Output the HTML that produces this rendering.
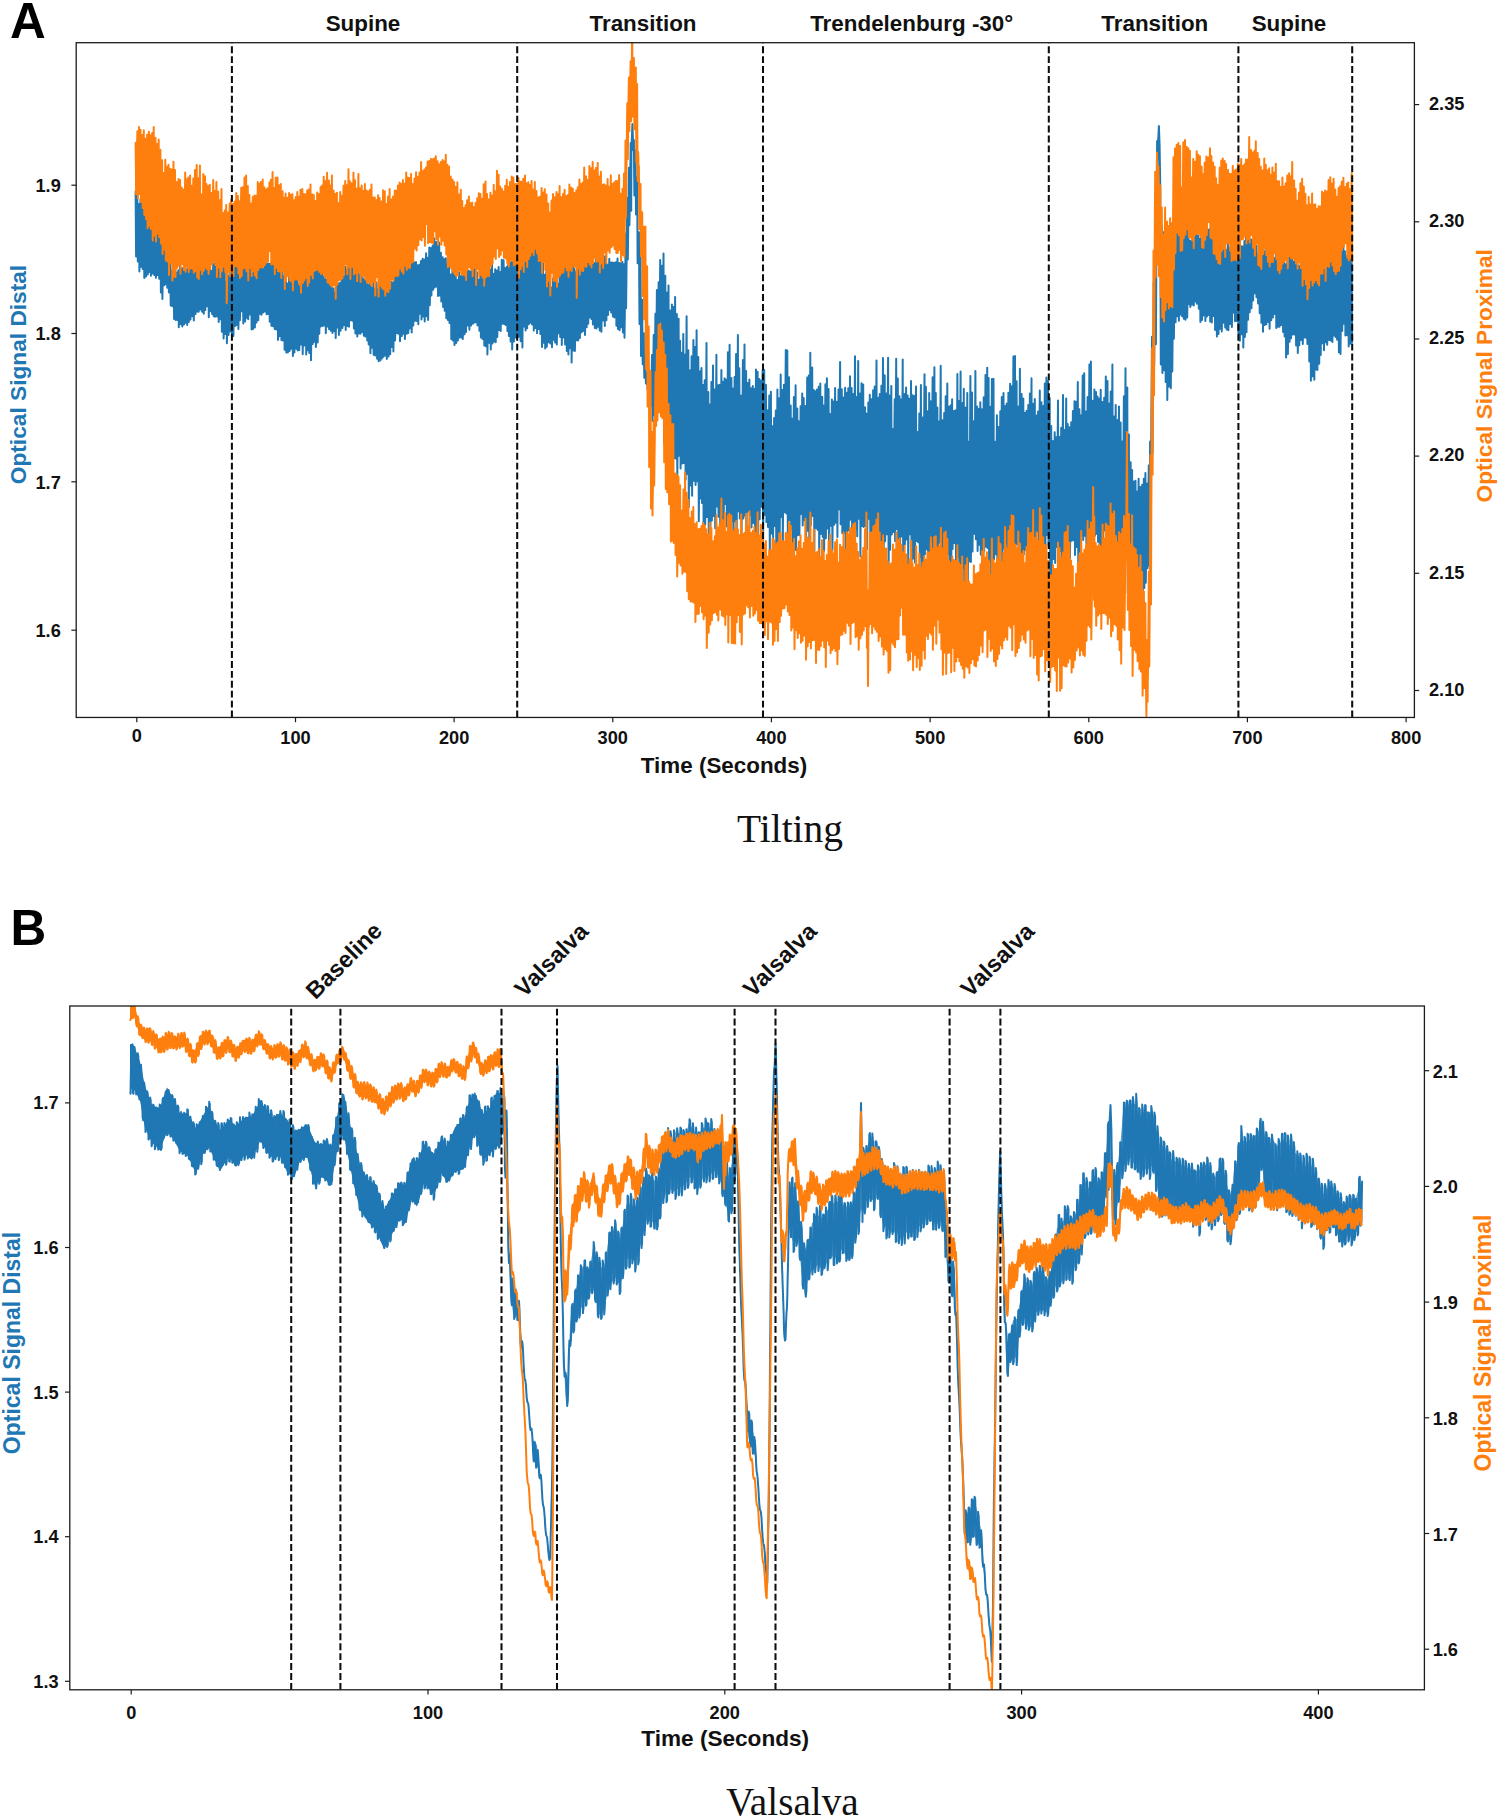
<!DOCTYPE html>
<html lang="en"><head><meta charset="utf-8"><title>Optical signals: Tilting and Valsalva</title>
<style>html,body{margin:0;padding:0;background:#fff}svg{display:block}</style></head>
<body>
<svg width="1500" height="1820" viewBox="0 0 1500 1820">
<defs>
<clipPath id="ca"><rect x="76.2" y="42.7" width="1338.2" height="674.75"/></clipPath>
<clipPath id="cb"><rect x="69.8" y="1006.0" width="1354.6000000000001" height="683.8"/></clipPath>
</defs>
<rect width="1500" height="1820" fill="#fff"/>
<g clip-path="url(#ca)" fill="none" stroke-linejoin="round" stroke-linecap="round">
<path stroke="#1f77b4" stroke-width="2.0" d="M135.6 191.2L136.1 256.4L137.3 194.3L137.8 261.4L138.9 204L139.4 271.4L140.5 199.3L140.7 233.4L141 266.8L141.3 249.3L141.6 232.4L141.9 215.8L142.2 199.8L142.4 234.9L142.7 269.1L142.9 253.6L143.2 238.4L143.5 223.7L143.8 209.7L144 244.5L144.3 278.1L145.5 217.1L146 276.4L147.3 217.7L147.8 274.5L148.8 224L149.3 272L150.4 222.5L150.9 275.7L152.1 223.4L152.6 273.5L153.8 227.1L154.3 275.1L155.4 229L155.9 277.8L157 226.7L157.5 275L158.7 233.8L159.2 278.7L160.4 238.9L160.7 264.3L160.9 292.4L161.1 282.2L161.4 270.8L161.6 257.9L161.9 243.7L162.4 298.9L162.6 285.2L162.9 272.8L163.1 261.8L163.4 252.1L163.6 243.8L164.1 285.2L165.1 246.6L165.6 284.2L166.8 254.2L167.3 287.7L167.6 280.1L167.9 272.7L168.2 265.9L168.4 258.9L168.7 275.3L168.9 292.5L169.2 287L169.5 281.2L169.7 275L170 268.5L170.2 261.5L170.5 283.1L170.7 305.5L171 297.5L171.3 289.1L171.5 280.2L171.8 270.8L172 288.3L172.3 306.3L173.6 267.1L174.1 319.1L175.2 266.9L175.7 320L176.8 272.7L177.3 319.9L178.3 270.2L178.8 327.3L180.1 263.4L180.6 324.3L181.8 268.4L182.3 326.4L183.5 267.4L184 324.5L185 267.7L185.5 322.8L186.7 269.8L187.2 325.1L188.3 267.2L188.8 322L190 269.8L190.5 319.5L191.8 267.4L192.3 316.3L193.3 265.2L193.8 320.5L195 268.9L195.5 314.1L196.7 268.4L197.2 311.5L198.3 268.2L198.7 311.8L199.9 269.8L200.4 309.5L201.6 268.7L202.1 311.7L203.3 268L203.8 313.7L204.8 264.1L205.3 310.1L206.6 260.4L207.1 306.2L208.3 261.5L208.8 317.2L209.7 258.7L210.2 311.3L211.6 270.8L212.1 314.1L213.2 264.3L213.7 316.2L214.7 260.8L215.2 316.8L216.6 265.2L217.1 316.5L218.2 265.5L218.7 322.1L219.7 265.3L220.1 319.3L221.4 268.9L221.9 331.7L223.1 258.3L223.6 338.4L224.7 266.9L225.2 334L225.4 320.3L225.7 308.6L225.9 298.3L226.2 289.5L226.4 282.1L226.7 314.7L226.9 343.3L227.2 329.7L227.4 314.3L227.7 296.3L228 276.1L228.2 303.7L228.5 334.9L229.7 267.1L230.2 331.5L231.4 263.5L231.9 333.4L232.9 266.1L233.4 335.9L234.6 264.7L235.1 326.1L236.2 263.4L236.7 325L237.9 261.5L238.4 329L239.5 264.8L239.9 320.3L241.2 269.5L241.6 311.2L242.8 267.2L243.3 323.4L244.6 265.9L245.1 321.5L246.2 266.3L246.7 317.7L247.7 267.3L248.2 319.3L249.4 264.7L249.9 314.5L251.2 265.4L251.6 329.6L252.6 265L253.1 328.9L254.4 260.3L254.9 327.4L256 264.8L256.5 322.5L257.8 265.1L258.3 320.3L259.4 266.6L259.9 313.7L261 262.6L261.5 314.7L262.6 264.7L263.1 312.6L264.3 263.8L264.8 311.6L266.1 262.4L266.6 314.3L267.6 263.7L268.1 314L269.2 263.7L269.7 321.8L270.9 263.3L271.4 325.7L272.5 263.7L273 326.3L274.2 258.3L274.7 328.9L275.8 261.2L276.3 329.4L277.5 269.8L278 339.9L279.1 268.2L279.6 336.2L280.9 264.9L281.4 339.9L282.5 268.1L283 340.6L284.1 276.1L284.6 349.7L285.8 275.1L286.3 352.5L287.4 283.5L287.9 352.5L289.1 274.9L289.6 351.1L290.7 277.8L291.2 348.8L292.4 276.4L292.9 355.9L293.9 279.5L294.4 352.4L295.7 273.1L296.2 348.8L297.2 279.7L297.7 350.5L298.8 283.8L299.3 350L300.6 275.1L301.1 344.5L302.2 278.5L302.7 354.3L303.9 280.4L304.4 345.6L305.7 278.7L306.2 354.6L307.1 278.5L307.6 350.3L308.8 276.5L309.3 353L310.5 263.6L311 360.2L312.2 261.4L312.7 344L313.8 272.4L314.3 341.7L315.4 258.3L315.9 347L317.2 267.6L317.7 342.4L318.8 269.2L319.3 333.7L320.3 273.5L320.8 326.6L322 272.4L322.5 325.9L323.7 276.8L324.2 325.6L325.3 279.2L325.8 333.2L327 279.7L327.5 326.5L328.6 281.9L329.1 329.3L330.4 285.6L330.9 330.8L332 284.6L332.5 333.1L333.6 288.3L334.1 330.9L335.2 292.6L335.7 337.9L336.9 284.7L337.4 327.4L338.4 283.5L338.9 334.9L340.1 282.8L340.6 330.8L341.9 272.6L342.4 327.9L343.3 275.6L343.8 325.2L345.2 266.8L345.7 330.1L346.7 269.4L347.2 326L348.5 261L349 326.7L350 265.9L350.5 320.2L351.8 259.9L352.3 320.8L353.4 268.5L353.9 328.5L354.9 273.2L355.4 333.6L356.8 266.6L357.3 336.4L358.5 273.2L359 333.6L360 275.2L360.5 333.8L361.6 274.9L362.1 331.9L363.3 278.6L363.8 335.7L364.9 280.1L365.4 336.5L366.7 281.5L367.2 340.5L368.2 284.5L368.7 344.4L369.9 283.2L370.4 353.3L371.5 280L372 347.8L373.1 283.1L373.6 354.7L374.7 288.5L375.2 355.4L376.6 282.6L377.1 358.7L378.1 289.3L378.6 361.3L379.9 285.4L380.4 360.5L381.5 287.4L381.9 358.4L383 287.9L383.5 356.8L384.7 285.6L385.2 355.5L386.4 278.7L386.8 359.1L388.1 289.9L388.5 356.5L389.7 285.7L390.2 354.3L391.3 281.8L391.8 346.9L392.9 282.6L393.4 351.5L394.6 273.3L395.1 340.6L396.4 273.4L396.9 333L397.9 263.2L398.4 333.8L399.5 259.3L400 341.3L401.3 267.8L401.8 335.9L403 265.3L403.5 333.7L404.4 260.7L404.9 339L406.2 265.5L406.7 333.7L407.8 267.8L408.3 333L409.4 268.1L409.8 328.5L411.2 257.7L411.5 294.9L411.7 332.6L412 312.3L412.3 297L412.5 279.4L412.8 262L413.3 325.6L414.5 262.4L415 320.7L416 262.1L416.5 321L417.8 265.2L418.3 324.3L419.4 264.7L419.9 313.8L421 261L421.5 319.6L422.6 258.8L423.1 316.4L424.2 259.6L424.7 321.6L426.1 253.3L426.6 316.3L427.6 257.8L427.9 289.3L428.1 319.9L428.3 304.7L428.6 289.8L428.8 275.4L429.1 261.3L429.3 247.6L429.6 276.9L429.8 305.2L430.1 290.1L430.4 275.6L430.7 261.5L430.9 248L431.2 272.1L431.4 295.4L431.7 282.2L432 269.6L432.3 257.4L432.6 245.8L432.8 268.1L433.1 289.7L434.2 238.5L434.7 287.5L436 241.8L436.2 263.8L436.4 286.5L436.7 276.7L437 266.6L437.3 256.1L437.5 245.4L437.8 270.4L438 296L438.3 283.3L438.6 270.1L438.9 256.6L439.2 242.6L439.4 268.7L439.7 295.4L440 285.2L440.3 274.5L440.6 263.7L440.9 252.7L441.3 301.5L442.6 257.3L443.1 307.1L444.2 259L444.7 310.7L445.8 258.2L446.3 318.2L447.4 264.6L447.9 320L449 264.8L449.5 323L450.8 274.4L451.1 306.7L451.3 339.2L451.6 321.9L451.9 304.4L452.2 286.8L452.5 269L452.7 304.6L453 340.4L453.2 322.5L453.5 304.2L453.8 285.6L454 266.6L454.3 305.5L454.5 345L455.7 268L456.2 343.1L457.4 280L457.9 340.5L459.1 272.3L459.6 337.6L460.7 276.2L461.2 337.5L462.3 271.8L462.8 339L464.1 274.4L464.6 334.2L465.5 272.5L466 332.1L467.3 270.3L467.8 325.5L468.9 270.8L469.4 329.7L470.6 271.4L471.1 325.5L472.4 268.8L472.9 323.8L474 268.1L474.5 322.4L475.4 272.1L475.9 322.3L477 272.2L477.5 325.4L478.9 279.5L479.4 330.8L480.4 275.7L480.9 337.5L482.1 270.9L482.6 339L483.8 277.2L484.3 345.5L485.3 277.7L485.8 346.2L486.9 269.8L487.4 354.4L488.7 276.9L489 309.8L489.2 342.8L489.5 324.6L489.8 306.3L490.1 287.9L490.4 269.5L490.6 309.4L490.8 349.5L491.1 328.2L491.4 306.8L491.7 285.3L492 263.7L492.2 309.5L492.5 343.5L493.7 273.8L494.1 341.4L495.2 269.2L495.7 342.2L496.8 270.5L497.3 336.9L498.6 267L499.1 330L500.2 272.1L500.7 331.1L501.8 259.8L502.3 323.8L503.6 260.3L504.1 323.9L505.2 267.9L505.7 325.1L506.9 266.7L507.4 331.1L507.6 315.2L507.9 298.9L508.2 274.4L508.4 254.9L508.7 295L508.9 335.9L510.1 262.8L510.6 341.6L511.7 259.4L512.2 349.5L513.4 261.9L513.9 341.5L515.1 254.4L515.6 337.4L516.7 257.8L517.2 337.9L518.4 265.7L518.9 336.7L520.1 267.5L520.6 341.3L521.9 265.1L522.4 347.5L523.2 258.2L523.7 326.8L525.1 262.4L525.6 330.6L526.6 254L527.1 328.3L528.3 246.8L528.8 324.3L529.8 249.6L530.3 322.7L531.6 249.2L532.1 324.4L533.3 248.6L533.8 330.5L534.9 246.7L535.4 327.9L536.6 249.7L537.1 333.2L538.2 255.7L538.7 329L539.9 256.1L540.4 334.1L541.5 262.3L542 347.1L543 262.8L543.5 342.8L544.7 274.8L545.2 348.6L546.3 272L546.8 346.7L547.8 279L548.3 342.2L549.7 273.9L550.2 343.4L551.5 287.6L552 347.3L553.1 278.6L553.5 339.8L554.6 275.5L555.1 342.4L556.3 277.8L556.8 344.6L558.1 283.7L558.6 333.2L559.7 273.8L560.2 336.9L561.3 263.1L561.8 345.1L562.9 271.5L563.4 337.6L564.6 268L565.1 344.4L566.3 266.6L566.8 350.9L567.9 266.5L568.4 354.4L569.6 263.3L570.1 348.2L571.1 267.3L571.6 362.4L572.9 260.1L573.4 350.6L574.4 269.1L574.9 351.1L576.2 272.1L576.7 340.2L577.7 269.4L578.2 340.6L578.4 326.1L578.7 311.1L578.9 297L579.2 283.3L579.4 269.9L579.9 338.1L581.1 260.7L581.6 332.2L582.6 260.7L583.1 331L584.5 262.5L585 334.9L586.2 263.8L586.7 327.3L587.7 256.1L588.2 323.8L589.4 258.8L589.9 317.4L591 260.4L591.5 319.1L592.4 259.7L592.9 324.5L594.3 263L594.8 328L595.9 258.8L596.4 328.4L597.6 260.4L598.1 326.8L599.2 258.6L599.7 330.6L600.9 254.4L601.4 331.7L602.5 253.8L603 320.4L604.3 256.4L604.8 326L605.9 256L606.4 320.2L607.5 264.5L608 314.9L609.3 258.8L609.8 310.1L610.8 262.4L611.2 312.6L612.4 262.5L612.9 316.6L614 262.8L614.4 317.5L615.9 262.2L616.4 325.8L617.5 258.4L618 329L619.1 262.9L619.6 330.3L620.8 263.3L621.3 327.3L622.4 262.1L622.9 332.5L624 264.3L624.3 300.6L624.5 337.8L624.8 315.2L625.1 290.9L625.4 262.6L625.6 233.5L625.9 270.9L626.1 308.2L626.4 279.2L626.7 251L627 223.6L627.3 198.1L627.5 230L627.8 259.5L628.1 236.2L628.4 213.2L628.7 190.4L629 167.8L629.2 195.4L629.4 225.2L629.7 208.2L630 191.2L630.2 174.9L630.5 158.8L630.7 143L631 177.2L631.2 210.8L631.4 150L632.4 124L633.4 150L633.6 150.9L633.9 140.1L634.1 168L634.4 195.4L634.7 183.9L634.9 172.4L635.2 161.2L635.5 150.2L635.7 182.4L636 214.4L636.3 204.5L636.6 195.8L636.9 186.4L637.1 177.3L637.4 218.6L637.6 263.2L637.9 261.4L638.2 257.8L638.4 251.9L638.7 242.6L639 232.3L639.2 277.5L639.5 324L639.7 306.8L640 288.8L640.3 271.9L640.5 255.5L640.8 307.9L641 355.9L641.3 338.3L641.6 323.2L641.9 310.4L642.2 299.7L642.4 333.6L642.7 364.2L642.9 353.3L643.2 344L643.5 337.2L643.8 333.3L644 358.1L644.3 377.7L644.5 371.2L644.8 365.9L645.1 361.7L645.4 358.7L645.6 372.1L645.9 383.4L646.1 381L646.3 379.4L646.6 377.6L646.8 375.4L647.1 372.8L647.3 380.8L647.6 389.6L647.8 387.5L648.1 385.2L648.3 382.5L648.6 379.5L648.8 376.2L649.1 387.3L649.3 399.3L649.6 394.5L649.8 389.4L650.1 383.8L650.4 377.7L650.9 405.8L651.2 397.2L651.4 385.9L651.7 371.8L652 355L652.3 386.6L652.5 421.1L652.8 402.1L653.1 381.4L653.4 359L653.7 335L653.9 373.5L654.2 415.3L654.5 393.1L654.8 368.7L655.1 342.3L655.4 313.7L655.6 356.2L655.9 401.5L656.1 375.7L656.4 348.6L656.6 320L656.9 290L657.1 338.1L657.4 388.7L657.6 369.2L657.9 348.9L658.1 327.6L658.4 305.4L658.6 282.3L659.1 399.9L660.2 260.1L660.7 411.9L662 265.7L662.5 408.4L662.8 369.3L663 330.5L663.3 293.1L663.5 253.4L663.8 345.8L664 442.7L664.3 412.8L664.5 381.2L664.8 347.8L665 312.5L665.3 275.7L665.5 366L665.8 456.5L666 423.8L666.3 391.1L666.5 358.2L666.8 325.4L667 292.4L667.3 375.3L667.5 459L667.8 416.2L668 373L668.3 329.5L668.5 285.6L668.8 369.4L669 454L669.3 418.7L669.6 383L669.9 346.9L670.2 310.4L670.6 458.1L671.9 304.5L672.4 494L673.5 306.9L674 458L675.1 297.1L675.6 458.6L676.8 314L677.3 477.3L678.6 318.7L679.1 455.7L680.1 340.7L680.6 468.6L681.7 352.8L682.2 463.6L683.3 333.9L683.8 462.9L685.1 354.5L685.6 479.5L686.6 316.2L687.1 474.1L687.4 439.4L687.7 405.7L688 376.6L688.3 350.3L688.5 431.6L688.8 507.2L690.1 370.3L690.4 425.8L690.6 485.4L691.6 356.3L692.1 495.7L693.4 340L693.9 480.7L695.1 347L695.6 484.9L696.6 330.3L697.1 481.3L698.3 356.9L698.8 521.2L700.1 371.2L700.3 434.8L700.6 498.5L700.8 466.1L701 433.5L701.3 400.8L701.5 368L701.8 435.4L702 503L702.3 473.7L702.6 444.3L702.9 414.7L703.2 385L703.4 461.1L703.6 537.4L703.9 498.4L704.2 459.2L704.5 419.8L704.7 380.3L705 452.4L705.2 524.7L706.5 343.1L707 516.9L707.3 489.4L707.5 462.7L707.8 437.9L708 414.3L708.3 392L708.5 468.5L708.8 541.6L709 510.1L709.3 476.6L709.6 441.4L709.9 404.4L710.1 468.1L710.4 534.5L711.4 382.1L711.9 520.6L713 365.4L713.5 516L714.7 389.5L715.2 528.2L716.4 354.7L716.9 506.5L718 385.2L718.5 516.8L719.7 384.7L720.2 523.7L721.4 369.9L721.9 546.6L723 381.7L723.5 552.7L724.6 378.2L725.1 503.9L726.3 379.8L726.8 526.4L727.9 352.2L728.4 543.7L729.6 344.8L730.1 526.1L731.4 378L731.9 521.2L732.9 388.6L733.4 550.4L734.6 376.9L735 521.3L736.1 354.1L736.6 549.7L737.9 335.1L738.4 511.2L739.3 368.3L739.8 518.4L741 395.4L741.5 539.1L742.9 360.1L743.4 518.4L744.5 344.5L745 515.6L746.1 370.9L746.6 527.2L747.6 383.1L748.1 511.5L749.4 379.6L749.9 515.2L751 388.2L751.5 527.6L752.8 386.1L753.2 523L754.5 389L755 531.9L756 369.4L756.5 543.8L757.6 371.7L758.1 543.5L759.2 378.9L759.7 519.3L760.9 380.6L761.4 506.8L762.6 370.6L763.1 542.2L764.2 370.1L764.6 514.9L764.9 487L765.2 460.1L765.4 434.4L765.7 409.3L765.9 384.8L766.2 454.1L766.4 521.9L766.7 492.9L766.9 464.6L767.2 437.1L767.5 410.3L767.7 469.3L768 526.9L768.2 499.8L768.5 473.6L768.8 448.1L769 423.2L769.3 395.4L769.8 554.5L770.9 391.8L771.4 533.4L771.7 501.5L772 473L772.3 447.7L772.6 426.2L772.8 485.9L773.1 538.4L773.3 513.2L773.6 484.7L773.9 452.9L774.1 417.9L774.4 468.9L774.6 526.1L775.8 410.6L776.3 557.2L777.4 389.4L777.9 554.9L779.1 398.3L779.6 554.9L780.7 374.5L781.2 517L782.3 389.9L782.8 549.9L783.9 384.8L784.4 512.3L785.8 350L786.3 513.6L787.3 350.6L787.8 536.2L789 377.2L789.5 519.9L789.8 495L790 470.3L790.2 446.1L790.5 423.6L790.7 405.4L791 469.9L791.2 529.2L791.5 499.3L791.7 472.2L791.9 448L792.2 418.7L792.4 479.2L792.7 545.5L792.9 518.9L793.1 490L793.4 459L793.6 426.5L793.9 397.1L794.4 548.8L795.6 385.2L796.1 550.2L796.4 506.9L796.7 468.8L797 436L797.3 408.6L797.5 475.9L797.8 535.2L798.1 514.4L798.3 487.6L798.6 456.5L798.9 421.3L799.1 474.3L799.4 535.1L799.6 509.1L799.9 483.7L800.1 458.1L800.4 432.3L800.6 406.3L801.1 513.9L802.2 393.4L802.7 525.4L803.7 398.1L804.2 520.1L805.4 406L805.9 558.6L807.2 377.5L807.7 530.7L808.8 375.6L809.3 538.5L810.3 352.8L810.8 525.5L812.2 367.4L812.7 516L813.8 390.1L814.3 557.3L815.5 391.2L816 528L817 389.4L817.5 529.7L818.7 386.8L819.2 564.6L820.3 383.6L820.8 533.9L821 504.2L821.3 474.6L821.6 447L821.9 421.2L822.2 396.8L822.5 468.4L822.7 537.1L823.6 405.5L823.9 477.1L824.1 551.1L825.4 384.3L825.9 538.2L826.9 378.3L827.4 528.4L828.6 389.1L829.1 566.7L830.1 414L830.6 525.7L831.9 399.6L832.4 551.1L833.6 401.6L834.1 524.7L835.1 387.9L835.6 522.8L836.9 401.8L837.4 536.9L838.5 389.6L839 509.3L840.1 362L840.6 524.2L841.8 389.3L842.3 533.3L843.4 397.4L843.9 532.4L845.1 387.7L845.6 549.9L846.7 392.7L847.2 546.7L848.3 388.2L848.8 530.2L850 376.2L850.5 519.8L851.6 388.1L852.1 537.5L853.2 394L853.7 547.7L855 356.3L855.5 529.7L856.7 397.1L857.2 536.3L858.2 361.1L858.7 518.8L860 393.4L860.4 556.5L861.5 383.2L862 526L863.2 384.5L863.7 527L865 407.3L865.5 526L865.7 495.4L866 466.4L866.2 439.1L866.5 413.5L866.8 483.1L867 549.1L867.3 523.3L867.5 495.7L867.8 466.3L868.1 435.3L868.3 402.6L868.6 458.6L868.8 518.7L869.8 394.7L870.3 531.5L871.5 399.3L872 554.4L873.1 390.2L873.6 530.8L874.7 386.6L875.2 561.7L876.5 360.4L877 572.4L878.1 397.7L878.6 538L879.8 394.1L880.3 566.7L881.4 385.8L881.9 569.2L883 358.1L883.5 579.9L884.7 375.2L885.2 541.3L886.4 393.5L886.8 534.2L888.1 357.7L888.6 569.7L889.6 395.6L890.1 549.8L891.3 386L891.5 461.6L891.8 534.4L892 504.4L892.3 476.8L892.6 451.7L892.8 429.1L893.1 482.9L893.3 532.1L893.6 508.7L893.8 483.6L894.1 456.8L894.4 428.3L894.7 399.2L895.1 541.3L896.2 358.8L896.7 529.1L897.8 378.5L898.2 545.6L899.5 396.2L900 557L901.3 399.5L901.8 536.3L902.7 359.6L903.2 579.9L904.4 393.9L904.9 544.4L906.1 387.6L906.6 539.6L907.7 395.6L908.2 568.9L909.5 398.8L910 534.3L911 381.1L911.5 565.2L912.7 395.3L913.2 558.4L914.4 396L914.9 562.4L916 386.5L916.2 463.5L916.5 541L916.7 514.5L917 490.3L917.2 468.5L917.5 449L917.7 431.9L918.2 542.3L918.5 514L918.8 483.1L919 449.5L919.3 413.4L919.5 481.9L919.8 556.9L920.9 384.9L921.4 576.5L922.5 417.6L923 578.7L924.5 374.2L924.9 554.4L925.9 386.7L926.4 549.2L927.6 411.3L928.1 588.6L929.2 393.1L929.7 558.8L930.9 401.3L931.4 541.7L932.6 377.3L933 552.1L934.4 367.2L934.9 539.3L935.8 393L936.3 590.1L937.4 407.4L937.9 576.5L939.1 421.6L939.6 542.5L940.7 365.7L941.2 566.3L942.5 420.2L943 553.5L944.2 412.9L944.7 544.7L945.7 396.3L946.2 552.6L947.3 383.4L947.8 554.1L949 406.5L949.5 591.9L950.8 405.2L951.3 563.9L952.1 399.2L952.6 549L954 411L954.5 543L955.6 410.2L956.1 592.6L957.4 374.1L957.9 557.3L958.9 401L959.4 586.1L960.6 371.6L961.1 593.2L962.1 402.9L962.6 568.2L963.8 388.7L964.3 588.2L965.7 407.4L966.2 571.6L967.3 392.9L967.5 494.9L967.8 593.8L968 551L968.3 511.4L968.6 475L968.8 441.8L969.1 503.5L969.3 561.2L969.6 520.1L969.9 475.5L970.1 427.5L970.4 376.1L970.7 466.7L970.9 562.1L972 392.5L972.5 551.6L973.8 421.2L974.3 533.8L975.4 370.9L975.9 539.2L977.1 406.5L977.6 550.9L978.7 409.1L979.2 544.8L980.3 402.2L980.8 554.7L982 409.2L982.5 553.8L983.7 397.3L984.2 551.3L985.5 375.1L986 546.8L987.2 367.7L987.6 547.9L988.6 378L989.1 560.9L990.2 406.8L990.7 587.2L991.9 379.1L992.4 572.8L993.5 378.8L994 559.3L994.3 526.1L994.6 495.3L994.9 467.4L995.2 441.8L995.4 500L995.7 554.3L995.9 530.3L996.2 504.6L996.4 476.4L996.7 446.6L996.9 415.3L997.1 489.9L997.4 568.7L998.5 427L999 560.1L1000.3 411.2L1000.7 543.6L1001.8 396.9L1002.3 582.4L1003.5 392.9L1003.8 469.7L1004 548.4L1004.3 514.1L1004.6 479L1004.9 442.9L1005.1 406.1L1005.4 474L1005.6 543.4L1005.9 509.6L1006.2 475L1006.5 439.6L1006.7 403.5L1007 477.2L1007.2 552.4L1007.5 513.2L1007.8 473.1L1008.1 432.6L1008.4 392.7L1008.9 544.7L1010.1 383.7L1010.6 566.2L1011.7 386.2L1012.2 551.6L1013.4 356.5L1013.9 550.3L1015 356L1015.5 550L1016.6 381.3L1017.1 543.7L1018.4 406.5L1018.9 576.5L1019.9 368.8L1020.4 580.6L1021.6 394.1L1021.8 489.5L1022.1 580L1022.4 532.6L1022.7 488.4L1023 447.4L1023.3 398.6L1023.5 474.5L1023.8 554.5L1024 520.8L1024.3 485.4L1024.5 448.5L1024.8 412.8L1025.3 549.8L1026.6 410.7L1027.1 573.6L1028.3 405L1028.8 536L1029.9 393.6L1030.4 574.2L1031.5 378.2L1032 579.1L1033.2 403.7L1033.7 579.3L1034.8 399L1035.3 577.9L1036.5 415.4L1037 531.5L1038.1 411.4L1038.6 549L1039.8 390.4L1040.3 574.8L1041.4 402.3L1041.8 561.6L1043.1 406.1L1043.6 543.4L1044.8 383.6L1045.3 565.6L1046.4 377.5L1046.9 534.9L1048 381.1L1048.5 545.3L1049.7 398L1050.2 581.3L1051.2 426L1051.7 578.6L1053 441L1053.5 559.1L1054.7 432.3L1055.2 563L1056.3 437.2L1056.8 547L1058 400.5L1058.5 554.4L1059.5 436.9L1060 551L1061.2 427.7L1061.7 565.2L1063 395L1063.4 580.5L1064.6 430.1L1065.1 547.4L1066.2 398.6L1066.7 568L1067.7 423.9L1068.2 553L1069.5 427.2L1070 558.3L1071.2 422.3L1071.7 540.7L1072.9 411.1L1073.4 540.2L1074.5 401.2L1075 555L1076 401.8L1076.5 547.1L1077.8 382L1078.3 571.9L1079.4 409.2L1079.9 551.4L1080.8 415.3L1081.3 536.1L1082.7 375.6L1083.2 540.1L1084.2 373.2L1084.7 535.8L1085.9 411.4L1086.4 543.3L1087.6 397.1L1088.1 543.8L1089.4 364.5L1089.9 535.1L1090.9 361.5L1091.4 544.3L1092.6 400.7L1093.1 549.5L1094.4 389.6L1094.9 535.7L1096 391.9L1096.5 533.7L1097.5 396.5L1098 541.8L1099.2 398.7L1099.7 575.8L1100.7 389.7L1101.2 570.5L1102.4 402.1L1102.9 557.4L1104.2 397.7L1104.7 530.6L1105.8 376.4L1106.3 576.2L1107.5 380.9L1108 539.5L1109.2 403.6L1109.7 536.5L1110.7 391.6L1111.2 541.1L1112.4 364.4L1112.9 552.4L1114.1 416.4L1114.6 537.2L1115.7 405L1116.2 536.9L1117.4 420.1L1117.9 545.8L1119 406.5L1119.5 547.5L1119.8 515L1120.1 482.5L1120.4 449.8L1120.6 422.4L1120.9 493.7L1121.1 560.4L1121.4 536.2L1121.6 513.9L1121.8 493.6L1122.1 471.5L1122.3 441.6L1122.6 495.4L1122.8 555.2L1123.1 518.7L1123.3 478.9L1123.6 435.8L1123.9 396.3L1124.4 574.2L1125.5 368.3L1126 555.4L1127.3 387.6L1127.5 492.5L1127.8 592.8L1128.1 549.9L1128.3 509.2L1128.6 470.8L1128.9 434.6L1129.1 513.3L1129.4 588.1L1129.7 554.5L1130 523.1L1130.3 492.2L1130.6 462.2L1130.8 523.8L1131.1 584L1131.3 554.4L1131.6 525.5L1131.8 497.4L1132.1 470L1132.3 520.7L1132.6 570.1L1132.8 552.7L1133.1 535.4L1133.3 517.6L1133.6 499.6L1133.8 481.6L1134.3 602.5L1135.5 480.8L1135.9 605.9L1137.1 491.4L1137.6 595.1L1138.6 478.8L1139.1 604.4L1140.4 486.9L1140.9 590.7L1142.2 484.7L1142.7 600L1143.8 478.7L1144.3 588.1L1145.4 473L1145.8 582.8L1147 483.4L1147.3 526.9L1147.5 568.3L1147.8 550.4L1148 532.6L1148.3 510.2L1148.5 487.8L1148.8 465.4L1149 515.7L1149.3 566.1L1149.5 526.1L1149.8 486.1L1150.1 441.4L1150.4 479.6L1150.6 521.9L1150.9 484.9L1151.2 447.9L1151.4 411.3L1151.7 374.3L1152 336.8L1152.2 394.5L1152.5 453.4L1152.7 420.1L1153 386.3L1153.2 351.3L1153.5 316.5L1153.7 282.1L1153.9 324.2L1154.2 365.4L1154.5 327.5L1154.8 290.1L1155.1 253.8L1155.4 217.9L1155.6 277.6L1155.9 344.3L1156.1 309.2L1156.3 271.1L1156.6 230.1L1156.8 186L1157.1 141.1L1157.3 234.4L1157.4 175L1158.2 140L1158.9 126L1159.6 145L1160.3 190L1160.5 269.7L1160.8 364.5L1161.1 324.6L1161.3 288.4L1161.6 255.9L1161.9 227L1162.2 302.3L1162.4 372.9L1163.6 232.2L1164.1 370.2L1165.2 252.4L1165.7 381.9L1166.8 249.7L1167.3 400.1L1168.6 252.4L1169.1 386.6L1170.3 271.1L1170.8 388.3L1171.1 354L1171.3 319L1171.5 284.9L1171.8 251.7L1172 312.6L1172.3 371.6L1172.6 335.7L1172.9 300.9L1173.2 266.5L1173.4 232.9L1173.7 287.2L1173.9 338.8L1174.2 309.9L1174.5 282.4L1174.8 256.3L1175.1 232.7L1175.6 322.3L1176.9 228.1L1177.4 316.3L1178.4 234.5L1178.9 320.8L1180.2 230.7L1180.7 314.5L1181.6 233.8L1182.1 316.3L1183.3 226L1183.8 318.8L1185 223.9L1185.2 271.8L1185.5 319.8L1185.7 301.8L1186 283.6L1186.2 265.4L1186.5 247.2L1186.7 228.8L1187.2 317.4L1188.4 228.5L1188.9 303.9L1189.8 240.7L1190.3 307L1191.5 240.3L1192 304.7L1193.3 236.5L1193.8 305.6L1194.8 235.2L1195.3 301.6L1196.4 234.8L1196.9 303.8L1197.2 291L1197.5 278.3L1197.7 264.6L1198 250.1L1198.3 235.5L1198.5 271.6L1198.8 308.8L1199.1 292.2L1199.3 275L1199.6 257.2L1199.9 238.8L1200.1 279.7L1200.4 322L1201.5 228.6L1202 319.9L1203.1 235.2L1203.6 315.6L1204.9 238.3L1205.4 321.1L1206.4 225.6L1206.9 316.6L1208.2 229.8L1208.7 315L1208.9 292.9L1209.2 271.1L1209.4 249.8L1209.7 228.9L1209.9 275.6L1210.2 321.5L1210.5 300.6L1210.7 280.2L1211 260.1L1211.3 239.4L1211.8 322.5L1213.1 234.1L1213.6 316.1L1214.6 249.3L1215.1 329.9L1215.4 314.3L1215.6 298.8L1215.9 283.1L1216.2 267.5L1216.4 251.8L1216.7 294L1216.9 336.4L1217.2 316.8L1217.5 297.2L1217.7 277.5L1218 257.7L1218.5 333.9L1219.6 255.4L1219.8 292.4L1220.1 328.7L1220.3 311.3L1220.6 294.2L1220.8 277.5L1221.1 261.2L1221.3 245.2L1221.6 288.9L1221.8 331.5L1222.1 310.5L1222.4 289.6L1222.6 268.9L1222.9 248.4L1223.4 322.8L1224.7 238.4L1225.2 327.4L1226.2 249.7L1226.7 329.5L1227.9 243.8L1228.4 330.2L1229.6 247.9L1230.1 324L1231.4 244.9L1231.9 327L1233 242.5L1233.5 312.5L1234.5 247.8L1235 321.3L1236.2 245.9L1236.7 321L1237.9 247.7L1238.4 333L1239.4 246.8L1239.9 340.8L1241 245.9L1241.5 334.2L1242.8 246.4L1243.3 347.4L1244.4 241.1L1244.9 337.1L1246 236.2L1246.5 332.2L1246.7 307.7L1247 283.3L1247.3 258.9L1247.6 235.1L1247.8 277.9L1248.1 319.7L1249.2 226.9L1249.7 312.3L1251.1 239.5L1251.5 308.3L1252.6 242L1253.1 300.6L1254.3 242.8L1254.8 293.3L1256 245.8L1256.2 271.4L1256.5 297.2L1256.8 286.7L1257.1 276L1257.4 265.1L1257.7 254.1L1257.9 278.6L1258.1 303.4L1258.4 292.2L1258.7 280.7L1259 268.8L1259.2 256.6L1259.5 284.6L1259.7 313.2L1260 303.2L1260.2 292.7L1260.5 281.7L1260.7 270.2L1260.9 258.2L1261.2 289.8L1261.4 322.7L1262.5 255.9L1263 331.8L1263.3 312.6L1263.6 292.7L1263.9 272.4L1264.2 251.6L1264.4 287.9L1264.7 324.9L1265.8 240.9L1266.3 324.3L1267.6 248.4L1268.1 322L1269.1 257L1269.6 328.8L1270.7 256.6L1271.2 320.2L1272.4 250.6L1272.9 317.4L1274.1 258.3L1274.6 313.9L1275.8 254.6L1276.3 328.1L1277.3 248.7L1277.8 326.7L1279 256.4L1279.5 326.8L1280.7 252L1281.2 324.9L1282.6 261.5L1282.8 296.1L1283.1 332L1283.3 315.1L1283.6 297.5L1283.8 279.2L1284.1 260.3L1284.3 297.8L1284.6 336.5L1284.8 319.7L1285.1 301.9L1285.4 283.5L1285.6 264.3L1286.1 357.5L1287.4 260.9L1287.9 353.9L1289.1 257.3L1289.6 341.7L1290.6 254.8L1291.1 338.2L1292.2 256.2L1292.7 334.5L1294 261.8L1294.2 297.8L1294.5 334.6L1294.8 316.4L1295 297.8L1295.3 278.8L1295.6 259.5L1295.8 302.2L1296.1 345.6L1296.4 324.4L1296.7 302.7L1297 280.6L1297.3 258L1297.8 353.1L1298.8 266.1L1299.3 345.2L1300.7 263.7L1301.2 340L1302.3 263.6L1302.8 344L1303.8 274.9L1304.3 337.5L1305.5 267L1306 337.8L1306.9 276.8L1307.4 343.9L1307.7 332.8L1308 321.4L1308.3 311.2L1308.5 299.9L1308.8 287.4L1309.1 323.1L1309.3 361.5L1309.6 343.5L1309.8 323.9L1310.1 302.2L1310.4 279.1L1310.9 380.7L1312.1 278.1L1312.6 376.2L1313.8 265.9L1314.3 379.8L1315.3 270.9L1315.8 369.5L1316.9 276.5L1317.4 370.1L1318.7 267.5L1319.2 363.7L1320.2 270.5L1320.5 313.6L1320.7 355L1321 329L1321.3 304.1L1321.6 280.5L1321.9 258L1322.4 343.2L1323.6 260.8L1324 350.2L1325.2 260L1325.7 342.3L1326.7 262.8L1327.2 344.8L1328.7 264.9L1329.1 339.9L1330.2 256.1L1330.7 340.4L1331.9 261.9L1332.4 342.1L1333.7 249.9L1334.2 335.4L1335.2 260.6L1335.6 336.9L1336.7 255.5L1337.1 339.7L1338.4 256.9L1338.9 352.2L1340 252.4L1340.2 303.6L1340.5 354L1340.7 331.7L1341 309.8L1341.2 288.2L1341.5 266.9L1341.7 245.9L1342 288.8L1342.2 330.9L1342.4 313.4L1342.7 295.7L1342.9 278L1343.2 261.2L1343.4 245.3L1343.9 323.7L1344.9 251.2L1345.4 335.6L1346.7 255.8L1347.2 335.2L1347.5 315.2L1347.7 294.5L1348 273L1348.2 250.9L1348.5 298L1348.7 346.6L1349 330L1349.2 312.7L1349.5 294.9L1349.8 276.5L1350 257.5L1350.5 343.8L1351.6 260.7L1352.1 342.6"/>
<path stroke="#ff7f0e" stroke-width="2.0" d="M135.6 142.8L135.9 167.5L136.1 194.2L136.4 182.7L136.6 170.3L136.9 157.1L137.1 143.8L137.4 131.2L137.9 198.4L139 127.1L139.5 194.1L140.5 129.8L141 202.1L142.2 135.1L142.7 208L143.8 130.3L144.3 215L145.5 138.8L146 218.9L147.1 134.8L147.6 228.3L148.9 131.8L149.4 226.3L150.3 135.2L150.8 229L152.2 133.1L152.7 240.5L153.7 127.1L154.2 235.7L155.5 137.7L156 241.4L157 143.9L157.5 233.5L158.7 139.6L158.9 188.5L159.2 237L159.4 219.1L159.7 201.5L159.9 184L160.1 166.8L160.4 149.7L160.6 196.8L160.9 243.4L161.2 222.2L161.5 201.3L161.8 180.7L162.1 160.2L162.6 254L163.6 173L164.1 249.6L165.3 159.8L165.8 260.5L167 166.7L167.5 261.4L168.5 164.7L169 275.1L170.1 168.7L170.6 263.5L171.9 169.5L172.4 280.5L173.5 161.8L174 276.8L175 169.9L175.5 277.1L176.8 181.9L177.3 267.8L178.5 179L179 265.2L180.1 180.1L180.5 273.7L181.7 187.6L182.2 263.9L183.5 189.6L183.9 269.9L185.2 172.4L185.7 271.7L186.7 179.2L187.2 266.4L188.3 177.4L188.8 271.9L190.1 175.5L190.6 268.5L191.8 185.8L192.3 268.7L193.3 178.6L193.8 272.8L195 170.1L195.5 271L196.7 165L197.2 277.5L198.3 178.3L198.8 279L199.9 165.5L200.4 269.8L201.6 194.5L202.1 274.2L203.3 174L203.8 270.7L205 176.2L205.5 267.4L206.4 184.1L206.9 269.2L208.1 185.9L208.6 273.9L209.8 184.7L210.3 269.3L211.4 192.9L211.9 264.3L213.2 180.1L213.7 261.7L214.8 191L215.3 264.9L216.4 182L216.9 277.1L218.2 191.6L218.7 267.5L219.8 200L220.3 277.3L221.5 189L221.9 271.3L223.1 213.1L223.6 266.7L224.8 210.5L225.3 272.3L225.5 256.8L225.8 241.7L226 224.8L226.2 204.9L226.5 251.4L226.7 303.2L227 289.8L227.3 267.7L227.5 247.5L227.8 229.1L228.1 212.6L228.3 244.2L228.5 271.8L229.7 203.5L230.2 276.2L231.2 199.6L231.6 270.6L233 204.1L233.5 276L234.6 201.5L235.1 266.1L236.3 193.1L236.8 266.4L237.9 196L238.4 273.4L239.5 201.3L240 278.1L241.2 187.8L241.7 275.9L242.8 187.2L243.3 268.4L244.5 177.5L245 267.9L246.1 175.5L246.6 271.3L247.8 185.9L248.3 280.6L249.4 195L249.9 267.9L251.2 203.5L251.7 276L252.8 197L253.3 271.2L254.4 195.4L254.9 275.5L256.1 195.7L256.6 278.2L257.8 181.9L258.3 270.1L259.5 183.7L260 267.2L260.9 182.1L261.4 267.4L262.7 179.5L263.2 267.4L264.3 187.2L264.8 265.1L265.9 189.5L266.4 262.7L267.5 188.3L268 261.7L269.4 182.5L269.8 251L270.8 179.7L271.3 264.6L272.6 172.1L273.1 264.2L274.3 188L274.8 274.2L275.7 177.7L276.2 267.9L277.5 177.4L278 271.2L279 185.3L279.5 271.5L280.8 184.1L281.3 278L282.6 191.2L283.1 271.4L284.3 197.7L284.8 289.1L285.6 193.5L286.1 280.5L287.4 197.8L287.8 276L289.1 192.9L289.6 280.2L290.8 194.8L291.3 281.4L292.4 194.3L292.9 290.4L293.9 200.3L294.4 279.7L295.7 197L296.2 279.6L297.3 192.1L297.8 279.8L298.9 196.7L299.4 284.8L300.5 189.7L301 292.7L302.3 189L302.8 282.9L303.9 194L304.4 280.2L305.5 194.2L306 277.7L307.2 190.4L307.7 285.9L308.7 189.4L309.2 282.6L310.5 184.4L311 274.7L312.2 194.2L312.7 278.5L313.8 195.1L314.3 270.5L315.3 201.1L315.8 270.4L317.2 192.4L317.7 269.5L318.8 194L319.3 272.1L320.6 186.9L321.1 274.1L322.1 185.4L322.6 273L323.7 176.7L324.2 275.5L325.2 181.1L325.7 278L327.1 172.7L327.6 282.4L328.9 180.6L329.4 283.6L330.2 185.5L330.7 285.6L331.9 175.5L332.4 287L333.6 190.6L334.1 285.1L335.2 193.9L335.7 298.8L336.9 192.8L337.4 284.5L338.5 203.3L339 280.2L340.2 192.1L340.7 279.8L341.9 195.8L342.4 278.6L343.5 185.7L344 275.3L345.2 181L345.7 264.2L346.8 184.9L347.3 274.3L348.5 169.2L349 266.9L349.9 181.3L350.4 279L351.6 183.3L352.1 266.7L353.5 172.8L354 274.4L355 180.2L355.5 272.9L356.7 188.4L357.2 281.3L358.4 174.1L358.9 272.1L360.1 188.2L360.6 282L361.7 185.6L362.2 274.7L363.4 190.8L363.9 276.5L364.9 184.1L365.4 279.5L366.5 190.6L367 282.8L368.2 191.6L368.7 282L369.9 189.7L370.4 284.5L371.5 184.6L372 286.3L373.2 197.5L373.6 281.9L374.8 197.5L375.3 295.5L376.5 199.9L377 277.1L378.1 195.2L378.6 296.6L379.6 198L380.1 285.7L381.4 201.5L381.9 287.8L383.1 190.3L383.6 289.4L384.8 191.3L385.3 295.7L386.4 203.9L386.9 291.8L388 196.4L388.5 292L389.6 189.1L390.1 288.5L391.5 199.2L392 279.4L393.1 196.4L393.6 280.5L394.8 190.5L395.3 276.1L396.5 190.7L397 276L397.9 185.6L398.4 275.4L399.6 182.5L400.1 268.4L401.3 183.9L401.8 271.6L402.9 179.9L403.4 273.8L404.6 183.6L405.1 265.4L406.2 172.5L406.7 270L407.9 177.5L408.4 267.5L409.4 178.1L409.9 268.1L411.1 173.9L411.6 262.8L412.7 184L413.2 261.7L414.5 178.6L415 248.4L416.1 172.2L416.6 250.4L417.8 176.7L418.3 245.2L419.5 172.5L420 239.3L421.1 162.1L421.6 240.5L422.7 171.1L423.2 236.9L424.4 169.6L424.9 245.7L426 167.4L426.5 224L427.6 161.6L428.1 243.2L429.3 160.9L429.8 242L431 158.9L431.5 242.8L432.6 159.3L433.1 243.4L434.3 158.4L434.8 231.2L435.8 156.2L436.3 239.2L437.6 161.3L438.1 244.8L439.1 164.3L439.6 236.6L440.8 162L441.3 244.7L442.5 159.9L443 240.7L444.1 161.3L444.6 245.6L445.8 154.8L446.3 254.6L447.4 164.7L447.9 267.3L449 166.4L449.5 265.8L449.8 243.2L450.1 220.6L450.4 198.3L450.7 176.4L450.9 222.6L451.2 268.4L451.4 250.3L451.7 232.3L452 214.6L452.2 197L452.5 179.6L452.8 225.9L453 271.8L453.3 249L453.5 226.5L453.8 204.1L454.1 182L454.3 228.2L454.5 273.9L455.6 186.7L456.1 276.1L457.4 182.2L457.8 275.6L458.9 194.6L459.4 270.6L460.8 189.8L461.3 274L462.2 201L462.7 275.1L464 208.1L464.5 275.3L465.6 205.3L466.1 280.1L467.1 200.3L467.6 269.8L468.9 196.4L469.4 267.3L470.6 203.3L471.1 269.4L472.2 202.4L472.7 276.3L473.9 207.1L474.4 267.7L475.6 202.7L476.1 285.1L477.2 198.3L477.7 268.7L478.8 193.2L479.3 276.7L480.4 194.1L480.9 274.8L482.2 198.7L482.6 277.6L483.7 184.3L484.2 285.7L485.5 181.5L486 277.3L487 194.1L487.5 275.7L488.6 199.3L489.1 276L490.4 192.8L490.9 266.5L492.1 195.7L492.6 263.6L493.7 184.7L494.2 256.5L495.3 191.3L495.8 259.1L496 242.9L496.3 226.9L496.5 210.1L496.8 191.1L497 170.8L497.3 207.7L497.5 248.3L498.6 174.7L498.8 217.4L499.1 256.9L499.4 238.8L499.6 222.2L499.9 204.5L500.2 186.6L500.7 254.7L501.9 189.1L502.4 250.4L503.4 191.6L503.9 257.7L505.2 185.7L505.7 258.5L506.8 179.7L507.3 263.6L508.4 186.7L508.9 266.5L510 182L510.5 260.8L511.7 176.4L512.2 261L513.4 177.5L513.9 265.4L515.2 183.9L515.7 264.4L516.9 183.9L517.4 266.6L518.4 177.8L518.9 277.8L520.1 181.5L520.6 269.3L521.7 181.8L522.2 265.7L523.2 178.7L523.7 271.9L525 175.4L525.5 260.6L526.7 183.3L527.2 266.9L528.3 182.3L528.8 259L530 184.7L530.5 255.7L531.6 181L532.1 251.9L533.2 189.5L533.7 254.9L534.8 182L535.3 249.1L536.5 191L537 253.3L538.2 197.5L538.7 261.1L539.8 196.8L540.3 260.7L541.6 187.9L542.1 273.1L542.3 259.8L542.6 245.4L542.8 229.3L543 211.6L543.3 192.5L543.5 225.7L543.8 262.1L544 240.9L544.3 222.1L544.5 204.9L544.8 189.2L545 231.1L545.3 269.9L545.5 255.1L545.8 240.5L546 225.3L546.3 210L546.5 194.5L547 286.4L548.2 203.5L548.7 280.7L549.8 212.5L550.3 295.6L551.5 200.6L552 272.7L553 194L553.5 280.8L554.8 197.3L555.3 280.9L556.5 192.1L557 286.7L558.1 193.9L558.6 277.2L559.6 186.1L560.1 275.4L561.4 197L561.8 273.1L563.1 193.9L563.5 272.6L564.6 189.8L565.1 266.9L566.2 196.1L566.7 270.5L568 195.1L568.5 276.8L569.4 184.6L569.9 270L571.2 187.8L571.7 271.1L572.8 188.7L573.3 265.8L574.4 192.9L574.9 266.8L575.2 251.5L575.4 236.6L575.7 223.2L576 207.7L576.3 190.2L576.5 241.5L576.7 297.8L577 274.2L577.3 242.8L577.6 213.8L577.8 187.2L578.1 229.7L578.3 268.2L578.6 242.7L578.8 221.6L579.1 200.6L579.4 179.4L579.8 274.8L581.1 184.1L581.6 270.4L582.7 182.7L583.2 271L584.2 167.4L584.7 266.5L586 176.2L586.5 266.7L587.7 179.7L588.2 261.9L589.4 166L589.9 264.4L591 168.3L591.5 267.2L592.7 162.1L593.1 263.1L594.3 170.4L594.8 257.8L595.9 168L596.4 261.9L597.7 162.9L598.2 261L599.3 176.4L599.8 272.5L600.9 171.7L601.4 263.6L602.6 184.7L603.1 268.1L604.1 184.2L604.6 252.4L605.8 185.6L606.3 263.6L607.6 179.1L608.1 250.4L609.2 186.7L609.7 252.8L610.8 175.3L611.3 247.2L612.5 183.9L613 245.4L614.1 182.6L614.6 249L615.8 181L616.3 252.9L617.3 180.9L617.8 252.9L619.1 174.9L619.6 250.1L620.6 193.7L621.1 261.3L622.5 188.7L622.7 221.1L623 255L623.2 235.8L623.5 215.8L623.7 195.1L624 173.6L624.2 214.6L624.5 257.2L624.7 230.1L625 201.2L625.3 171.3L625.5 140.4L625.8 179.8L626 217.3L626.3 191.8L626.5 167.3L626.8 145.1L627 123.8L627.3 103.2L627.5 132.1L627.8 159.2L628.1 137L628.3 115L628.6 95.3L628.9 77.5L629.2 105.9L629.4 131.3L629.7 111.4L630 95L630.3 79.2L630.6 61.3L630.9 89L631.1 121.3L631.4 99.7L631.6 77.3L631.9 54.1L632.2 30.2L632.7 116.5L632.9 103L633.2 89.7L633.4 76.8L633.7 66.7L633.9 57.9L634.2 95.2L634.4 129.2L634.7 118.1L635 106.3L635.3 94.7L635.6 81.8L635.8 67.6L636.1 113.4L636.3 162.4L636.6 138.1L636.8 111.9L637.1 84.1L637.3 128.8L637.6 180.9L637.8 168.7L638.1 151.8L638.4 157.9L638.6 173.2L638.9 166.1L639.1 197.1L639.4 229L639.6 218.6L639.9 207.7L640.2 196.2L640.5 184L640.7 219.4L641 256.2L641.3 246.8L641.6 236.9L641.9 225.2L642.2 212.2L642.4 252.9L642.7 296L642.9 280.1L643.2 263.6L643.4 245.6L643.7 226.8L643.9 272.2L644.1 319.2L644.4 304.4L644.6 287.5L644.9 269L645.1 248.6L645.4 226.5L645.6 295.3L645.9 369L646.1 349.7L646.4 328.6L646.6 305.6L646.9 280.9L647.1 266.3L647.4 339L647.6 406.4L647.9 386.9L648.2 367L648.5 346.6L648.7 326.5L649 396.7L649.2 467L649.5 447.8L649.8 428.6L650 409.2L650.3 389.2L650.5 371.1L650.8 442.7L651 508.5L651.3 487.4L651.5 469.4L651.8 450.4L652 432L652.2 474.4L652.5 515.6L652.7 499.1L653 483.2L653.2 462L653.5 440.7L653.7 419.9L654 455.4L654.2 485.6L654.5 461.7L654.8 437.7L655 413.9L655.3 390.3L655.6 372L655.8 398.4L656.1 425.9L656.4 401.4L656.7 376.1L656.9 349.9L657.2 384.1L657.4 420.5L657.7 398.5L658 375.2L658.3 350.7L658.6 325L659.1 412.2L660.3 323.6L660.5 370.1L660.8 416.3L661.1 394.1L661.4 372.4L661.7 351.2L661.9 330.5L662.2 374.8L662.4 418.2L662.7 402.1L662.9 386.3L663.2 374.7L663.4 360.8L663.7 342.5L663.9 400.8L664.2 462.2L664.4 435.4L664.7 408.6L665 381.7L665.3 354.8L665.5 423L665.8 489L666 456.4L666.3 425.4L666.6 396.1L666.8 368.4L667.1 431.1L667.3 492.3L667.6 475.8L667.8 459.6L668.1 441.9L668.3 423.3L668.6 404L668.8 453.3L669.1 504.3L669.3 488.1L669.6 471.1L669.9 453.3L670.1 434.6L670.4 415.3L670.7 477.6L670.9 541.4L671.2 513.2L671.4 484.3L671.7 454.6L672 424.2L672.2 481.8L672.4 540.7L672.7 500.7L673 461.9L673.3 424L673.5 484L673.8 542.9L674 523.3L674.3 503.6L674.6 488.8L674.9 479.2L675.1 473.5L675.4 515.3L675.6 555L676.7 474.4L677.2 576.5L678.5 476.8L679 562.8L680.1 485.3L680.3 525.9L680.6 565.5L680.8 552.5L681.1 540.9L681.4 530.7L681.6 521.7L681.9 510.4L682.2 540.2L682.4 573.7L682.7 555.2L682.9 534.9L683.2 512.6L683.5 489.6L684 571.4L685.1 472.4L685.6 571.9L685.9 551.1L686.2 531.1L686.4 511.7L686.7 492.8L687 542.5L687.2 591.2L687.5 567.4L687.8 544.3L688.1 521.8L688.3 500L688.6 550L688.8 598.9L689.1 578.9L689.4 558.6L689.7 538.2L690 517.9L690.5 601.5L691.8 511.4L692.3 601.8L693.3 507.1L693.8 602.6L694.9 524.1L695.4 621.9L696.7 522.2L697.2 614L698.3 529.2L698.8 613.8L699.9 528.8L700.4 605.8L701.5 526.1L702 612.3L703.2 523.1L703.6 619.2L704.8 525.2L705 570.7L705.3 615.5L705.5 593.3L705.8 571.5L706 550.1L706.3 529.2L706.5 589.1L706.8 647.9L707.1 624.1L707.4 600.8L707.6 578.1L707.9 556L708.2 534.3L708.7 632.8L709.8 522.7L710.3 624.4L711.4 528.3L711.9 620.3L713.2 541.2L713.7 612.9L714.8 536.2L715.3 612.1L716.4 515.3L716.9 614.7L717.8 527.5L718.3 620.5L719.7 524.1L720.2 609.4L721.4 498.5L721.9 615.5L723.1 520.3L723.6 616.4L724.8 512.7L725.3 624.9L726.4 532.2L726.9 614.3L727.9 515.5L728.3 642.5L729.4 513.7L729.9 615L731.3 515.4L731.8 643L732.9 531.2L733.4 643.3L734.6 528.6L735.1 643.4L736.2 521L736.7 622.2L737.9 529.3L738.4 615.1L739.4 534.9L739.9 631.9L741.2 514.2L741.7 644.5L742.8 534.1L743.3 614.5L744.5 533L745 613.4L746.1 513.8L746.6 605.2L747.7 525.7L748.2 607.3L749.4 511.2L749.9 617.6L751 533L751.5 606.1L752.8 530.7L753.3 615.7L754.4 526.6L754.9 613.4L756 533.2L756.4 609.7L757.6 512.2L758.1 620.7L759.4 535.5L759.9 623.3L760.9 524.8L761.4 623.3L762.7 531.4L763.2 624.5L764.3 544.2L764.8 635L765.9 541L766.3 621.3L766.6 602.5L766.9 585.4L767.2 570.1L767.5 556.5L767.7 599.6L768 639.2L768.2 624.3L768.5 608L768.7 590.3L769 571.1L769.2 550.4L769.5 584.3L769.7 621.4L770.9 550.2L771.4 622.4L772.6 538.2L773 644.7L774 540.2L774.5 640.9L775.8 544.2L776.2 629.1L777.4 542.4L777.9 641L779.2 533.4L779.7 621.9L780.6 532.5L781.1 615.7L782.4 541L782.9 608.5L784 541.7L784.5 608.2L785.7 533L786.2 604.4L787.3 533.6L787.6 572.5L787.8 611.4L788 593.6L788.3 575.7L788.5 557.8L788.8 539.9L789 521.9L789.3 568.3L789.5 614.9L789.8 597.2L790 579.4L790.3 561.6L790.5 543.7L790.8 525.8L791 578.1L791.3 630.5L791.5 608.8L791.8 587L792.1 565.2L792.3 543.3L792.6 585.3L792.8 627.4L793.1 605.4L793.4 583.4L793.7 561.3L794 539.1L794.2 594.1L794.5 649.3L795.6 556.3L796.1 630.3L797.2 548.6L797.7 638L798.9 541.4L799.4 633.3L800.5 535.2L801 642.7L802.1 548.8L802.6 640.8L803.8 543L804.3 635.6L805.5 518.8L806 659.8L807.2 537.6L807.7 646.6L808.8 539.1L809.3 642.1L810.4 512.4L810.9 648.5L812.2 543.1L812.7 640.2L813.8 529.6L814.3 639.8L815.5 552.7L816 662.9L817.1 552.1L817.6 649.5L818.7 548.8L819.2 650L820.3 557.1L820.8 646.2L822 540L822.5 640.6L823.7 551.1L824.2 647.2L825.3 561L825.8 667L826.8 554.9L827.3 640.6L828.6 541.2L829.1 644.9L830.1 534.8L830.6 653.2L831.9 549.6L832.4 650L833.5 553.2L833.9 647.9L835.1 542.2L835.6 651L836.9 539.5L837.4 664.3L838.5 562.8L839 649L840 544.8L840.5 635.3L841.9 547.1L842.4 634.4L843.6 532.6L844.1 630.8L845 550.1L845.5 633L846.9 532.2L847.4 622.8L848.3 534.6L848.8 625.7L850 528.1L850.5 644L851.7 528.4L852.2 623L853.2 524.2L853.7 622.1L855.1 522.9L855.6 637.2L856.7 543.6L857.2 635.9L858.2 552.1L858.7 649.7L859.9 560.1L860.4 638.2L861.5 556.2L862 634.8L863.2 547.9L863.7 630.4L865 529.2L865.5 626.3L866.4 512.4L866.7 577.5L866.9 648.1L867.2 631.3L867.3 600L868 686L868.7 590L868.9 627L869.1 601L869.4 576.5L869.6 553.6L869.9 532.9L870.4 624L871.6 532.5L872.1 633.2L873.3 526.6L873.8 626.4L874.8 525.3L875.3 629.5L876.4 519.5L876.9 631.8L877.1 607.9L877.4 584.2L877.6 560.5L877.9 536.8L878.1 513.2L878.4 577.2L878.6 641.1L878.9 613.9L879.2 586.7L879.4 559.6L879.7 532.5L880 584.5L880.2 636.5L880.5 612.8L880.8 589.2L881.1 565.6L881.4 542.1L881.6 594.3L881.9 646.5L882.1 624L882.4 601.6L882.6 579.4L882.9 557.2L883.1 535.2L883.4 595L883.6 654.6L884.8 548.5L885.3 649.1L886.4 548.6L886.9 650.8L888 561.6L888.5 672.8L889.7 565.6L890.2 670.3L891.1 563.6L891.6 642.6L892.9 544.6L893.4 644.7L894.5 549.8L895 647.3L895.3 623.6L895.6 600.3L895.9 577.4L896.2 554.7L896.4 532.5L896.7 586.3L896.9 639.4L897.2 613.7L897.5 588.7L897.7 564.1L898 540.2L898.2 590.2L898.5 638.9L898.7 612.8L899 587.4L899.3 562.6L899.6 538.5L899.8 577.6L900.1 615.6L901.2 544.7L901.7 607.8L901.9 592.6L902.2 579.3L902.4 566.3L902.6 552.6L902.9 592.8L903.1 634.7L903.4 618.7L903.7 601.8L904 584L904.3 565.4L904.6 545.8L904.8 589.5L905.1 634.8L905.3 620L905.5 604.5L905.8 588.5L906 571.9L906.3 554.6L906.5 602.8L906.8 652.5L907 631.6L907.3 610L907.5 587.8L907.7 564.8L908 613.2L908.2 660.7L909.5 559.4L910 659.5L911.2 540.8L911.7 651.3L912.6 563.8L913.1 670.2L914.5 567.8L915 654.7L916.2 546.3L916.7 667.1L917.7 565L918.2 658.3L919.3 553.6L919.8 670.1L921.1 567.7L921.6 665.8L922.5 562.5L922.8 606.5L923 650.3L923.3 631.4L923.5 612.5L923.8 593.8L924 575L924.3 556.4L924.6 607.7L924.8 658.8L925 638.9L925.3 619L925.5 599.2L925.8 579.5L926 559.8L926.3 597.8L926.5 635.7L926.8 614.6L927 593.7L927.3 572.8L927.5 552.1L927.7 595.7L928 639.1L928.3 621.6L928.5 604.2L928.8 586.9L929.1 569.7L929.3 552.6L929.6 592.7L929.8 632.6L930.9 537.2L931.4 634.4L932.4 548.7L932.9 649.8L934.2 537.1L934.7 625.4L935.8 536.3L936.3 643.8L937.5 547.4L938 619.5L938.3 602L938.5 583.9L938.8 565.1L939.1 545.7L939.3 588.6L939.5 632.6L939.8 613L940.1 592.7L940.4 571.7L940.6 550.1L940.9 527.8L941.1 587.8L941.4 649.3L941.6 625.1L941.9 600.2L942.1 574.7L942.4 548.6L942.6 611L942.9 674.8L943.1 647.7L943.4 619.9L943.6 591.6L943.9 562.5L944.1 532.9L944.6 652.5L945.7 531.5L946.2 673.9L947.4 538.8L947.9 652.9L949.1 560.5L949.6 652.4L950.7 562.9L951.2 672.2L952.3 556.6L952.8 647.8L953.9 560.1L954.4 671L955.7 561L956.2 661.4L957.4 545.3L957.9 656.9L958.9 562.9L959.2 612.1L959.4 661.3L960.6 564.9L961.1 665.1L962.2 556.6L962.7 668.8L963.8 582.1L964.3 677.7L965.5 565.2L966 666.3L967.2 558.2L967.7 667.5L968.9 581.6L969.4 673.1L970.4 584.3L970.9 663.3L972.2 584.4L972.7 659.2L973.9 565.4L974.4 665.4L975.5 574.3L976 666.6L977.2 573.2L977.7 660.4L978.7 572.5L979.2 655.1L980.4 564.2L980.9 645.6L982.1 551.2L982.6 652.2L983.7 538.9L984.2 630.3L985.4 557.5L985.9 629.6L986.9 552.2L987.4 656.9L988.8 560.6L989.3 638.8L990.2 575.2L990.7 651.1L991.9 538.4L992.4 648.4L993.5 560.1L994 661.6L995.3 563.2L995.8 665.9L997 558.9L997.5 659L998.6 537.1L999.1 653.7L1000.3 543.7L1000.8 645L1001.7 562.1L1002.2 648.4L1002.5 629.4L1002.7 610.3L1002.9 591.2L1003.2 572.1L1003.4 552.9L1003.7 596.5L1003.9 640.3L1004.2 612L1004.5 583.8L1004.8 555.4L1005.1 526.9L1005.4 581.9L1005.6 636.9L1005.9 614.9L1006.2 592.7L1006.4 570.5L1006.7 548.3L1007 593.9L1007.2 639.7L1007.5 617.7L1007.7 595.8L1008 573.8L1008.3 552.3L1008.5 531L1009 625.8L1010.1 526.3L1010.6 627.8L1011.7 515.3L1012.2 650.3L1013.4 516.1L1013.9 624.3L1015 544.4L1015.5 656L1016.6 548.4L1017.1 652.3L1018.3 531.5L1018.8 648L1020 543.6L1020.5 641L1021.7 554.1L1022.2 634.6L1023.3 550.9L1023.8 639.4L1025 563.3L1025.5 642.8L1026.5 546.9L1027 630.4L1028.2 527.9L1028.5 577.8L1028.7 629.5L1028.9 611.7L1029.2 593.2L1029.4 574L1029.7 554.2L1029.9 533.6L1030.4 656.3L1031.4 532.8L1031.9 639.1L1033.2 509.9L1033.7 658.1L1034.9 537.8L1035.4 655.1L1036.6 532.2L1037.1 674.6L1038.2 541.5L1038.7 680.4L1039.8 508.2L1040.3 656.4L1041.4 515.5L1041.9 655.7L1043.2 537.2L1043.7 649.1L1044.7 544.7L1045 608.4L1045.2 671.2L1045.5 645.2L1045.7 619.6L1045.9 594.5L1046.2 569.8L1046.4 545.5L1046.7 603.3L1046.9 660.2L1047.2 639.7L1047.4 619.5L1047.7 599.7L1047.9 580.2L1048.2 561.1L1048.4 611.5L1048.7 661.1L1048.9 638.9L1049.2 617.1L1049.4 595.8L1049.7 574.9L1049.9 628.9L1050.2 681.9L1051.3 575.5L1051.8 666.9L1053 565.1L1053.2 614.8L1053.5 666.1L1053.7 647.7L1054 628.7L1054.2 609.3L1054.5 589.4L1054.7 569L1054.9 619L1055.2 670.5L1055.5 646.1L1055.8 621.1L1056.1 595.3L1056.3 568.9L1056.6 629.2L1056.8 691L1057.1 655.3L1057.4 618.7L1057.7 581L1058 542.4L1058.5 657.6L1059.6 548.1L1060.1 690.7L1061.1 557.4L1061.6 688.3L1062.8 552.4L1063.3 665.3L1064.6 532.8L1065.1 666.2L1066.1 531.7L1066.6 666.4L1067.7 526L1068.2 662.6L1069.4 542.6L1069.9 658.4L1071.1 560.6L1071.6 672.5L1072.8 566.2L1073.3 667.4L1074.4 587.6L1074.9 659.9L1075.1 643L1075.4 625.8L1075.6 608.5L1075.9 591.1L1076.1 573.7L1076.4 612.1L1076.6 650.6L1076.9 633.1L1077.1 615.7L1077.4 598.1L1077.6 580.5L1077.9 562.9L1078.1 605L1078.4 647.4L1078.6 624.3L1078.9 601.1L1079.1 577.9L1079.4 554.6L1079.6 605L1079.9 655.6L1080.1 630.8L1080.4 606L1080.6 581.1L1080.9 556.1L1081.2 531L1081.4 590.6L1081.7 650.5L1082.7 553.4L1083.2 654.8L1084.3 549.7L1084.8 656L1086 544.9L1086.5 640.7L1087.6 521.1L1088.1 625.2L1089.4 529.5L1089.9 626.9L1090.9 522.6L1091.3 639.6L1091.6 618.8L1091.9 596.2L1092.2 571.7L1092.4 560L1093.2 487L1094 600L1094 533.8L1094.3 516.6L1094.5 565.2L1094.8 606.5L1095.7 543.1L1096.2 625.8L1097.6 546.2L1098.1 615.5L1099.3 544.6L1099.8 613.4L1100.8 546.6L1101.3 628.9L1102.6 524.6L1103.1 613.1L1104 538.8L1104.5 613.3L1105.8 523.4L1106.3 614.7L1106.6 594.6L1106.8 572.9L1107.1 549.9L1107.3 525.5L1107.6 573.2L1107.8 624L1108.1 602.2L1108.3 582.1L1108.6 562.7L1108.9 544.3L1109.1 526.6L1109.4 572.9L1109.6 617.4L1110.6 503.6L1111.1 636.3L1112.2 513.9L1112.7 630.8L1114.1 511.3L1114.6 624.2L1115.9 535.9L1116.4 625.9L1117.3 542.6L1117.8 639.6L1119.1 532.2L1119.6 650.2L1120.7 533.9L1120.9 599.5L1121.2 663.7L1121.4 628.8L1121.7 594.8L1122 561.5L1122.3 529.1L1122.5 578.9L1122.8 627.5L1123 604.1L1123.3 581.3L1123.5 559L1123.8 537.2L1124 516L1124.2 573.7L1124.5 629.9L1124.7 609.8L1125 590.2L1125.2 571.1L1125.5 549.2L1125.7 519.1L1126 560.5L1126.2 530L1127 432L1127.8 610L1127.9 579.5L1128.2 561.9L1128.4 548.3L1128.7 534.7L1128.9 513.9L1129.2 571L1129.4 630L1129.7 609.9L1130 589L1130.3 567.2L1130.6 544.6L1130.8 594.5L1131.1 645.9L1131.3 614.7L1131.6 582.5L1131.8 549.3L1132.1 515.3L1132.3 594.6L1132.6 676L1134 547.6L1134.5 649.8L1135.7 549.2L1136.2 652.6L1137.1 554.9L1137.6 661.2L1137.8 641L1138.1 622L1138.4 603.8L1138.7 585.8L1138.9 567.7L1139.2 618.4L1139.4 669.1L1139.7 641L1139.9 612.8L1140.2 584.2L1140.5 555.3L1140.7 613.1L1140.9 671.4L1141.2 647L1141.5 622.3L1141.8 597.3L1142.1 572.1L1142.3 633.6L1142.6 695.7L1142.8 675.3L1143.1 654.6L1143.4 633.6L1143.6 612.5L1143.9 591.4L1144.1 639.7L1144.4 688L1144.6 666.2L1144.9 644.4L1145.2 623.2L1145.4 603L1145.6 650L1146.4 716L1147.2 640L1147.3 655.3L1147.6 701.7L1147.8 683.8L1148.1 663.9L1148.3 636L1148.6 605.3L1148.8 571.8L1149.1 615.9L1149.3 666.4L1149.6 622.3L1149.9 568.8L1150.2 513.1L1150.5 455.2L1150.7 527.6L1151 604.6L1151.2 540.8L1151.5 476.7L1151.8 412.5L1152.1 348.3L1152.3 411.6L1152.6 474.8L1152.8 418.8L1153.1 362.7L1153.3 306.7L1153.5 250.7L1153.8 323.6L1154 395.5L1154.3 326.7L1154.6 265.2L1154.9 211L1155.2 171.8L1155.4 226.3L1155.7 277.2L1155.9 248.6L1156.2 221.8L1156.5 196.8L1156.8 173.6L1157 152.4L1157.3 207L1157.5 264.2L1157.8 241.7L1158 217.9L1158.3 193L1158.5 166.8L1158.8 220.4L1159 276.3L1159.3 258.6L1159.5 240.1L1159.8 220.7L1160 200.8L1160.3 185.2L1160.5 242.8L1160.8 297L1161 271.4L1161.3 248L1161.5 226.7L1161.8 207.6L1162.1 265.8L1162.3 317.6L1163.5 234.4L1163.8 276.9L1164 321.6L1164.3 295.2L1164.6 267.4L1164.8 238.2L1165.1 207.6L1165.3 257.7L1165.6 310.2L1167 221.5L1167.5 302.3L1168.4 225.9L1168.9 308.6L1170.1 218.2L1170.4 261.2L1170.6 306L1170.9 286.5L1171.2 266.1L1171.5 244.9L1171.8 222.9L1172 266.4L1172.3 307.2L1172.5 279L1172.8 250L1173 220L1173.3 189.1L1173.5 157.3L1173.8 212.1L1174 269.5L1174.3 238.1L1174.5 207.4L1174.7 177.6L1175 148.6L1175.2 201.7L1175.5 253L1175.7 230L1176 207.7L1176.2 186.1L1176.5 165.1L1176.7 144.8L1177 189.4L1177.2 232.5L1178.4 142.9L1178.6 188L1178.9 235.2L1179.1 219L1179.4 202L1179.6 184.1L1179.9 165.5L1180.1 146L1180.3 197.2L1180.6 250.9L1180.9 231.2L1181.2 212.9L1181.5 197.9L1181.7 187.5L1182.2 250.3L1182.5 228.6L1182.8 203.3L1183 174.6L1183.3 142.3L1183.6 186.7L1183.8 238.3L1185 140L1185.5 234.5L1186.6 146.8L1187.1 229.2L1187.4 213.7L1187.6 197.6L1187.8 181L1188.1 164.3L1188.3 148.2L1188.6 192.6L1188.8 237.1L1189.1 215.5L1189.4 193.9L1189.7 172.4L1189.9 150.8L1190.2 194.9L1190.4 237.4L1190.7 221.2L1191 205.9L1191.3 191.2L1191.5 177.4L1192 240.2L1192.3 224.4L1192.5 208.4L1192.8 192.1L1193 175.6L1193.2 158.9L1193.5 203.2L1193.7 248.3L1194 227.2L1194.3 205.8L1194.6 183.9L1194.9 161.7L1195.2 198L1195.4 234.8L1195.7 218.6L1195.9 202.1L1196.2 185.4L1196.5 168.4L1196.7 151.3L1197.2 233.6L1198.2 154.8L1198.4 194.4L1198.7 233.8L1198.9 218.2L1199.1 202.6L1199.4 187.1L1199.6 171.7L1199.9 156.2L1200.1 196.5L1200.4 236.6L1200.6 222.5L1200.9 208.4L1201.1 194.4L1201.4 180.4L1201.6 166.5L1201.9 206.9L1202.1 247.2L1202.4 222.7L1202.7 198.3L1203 174.1L1203.5 248L1204.7 162.4L1204.9 201.3L1205.2 239.7L1205.4 222.6L1205.6 205.7L1205.9 189.1L1206.1 172.7L1206.4 156.6L1206.6 196.2L1206.8 235.1L1207.1 219.1L1207.3 203.3L1207.6 187.7L1207.8 172.4L1208.1 157.4L1208.3 190L1208.6 222L1210 148.3L1210.2 192.2L1210.4 237L1210.7 217.2L1210.9 197.1L1211.2 176.7L1211.4 156.1L1211.7 197.1L1211.9 238.5L1212.2 223.7L1212.4 208.7L1212.7 193.5L1212.9 178.1L1213.1 162.5L1213.4 208.1L1213.6 253.4L1213.9 231.6L1214.2 209.9L1214.4 188.3L1214.7 166.8L1214.9 210.6L1215.2 254.2L1215.4 235.1L1215.7 216.1L1215.9 197.1L1216.1 178.3L1216.4 218.7L1216.6 258.9L1217.8 184.8L1218.3 263L1218.6 243.9L1218.9 224.8L1219.2 205.7L1219.4 186.6L1219.7 167.4L1220 215.7L1220.2 264.1L1220.5 238.3L1220.8 212.4L1221 186.5L1221.3 160.6L1221.6 205.8L1221.8 251.1L1222.1 228L1222.3 204.9L1222.6 181.7L1222.8 158.6L1223.1 203.4L1223.3 248.8L1224.7 160.9L1225.2 257L1226.1 164L1226.6 242.9L1228 170.1L1228.2 206.8L1228.5 243.5L1228.8 226.1L1229.1 208.7L1229.4 191.2L1229.7 173.8L1230.2 250.7L1231.1 173.9L1231.6 260.9L1232.8 166L1233.3 260.1L1234.6 170.8L1235.1 259.4L1236.1 169.6L1236.6 260.6L1237.9 164.1L1238.1 209.2L1238.4 253.2L1238.6 230.4L1238.9 208L1239.1 186.2L1239.4 164.8L1239.6 212.2L1239.8 258.5L1240.1 237.6L1240.4 217.1L1240.6 197.2L1240.9 177.8L1241.2 158.9L1241.7 239.4L1242.8 166.1L1243.3 238.8L1244.4 164.2L1244.9 236L1246 159.5L1246.5 243.4L1247.7 159.4L1248.2 239L1249.2 137L1249.7 242.8L1251 150L1251.5 234.9L1252.6 152.6L1252.9 200.1L1253.1 247.8L1253.4 228.6L1253.6 209.3L1253.9 189.9L1254.1 170.4L1254.4 150.8L1254.6 203.1L1254.9 255.7L1255.1 227.3L1255.3 198.8L1255.6 170.1L1255.8 141.3L1256.1 192.4L1256.3 243.7L1256.6 225.6L1256.9 207.3L1257.2 189.2L1257.5 171.1L1257.7 153L1258 209L1258.2 265L1258.5 238.4L1258.7 211.9L1259 185.4L1259.2 158.9L1259.5 212.4L1259.7 265.9L1260.8 166.8L1261.3 269.1L1262.7 170.5L1262.9 212.5L1263.2 254L1263.5 229.6L1263.7 205.6L1264 181.8L1264.3 158.4L1264.6 203.4L1264.8 247.9L1265.8 164.7L1266.3 255L1267.4 170.2L1267.9 261.7L1269.2 168.2L1269.6 266.6L1270.7 174.7L1271.2 261.9L1272.4 167.6L1272.9 261.9L1274.2 172.5L1274.7 253L1275.8 163.8L1276.3 259.2L1276.6 240.2L1276.8 220.8L1277.1 201.2L1277.4 181.2L1277.7 225.5L1277.9 270.3L1278.2 248.6L1278.5 226.6L1278.8 204.1L1279.1 181.3L1279.3 226.8L1279.6 272.9L1280.7 187L1281.2 268.8L1282.4 177.5L1282.9 263.5L1284.1 186.4L1284.6 261.5L1285.6 183.3L1286.1 259.7L1287.3 175.4L1287.8 268.2L1289.1 173.3L1289.6 256.1L1290.6 176.5L1291.1 258.4L1292.2 161.9L1292.7 258.6L1293 241.9L1293.3 226.1L1293.5 210.6L1293.8 195.4L1294.1 180.6L1294.3 220.8L1294.6 260.2L1294.8 241.8L1295.1 223.8L1295.3 206.1L1295.6 188.8L1295.8 226.5L1296 263.6L1296.3 247.5L1296.6 231.8L1296.8 216.5L1297.1 200.7L1297.6 268.7L1298.9 192.7L1299.4 262.3L1300.4 183.2L1300.9 268.1L1302.1 178.7L1302.4 232.6L1302.6 285.7L1302.8 265.3L1303.1 245.2L1303.3 225.3L1303.6 205.8L1303.8 186.6L1304.1 233.2L1304.3 279.1L1304.6 257.2L1304.9 235.7L1305.2 214.6L1305.4 193.8L1305.7 239.4L1305.9 284.3L1306.2 264.1L1306.5 244.2L1306.8 224.7L1307 205.3L1307.5 299.3L1308.7 196.9L1309.2 287.9L1310.4 204.5L1310.8 280.1L1312.1 193.6L1312.6 285.5L1313.6 204.7L1314.1 282.6L1315.3 204.2L1315.8 280.3L1317.2 209L1317.7 283.3L1318.6 206.2L1319.1 285.5L1320.4 206.5L1320.9 273.6L1322.1 191.6L1322.6 273.8L1323.6 193L1324.1 268.1L1325.1 190.6L1325.6 281.1L1326.9 191.6L1327.4 266.1L1328.6 180.1L1329.1 266.9L1330.3 177.2L1330.8 261.4L1331 241L1331.3 221.9L1331.6 202.7L1331.9 183.4L1332.1 224.3L1332.4 265.6L1332.6 248.5L1332.9 231.3L1333.1 213.9L1333.3 196.4L1333.6 178.8L1333.8 224.9L1334.1 271.3L1334.4 251.2L1334.7 230.8L1335 210.4L1335.3 189.6L1335.8 274.3L1336.7 196.7L1337.2 271L1337.5 254.7L1337.8 238.3L1338 221.7L1338.3 205L1338.6 188.1L1338.8 229.2L1339.1 270.7L1339.3 249.9L1339.6 228.9L1339.9 207.7L1340.1 186.3L1340.4 226.2L1340.6 265.7L1340.9 243.6L1341.2 222.1L1341.4 201.5L1341.7 181.8L1342 216.5L1342.2 249.7L1343.4 177.8L1343.9 246.6L1345.2 187L1345.7 243.2L1346.8 183.8L1347.3 257.6L1348.2 182.5L1348.7 260.5L1350 188.9L1350.3 222.8L1350.5 258.6L1350.8 239L1351.1 218.3L1351.4 196.4L1351.6 173.5L1351.9 216.6L1352.1 261.6"/>
</g>
<g clip-path="url(#cb)" fill="none" stroke-linejoin="round" stroke-linecap="round">
<path fill="#1f77b4" stroke="none" d="M130 1044.3L130.6 1044.1L131.2 1043.9L131.8 1043.7L132.4 1043.5L133 1043.2L133.6 1044.8L134.2 1046.4L134.8 1048L135.4 1049.6L136 1051.1L136.6 1052.7L137.2 1054.3L137.8 1055.9L138.4 1057.5L139 1059L139.6 1060.6L140.2 1062.7L140.8 1065.6L141.4 1068.5L142 1071.4L142.6 1074.3L143.2 1077.2L143.8 1080.2L144.4 1083.1L145 1086L145.6 1087.7L146.2 1089.3L146.8 1091L147.4 1092.7L148 1094.4L148.6 1096L149.2 1097.7L149.8 1099.4L150.4 1101.1L151 1102.7L151.6 1104.4L152.2 1105.6L152.8 1105.8L153.4 1106L154 1106.1L154.6 1106.3L155.2 1106.5L155.8 1106.7L156.4 1106.9L157 1107.1L157.6 1107.3L158.2 1107.4L158.8 1107.6L159.4 1107.8L160 1108L160.6 1106.2L161.2 1104.4L161.8 1102.7L162.4 1100.9L163 1099.1L163.6 1097.3L164.2 1095.5L164.8 1093.8L165.4 1092L166 1090.2L166.6 1088.4L167.2 1087.6L167.8 1088.7L168.4 1089.8L169 1090.8L169.6 1091.9L170.2 1093L170.8 1094.1L171.4 1095.2L172 1096.2L172.6 1097.3L173.2 1098.4L173.8 1099.5L174.4 1100.8L175 1102.1L175.6 1103.5L176.2 1104.9L176.8 1106.3L177.4 1107.6L178 1109L178.6 1110.4L179.2 1111.8L179.8 1113.1L180.4 1113.6L181 1113.5L181.6 1113.5L182.2 1113.5L182.8 1113.4L183.4 1113.4L184 1113.3L184.6 1113.3L185.2 1113.3L185.8 1113.2L186.4 1113.2L187 1113.1L187.6 1113.1L188.2 1113.5L188.8 1114.6L189.4 1115.7L190 1116.9L190.6 1118L191.2 1119.2L191.8 1120.3L192.4 1121.5L193 1122.6L193.6 1123.7L194.2 1124.9L194.8 1126L195.4 1127.2L196 1128.3L196.6 1127.2L197.2 1126.2L197.8 1125.1L198.4 1124L199 1122.9L199.6 1121.8L200.2 1120.7L200.8 1119.7L201.4 1118.6L202 1117.5L202.6 1116.4L203.2 1115.3L203.8 1114.3L204.4 1113.2L205 1112.1L205.6 1111.1L206.2 1110L206.8 1108.9L207.4 1107.8L208 1106.8L208.6 1105.7L209.2 1105.6L209.8 1107.3L210.4 1109.1L211 1110.9L211.6 1112.6L212.2 1114.4L212.8 1116.2L213.4 1117.9L214 1119.7L214.6 1120.7L215.2 1121.7L215.8 1122.8L216.4 1123.8L217 1124.8L217.6 1125.8L218.2 1126.8L218.8 1127.9L219.4 1128.9L220 1129.9L220.6 1129.2L221.2 1128.5L221.8 1127.8L222.4 1127.1L223 1126.5L223.6 1125.8L224.2 1125.1L224.8 1124.4L225.4 1123.7L226 1123L226.6 1122.3L227.2 1121.6L227.8 1120.9L228.4 1120.2L229 1119.5L229.6 1120.1L230.2 1120.6L230.8 1121.2L231.4 1121.7L232 1122.3L232.6 1122.8L233.2 1123.4L233.8 1123.9L234.4 1124.5L235 1125L235.6 1125.6L236.2 1125.7L236.8 1125.2L237.4 1124.6L238 1124.1L238.6 1123.5L239.2 1122.9L239.8 1122.4L240.4 1121.8L241 1121.3L241.6 1120.7L242.2 1120.1L242.8 1119.6L243.4 1119L244 1118.5L244.6 1117.9L245.2 1117.5L245.8 1117.4L246.4 1117.2L247 1117.1L247.6 1117L248.2 1116.9L248.8 1116.8L249.4 1116.7L250 1116.5L250.6 1116.4L251.2 1116.3L251.8 1116.2L252.4 1115.4L253 1114.4L253.6 1113.3L254.2 1112.2L254.8 1111.1L255.4 1110L256 1108.9L256.6 1107.8L257.2 1106.7L257.8 1105.7L258.4 1104.6L259 1103.5L259.6 1102.4L260.2 1101.9L260.8 1102.6L261.4 1103.3L262 1104.1L262.6 1104.8L263.2 1105.5L263.8 1106.2L264.4 1106.9L265 1107.6L265.6 1108.3L266.2 1109L266.8 1109.8L267.4 1110.5L268 1111.3L268.6 1112.1L269.2 1112.9L269.8 1113.7L270.4 1114.4L271 1115.2L271.6 1116L272.2 1116.8L272.8 1117.6L273.4 1117.6L274 1117.2L274.6 1116.8L275.2 1116.3L275.8 1115.9L276.4 1115.5L277 1115.1L277.6 1114.7L278.2 1114.3L278.8 1113.9L279.4 1113.5L280 1113.1L280.6 1113.6L281.2 1114.1L281.8 1114.6L282.4 1115.1L283 1115.6L283.6 1116.1L284.2 1116.7L284.8 1117.2L285.4 1117.7L286 1118.2L286.6 1118.7L287.2 1119.4L287.8 1120.5L288.4 1121.5L289 1122.6L289.6 1123.6L290.2 1124.7L290.8 1125.7L291.4 1126.8L292 1127.9L292.6 1128.9L293.2 1130L293.8 1131L294.4 1131.2L295 1131L295.6 1130.8L296.2 1130.5L296.8 1130.3L297.4 1130.1L298 1129.8L298.6 1129.6L299.2 1129.4L299.8 1129.1L300.4 1128.8L301 1128.3L301.6 1127.9L302.2 1127.5L302.8 1127.1L303.4 1126.7L304 1126.2L304.6 1125.8L305.2 1125.4L305.8 1125L306.4 1124.5L307 1124.1L307.6 1125.5L308.2 1126.8L308.8 1128.2L309.4 1129.6L310 1130.9L310.6 1132.3L311.2 1133.6L311.8 1135L312.4 1136.4L313 1137.7L313.6 1139.1L314.2 1140.4L314.8 1141.8L315.4 1142.4L316 1142.6L316.6 1142.9L317.2 1143.1L317.8 1143.4L318.4 1143.6L319 1143.8L319.6 1144.1L320.2 1144.3L320.8 1144.6L321.4 1144.8L322 1145L322.6 1144.3L323.2 1143.5L323.8 1142.7L324.4 1141.9L325 1141.1L325.6 1140.4L326.2 1140.2L326.8 1141.1L327.4 1142L328 1143L328.6 1143.9L329.2 1144.9L329.8 1145.8L330.4 1146.7L331 1147.7L331.6 1144.5L332.2 1141.4L332.8 1138.2L333.4 1135L334 1131.9L334.6 1128.7L335.2 1125.6L335.8 1122.4L336.4 1119.4L337 1116.4L337.6 1113.4L338.2 1110.4L338.8 1107.4L339.4 1104.4L340 1101.4L340.6 1100.1L341.2 1098.9L341.8 1097.6L342.4 1096.4L343 1095.2L343.6 1093.9L344.2 1094.2L344.8 1097.6L345.4 1101L346 1104.5L346.6 1107.9L347.2 1111.3L347.8 1114.7L348.4 1117.5L349 1119.9L349.6 1122.4L350.2 1124.8L350.8 1127.3L351.4 1129.7L352 1132.2L352.6 1134.6L353.2 1137.1L353.8 1139.5L354.4 1141.9L355 1144.3L355.6 1146.7L356.2 1149.1L356.8 1151.5L357.4 1153.9L358 1156.3L358.6 1158.7L359.2 1161.1L359.8 1163.5L360.4 1165.1L361 1166.3L361.6 1167.5L362.2 1168.6L362.8 1169.8L363.4 1171L364 1172.2L364.6 1173.3L365.2 1174.5L365.8 1175.7L366.4 1176.9L367 1178L367.6 1179.2L368.2 1180.1L368.8 1180.4L369.4 1180.8L370 1181.1L370.6 1181.4L371.2 1181.7L371.8 1182.1L372.4 1182.4L373 1182.7L373.6 1183L374.2 1183.3L374.8 1183.7L375.4 1184L376 1184.3L376.6 1186.2L377.2 1188.1L377.8 1190L378.4 1192L379 1193.9L379.6 1195.8L380.2 1197.7L380.8 1199.6L381.4 1201.5L382 1203.4L382.6 1205.3L383.2 1207.2L383.8 1209.1L384.4 1209.1L385 1208L385.6 1206.9L386.2 1205.9L386.8 1204.8L387.4 1203.8L388 1202.7L388.6 1201.7L389.2 1200.6L389.8 1199.6L390.4 1198.5L391 1197.4L391.6 1196.4L392.2 1195.3L392.8 1194.4L393.4 1193.4L394 1192.4L394.6 1191.4L395.2 1190.4L395.8 1189.4L396.4 1188.4L397 1187.4L397.6 1186.4L398.2 1185.4L398.8 1184.4L399.4 1183.4L400 1182.4L400.6 1182.8L401.2 1183.2L401.8 1183.6L402.4 1184L403 1184.4L403.6 1184.8L404.2 1185.2L404.8 1185.6L405.4 1184.1L406 1181.7L406.6 1179.3L407.2 1177L407.8 1174.6L408.4 1172.2L409 1169.8L409.6 1167.4L410.2 1165.1L410.8 1162.7L411.4 1160.3L412 1157.9L412.6 1158.4L413.2 1159L413.8 1159.5L414.4 1160L415 1160.5L415.6 1161L416.2 1161.5L416.8 1162.1L417.4 1161.2L418 1159.6L418.6 1158L419.2 1156.4L419.8 1154.8L420.4 1153.3L421 1151.7L421.6 1150.1L422.2 1148.5L422.8 1146.9L423.4 1145.3L424 1143.8L424.6 1144.4L425.2 1145L425.8 1145.6L426.4 1146.2L427 1146.8L427.6 1147.4L428.2 1148L428.8 1148.6L429.4 1149.2L430 1149.9L430.6 1150.5L431.2 1151.1L431.8 1151.7L432.4 1152.3L433 1152.9L433.6 1153.5L434.2 1153.5L434.8 1152.3L435.4 1151L436 1149.8L436.6 1148.5L437.2 1147.3L437.8 1146.1L438.4 1144.8L439 1143.6L439.6 1142.3L440.2 1141.1L440.8 1139.8L441.4 1138.6L442 1137.4L442.6 1138.5L443.2 1139.6L443.8 1140.7L444.4 1141.8L445 1142.9L445.6 1144L446.2 1145.1L446.8 1146.2L447.4 1145.6L448 1144.1L448.6 1142.7L449.2 1141.2L449.8 1139.8L450.4 1138.3L451 1136.9L451.6 1135.4L452.2 1134L452.8 1132.5L453.4 1131.1L454 1129.7L454.6 1128.2L455.2 1127.1L455.8 1126.5L456.4 1125.9L457 1125.4L457.6 1124.8L458.2 1124.2L458.8 1123.7L459.4 1123.1L460 1122.6L460.6 1122L461.2 1121.4L461.8 1120.9L462.4 1120.3L463 1119.7L463.6 1119.2L464.2 1118.2L464.8 1116.2L465.4 1114.3L466 1112.3L466.6 1110.4L467.2 1108.5L467.8 1106.5L468.4 1104.6L469 1102.6L469.6 1100.7L470.2 1099.1L470.8 1098.2L471.4 1097.3L472 1096.4L472.6 1095.5L473.2 1094.6L473.8 1093.7L474.4 1092.8L475 1091.9L475.6 1093.6L476.2 1095.3L476.8 1097L477.4 1098.7L478 1100.3L478.6 1102L479.2 1103.7L479.8 1105.4L480.4 1107.1L481 1108.8L481.6 1110.5L482.2 1112.2L482.8 1113.8L483.4 1114L484 1113.4L484.6 1112.8L485.2 1112.2L485.8 1111.6L486.4 1111L487 1110.4L487.6 1109.8L488.2 1109.2L488.8 1108.6L489.4 1108L490 1107.4L490.6 1106L491.2 1104.5L491.8 1103.1L492.4 1101.7L493 1100.3L493.6 1098.8L494.2 1097.4L494.8 1096L495.4 1094.5L496 1093.1L496.6 1093.1L497.2 1093.1L497.8 1093.1L498.4 1093L499 1093L499.6 1093L500.2 1093L500.8 1093L501.4 1093.4L502 1094L502.6 1094.6L502.6 1130.6L502 1136L501.4 1141.4L500.8 1145.1L500.2 1145.3L499.6 1145.6L499 1145.8L498.4 1146L497.8 1146.2L497.2 1146.4L496.6 1146.7L496 1146.9L495.4 1147.6L494.8 1148.2L494.2 1148.9L493.6 1149.6L493 1150.2L492.4 1150.9L491.8 1151.6L491.2 1152.3L490.6 1152.9L490 1153.6L489.4 1154.2L488.8 1154.8L488.2 1155.4L487.6 1156L487 1156.6L486.4 1157.2L485.8 1157.8L485.2 1158.4L484.6 1159L484 1159.6L483.4 1160.2L482.8 1159.9L482.2 1157.8L481.6 1155.8L481 1153.7L480.4 1151.7L479.8 1149.6L479.2 1147.5L478.6 1145.5L478 1143.4L477.4 1141.3L476.8 1139.3L476.2 1137.2L475.6 1135.1L475 1133.1L474.4 1134.6L473.8 1136.1L473.2 1137.6L472.6 1139.1L472 1140.6L471.4 1142.1L470.8 1143.6L470.2 1145.1L469.6 1147.2L469 1149.5L468.4 1151.9L467.8 1154.3L467.2 1156.6L466.6 1159L466 1161.3L465.4 1163.7L464.8 1166.1L464.2 1168.4L463.6 1169.3L463 1169.5L462.4 1169.7L461.8 1169.8L461.2 1170L460.6 1170.2L460 1170.3L459.4 1170.5L458.8 1170.7L458.2 1170.8L457.6 1171L457 1171.2L456.4 1171.4L455.8 1171.5L455.2 1171.7L454.6 1172.3L454 1173.2L453.4 1174.1L452.8 1175L452.2 1175.9L451.6 1176.7L451 1177.6L450.4 1178.5L449.8 1179.4L449.2 1180.3L448.6 1181.1L448 1182L447.4 1182.9L446.8 1183L446.2 1181.7L445.6 1180.4L445 1179.1L444.4 1177.8L443.8 1176.5L443.2 1175.2L442.6 1173.9L442 1172.6L441.4 1174.3L440.8 1176L440.2 1177.7L439.6 1179.4L439 1181.1L438.4 1182.7L437.8 1184.4L437.2 1186.1L436.6 1187.8L436 1189.5L435.4 1191.2L434.8 1192.8L434.2 1194.5L433.6 1194.6L433 1193.9L432.4 1193.2L431.8 1192.5L431.2 1191.8L430.6 1191.1L430 1190.3L429.4 1189.6L428.8 1188.9L428.2 1188.2L427.6 1187.5L427 1186.8L426.4 1186.1L425.8 1185.4L425.2 1184.7L424.6 1184L424 1183.2L423.4 1185.3L422.8 1187.3L422.2 1189.3L421.6 1191.3L421 1193.3L420.4 1195.3L419.8 1197.4L419.2 1199.4L418.6 1201.4L418 1203.4L417.4 1205.4L416.8 1206.5L416.2 1205.5L415.6 1204.6L415 1203.7L414.4 1202.8L413.8 1201.8L413.2 1200.9L412.6 1200L412 1199.1L411.4 1201.2L410.8 1203.4L410.2 1205.6L409.6 1207.7L409 1209.9L408.4 1212.1L407.8 1214.2L407.2 1216.4L406.6 1218.6L406 1220.7L405.4 1222.9L404.8 1224.1L404.2 1223.4L403.6 1222.7L403 1222L402.4 1221.3L401.8 1220.6L401.2 1219.9L400.6 1219.3L400 1218.6L399.4 1219.7L398.8 1220.9L398.2 1222.1L397.6 1223.3L397 1224.5L396.4 1225.7L395.8 1226.8L395.2 1228L394.6 1229.2L394 1230.4L393.4 1231.6L392.8 1232.7L392.2 1233.9L391.6 1235.1L391 1236.2L390.4 1237.3L389.8 1238.4L389.2 1239.5L388.6 1240.7L388 1241.8L387.4 1242.9L386.8 1244L386.2 1245.1L385.6 1246.3L385 1247.4L384.4 1248.5L383.8 1248.8L383.2 1247.3L382.6 1245.8L382 1244.3L381.4 1242.9L380.8 1241.4L380.2 1239.9L379.6 1238.5L379 1237L378.4 1235.5L377.8 1234.1L377.2 1232.6L376.6 1231.1L376 1229.7L375.4 1229.1L374.8 1228.5L374.2 1228L373.6 1227.4L373 1226.8L372.4 1226.2L371.8 1225.6L371.2 1225.1L370.6 1224.5L370 1223.9L369.4 1223.3L368.8 1222.8L368.2 1222.2L367.6 1221.4L367 1220.5L366.4 1219.5L365.8 1218.6L365.2 1217.7L364.6 1216.8L364 1215.8L363.4 1214.9L362.8 1214L362.2 1213.1L361.6 1212.1L361 1211.2L360.4 1210.3L359.8 1208.9L359.2 1206.5L358.6 1204.1L358 1201.7L357.4 1199.3L356.8 1196.9L356.2 1194.5L355.6 1192.1L355 1189.7L354.4 1187.3L353.8 1184.7L353.2 1181.7L352.6 1178.8L352 1175.8L351.4 1172.9L350.8 1169.9L350.2 1167L349.6 1164L349 1161.1L348.4 1158.1L347.8 1155.1L347.2 1152.1L346.6 1149.1L346 1146L345.4 1143L344.8 1140L344.2 1136.9L343.6 1136L343 1136.1L342.4 1136.2L341.8 1136.3L341.2 1136.4L340.6 1136.5L340 1136.6L339.4 1139.6L338.8 1142.6L338.2 1145.6L337.6 1148.6L337 1151.6L336.4 1154.6L335.8 1157.8L335.2 1161.4L334.6 1165L334 1168.5L333.4 1172.1L332.8 1175.6L332.2 1179.2L331.6 1182.8L331 1186.3L330.4 1185.6L329.8 1184.8L329.2 1184.1L328.6 1183.4L328 1182.6L327.4 1181.9L326.8 1181.1L326.2 1180.4L325.6 1179.8L325 1179.4L324.4 1178.9L323.8 1178.4L323.2 1177.9L322.6 1177.4L322 1177L321.4 1177.8L320.8 1178.6L320.2 1179.5L319.6 1180.3L319 1181.2L318.4 1182L317.8 1182.8L317.2 1183.7L316.6 1184.5L316 1185.4L315.4 1186.2L314.8 1186L314.2 1183.8L313.6 1181.5L313 1179.3L312.4 1177L311.8 1174.8L311.2 1172.6L310.6 1170.3L310 1168.1L309.4 1165.8L308.8 1163.6L308.2 1161.4L307.6 1159.1L307 1156.9L306.4 1157.2L305.8 1157.6L305.2 1157.9L304.6 1158.3L304 1158.6L303.4 1159L302.8 1159.3L302.2 1159.7L301.6 1160L301 1160.4L300.4 1160.7L299.8 1161.5L299.2 1163.2L298.6 1164.8L298 1166.5L297.4 1168.2L296.8 1169.8L296.2 1171.5L295.6 1173.2L295 1174.8L294.4 1176.5L293.8 1177.4L293.2 1177L292.6 1176.5L292 1176L291.4 1175.5L290.8 1175L290.2 1174.5L289.6 1174.1L289 1173.6L288.4 1173.1L287.8 1172.6L287.2 1172.1L286.6 1171L286 1169.7L285.4 1168.3L284.8 1166.9L284.2 1165.5L283.6 1164.2L283 1162.8L282.4 1161.4L281.8 1160L281.2 1158.7L280.6 1157.3L280 1155.9L279.4 1156.1L278.8 1156.3L278.2 1156.5L277.6 1156.7L277 1156.9L276.4 1157.1L275.8 1157.3L275.2 1157.5L274.6 1157.6L274 1157.8L273.4 1158L272.8 1158L272.2 1157.3L271.6 1156.7L271 1156.1L270.4 1155.5L269.8 1154.9L269.2 1154.3L268.6 1153.6L268 1153L267.4 1152.4L266.8 1151.7L266.2 1150.7L265.6 1149.7L265 1148.7L264.4 1147.7L263.8 1146.7L263.2 1145.7L262.6 1144.7L262 1143.7L261.4 1142.7L260.8 1141.7L260.2 1140.7L259.6 1141.3L259 1142.8L258.4 1144.2L257.8 1145.7L257.2 1147.2L256.6 1148.6L256 1150.1L255.4 1151.5L254.8 1153L254.2 1154.5L253.6 1155.9L253 1157.4L252.4 1158.9L251.8 1159.7L251.2 1159.2L250.6 1158.8L250 1158.3L249.4 1157.8L248.8 1157.4L248.2 1156.9L247.6 1156.5L247 1156L246.4 1155.6L245.8 1155.1L245.2 1154.6L244.6 1155L244 1155.9L243.4 1156.7L242.8 1157.6L242.2 1158.4L241.6 1159.2L241 1160.1L240.4 1160.9L239.8 1161.8L239.2 1162.6L238.6 1163.4L238 1164.3L237.4 1165.1L236.8 1166L236.2 1166.8L235.6 1166.5L235 1165.6L234.4 1164.7L233.8 1163.7L233.2 1162.8L232.6 1161.9L232 1161L231.4 1160.1L230.8 1159.2L230.2 1158.3L229.6 1157.4L229 1156.5L228.4 1157.5L227.8 1158.4L227.2 1159.4L226.6 1160.4L226 1161.3L225.4 1162.3L224.8 1163.3L224.2 1164.3L223.6 1165.2L223 1166.2L222.4 1167.2L221.8 1168.2L221.2 1169.1L220.6 1170.1L220 1171.1L219.4 1169.8L218.8 1168.5L218.2 1167.3L217.6 1166L217 1164.7L216.4 1163.4L215.8 1162.1L215.2 1160.9L214.6 1159.6L214 1158.3L213.4 1157L212.8 1155.6L212.2 1154.2L211.6 1152.9L211 1151.5L210.4 1150.2L209.8 1148.8L209.2 1147.5L208.6 1147.5L208 1148.2L207.4 1149L206.8 1149.7L206.2 1150.4L205.6 1151.1L205 1151.9L204.4 1152.6L203.8 1153.3L203.2 1154.1L202.6 1155.4L202 1157.1L201.4 1158.7L200.8 1160.4L200.2 1162.1L199.6 1163.7L199 1165.4L198.4 1167L197.8 1168.7L197.2 1170.4L196.6 1172L196 1173.7L195.4 1172.3L194.8 1171L194.2 1169.7L193.6 1168.4L193 1167L192.4 1165.7L191.8 1164.4L191.2 1163L190.6 1161.7L190 1160.4L189.4 1159L188.8 1157.7L188.2 1156.4L187.6 1155.7L187 1155.4L186.4 1155L185.8 1154.7L185.2 1154.3L184.6 1154L184 1153.7L183.4 1153.3L182.8 1153L182.2 1152.6L181.6 1152.3L181 1152L180.4 1151.6L179.8 1151L179.2 1149.9L178.6 1148.8L178 1147.7L177.4 1146.5L176.8 1145.4L176.2 1144.3L175.6 1143.2L175 1142L174.4 1140.9L173.8 1139.9L173.2 1139.2L172.6 1138.5L172 1137.8L171.4 1137L170.8 1136.3L170.2 1135.6L169.6 1134.9L169 1134.2L168.4 1133.4L167.8 1132.7L167.2 1132L166.6 1132.8L166 1134.4L165.4 1135.9L164.8 1137.5L164.2 1139.1L163.6 1140.6L163 1142.2L162.4 1143.7L161.8 1145.3L161.2 1146.9L160.6 1148.4L160 1150L159.4 1149.4L158.8 1148.9L158.2 1148.3L157.6 1147.7L157 1147.2L156.4 1146.6L155.8 1146.1L155.2 1145.5L154.6 1144.9L154 1144.4L153.4 1143.8L152.8 1143.2L152.2 1142.7L151.6 1141.7L151 1140.4L150.4 1139.2L149.8 1137.9L149.2 1136.7L148.6 1135.4L148 1134.2L147.4 1133L146.8 1131.7L146.2 1130.5L145.6 1129.2L145 1128L144.4 1124.7L143.8 1121.4L143.2 1118L142.6 1114.7L142 1111.4L141.4 1108.1L140.8 1104.7L140.2 1101.4L139.6 1099.6L139 1098.5L138.4 1097.4L137.8 1096.4L137.2 1095.3L136.6 1094.2L136 1093.1L135.4 1092.1L134.8 1091L134.2 1089.9L133.6 1088.8L133 1087.8L132.4 1088.1L131.8 1088.5L131.2 1088.9L130.6 1089.3L130 1089.7Z"/>
<path fill="#1f77b4" fill-opacity="0.72" stroke="none" d="M503 1096.9L503.6 1100.5L504.2 1104L504.8 1107.6L505.4 1111.1L506 1114.7L506.6 1118.2L507.2 1149.6L507.8 1181.1L508.4 1212.5L509 1243.9L509.6 1253.4L510.2 1262.9L510.8 1272.5L511.4 1276.7L512 1278.2L512.6 1279.7L513.2 1281.6L513.8 1284.2L514.4 1286.7L515 1289.3L515.6 1291.9L516.2 1294.3L516.8 1296.2L517.4 1298.1L518 1300L518.6 1302L519.2 1306.2L519.8 1315L520.4 1323.8L521 1332.6L521.6 1337.5L522.2 1342.5L522.8 1350.8L523.4 1358.2L524 1367.6L524.6 1376.9L525.2 1383L525.8 1387.4L526.4 1391.9L527 1396.3L527.6 1401L528.2 1407L528.8 1413L529.4 1417.9L530 1422.2L530.6 1426.5L531.2 1430.8L531.8 1435.1L532.4 1439.4L533 1439L533.6 1440.6L534.2 1441.9L534.8 1442.6L535.4 1443.4L536 1444.1L536.6 1444.9L537.2 1446.9L537.8 1451.6L538.4 1456.2L539 1460.8L539.6 1465.5L540.2 1470.1L540.8 1478.6L541.4 1484.9L542 1491.1L542.6 1497.4L543.2 1503.6L543.8 1509.9L544.4 1515.8L545 1521.5L545.6 1527.1L546.2 1532.8L546.8 1538.5L547.4 1544.2L548 1548.7L548.6 1552.2L549.2 1555.7L549.8 1559.1L550.4 1557.1L551 1528L551.6 1498.8L552.2 1469.6L552.8 1420.4L553.4 1351.2L554 1285L554.6 1225L555.2 1173L555.8 1137L556.4 1101L557 1079.8L557.6 1061.5L558.2 1085.4L558.8 1112.6L559.4 1146.8L560 1181.1L560.6 1213.3L561.2 1241.4L561.8 1269.5L562.4 1295.5L563 1317.4L563.6 1339.2L564.2 1352L564.8 1362.9L565.4 1373.8L566 1377.8L566.6 1380.3L567.2 1379.8L567.8 1372.9L568.4 1366.1L569 1351.8L569.6 1336.1L570.2 1324L570.8 1319.1L571.4 1314.2L572 1309.3L572.6 1306.3L573.2 1303.3L573.8 1300.3L574.4 1297.3L575 1294.3L575.6 1291.3L576.2 1288.4L576.8 1285.6L577.4 1282.9L578 1280.1L578.6 1277.3L579.2 1274.6L579.8 1271.8L580.4 1270.3L581 1269.4L581.6 1268.6L582.2 1267.7L582.8 1266.8L583.4 1266L584 1265.1L584.6 1264.2L585.2 1264.2L585.8 1265.7L586.4 1267.3L587 1268.8L587.6 1270.4L588.2 1272L588.8 1273.5L589.4 1271.5L590 1267.6L590.6 1263.8L591.2 1260L591.8 1256.2L592.4 1252.3L593 1248.5L593.6 1250L594.2 1251.6L594.8 1253.1L595.4 1254.7L596 1256.2L596.6 1257.8L597.2 1259.3L597.8 1260.9L598.4 1262.4L599 1264L599.6 1264.8L600.2 1265.6L600.8 1266.5L601.4 1267.3L602 1268.1L602.6 1269L603.2 1269.8L603.8 1270.6L604.4 1268L605 1263.7L605.6 1259.4L606.2 1255.1L606.8 1250.8L607.4 1246.5L608 1242.2L608.6 1237.8L609.2 1234.7L609.8 1234L610.4 1233.3L611 1232.6L611.6 1232L612.2 1231.3L612.8 1230.6L613.4 1229.9L614 1229.2L614.6 1228.5L615.2 1227.8L615.8 1227.1L616.4 1228.1L617 1230L617.6 1231.8L618.2 1233.7L618.8 1235.6L619.4 1237.4L620 1239.3L620.6 1236.2L621.2 1233.1L621.8 1229.9L622.4 1226.8L623 1223.6L623.6 1220.5L624.2 1217.4L624.8 1214.2L625.4 1211.1L626 1208L626.6 1204.8L627.2 1202.9L627.8 1203.2L628.4 1203.5L629 1203.8L629.6 1204.1L630.2 1204.4L630.8 1204.7L631.4 1205L632 1205.3L632.6 1205.6L633.2 1205.9L633.8 1206.2L634.4 1206.5L635 1206.8L635.6 1207.2L636.2 1206.6L636.8 1204.5L637.4 1202.3L638 1200.1L638.6 1197.9L639.2 1195.8L639.8 1193.6L640.4 1191.4L641 1189.2L641.6 1187.1L642.2 1184.9L642.8 1182.8L643.4 1180.7L644 1178.6L644.6 1176.5L645.2 1174.4L645.8 1172.3L646.4 1172L647 1172.6L647.6 1173.2L648.2 1173.9L648.8 1174.5L649.4 1175.1L650 1175.7L650.6 1176.4L651.2 1177L651.8 1177.6L652.4 1178.2L653 1178.9L653.6 1179.5L654.2 1180.1L654.8 1180.7L655.4 1181.4L656 1182L656.6 1182.6L657.2 1181.8L657.8 1178.1L658.4 1174.3L659 1170.6L659.6 1166.9L660.2 1163.1L660.8 1159.4L661.4 1155.7L662 1152L662.6 1148.2L663.2 1145.3L663.8 1143.8L664.4 1142.3L665 1140.8L665.6 1139.3L666.2 1137.8L666.8 1136.3L667.4 1134.8L668 1133.4L668.6 1134.3L669.2 1135.2L669.8 1136.1L670.4 1137L671 1137.9L671.6 1138.8L672.2 1139.8L672.8 1140.7L673.4 1140.4L674 1139.6L674.6 1138.8L675.2 1138L675.8 1137.1L676.4 1136.3L677 1135.5L677.6 1134.7L678.2 1133.8L678.8 1133L679.4 1133.1L680 1133.7L680.6 1134.2L681.2 1134.7L681.8 1135.3L682.4 1135.8L683 1136.4L683.6 1136.9L684.2 1137.5L684.8 1138L685.4 1136.6L686 1134.3L686.6 1132L687.2 1129.6L687.8 1127.3L688.4 1125L689 1122.6L689.6 1123.7L690.2 1124.7L690.8 1125.8L691.4 1126.8L692 1127.8L692.6 1128.9L693.2 1129.9L693.8 1131L694.4 1132L695 1133.1L695.6 1133.3L696.2 1133.6L696.8 1133.9L697.4 1134.2L698 1134.5L698.6 1133.7L699.2 1132.9L699.8 1132.1L700.4 1131.3L701 1130.5L701.6 1129.7L702.2 1128.9L702.8 1128.1L703.4 1127.7L704 1127.6L704.6 1127.5L705.2 1127.3L705.8 1127.2L706.4 1127.1L707 1126.9L707.6 1126.8L708.2 1126.8L708.8 1127.1L709.4 1127.4L710 1127.7L710.6 1128L711.2 1128.3L711.8 1128.6L712.4 1128.9L713 1129.2L713.6 1129.5L714.2 1129.8L714.8 1130.1L715.4 1130.7L716 1131.6L716.6 1132.4L717.2 1133.2L717.8 1134.1L718.4 1134.9L719 1135.8L719.6 1136.6L720.2 1138L720.8 1140.4L721.4 1142.9L722 1145.4L722.6 1147.8L723.2 1150.3L723.8 1152.7L724.4 1155.2L725 1157.7L725.6 1160.6L726.2 1163.5L726.8 1166.4L727.4 1169.4L728 1172.3L728.6 1175.2L729.2 1176.2L729.8 1173.3L730.4 1170.3L731 1167.4L731.6 1164.5L732.2 1161.6L732.8 1158.6L733.4 1153.8L734 1148L734.6 1142.1L735.2 1139.2L735.8 1142.2L736.4 1145.1L737 1148.1L737.6 1154L738.2 1188.6L738.8 1223.2L739.4 1254.7L740 1271.2L740.6 1287.6L741.2 1304.1L741.8 1320.5L742.4 1335.2L743 1349L743.6 1362.8L744.2 1374.5L744.8 1378.1L745.4 1384.8L746 1391.6L746.6 1398.2L747.2 1404.2L747.8 1410.2L748.4 1413.4L749 1415.2L749.6 1417L750.2 1418.8L750.8 1420.7L751.4 1422.5L752 1424.3L752.6 1427.9L753.2 1431.4L753.8 1435L754.4 1438.6L755 1442.2L755.6 1445.8L756.2 1453.9L756.8 1464.3L757.4 1478.3L758 1488L758.6 1493.9L759.2 1499.7L759.8 1505.6L760.4 1511.5L761 1517.4L761.6 1523.2L762.2 1529.1L762.8 1535L763.4 1541.2L764 1547.4L764.6 1553.6L765.2 1559.8L765.8 1565.9L766.4 1573.7L767 1582.2L767.6 1568.6L768.2 1532.8L768.8 1496.9L769.4 1437L770 1365L770.6 1292.9L771.2 1220L771.8 1172L772.4 1128.6L773 1108.5L773.6 1088.4L774.2 1070.7L774.8 1058L775.4 1045.2L776 1059.3L776.6 1086.7L777.2 1113.2L777.8 1137.7L778.4 1158.7L779 1172.9L779.6 1187L780.2 1201.1L780.8 1215.3L781.4 1236.5L782 1261.3L782.6 1286L783.2 1299.7L783.8 1316.4L784.4 1325.8L785 1331.5L785.6 1334L786.2 1320.1L786.8 1306.2L787.4 1283.7L788 1260.3L788.6 1231.7L789.2 1200.9L789.8 1183.7L790.4 1186.7L791 1189.8L791.6 1189.1L792.2 1188.4L792.8 1187.8L793.4 1187.1L794 1186.4L794.6 1189L795.2 1191.6L795.8 1194.2L796.4 1196.8L797 1199.4L797.6 1202L798.2 1205.2L798.8 1209.7L799.4 1214.2L800 1218.8L800.6 1223.3L801.2 1227.8L801.8 1232.3L802.4 1236L803 1239.3L803.6 1242.5L804.2 1245.8L804.8 1249.1L805.4 1249.2L806 1247.8L806.6 1246.4L807.2 1245L807.8 1243.6L808.4 1241.1L809 1238.2L809.6 1235.2L810.2 1232.2L810.8 1229.3L811.4 1226.3L812 1223.3L812.6 1222.5L813.2 1221.8L813.8 1221L814.4 1220.2L815 1219.4L815.6 1218.7L816.2 1217.9L816.8 1217.1L817.4 1216.4L818 1215.6L818.6 1215.9L819.2 1216.2L819.8 1216.6L820.4 1216.9L821 1217.2L821.6 1217.6L822.2 1217.9L822.8 1218.2L823.4 1217.7L824 1216.7L824.6 1215.7L825.2 1214.7L825.8 1213.6L826.4 1212.6L827 1211.6L827.6 1210.6L828.2 1209.6L828.8 1208.6L829.4 1207.6L830 1206.6L830.6 1206L831.2 1205.5L831.8 1204.9L832.4 1204.4L833 1203.8L833.6 1203.2L834.2 1202.7L834.8 1202.1L835.4 1201.6L836 1201L836.6 1201.3L837.2 1201.6L837.8 1201.9L838.4 1202.2L839 1202.5L839.6 1202.8L840.2 1203.1L840.8 1203.3L841.4 1203.6L842 1203.9L842.6 1204.3L843.2 1204.6L843.8 1204.9L844.4 1205.3L845 1205.6L845.6 1205.9L846.2 1206.2L846.8 1206.6L847.4 1206.9L848 1207.2L848.6 1206.5L849.2 1205.7L849.8 1205L850.4 1204.2L851 1203.5L851.6 1202.7L852.2 1201.6L852.8 1199.7L853.4 1197.9L854 1196L854.6 1194.2L855.2 1192.3L855.8 1190.4L856.4 1186.8L857 1182.3L857.6 1177.8L858.2 1173.3L858.8 1168.9L859.4 1164.4L860 1159.9L860.6 1135.2L861.2 1124.2L861.8 1140.5L862.4 1156.9L863 1158.3L863.6 1156.6L864.2 1155L864.8 1153.4L865.4 1151.7L866 1150.1L866.6 1148.3L867.2 1146.5L867.8 1144.7L868.4 1142.9L869 1141.1L869.6 1139.3L870.2 1137.5L870.8 1135.7L871.4 1136.6L872 1138.9L872.6 1141.2L873.2 1143.5L873.8 1145.8L874.4 1148.1L875 1150.4L875.6 1147.3L876.2 1144.3L876.8 1141.2L877.4 1142L878 1144.7L878.6 1147.4L879.2 1150L879.8 1152.7L880.4 1155.7L881 1159L881.6 1162.2L882.2 1165.4L882.8 1168.7L883.4 1170L884 1170.5L884.6 1170.9L885.2 1171.3L885.8 1171.8L886.4 1172.2L887 1172.6L887.6 1172.9L888.2 1173.2L888.8 1173.5L889.4 1173.8L890 1174.1L890.6 1174.4L891.2 1174.7L891.8 1175L892.4 1175.1L893 1175.1L893.6 1175.1L894.2 1175.1L894.8 1175.1L895.4 1175.1L896 1175L896.6 1175L897.2 1175.3L897.8 1176.1L898.4 1176.9L899 1177.7L899.6 1178.5L900.2 1179.3L900.8 1180.1L901.4 1180.2L902 1179.8L902.6 1179.5L903.2 1179.2L903.8 1178.8L904.4 1178.5L905 1178.2L905.6 1177.8L906.2 1177.6L906.8 1177.6L907.4 1177.7L908 1177.7L908.6 1177.7L909.2 1177.7L909.8 1177.7L910.4 1177.7L911 1177.7L911.6 1177.7L912.2 1177.7L912.8 1177.6L913.4 1177.5L914 1177.4L914.6 1177.3L915.2 1177.3L915.8 1177.2L916.4 1177.1L917 1177L917.6 1177L918.2 1177.1L918.8 1177.1L919.4 1177.1L920 1177.2L920.6 1177.2L921.2 1177.3L921.8 1177.3L922.4 1177L923 1176.6L923.6 1176.2L924.2 1175.8L924.8 1175.3L925.4 1174.9L926 1174.5L926.6 1174.1L927.2 1173.6L927.8 1173.2L928.4 1172.7L929 1172.3L929.6 1171.8L930.2 1171.3L930.8 1170.9L931.4 1171L932 1171.3L932.6 1171.7L933.2 1172.1L933.8 1172.5L934.4 1172.8L935 1173.2L935.6 1173.6L936.2 1173.7L936.8 1173.1L937.4 1172.5L938 1172L938.6 1171.4L939.2 1170.9L939.8 1170.3L940.4 1169.8L941 1169.2L941.6 1171.1L942.2 1172.9L942.8 1174.8L943.4 1176.6L944 1178.5L944.6 1187.4L945.2 1196.2L945.8 1205.1L946.4 1216.4L947 1228.8L947.6 1241.3L948.2 1250.3L948.8 1252.6L949.4 1255L950 1257.3L950.6 1258.7L951.2 1260L951.8 1261.4L952.4 1262.7L953 1264.1L953.6 1265.5L954.2 1266.8L954.8 1271.1L955.4 1289.6L956 1308.1L956.6 1326.7L957.2 1345.7L957.8 1367.9L958.4 1383.8L959 1398L959.6 1410L960.2 1422L960.8 1434L961.4 1446L962 1458L962.6 1470L963.2 1482L963.8 1490.1L964.4 1500.1L965 1510.2L965.6 1511.1L966.2 1512.1L966.8 1513L967.4 1514L968 1514.9L968.6 1513.6L969.2 1512.3L969.8 1511L970.4 1509.1L971 1507L971.6 1504.8L972.2 1502.7L972.8 1501L973.4 1501.9L974 1502.8L974.6 1503.7L975.2 1504.6L975.8 1505.5L976.4 1507.7L977 1510.5L977.6 1513.3L978.2 1516.1L978.8 1518.9L979.4 1521.7L980 1524.5L980.6 1527.3L981.2 1532.9L981.8 1539.9L982.4 1546.8L983 1553.7L983.6 1560.5L984.2 1567.4L984.8 1574.3L985.4 1584.5L986 1589.6L986.6 1594.8L987.2 1599.9L987.8 1605.1L988.4 1610.2L989 1616L989.6 1625L990.2 1634L990.8 1643L991.4 1652.2L992 1649.6L992.6 1622.8L993.2 1583.4L993.8 1518.6L994.4 1467.1L995 1422.3L995.6 1378.3L996.2 1338.3L996.8 1298.3L997.4 1263.7L998 1231.7L998.6 1202L999.2 1183.8L999.8 1165.6L1000.4 1159.5L1001 1173.2L1001.6 1190.4L1002.2 1209.1L1002.8 1230.7L1003.4 1252.3L1004 1273.9L1004.6 1291.9L1005.2 1309.9L1005.8 1327.9L1006.4 1336.2L1007 1339.6L1007.6 1343L1008.2 1344.2L1008.8 1340.9L1009.4 1337.6L1010 1334.3L1010.6 1331.5L1011.2 1328.7L1011.8 1325.9L1012.4 1323.2L1013 1320.4L1013.6 1320.1L1014.2 1319.9L1014.8 1319.7L1015.4 1319.5L1016 1319.3L1016.6 1319L1017.2 1317.7L1017.8 1314.3L1018.4 1310.8L1019 1307.3L1019.6 1303.9L1020.2 1300.4L1020.8 1297L1021.4 1293.6L1022 1290.2L1022.6 1286.8L1023.2 1283.4L1023.8 1280L1024.4 1279.4L1025 1280.2L1025.6 1281L1026.2 1281.8L1026.8 1282.6L1027.4 1283.4L1028 1284.2L1028.6 1284.9L1029.2 1285.6L1029.8 1286.4L1030.4 1287.1L1031 1287.9L1031.6 1286.1L1032.2 1284.3L1032.8 1282.5L1033.4 1280.7L1034 1278.9L1034.6 1277.1L1035.2 1275.3L1035.8 1273.5L1036.4 1272.8L1037 1272.6L1037.6 1272.4L1038.2 1272.2L1038.8 1272L1039.4 1271.8L1040 1271.6L1040.6 1271.4L1041.2 1271.2L1041.8 1271L1042.4 1271.5L1043 1272.5L1043.6 1273.5L1044.2 1274.5L1044.8 1275.5L1045.4 1276.5L1046 1277.4L1046.6 1278.4L1047.2 1279.4L1047.8 1280.4L1048.4 1279.3L1049 1277.1L1049.6 1275L1050.2 1272.8L1050.8 1270.6L1051.4 1268.5L1052 1266.3L1052.6 1264.2L1053.2 1261L1053.8 1255.7L1054.4 1250.4L1055 1245.2L1055.6 1239.9L1056.2 1234.6L1056.8 1229.4L1057.4 1227.4L1058 1227.1L1058.6 1226.8L1059.2 1226.5L1059.8 1226.2L1060.4 1225.8L1061 1225.5L1061.6 1225.2L1062.2 1224.4L1062.8 1222.4L1063.4 1220.5L1064 1218.5L1064.6 1216.6L1065.2 1214.6L1065.8 1212.7L1066.4 1212.9L1067 1214.3L1067.6 1215.6L1068.2 1217L1068.8 1218.3L1069.4 1219.7L1070 1221L1070.6 1220.4L1071.2 1219.8L1071.8 1219.1L1072.4 1218.5L1073 1217.9L1073.6 1217.3L1074.2 1216.7L1074.8 1216L1075.4 1214.4L1076 1212.3L1076.6 1210.1L1077.2 1208L1077.8 1205.8L1078.4 1203.7L1079 1201.5L1079.6 1198.6L1080.2 1195.6L1080.8 1192.6L1081.4 1189.6L1082 1186.7L1082.6 1183.7L1083.2 1180.7L1083.8 1177.7L1084.4 1178L1085 1179.9L1085.6 1181.7L1086.2 1183.6L1086.8 1185.4L1087.4 1187.3L1088 1189.1L1088.6 1187.8L1089.2 1186.4L1089.8 1185.1L1090.4 1183.7L1091 1182.4L1091.6 1181L1092.2 1179.7L1092.8 1178.3L1093.4 1176.9L1094 1175.6L1094.6 1176.6L1095.2 1177.7L1095.8 1178.7L1096.4 1179.8L1097 1180.8L1097.6 1181.9L1098.2 1182.9L1098.8 1184L1099.4 1183.1L1100 1181.2L1100.6 1179.3L1101.2 1177.5L1101.8 1175.6L1102.4 1173.7L1103 1171.8L1103.6 1168.2L1104.2 1164.6L1104.8 1160.9L1105.4 1157.3L1106 1153.6L1106.6 1146L1107.2 1138.4L1107.8 1130.8L1108.4 1126.3L1109 1123.4L1109.6 1120.4L1110.2 1117.5L1110.8 1122.1L1111.4 1134.3L1112 1146.5L1112.6 1158.7L1113.2 1168.3L1113.8 1172.6L1114.4 1176.9L1115 1181.1L1115.6 1177.5L1116.2 1173.8L1116.8 1170.2L1117.4 1166.5L1118 1162.9L1118.6 1157.8L1119.2 1152.8L1119.8 1147.8L1120.4 1142.7L1121 1137.7L1121.6 1130.1L1122.2 1122.6L1122.8 1115L1123.4 1111.6L1124 1110.4L1124.6 1109.1L1125.2 1107.8L1125.8 1106.6L1126.4 1105.9L1127 1105.5L1127.6 1105.1L1128.2 1104.7L1128.8 1104.3L1129.4 1103.9L1130 1103.5L1130.6 1103.5L1131.2 1103.6L1131.8 1103.7L1132.4 1103.7L1133 1103.8L1133.6 1103.8L1134.2 1103.9L1134.8 1103.9L1135.4 1104L1136 1104.1L1136.6 1106.8L1137.2 1109.6L1137.8 1112.3L1138.4 1115.1L1139 1117.9L1139.6 1117.1L1140.2 1116.3L1140.8 1115.5L1141.4 1114.7L1142 1113.9L1142.6 1113.1L1143.2 1112.3L1143.8 1111.5L1144.4 1111.3L1145 1111.4L1145.6 1111.4L1146.2 1111.5L1146.8 1111.6L1147.4 1111.6L1148 1111.7L1148.6 1111.7L1149.2 1111.8L1149.8 1111.9L1150.4 1111.9L1151 1112L1151.6 1112.1L1152.2 1112.1L1152.8 1112.2L1153.4 1114.4L1154 1117.6L1154.6 1120.8L1155.2 1124.1L1155.8 1127.3L1156.4 1130.2L1157 1132.8L1157.6 1135.5L1158.2 1138.2L1158.8 1140.9L1159.4 1143.6L1160 1146.3L1160.6 1146.3L1161.2 1146.3L1161.8 1146.3L1162.4 1146.3L1163 1146.3L1163.6 1146.3L1164.2 1146.3L1164.8 1146.3L1165.4 1147.8L1166 1150.2L1166.6 1152.5L1167.2 1154.9L1167.8 1157.2L1168.4 1158.1L1169 1158.4L1169.6 1158.7L1170.2 1159L1170.8 1159.2L1171.4 1159.5L1172 1159.8L1172.6 1160L1173.2 1160.3L1173.8 1160.6L1174.4 1160.8L1175 1161.1L1175.6 1161.4L1176.2 1161.7L1176.8 1162L1177.4 1162.4L1178 1162.7L1178.6 1163L1179.2 1163.3L1179.8 1163.6L1180.4 1163.9L1181 1164.2L1181.6 1164.5L1182.2 1164.9L1182.8 1165.2L1183.4 1165.5L1184 1165.8L1184.6 1166.1L1185.2 1166.4L1185.8 1166.7L1186.4 1167L1187 1167.3L1187.6 1167.6L1188.2 1167.9L1188.8 1168.2L1189.4 1168.5L1190 1168.8L1190.6 1169L1191.2 1169.3L1191.8 1169.6L1192.4 1169.9L1193 1170.2L1193.6 1170.5L1194.2 1170.8L1194.8 1171.1L1195.4 1171.1L1196 1170.8L1196.6 1170.6L1197.2 1170.4L1197.8 1170.2L1198.4 1170L1199 1169.8L1199.6 1169.6L1200.2 1169L1200.8 1168.5L1201.4 1167.9L1202 1167.3L1202.6 1166.7L1203.2 1166.2L1203.8 1165.9L1204.4 1165.6L1205 1165.3L1205.6 1165L1206.2 1164.6L1206.8 1164.3L1207.4 1164L1208 1163.7L1208.6 1165.4L1209.2 1167.1L1209.8 1168.8L1210.4 1170.6L1211 1172.3L1211.6 1174L1212.2 1174.4L1212.8 1174.8L1213.4 1175.2L1214 1175.6L1214.6 1176L1215.2 1176.5L1215.8 1176.9L1216.4 1175.7L1217 1173.7L1217.6 1171.6L1218.2 1169.6L1218.8 1167.6L1219.4 1165.6L1220 1163.6L1220.6 1161.5L1221.2 1161L1221.8 1163.4L1222.4 1165.8L1223 1168.2L1223.6 1170.6L1224.2 1173L1224.8 1175.4L1225.4 1177.9L1226 1180.4L1226.6 1183L1227.2 1185.6L1227.8 1188.2L1228.4 1190.7L1229 1193.3L1229.6 1193.4L1230.2 1193.6L1230.8 1193.7L1231.4 1193.8L1232 1193.9L1232.6 1186.3L1233.2 1178.7L1233.8 1171.1L1234.4 1167.8L1235 1166.7L1235.6 1165.5L1236.2 1164.4L1236.8 1163.2L1237.4 1159.5L1238 1154.6L1238.6 1149.6L1239.2 1145.5L1239.8 1143.3L1240.4 1141.1L1241 1138.9L1241.6 1139.3L1242.2 1139.8L1242.8 1140.2L1243.4 1140.6L1244 1141L1244.6 1141.4L1245.2 1141.8L1245.8 1142.3L1246.4 1142.1L1247 1141.7L1247.6 1141.3L1248.2 1140.9L1248.8 1140.5L1249.4 1140L1250 1139.6L1250.6 1139.2L1251.2 1138.7L1251.8 1138.2L1252.4 1137.7L1253 1137.2L1253.6 1136.7L1254.2 1136.2L1254.8 1135.7L1255.4 1135.2L1256 1134.7L1256.6 1133.9L1257.2 1133.1L1257.8 1132.4L1258.4 1131.6L1259 1130.8L1259.6 1130.1L1260.2 1128.4L1260.8 1124.9L1261.4 1121.5L1262 1118.1L1262.6 1121.7L1263.2 1125.4L1263.8 1129.1L1264.4 1132.8L1265 1136.5L1265.6 1137.7L1266.2 1139L1266.8 1140.2L1267.4 1141.4L1268 1142.7L1268.6 1143.9L1269.2 1144.5L1269.8 1143.8L1270.4 1143L1271 1142.3L1271.6 1141.5L1272.2 1140.8L1272.8 1140L1273.4 1140.4L1274 1141.3L1274.6 1142.2L1275.2 1143.1L1275.8 1144.1L1276.4 1145L1277 1145.9L1277.6 1145.3L1278.2 1144.8L1278.8 1144.2L1279.4 1143.7L1280 1143.2L1280.6 1142.6L1281.2 1142.1L1281.8 1141.5L1282.4 1141L1283 1140.4L1283.6 1139.9L1284.2 1139.7L1284.8 1140.3L1285.4 1140.9L1286 1141.5L1286.6 1142.1L1287.2 1142.7L1287.8 1143.2L1288.4 1143.8L1289 1144.4L1289.6 1145L1290.2 1145.7L1290.8 1146.5L1291.4 1147.4L1292 1148.2L1292.6 1149.1L1293.2 1149.9L1293.8 1150.8L1294.4 1151.6L1295 1152.5L1295.6 1153.3L1296.2 1154.1L1296.8 1154.7L1297.4 1155.4L1298 1156L1298.6 1156.6L1299.2 1157.3L1299.8 1157.9L1300.4 1158.8L1301 1159.8L1301.6 1160.7L1302.2 1161.7L1302.8 1162.7L1303.4 1163.6L1304 1164.6L1304.6 1165.6L1305.2 1166L1305.8 1165.5L1306.4 1164.9L1307 1164.4L1307.6 1163.8L1308.2 1163.3L1308.8 1162.7L1309.4 1162.2L1310 1161.6L1310.6 1163.3L1311.2 1164.9L1311.8 1166.6L1312.4 1168.2L1313 1169.8L1313.6 1171.5L1314.2 1172.9L1314.8 1173.9L1315.4 1174.9L1316 1175.9L1316.6 1176.9L1317.2 1177.9L1317.8 1178.9L1318.4 1179.9L1319 1180.9L1319.6 1182.9L1320.2 1184.9L1320.8 1186.9L1321.4 1188.9L1322 1190.9L1322.6 1192.9L1323.2 1193.9L1323.8 1192.9L1324.4 1192L1325 1191L1325.6 1190.1L1326.2 1189.1L1326.8 1188.2L1327.4 1187.7L1328 1187.3L1328.6 1187L1329.2 1186.6L1329.8 1186.3L1330.4 1185.9L1331 1185.6L1331.6 1185.2L1332.2 1185.4L1332.8 1186.5L1333.4 1187.6L1334 1188.8L1334.6 1189.9L1335.2 1191L1335.8 1192.1L1336.4 1193.1L1337 1194L1337.6 1195L1338.2 1195.9L1338.8 1196.8L1339.4 1197.7L1340 1198.7L1340.6 1199.8L1341.2 1200.9L1341.8 1202.1L1342.4 1203.2L1343 1204.3L1343.6 1205.5L1344.2 1205.7L1344.8 1204.3L1345.4 1202.8L1346 1201.3L1346.6 1199.8L1347.2 1198.3L1347.8 1196.9L1348.4 1195.4L1349 1193.9L1349.6 1195L1350.2 1196L1350.8 1197.1L1351.4 1198.2L1352 1199.3L1352.6 1199.1L1353.2 1198.9L1353.8 1198.8L1354.4 1198.6L1355 1198.4L1355.6 1198.2L1356.2 1197.4L1356.8 1195.1L1357.4 1192.9L1358 1190.7L1358.6 1188.5L1359.2 1186.2L1359.8 1184L1360.4 1183.8L1361 1184.6L1361.6 1185.3L1362.2 1186.1L1362.2 1222.8L1361.6 1223.3L1361 1223.8L1360.4 1224.4L1359.8 1225.1L1359.2 1226.4L1358.6 1227.6L1358 1228.8L1357.4 1230L1356.8 1231.3L1356.2 1232.5L1355.6 1233.7L1355 1234.8L1354.4 1236L1353.8 1237.2L1353.2 1238.4L1352.6 1239.5L1352 1240.7L1351.4 1239.2L1350.8 1237.7L1350.2 1236.2L1349.6 1234.6L1349 1233.1L1348.4 1234.1L1347.8 1235.2L1347.2 1236.2L1346.6 1237.3L1346 1238.3L1345.4 1239.3L1344.8 1240.4L1344.2 1241.4L1343.6 1241.8L1343 1241.9L1342.4 1242L1341.8 1242.1L1341.2 1242.2L1340.6 1242.2L1340 1242.3L1339.4 1240.4L1338.8 1238.5L1338.2 1236.6L1337.6 1234.6L1337 1232.7L1336.4 1230.8L1335.8 1229.3L1335.2 1228.6L1334.6 1227.9L1334 1227.2L1333.4 1226.6L1332.8 1225.9L1332.2 1225.2L1331.6 1225.2L1331 1225.4L1330.4 1225.7L1329.8 1225.9L1329.2 1226.2L1328.6 1226.4L1328 1226.7L1327.4 1226.9L1326.8 1227.8L1326.2 1229.8L1325.6 1231.9L1325 1234L1324.4 1236L1323.8 1238.1L1323.2 1240.1L1322.6 1239.3L1322 1237.1L1321.4 1234.9L1320.8 1232.7L1320.2 1230.5L1319.6 1228.3L1319 1226.1L1318.4 1225.5L1317.8 1225L1317.2 1224.4L1316.6 1223.8L1316 1223.3L1315.4 1222.7L1314.8 1222.2L1314.2 1221.6L1313.6 1220.9L1313 1220.2L1312.4 1219.4L1311.8 1218.6L1311.2 1217.9L1310.6 1217.1L1310 1216.4L1309.4 1216.7L1308.8 1217L1308.2 1217.2L1307.6 1217.5L1307 1217.8L1306.4 1218.1L1305.8 1218.4L1305.2 1218.7L1304.6 1218.5L1304 1218.2L1303.4 1217.8L1302.8 1217.5L1302.2 1217.1L1301.6 1216.8L1301 1216.4L1300.4 1216.1L1299.8 1215.6L1299.2 1214.7L1298.6 1213.9L1298 1213L1297.4 1212.1L1296.8 1211.3L1296.2 1210.4L1295.6 1209.8L1295 1209.2L1294.4 1208.6L1293.8 1208.1L1293.2 1207.5L1292.6 1207L1292 1206.4L1291.4 1205.9L1290.8 1205.3L1290.2 1204.8L1289.6 1204.3L1289 1203.7L1288.4 1203.2L1287.8 1202.7L1287.2 1202.2L1286.6 1201.7L1286 1201.2L1285.4 1200.7L1284.8 1200.2L1284.2 1199.6L1283.6 1199.6L1283 1199.8L1282.4 1200.1L1281.8 1200.3L1281.2 1200.5L1280.6 1200.8L1280 1201L1279.4 1201.2L1278.8 1201.4L1278.2 1201.7L1277.6 1201.9L1277 1202.1L1276.4 1202L1275.8 1201.8L1275.2 1201.7L1274.6 1201.6L1274 1201.4L1273.4 1201.3L1272.8 1201.2L1272.2 1201L1271.6 1200.9L1271 1200.7L1270.4 1200.6L1269.8 1200.4L1269.2 1200.3L1268.6 1199.3L1268 1197.8L1267.4 1196.4L1266.8 1194.9L1266.2 1193.4L1265.6 1192L1265 1190.5L1264.4 1185.2L1263.8 1179.9L1263.2 1174.6L1262.6 1169.3L1262 1163.9L1261.4 1166.5L1260.8 1169.1L1260.2 1171.6L1259.6 1174.7L1259 1178.2L1258.4 1181.6L1257.8 1185L1257.2 1188.5L1256.6 1191.9L1256 1195.3L1255.4 1196L1254.8 1196.7L1254.2 1197.4L1253.6 1198.1L1253 1198.8L1252.4 1199.5L1251.8 1200.2L1251.2 1200.9L1250.6 1201.1L1250 1201.2L1249.4 1201.2L1248.8 1201.3L1248.2 1201.4L1247.6 1201.4L1247 1201.5L1246.4 1201.6L1245.8 1201.6L1245.2 1201.5L1244.6 1201.5L1244 1201.4L1243.4 1201.3L1242.8 1201.3L1242.2 1201.2L1241.6 1201.1L1241 1201.1L1240.4 1202.2L1239.8 1203.3L1239.2 1204.4L1238.6 1206.4L1238 1208.9L1237.4 1211.5L1236.8 1213.4L1236.2 1214.3L1235.6 1215.1L1235 1216L1234.4 1216.9L1233.8 1219.6L1233.2 1226.1L1232.6 1232.6L1232 1239.1L1231.4 1239.4L1230.8 1239.7L1230.2 1240L1229.6 1240.4L1229 1240.7L1228.4 1237.1L1227.8 1233.5L1227.2 1230L1226.6 1226.4L1226 1222.8L1225.4 1219.2L1224.8 1216.3L1224.2 1214.8L1223.6 1213.3L1223 1211.8L1222.4 1210.3L1221.8 1208.8L1221.2 1207.3L1220.6 1207.6L1220 1208.8L1219.4 1210.1L1218.8 1211.3L1218.2 1212.5L1217.6 1213.7L1217 1214.9L1216.4 1216.2L1215.8 1217.3L1215.2 1218.4L1214.6 1219.5L1214 1220.6L1213.4 1221.7L1212.8 1222.8L1212.2 1223.9L1211.6 1225L1211 1223.1L1210.4 1221.1L1209.8 1219.2L1209.2 1217.2L1208.6 1215.2L1208 1213.3L1207.4 1213.3L1206.8 1213.4L1206.2 1213.4L1205.6 1213.5L1205 1213.5L1204.4 1213.6L1203.8 1213.6L1203.2 1213.7L1202.6 1214.9L1202 1216.8L1201.4 1218.7L1200.8 1220.6L1200.2 1222.5L1199.6 1224.4L1199 1223.5L1198.4 1222.7L1197.8 1221.8L1197.2 1221L1196.6 1220.1L1196 1219.2L1195.4 1218.4L1194.8 1217.7L1194.2 1217.5L1193.6 1217.2L1193 1217L1192.4 1216.7L1191.8 1216.5L1191.2 1216.2L1190.6 1216L1190 1215.7L1189.4 1215.5L1188.8 1215.2L1188.2 1215L1187.6 1214.8L1187 1214.5L1186.4 1214.3L1185.8 1214L1185.2 1213.8L1184.6 1213.6L1184 1213.6L1183.4 1213.6L1182.8 1213.5L1182.2 1213.5L1181.6 1213.4L1181 1213.4L1180.4 1213.3L1179.8 1213.3L1179.2 1213.2L1178.6 1213.2L1178 1213.1L1177.4 1213.1L1176.8 1213L1176.2 1213L1175.6 1212.9L1175 1212.9L1174.4 1212.6L1173.8 1212.2L1173.2 1211.9L1172.6 1211.6L1172 1211.2L1171.4 1210.9L1170.8 1210.6L1170.2 1210.2L1169.6 1209.9L1169 1209.6L1168.4 1209.3L1167.8 1208.7L1167.2 1207.9L1166.6 1207L1166 1206.2L1165.4 1205.3L1164.8 1204.7L1164.2 1204.7L1163.6 1204.7L1163 1204.7L1162.4 1204.7L1161.8 1204.7L1161.2 1204.7L1160.6 1204.7L1160 1204.7L1159.4 1201.3L1158.8 1197.8L1158.2 1194.3L1157.6 1190.9L1157 1187.4L1156.4 1183.9L1155.8 1180.5L1155.2 1177.1L1154.6 1173.8L1154 1170.4L1153.4 1167L1152.8 1165L1152.2 1165.7L1151.6 1166.3L1151 1167L1150.4 1167.7L1149.8 1168.2L1149.2 1168.3L1148.6 1168.5L1148 1168.7L1147.4 1168.8L1146.8 1169L1146.2 1169.1L1145.6 1169.3L1145 1169.5L1144.4 1169.6L1143.8 1169.9L1143.2 1170.4L1142.6 1171L1142 1171.5L1141.4 1172L1140.8 1172.5L1140.2 1173.1L1139.6 1173.6L1139 1174.1L1138.4 1172.7L1137.8 1171.3L1137.2 1169.8L1136.6 1168.4L1136 1167L1135.4 1166L1134.8 1165.1L1134.2 1164.1L1133.6 1163.2L1133 1162.2L1132.4 1161.3L1131.8 1160.3L1131.2 1159.4L1130.6 1158.5L1130 1157.5L1129.4 1158.5L1128.8 1159.4L1128.2 1160.4L1127.6 1161.3L1127 1162.3L1126.4 1163.2L1125.8 1164L1125.2 1164.6L1124.6 1165.1L1124 1165.6L1123.4 1166.2L1122.8 1168L1122.2 1172.4L1121.6 1176.9L1121 1181.3L1120.4 1185.5L1119.8 1189.6L1119.2 1193.8L1118.6 1198L1118 1202.1L1117.4 1206.1L1116.8 1210L1116.2 1214L1115.6 1217.9L1115 1221.8L1114.4 1220.4L1113.8 1219L1113.2 1217.6L1112.6 1211L1112 1201.9L1111.4 1192.7L1110.8 1183.5L1110.2 1179.2L1109.6 1179.6L1109 1180L1108.4 1180.5L1107.8 1181.8L1107.2 1185L1106.6 1188.2L1106 1191.4L1105.4 1197.5L1104.8 1203.7L1104.2 1209.8L1103.6 1216L1103 1222.2L1102.4 1223.6L1101.8 1225L1101.2 1226.4L1100.6 1227.9L1100 1229.3L1099.4 1230.7L1098.8 1231.4L1098.2 1230.5L1097.6 1229.6L1097 1228.8L1096.4 1227.9L1095.8 1227L1095.2 1226.2L1094.6 1225.3L1094 1224.4L1093.4 1225L1092.8 1225.5L1092.2 1226L1091.6 1226.6L1091 1227.1L1090.4 1227.7L1089.8 1228.2L1089.2 1228.8L1088.6 1229.3L1088 1229.8L1087.4 1230.2L1086.8 1230.6L1086.2 1230.9L1085.6 1231.3L1085 1231.6L1084.4 1232L1083.8 1233.4L1083.2 1236.9L1082.6 1240.4L1082 1243.9L1081.4 1247.4L1080.8 1251L1080.2 1254.5L1079.6 1258L1079 1261.5L1078.4 1262.2L1077.8 1262.9L1077.2 1263.6L1076.6 1264.3L1076 1265L1075.4 1265.7L1074.8 1266.6L1074.2 1268.1L1073.6 1269.5L1073 1270.9L1072.4 1272.3L1071.8 1273.7L1071.2 1275.2L1070.6 1276.6L1070 1278L1069.4 1276.6L1068.8 1275.3L1068.2 1273.9L1067.6 1272.6L1067 1271.2L1066.4 1269.9L1065.8 1269.6L1065.2 1271.6L1064.6 1273.5L1064 1275.5L1063.4 1277.4L1062.8 1279.4L1062.2 1281.3L1061.6 1282L1061 1282.1L1060.4 1282.1L1059.8 1282.2L1059.2 1282.2L1058.6 1282.3L1058 1282.3L1057.4 1282.3L1056.8 1283L1056.2 1285L1055.6 1286.9L1055 1288.8L1054.4 1290.8L1053.8 1292.7L1053.2 1294.6L1052.6 1296.7L1052 1298.9L1051.4 1301L1050.8 1303.2L1050.2 1305.4L1049.6 1307.5L1049 1309.7L1048.4 1311.8L1047.8 1313.2L1047.2 1312.9L1046.6 1312.5L1046 1312.2L1045.4 1311.9L1044.8 1311.6L1044.2 1311.3L1043.6 1311L1043 1310.6L1042.4 1310.3L1041.8 1310.2L1041.2 1310.4L1040.6 1310.6L1040 1310.8L1039.4 1311L1038.8 1311.2L1038.2 1311.4L1037.6 1311.6L1037 1311.8L1036.4 1312L1035.8 1312.7L1035.2 1314.5L1034.6 1316.3L1034 1318.1L1033.4 1319.9L1032.8 1321.7L1032.2 1323.5L1031.6 1325.3L1031 1327.1L1030.4 1326.7L1029.8 1326.2L1029.2 1325.8L1028.6 1325.3L1028 1324.9L1027.4 1323.8L1026.8 1322.8L1026.2 1321.8L1025.6 1320.8L1025 1319.8L1024.4 1318.8L1023.8 1318.6L1023.2 1320L1022.6 1321.4L1022 1322.8L1021.4 1324.2L1020.8 1325.6L1020.2 1327L1019.6 1331.5L1019 1337.7L1018.4 1343.8L1017.8 1349.9L1017.2 1356.1L1016.6 1358L1016 1357.7L1015.4 1357.5L1014.8 1357.3L1014.2 1357.1L1013.6 1356.9L1013 1356.6L1012.4 1357L1011.8 1357.5L1011.2 1357.9L1010.6 1358.3L1010 1358.7L1009.4 1363.8L1008.8 1368.9L1008.2 1374L1007.6 1371.8L1007 1365.9L1006.4 1360L1005.8 1350.1L1005.2 1332.1L1004.6 1314.1L1004 1296.1L1003.4 1271.2L1002.8 1246.3L1002.2 1221.4L1001.6 1200.6L1001 1181.8L1000.4 1159.5L999.8 1165.6L999.2 1183.8L998.6 1202L998 1231.7L997.4 1263.7L996.8 1298.3L996.2 1338.3L995.6 1378.3L995 1422.3L994.4 1467.1L993.8 1518.6L993.2 1583.4L992.6 1622.8L992 1649.6L991.4 1652.2L990.8 1643L990.2 1634L989.6 1625L989 1616L988.4 1610.2L987.8 1605.1L987.2 1599.9L986.6 1594.8L986 1589.6L985.4 1584.5L984.8 1582L984.2 1576.2L983.6 1570.3L983 1564.5L982.4 1558.7L981.8 1553.5L981.2 1549.4L980.6 1546.4L980 1545.5L979.4 1544.5L978.8 1543.6L978.2 1542.6L977.6 1541.7L977 1540.7L976.4 1539.8L975.8 1538.8L975.2 1537.9L974.6 1537L974 1536.1L973.4 1535.2L972.8 1534.3L972.2 1535.7L971.6 1537.5L971 1539.4L970.4 1541.2L969.8 1542.5L969.2 1542.7L968.6 1542.9L968 1543.1L967.4 1542.4L966.8 1541.8L966.2 1541.1L965.6 1540.5L965 1539.8L964.4 1520.3L963.8 1500.7L963.2 1482L962.6 1470L962 1458L961.4 1446L960.8 1434L960.2 1422L959.6 1410L959 1398L958.4 1383.8L957.8 1367.9L957.2 1353.2L956.6 1335.4L956 1324L955.4 1313.9L954.8 1303.7L954.2 1299.9L953.6 1297.3L953 1294.7L952.4 1292.1L951.8 1289.5L951.2 1286.9L950.6 1284.3L950 1281.7L949.4 1279.8L948.8 1278L948.2 1276.1L947.6 1271.1L947 1264.7L946.4 1258.2L945.8 1251.8L945.2 1245.4L944.6 1238.9L944 1232.5L943.4 1230.4L942.8 1228.2L942.2 1226.1L941.6 1223.9L941 1221.8L940.4 1222.1L939.8 1222.3L939.2 1222.6L938.6 1222.9L938 1223.2L937.4 1223.5L936.8 1223.8L936.2 1224.1L935.6 1223.9L935 1223.4L934.4 1222.9L933.8 1222.5L933.2 1222L932.6 1221.5L932 1221.1L931.4 1220.6L930.8 1220.2L930.2 1219.9L929.6 1219.6L929 1219.2L928.4 1218.9L927.8 1218.6L927.2 1218.3L926.6 1218.7L926 1219.5L925.4 1220.3L924.8 1221.1L924.2 1221.8L923.6 1222.6L923 1223.4L922.4 1224.2L921.8 1224.8L921.2 1225.2L920.6 1225.6L920 1226L919.4 1226.4L918.8 1226.8L918.2 1227.2L917.6 1227.6L917 1228L916.4 1228.7L915.8 1229.3L915.2 1229.9L914.6 1230.5L914 1231.2L913.4 1231.8L912.8 1232.4L912.2 1233L911.6 1233.2L911 1233.1L910.4 1233L909.8 1232.9L909.2 1232.8L908.6 1232.8L908 1232.7L907.4 1232.6L906.8 1232.5L906.2 1232.4L905.6 1233L905 1233.8L904.4 1234.7L903.8 1235.6L903.2 1236.4L902.6 1237.3L902 1238.2L901.4 1239L900.8 1239.2L900.2 1238.1L899.6 1236.9L899 1235.8L898.4 1234.7L897.8 1233.5L897.2 1232.4L896.6 1232.1L896 1232.2L895.4 1232.3L894.8 1232.4L894.2 1232.5L893.6 1232.6L893 1232.7L892.4 1232.8L891.8 1232.6L891.2 1232L890.6 1231.3L890 1230.7L889.4 1230L888.8 1229.4L888.2 1228.7L887.6 1228L887 1227.4L886.4 1227.1L885.8 1226.7L885.2 1226.4L884.6 1226.1L884 1225.8L883.4 1225.5L882.8 1223.7L882.2 1219.2L881.6 1214.6L881 1210L880.4 1205.5L879.8 1201.8L879.2 1199.8L878.6 1197.9L878 1196L877.4 1194.1L876.8 1193.9L876.2 1197.1L875.6 1200.4L875 1203.6L874.4 1202.8L873.8 1201.9L873.2 1201.1L872.6 1200.2L872 1199.4L871.4 1198.5L870.8 1198.1L870.2 1198.6L869.6 1199.1L869 1199.5L868.4 1200L867.8 1200.5L867.2 1201L866.6 1201.4L866 1201.9L865.4 1204L864.8 1206.2L864.2 1208.3L863.6 1210.5L863 1212.6L862.4 1214L861.8 1211.5L861.2 1209.1L860.6 1211.4L860 1216.1L859.4 1218.8L858.8 1221.5L858.2 1224.3L857.6 1227L857 1229.7L856.4 1232.4L855.8 1235.2L855.2 1238.3L854.6 1241.4L854 1244.5L853.4 1247.6L852.8 1250.7L852.2 1253.7L851.6 1255.3L851 1256L850.4 1256.8L849.8 1257.5L849.2 1258.3L848.6 1259L848 1259.8L847.4 1258.7L846.8 1257.6L846.2 1256.6L845.6 1255.5L845 1254.4L844.4 1253.4L843.8 1252.3L843.2 1251.2L842.6 1250.1L842 1249.1L841.4 1250L840.8 1250.9L840.2 1251.7L839.6 1252.6L839 1253.5L838.4 1254.4L837.8 1255.3L837.2 1256.2L836.6 1257.1L836 1258L835.4 1257.7L834.8 1257.5L834.2 1257.2L833.6 1257L833 1256.7L832.4 1256.4L831.8 1256.2L831.2 1255.9L830.6 1255.7L830 1255.4L829.4 1256.8L828.8 1258.2L828.2 1259.6L827.6 1261L827 1262.4L826.4 1263.8L825.8 1265.2L825.2 1266.5L824.6 1267.9L824 1269.3L823.4 1270.7L822.8 1271.4L822.2 1270.5L821.6 1269.6L821 1268.8L820.4 1267.9L819.8 1267L819.2 1266.2L818.6 1265.3L818 1264.4L817.4 1265L816.8 1265.7L816.2 1266.3L815.6 1266.9L815 1267.5L814.4 1268.2L813.8 1268.8L813.2 1269.4L812.6 1270.1L812 1270.7L811.4 1271.8L810.8 1272.8L810.2 1273.9L809.6 1275L809 1276.1L808.4 1277.2L807.8 1279.2L807.2 1282.9L806.6 1286.7L806 1290.5L805.4 1294.3L804.8 1295.6L804.2 1291.8L803.6 1288.1L803 1284.4L802.4 1280.7L801.8 1276.1L801.2 1269.8L800.6 1263.5L800 1257.2L799.4 1251L798.8 1244.7L798.2 1238.4L797.6 1237.2L797 1238.6L796.4 1240L795.8 1241.4L795.2 1242.8L794.6 1244.2L794 1245.6L793.4 1243.3L792.8 1241L792.2 1238.8L791.6 1236.5L791 1234.2L790.4 1216.1L789.8 1197.9L789.2 1200.9L788.6 1231.7L788 1260.3L787.4 1291.7L786.8 1314.9L786.2 1328.2L785.6 1341.5L785 1340.2L784.4 1335.9L783.8 1326.8L783.2 1307.9L782.6 1286L782 1261.3L781.4 1236.5L780.8 1215.3L780.2 1201.1L779.6 1187L779 1172.9L778.4 1158.7L777.8 1137.7L777.2 1113.2L776.6 1086.7L776 1059.3L775.4 1045.2L774.8 1058L774.2 1070.7L773.6 1088.4L773 1108.5L772.4 1128.6L771.8 1172L771.2 1220L770.6 1292.9L770 1365L769.4 1437L768.8 1496.9L768.2 1532.8L767.6 1568.6L767 1582.2L766.4 1573.7L765.8 1565.9L765.2 1559.8L764.6 1553.6L764 1547.4L763.4 1541.2L762.8 1535L762.2 1529.1L761.6 1523.2L761 1517.4L760.4 1511.5L759.8 1505.6L759.2 1499.7L758.6 1493.9L758 1488L757.4 1478.3L756.8 1473L756.2 1464L755.6 1457.6L755 1456.1L754.4 1454.6L753.8 1453.1L753.2 1451.7L752.6 1450.2L752 1448.7L751.4 1446.8L750.8 1444.8L750.2 1442.9L749.6 1441L749 1439.1L748.4 1437.1L747.8 1432.4L747.2 1421.9L746.6 1411.5L746 1402.8L745.4 1394.5L744.8 1386.1L744.2 1374.5L743.6 1362.8L743 1349L742.4 1335.2L741.8 1320.5L741.2 1304.1L740.6 1287.6L740 1271.2L739.4 1254.7L738.8 1223.2L738.2 1188.6L737.6 1154L737 1160.8L736.4 1164.7L735.8 1168.6L735.2 1172.5L734.6 1179.3L734 1187.5L733.4 1195.8L732.8 1202.2L732.2 1204.6L731.6 1207.1L731 1209.6L730.4 1212.1L729.8 1214.5L729.2 1217L728.6 1216.2L728 1213.7L727.4 1211.2L726.8 1208.8L726.2 1206.3L725.6 1203.8L725 1201.3L724.4 1198.5L723.8 1195.7L723.2 1192.9L722.6 1190.1L722 1187.2L721.4 1184.4L720.8 1181.6L720.2 1178.8L719.6 1177.3L719 1176.5L718.4 1175.6L717.8 1174.8L717.2 1173.9L716.6 1173.1L716 1172.3L715.4 1171.4L714.8 1171L714.2 1171.5L713.6 1171.9L713 1172.4L712.4 1172.9L711.8 1173.3L711.2 1173.8L710.6 1174.3L710 1174.7L709.4 1175.2L708.8 1175.7L708.2 1176.1L707.6 1176.4L707 1176.7L706.4 1176.9L705.8 1177.1L705.2 1177.3L704.6 1177.6L704 1177.8L703.4 1178L702.8 1178.6L702.2 1179.8L701.6 1181.1L701 1182.3L700.4 1183.5L699.8 1184.8L699.2 1186L698.6 1187.3L698 1188.5L697.4 1186.6L696.8 1184.7L696.2 1182.8L695.6 1180.9L695 1178.9L694.4 1178.8L693.8 1178.6L693.2 1178.5L692.6 1178.3L692 1178.2L691.4 1178L690.8 1177.8L690.2 1177.7L689.6 1177.5L689 1177.4L688.4 1178.5L687.8 1179.6L687.2 1180.7L686.6 1181.8L686 1183L685.4 1184.1L684.8 1184.9L684.2 1185.3L683.6 1185.6L683 1186L682.4 1186.3L681.8 1186.6L681.2 1187L680.6 1187.3L680 1187.7L679.4 1188L678.8 1188.4L678.2 1188.8L677.6 1189.1L677 1189.5L676.4 1189.9L675.8 1190.3L675.2 1190.6L674.6 1191L674 1191.4L673.4 1191.8L672.8 1191.8L672.2 1191.2L671.6 1190.5L671 1189.9L670.4 1189.2L669.8 1188.6L669.2 1187.9L668.6 1187.3L668 1186.6L667.4 1188.4L666.8 1190.1L666.2 1191.9L665.6 1193.7L665 1195.4L664.4 1197.2L663.8 1198.9L663.2 1200.7L662.6 1202.7L662 1204.9L661.4 1207L660.8 1209.2L660.2 1211.4L659.6 1213.6L659 1215.7L658.4 1217.9L657.8 1220.1L657.2 1222.3L656.6 1222.9L656 1222.7L655.4 1222.6L654.8 1222.5L654.2 1222.3L653.6 1222.2L653 1222L652.4 1221.9L651.8 1221.8L651.2 1221.6L650.6 1221.5L650 1221.4L649.4 1221.2L648.8 1221.1L648.2 1220.9L647.6 1220.8L647 1220.7L646.4 1220.5L645.8 1221.4L645.2 1224.4L644.6 1227.4L644 1230.4L643.4 1233.4L642.8 1236.4L642.2 1239.4L641.6 1241.7L641 1243.8L640.4 1245.8L639.8 1247.8L639.2 1249.8L638.6 1251.9L638 1253.9L637.4 1255.9L636.8 1257.9L636.2 1260L635.6 1260.5L635 1260.4L634.4 1260.2L633.8 1260.1L633.2 1259.9L632.6 1259.7L632 1259.6L631.4 1259.4L630.8 1259.3L630.2 1259.1L629.6 1258.9L629 1258.8L628.4 1258.6L627.8 1258.5L627.2 1258.3L626.6 1259.9L626 1262.3L625.4 1264.7L624.8 1267.2L624.2 1269.6L623.6 1272.1L623 1274.5L622.4 1276.9L621.8 1279.4L621.2 1281.8L620.6 1284.2L620 1286.7L619.4 1285.3L618.8 1283.8L618.2 1282.4L617.6 1281L617 1279.5L616.4 1278.1L615.8 1277.4L615.2 1278.2L614.6 1278.9L614 1279.7L613.4 1280.5L612.8 1281.2L612.2 1282L611.6 1282.7L611 1283.5L610.4 1284.3L609.8 1285L609.2 1285.8L608.6 1288L608 1290.8L607.4 1293.7L606.8 1296.6L606.2 1299.5L605.6 1302.4L605 1305.3L604.4 1308.2L603.8 1310.3L603.2 1310.9L602.6 1311.5L602 1312.1L601.4 1312.7L600.8 1313.3L600.2 1313.8L599.6 1314.4L599 1315L598.4 1312.1L597.8 1309.1L597.2 1306.2L596.6 1303.2L596 1300.3L595.4 1297.3L594.8 1294.4L594.2 1291.4L593.6 1288.5L593 1285.5L592.4 1287.2L591.8 1288.9L591.2 1290.7L590.6 1292.4L590 1294.1L589.4 1295.8L588.8 1297.2L588.2 1297.8L587.6 1298.5L587 1299.2L586.4 1299.8L585.8 1300.5L585.2 1301.1L584.6 1302.1L584 1303.1L583.4 1304.2L582.8 1305.2L582.2 1306.3L581.6 1307.3L581 1308.4L580.4 1309.4L579.8 1310.6L579.2 1312L578.6 1313.5L578 1314.9L577.4 1316.3L576.8 1317.8L576.2 1319.2L575.6 1321.1L575 1323.2L574.4 1325.3L573.8 1327.4L573.2 1329.5L572.6 1331.6L572 1333.7L571.4 1337.5L570.8 1341.3L570.2 1345.1L569.6 1358.8L569 1377.5L568.4 1393.9L567.8 1398.6L567.2 1403.4L566.6 1402.7L566 1399.2L565.4 1394.3L564.8 1381.9L564.2 1369.5L563.6 1355.6L563 1334.7L562.4 1313.7L561.8 1288.8L561.2 1261.9L560.6 1235.1L560 1201.4L559.4 1164.4L558.8 1127.4L558.2 1096.1L557.6 1061.5L557 1079.8L556.4 1101L555.8 1137L555.2 1173L554.6 1225L554 1285L553.4 1351.2L552.8 1420.4L552.2 1469.6L551.6 1498.8L551 1528L550.4 1557.1L549.8 1559.1L549.2 1555.7L548.6 1552.2L548 1548.7L547.4 1544.2L546.8 1538.5L546.2 1532.8L545.6 1527.1L545 1521.5L544.4 1515.8L543.8 1509.9L543.2 1503.6L542.6 1497.4L542 1491.1L541.4 1484.9L540.8 1478.6L540.2 1478.1L539.6 1475.6L539 1473.1L538.4 1470.5L537.8 1468L537.2 1465.5L536.6 1464.3L536 1463.9L535.4 1463.4L534.8 1463L534.2 1462.5L533.6 1457L533 1448.9L532.4 1439.4L531.8 1435.1L531.2 1430.8L530.6 1426.5L530 1422.2L529.4 1417.9L528.8 1413L528.2 1407L527.6 1401L527 1396.3L526.4 1391.9L525.8 1387.4L525.2 1383L524.6 1376.9L524 1367.6L523.4 1358.2L522.8 1350.8L522.2 1351.9L521.6 1349.7L521 1347.4L520.4 1339.7L519.8 1332L519.2 1324.3L518.6 1320.8L518 1319.3L517.4 1317.8L516.8 1316.3L516.2 1314.9L515.6 1314.2L515 1314L514.4 1313.8L513.8 1313.6L513.2 1313.4L512.6 1309.9L512 1304.8L511.4 1299.7L510.8 1293.3L510.2 1284.3L509.6 1275.2L509 1266.1L508.4 1246.5L507.8 1226.9L507.2 1207.4L506.6 1187.8L506 1177.3L505.4 1166.9L504.8 1156.4L504.2 1146L503.6 1135.5L503 1125.1Z"/>
<path stroke="#1f77b4" stroke-width="2.0" d="M130.5 1093.8L131.4 1045.1L132 1045.5L132.9 1093.2L133.5 1093.6L133.7 1081.8L134 1070.1L134.2 1058.5L134.4 1047L134.7 1048.6L134.9 1050.2L135.1 1051.8L135.3 1060.4L135.5 1069L135.7 1077.5L135.9 1086L136.2 1094.4L136.4 1093.4L136.6 1092.5L136.8 1091.6L137 1081.9L137.2 1072.3L137.5 1062.7L137.7 1053.3L137.9 1054.2L138.1 1055.1L138.3 1056L138.5 1064.8L138.7 1073.6L139 1082.2L139.2 1090.8L139.4 1099.3L139.6 1099.4L139.8 1099.4L140 1099.4L140.2 1090.8L140.5 1082.2L140.7 1073.5L140.9 1064.7L141.1 1067L141.3 1069.3L141.5 1071.6L141.7 1080.5L142 1089.5L142.2 1098.6L142.4 1107.7L142.6 1116.9L142.8 1118L143 1119.1L143.2 1120.3L143.4 1111L143.7 1101.6L143.9 1092.1L144.1 1082.6L144.3 1084L144.5 1085.3L144.7 1086.7L144.9 1098.4L145.1 1109.7L145.3 1120.9L145.5 1132L145.7 1131L145.9 1130.1L146.1 1129.2L146.4 1119.5L146.6 1110L146.8 1100.6L147.1 1091.2L147.3 1092L147.5 1092.7L147.7 1093.4L147.9 1105.1L148.1 1116.7L148.3 1128.2L148.5 1139.6L148.7 1139.3L148.9 1138.9L149.1 1138.6L149.4 1128.2L149.6 1117.8L149.8 1107.5L150.1 1097.4L150.3 1098.4L150.5 1099.4L150.7 1100.4L150.9 1112L151.1 1123.5L151.4 1134.9L151.6 1146.3L152.2 1143.4L153.1 1104.6L153.7 1105.2L154.9 1149.3L155.5 1146.5L156.5 1107.5L157.1 1108.8L158.2 1149.6L158.8 1149.3L159.7 1104.5L160.3 1105.5L160.6 1120.3L160.8 1135.1L161 1150L161.2 1149.2L161.5 1148.4L161.7 1147.6L161.9 1135.6L162.1 1123.6L162.4 1111.5L162.6 1099.3L162.8 1098.8L163 1098.3L163.2 1097.8L163.4 1111L163.7 1124.4L163.9 1137.7L164.1 1136.5L164.3 1135.3L164.5 1134L164.8 1123.7L165 1113.3L165.2 1102.9L165.5 1092.5L165.7 1092.1L165.9 1091.7L166.1 1091.3L166.3 1102.2L166.6 1113.1L166.8 1124.1L167.1 1135.3L167.7 1134.7L168.6 1089.9L169.2 1093.9L170.5 1136.5L171.2 1135.1L172.1 1094.9L172.7 1097L173.4 1140.8L174.1 1139.7L174.3 1129.4L174.5 1119.2L174.7 1109.1L175 1099L175.2 1101.5L175.4 1104.1L175.6 1106.6L175.8 1118.7L176 1130.8L176.2 1142.8L176.4 1143L176.6 1143.1L176.9 1143.3L177.1 1133.8L177.3 1124.3L177.5 1114.9L177.8 1105.6L178 1106.1L178.2 1106.6L178.4 1107.2L178.6 1116.5L178.9 1125.7L179.1 1134.9L179.3 1144.1L179.6 1153.2L180.2 1149.7L181.1 1112.1L181.8 1117L182.5 1154L183.1 1153.5L184.1 1112.7L184.7 1113.6L185.7 1156.1L186.3 1155.6L187.3 1109.3L187.9 1110L188.8 1158.1L189 1158.6L189.2 1159L189.4 1159.4L189.7 1148.8L189.9 1138.2L190.1 1127.6L190.4 1116.8L190.6 1118.6L190.8 1120.4L191 1122.1L191.2 1133L191.4 1144L191.7 1154.9L191.9 1165.9L192.1 1166.1L192.3 1166.2L192.5 1166.4L192.7 1155.4L193 1144.3L193.2 1133.3L193.4 1122.2L193.6 1123L193.9 1123.8L194.1 1124.6L194.3 1134.5L194.5 1144.5L194.7 1154.5L195 1164.5L195.2 1174.5L195.4 1174.4L195.6 1174.2L195.8 1174.1L196.7 1124.2L196.9 1124.6L197.1 1125.1L197.4 1125.5L197.6 1136.5L197.8 1147.3L198 1158.1L198.2 1168.7L198.4 1167.3L198.6 1165.9L198.8 1164.4L199 1153.7L199.3 1143.1L199.5 1132.6L199.7 1122.2L199.9 1122.3L200.2 1122.4L200.4 1122.5L200.6 1133.1L200.8 1143.6L201 1154L201.2 1164.3L201.4 1163.3L201.6 1162.4L201.8 1161.5L202.1 1149.9L202.3 1138.5L202.5 1127.2L202.8 1116L203.4 1116.2L204.5 1153L205.1 1151.6L206 1106.7L206.6 1107.5L207.6 1149.3L208.2 1147L209.2 1101.7L209.4 1102.5L209.6 1103.2L209.8 1103.9L210 1119.8L210.2 1135.7L210.3 1151.4L210.6 1151.4L210.8 1151.3L211 1151.3L211.2 1141.3L211.4 1131.3L211.7 1121.5L211.9 1111.7L212.1 1112.4L212.3 1113.1L212.5 1113.8L212.7 1123.1L213 1132.4L213.2 1141.6L213.4 1150.7L213.7 1159.7L213.9 1159.6L214.1 1159.5L214.3 1159.4L215.2 1120.7L215.8 1124.5L216.6 1165.1L217.3 1166.1L218.2 1123.1L218.8 1125.5L219.9 1169.9L220.5 1165.8L221.4 1123.2L222 1123.7L222.8 1164.7L223.4 1161.7L224.4 1122.9L225 1125.3L226.1 1164.7L226.7 1161.8L227.7 1119.6L228.3 1122.1L229.2 1161.4L229.8 1161.7L230.7 1118L231.4 1118.7L232.3 1162.8L232.9 1161.7L233.8 1124.6L234.4 1126.8L235.2 1165.3L235.9 1162L236.8 1122.2L237.4 1122.9L238.4 1165L239.1 1162.4L240 1117.3L240.6 1123L241.4 1160L242.1 1154.5L243 1117.1L243.6 1118.3L244.5 1159.8L245.1 1156.8L246 1117.4L246.7 1118.8L247.8 1158.4L248.5 1156.4L249.4 1112.6L250 1116.9L250.7 1157.4L251.3 1155.7L252.3 1114.2L252.5 1114.5L252.7 1114.9L252.9 1115.2L253.1 1122.4L253.3 1129.6L253.5 1136.7L253.8 1143.7L254 1150.7L254.2 1157.7L254.4 1155.4L254.6 1153.1L254.8 1150.9L255 1139.7L255.3 1128.7L255.5 1117.6L255.7 1106.7L255.9 1107.7L256.1 1108.8L256.4 1109.8L256.6 1120.4L256.8 1130.9L257 1141.4L257.2 1151.8L257.4 1150.3L257.6 1148.9L257.8 1147.4L258.1 1135.2L258.3 1123L258.5 1111L258.8 1099L259 1099.6L259.2 1100.1L259.4 1100.7L259.6 1114.3L259.7 1128L259.9 1141.5L260.5 1141.6L261.4 1101L262.1 1103.9L263.3 1148L264 1142.5L264.9 1105.1L265.5 1106.6L266.2 1152.4L266.8 1153L267.8 1106.1L268.4 1110.6L269.5 1157.8L270.1 1156.2L271.1 1110.2L271.7 1113.6L272.6 1161.6L273.2 1161.2L274.2 1116L274.8 1116.5L275.4 1159.3L276 1156.5L276.9 1114.7L277.6 1116.5L278.8 1160.1L279.4 1158.5L280.3 1111.1L280.9 1114.5L281.9 1162.8L282.5 1162.6L283.4 1110.9L284 1112.5L285.1 1167.3L285.8 1162.2L286.7 1121.3L287.3 1123.2L287.9 1174.7L288.5 1174.4L289.5 1119.5L290.1 1124.4L291.3 1179L291.9 1178.9L292.9 1125.3L293.5 1127.5L294.1 1176.1L294.7 1170.1L295.7 1130.4L296.3 1130.7L297.3 1169.7L298 1162.9L298.9 1129.8L299.5 1131.2L300.4 1162L301 1160.4L301.9 1127.3L302.5 1129.6L303.8 1160L304.4 1156.1L305.4 1125.2L306 1127.9L306.8 1157L307.4 1155.8L307.6 1148.3L307.9 1140.8L308.1 1133L308.3 1125.1L308.5 1126.1L308.8 1127.1L309 1128.2L309.2 1136.1L309.4 1144.1L309.7 1152.3L309.9 1160.7L310.2 1169.2L310.4 1169.5L310.6 1169.9L310.8 1170.3L311 1162.1L311.3 1153.8L311.5 1145.4L311.7 1136.8L311.9 1137.6L312.1 1138.3L312.3 1139.1L312.6 1153.8L312.8 1168.7L313 1183.8L313.2 1183.4L313.4 1182.9L313.6 1182.4L313.9 1173L314.1 1163.3L314.3 1153.5L314.5 1143.6L314.8 1144.7L315 1145.9L315.2 1146.8L316.1 1188.4L316.8 1181.3L317.7 1141.6L318.3 1144.1L319.2 1183.7L319.9 1181.1L320.8 1144L321.4 1144.4L322.1 1176.7L322.7 1176.6L323.7 1140.6L324.3 1141.6L325.3 1180.6L325.9 1178.2L326.8 1139.1L327.5 1141.6L328.6 1184.2L329.2 1184.9L330.2 1144.6L330.8 1146L331 1159.7L331.2 1171.8L331.4 1183.9L331.6 1182.4L331.9 1181L332.1 1179.5L332.3 1168.5L332.5 1157.5L332.8 1146.6L333 1135.8L333.2 1135.5L333.4 1135.3L333.6 1135L333.8 1141.2L334 1147.3L334.2 1153.3L334.4 1159.3L334.6 1165.2L334.8 1163.6L335 1162.1L335.2 1160.5L335.5 1149.6L335.7 1138.9L335.9 1128.2L336.2 1117.6L336.4 1117.5L336.6 1117.4L336.8 1117.3L337 1125.7L337.2 1134.2L337.5 1142.7L337.7 1151.2L337.9 1149.5L338.1 1147.8L338.3 1146.1L338.5 1135.4L338.8 1124.7L339 1114L339.2 1103.3L339.5 1103.7L339.7 1104.1L339.9 1104.4L340.9 1139.3L341.5 1139L342.4 1094.2L343.1 1095.4L343.8 1139.5L344.1 1139L344.3 1139.3L344.5 1139.5L344.7 1130.1L344.9 1120.7L345.2 1111.3L345.4 1102.1L345.6 1104.7L345.8 1107.3L346 1109.8L346.3 1121L346.5 1132.1L346.7 1143.1L347 1154L347.2 1153.1L347.4 1152.3L347.6 1151.5L347.8 1142L348.1 1132.6L348.3 1122.9L348.5 1113.2L348.7 1115.7L348.9 1118.1L349.1 1120.6L349.4 1132.7L349.6 1144.8L349.9 1157.1L350.1 1169.4L350.3 1169.7L350.6 1169.9L350.8 1170.1L351 1159.8L351.2 1149.4L351.5 1138.9L351.7 1128.2L351.9 1129.2L352.1 1130.2L352.3 1131.2L352.5 1144.1L352.8 1157L353 1170.1L353.2 1183.3L353.4 1183.3L353.6 1183.4L353.8 1183.4L354.1 1172.1L354.3 1160.6L354.5 1149.2L354.8 1137.7L355 1138.9L355.2 1140.1L355.4 1141.3L355.6 1154.7L355.8 1168.1L356 1181.5L356.2 1194.9L356.4 1194.2L356.6 1193.5L356.8 1192.8L357 1183.1L357.3 1173.4L357.5 1163.7L357.7 1154L357.9 1156.2L358.1 1158.3L358.3 1160.5L358.6 1170L358.8 1179.6L359.1 1189.1L359.3 1198.7L359.5 1208.3L359.7 1209L360 1209.8L360.2 1210.1L361.1 1163.1L361.7 1166.5L362.3 1216.6L362.9 1212.5L363.8 1172.4L364.5 1176L365.4 1216.4L366 1217.3L367 1175L367.6 1179.4L368.5 1222L369.1 1219.3L370.1 1177.2L370.7 1177.5L371.9 1227.5L372.6 1223.7L373.5 1180.9L374.1 1183L374.8 1231.8L375.5 1232.4L376.4 1185.8L376.6 1186.5L376.8 1187.2L377 1187.8L377.2 1200.8L377.4 1213.6L377.6 1226.4L377.8 1239L378.1 1238.5L378.3 1238L378.5 1237.5L378.7 1226.4L378.9 1215.4L379.2 1204.5L379.4 1193.7L379.6 1194.5L379.8 1195.3L380 1196.1L380.2 1207.2L380.5 1218.3L380.7 1229.3L380.9 1240.3L381.1 1239.1L381.3 1238L381.5 1236.9L381.8 1227.8L382 1218.8L382.2 1209.9L382.5 1201.1L382.7 1203L382.9 1204.9L383.1 1206.7L384.3 1248L384.9 1243.8L385.8 1206.4L386.4 1206.9L387.1 1247L387.8 1244.9L388.7 1202.7L389.3 1201.6L390.2 1241.5L390.8 1240L391.8 1193.5L392.4 1193.4L393.6 1231L394.2 1229L395.1 1189.2L395.8 1190.2L396.4 1227.1L397 1223.3L398 1183.5L398.6 1183.3L399.7 1220.8L400.3 1218.6L401.2 1182.6L401.8 1183.4L402.8 1225.2L403.4 1224.3L404.3 1182.7L405 1184.3L405.2 1193.8L405.4 1203.2L405.6 1212.6L405.8 1222.1L406 1220.8L406.2 1219.5L406.5 1218.1L406.7 1206.9L406.9 1195.7L407.1 1184.4L407.4 1173.1L407.6 1172.8L407.8 1172.6L408 1172.3L408.2 1181.7L408.5 1191.1L408.7 1200.5L409 1210.1L409.2 1208.5L409.4 1207L409.6 1205.5L409.8 1195L410.1 1184.5L410.3 1174L410.5 1163.4L410.7 1163.7L411 1164L411.2 1164.3L411.4 1171.3L411.6 1178.2L411.8 1185.3L412.1 1192.7L412.3 1201L412.9 1201.8L413.9 1158.3L414.5 1163.2L415.1 1203.7L415.7 1202.4L416.7 1157.9L417.3 1159.9L417.5 1170.7L417.7 1181.4L417.9 1192L418.1 1202.5L418.3 1199.8L418.5 1197.1L418.7 1194.4L419 1183.9L419.2 1173.5L419.4 1163.2L419.7 1153L419.9 1153.8L420.1 1154.5L420.3 1155.3L420.5 1165.1L420.7 1174.7L420.9 1184.4L421.1 1193.9L421.3 1192.7L421.5 1191.5L421.7 1190.4L422 1178.2L422.2 1166.1L422.4 1154.1L422.7 1142.2L422.9 1142L423.1 1141.8L423.3 1141.6L424.5 1188.4L425.1 1187.5L426 1141.8L426.6 1144L427.5 1188.4L428.2 1186.5L429.1 1147.1L429.7 1148.3L430.7 1193.9L431.4 1194.2L432.3 1152.9L432.9 1157.6L433.7 1199.7L434.3 1197.1L434.6 1185.2L434.8 1173.4L435 1161.8L435.3 1150.2L435.5 1149.9L435.7 1149.6L435.9 1149.3L436.1 1159L436.4 1168.7L436.6 1178.2L436.8 1187.7L437 1186.9L437.2 1186.2L437.4 1185.5L437.7 1174.6L437.9 1163.8L438.1 1153L438.4 1142.4L438.6 1142.6L438.8 1142.8L439 1143L439.2 1152.9L439.4 1162.7L439.7 1172.5L439.9 1182.1L440.1 1181.3L440.3 1180.4L440.5 1179.6L440.7 1168.9L441 1158.3L441.2 1147.8L441.4 1137.4L441.6 1137L441.9 1136.6L442.1 1136.4L443 1175.2L443.2 1175.4L443.4 1175.5L443.6 1175.7L444.6 1138.6L445.2 1141.2L446.2 1181.7L446.8 1181L447.8 1141.6L448.4 1143.2L449.2 1180.6L449.9 1177.4L450.8 1135L451.4 1135.1L452.4 1175.4L453 1174L454 1132.7L454.6 1134.2L455.8 1172L456.4 1166.9L457.3 1124.9L458 1125.3L458.7 1173.9L459.3 1173.3L460.2 1118.7L460.8 1118.3L461.5 1168.5L462.1 1164.4L463 1114.9L463.6 1115.7L463.9 1124.8L464.1 1133.6L464.3 1142L464.6 1150.4L464.8 1158.7L465.1 1166.9L465.3 1163.3L465.5 1159.7L465.7 1156.1L465.9 1144.1L466.2 1132.1L466.4 1120.3L466.6 1108.5L466.8 1107.9L467 1107.2L467.2 1106.6L467.5 1122.9L467.7 1139.1L468 1155.2L468.2 1152.7L468.4 1150.2L468.6 1147.7L468.8 1134.4L469 1121.3L469.3 1108.2L469.5 1095.2L469.7 1095.3L469.9 1095.3L470.1 1095.6L470.9 1149.1L471.5 1142.7L471.7 1130.4L471.9 1118.3L472.2 1106.3L472.4 1094.5L473 1097.1L473.3 1105.3L473.5 1113.4L473.8 1121.4L474 1129.4L474.2 1137.2L474.9 1135L475.1 1124.7L475.3 1115.2L475.6 1105.6L475.8 1095.9L476 1097.6L476.2 1099.2L476.4 1100.8L476.6 1112L476.8 1123.3L477 1134.6L477.2 1146L477.4 1145.5L477.6 1144.9L477.8 1144.4L478.1 1133.7L478.3 1123L478.5 1112.1L478.8 1101.2L479 1102.4L479.2 1103.6L479.4 1104.8L479.6 1117L479.8 1129.3L480 1141.6L480.2 1154L480.4 1154.3L480.6 1154.5L480.8 1154.8L481.1 1143.7L481.3 1132.6L481.5 1121.4L481.8 1110.1L482 1111.4L482.2 1112.8L482.4 1114.2L483.3 1164.8L483.9 1162L484.9 1106.8L485.5 1106.5L486.3 1160.9L487 1160.2L487.9 1106.2L488.5 1109.7L489.6 1155.3L490.2 1151.3L491.2 1098.7L491.8 1097.5L492.9 1156.4L493.5 1149L494.4 1095.9L495 1096.8L495.7 1148.9L496.4 1146L497.3 1090.9L497.9 1091.1L499 1147.7L499.6 1146.6L500.5 1088.1L501.1 1094L501.4 1103.7L501.6 1112.5L501.8 1120.3L502.1 1127.3L502.3 1133.3L502.5 1131.3L502.7 1129.4L502.9 1127.4L503.1 1119.8L503.4 1113L503.6 1104.5L503.8 1094.3L504 1095.7L504.3 1097.2L504.5 1098.8L504.7 1131.5L504.9 1167.6L505.1 1171L505.3 1174.4L505.5 1177.7L505.8 1163.4L506 1147.4L506.2 1129.8L506.5 1110.5L506.7 1116.3L506.9 1128.8L507.1 1141.1L507.3 1165.7L507.5 1188.2L507.8 1208.7L508 1227.2L508.2 1243.6L508.4 1250.1L508.7 1256.5L508.9 1263L509.1 1262.5L509.3 1259.8L509.6 1257.2L509.8 1254.7L510 1258.9L510.2 1263.2L510.4 1267.4L510.6 1276.2L510.8 1284.9L511 1293.1L511.3 1300.4L511.5 1302.1L511.7 1303.7L511.9 1305.3L512.1 1299.7L512.3 1293.4L512.6 1286.3L512.8 1278.4L513 1279.5L513.2 1281L513.4 1282.4L513.6 1292.3L513.8 1301.6L514 1310.5L514.2 1318.9L514.4 1318.1L514.6 1317.4L514.9 1316.8L515.1 1309.1L515.3 1302L515.6 1295.5L515.8 1289.6L516 1291L516.2 1292L516.4 1293.1L516.6 1299.9L516.9 1306.7L517.1 1313.4L517.3 1319.9L517.5 1319.9L517.8 1319.9L518 1319.9L518.2 1315L518.4 1310.1L518.7 1305.4L518.9 1300.8L519.1 1302.9L519.3 1306.3L519.5 1309.7L519.7 1316.7L519.9 1323.5L520.2 1330.1L520.4 1336.6L520.6 1342.8L520.8 1345L521 1347.2L521.2 1347.6L521.5 1345.2L521.7 1343.3L521.9 1342L522.1 1341.2L522.4 1343.1L522.6 1345L522.8 1346.8L523 1350.8L523.3 1356.4L523.5 1362L523.8 1367.6L524 1370.7L524.2 1373.8L524.4 1376.8L524.6 1378.7L524.9 1380L525.1 1380L525.3 1379.9L525.5 1381.6L525.7 1383.3L525.9 1384.9L526.1 1388.1L526.3 1391.3L526.5 1394.4L526.7 1397.6L526.9 1399L527.1 1400.4L527.3 1401.8L527.6 1402L527.8 1402.7L528 1403.3L528.3 1403.9L528.5 1406.2L528.7 1408.4L528.9 1410.6L529.1 1413.9L529.3 1416.8L529.5 1419.8L529.7 1422.8L529.9 1425.8L530.1 1427.2L530.3 1428.6L530.5 1429.9L530.8 1429.6L531 1429.3L531.2 1429L531.5 1428.6L531.7 1430.3L531.9 1432L532.1 1433.8L532.3 1436.8L532.5 1439.8L532.7 1442.9L532.9 1447.1L533.1 1452.4L533.3 1455.4L533.5 1458.4L533.7 1461.3L534 1458.9L534.2 1453.4L534.4 1447.6L534.7 1441.9L535.3 1444L536.1 1467.8L536.8 1465.6L537 1460.4L537.2 1456.5L537.5 1453L537.7 1449.9L537.9 1452.4L538.1 1454.9L538.3 1457.2L538.5 1461.8L538.7 1466L538.9 1469.9L539.1 1473.5L539.3 1476.8L539.5 1477.3L539.7 1477.7L540 1478.3L540.2 1476.5L540.4 1475.3L540.7 1474.8L540.9 1475.2L541.1 1477.5L541.3 1479.8L541.5 1482.2L541.7 1486.4L541.9 1490.7L542.2 1494.9L542.4 1499.1L542.6 1501L542.8 1503L543 1505L543.2 1505.7L543.5 1506.4L543.7 1507.2L543.9 1508L544.1 1510.3L544.3 1512.5L544.5 1514.7L544.8 1518.5L545 1522.2L545.2 1525.9L545.5 1529.7L545.7 1531.4L545.9 1533.1L546.1 1534.8L546.3 1535.4L546.6 1536L546.8 1536.6L547 1537.1L547.2 1539.2L547.4 1541.2L547.6 1543.3L547.9 1546.1L548.1 1548.7L548.3 1551.3L548.6 1553.9L548.8 1556.5L549 1557.7L549.2 1558.9L549.4 1560L549.6 1559.7L549.9 1559.3L550.1 1558.9L550.3 1556.8L550.5 1546.7L550.7 1536.6L551 1526.6L551.2 1516.9L551.4 1507.4L551.7 1498L551.9 1487.9L552.1 1477.8L552.3 1467.8L552.5 1451.3L552.8 1422.6L553 1393.9L553.2 1365.1L553.5 1341.5L553.7 1317.8L553.9 1295.1L554.1 1275.8L554.3 1256.6L554.5 1237.3L554.7 1218L554.9 1197.3L555.1 1181.9L555.3 1169.5L555.6 1153.1L555.8 1136.7L556 1120.3L556.3 1103.9L556.5 1091.6L556.7 1084.7L556.9 1078.6L557.1 1074.3L557.3 1069.9L557.5 1065.5L557.7 1069.7L557.9 1082.4L558.1 1093.2L558.3 1103.8L558.5 1114.4L558.8 1122.4L559 1131.7L559.2 1140.7L559.5 1149L559.7 1160.9L559.9 1172.8L560.1 1184.7L560.3 1205.9L560.5 1225.9L560.8 1244.5L561 1252.8L561.2 1261.1L561.4 1269.5L561.6 1274.8L561.8 1280.4L562.1 1286.3L562.3 1291.2L562.5 1299.3L562.7 1307.3L562.9 1315.3L563.1 1326.4L563.3 1337.3L563.5 1348.2L563.7 1358.2L563.9 1366L564.2 1369.6L564.4 1373.1L564.6 1376.7L564.8 1376.2L565 1375.4L565.3 1374.2L565.5 1372.8L565.7 1374.1L565.9 1375.4L566.1 1376.7L566.3 1382.9L566.6 1389.2L566.8 1395.6L567 1402.2L567.2 1406L567.4 1404.2L567.6 1402.5L567.8 1400.7L568.1 1390.9L568.3 1380.7L568.5 1369.3L568.8 1355L569 1350.2L569.2 1345.5L569.4 1340.6L569.6 1341L569.8 1340.7L570.1 1341.5L570.3 1345.9L570.5 1344.1L570.7 1342.3L570.9 1340.5L571.2 1332.4L571.4 1324.1L571.6 1315.5L571.8 1306.7L572.1 1305.4L572.3 1304.6L572.5 1303.9L572.7 1309.3L572.9 1314.8L573.1 1320.6L573.3 1326.5L573.5 1332.5L573.7 1331.5L574 1330.5L574.2 1329.5L574.4 1320.2L574.6 1310.8L574.9 1301.1L575.1 1291.1L575.3 1290.6L575.5 1290.1L575.7 1289.5L575.9 1299.8L576.2 1310.5L576.4 1321.6L576.6 1321L576.8 1320.4L577 1319.9L577.3 1309.2L577.5 1298.2L577.7 1286.9L578 1275.3L578.2 1275.9L578.4 1276.6L578.6 1277.3L578.8 1290.4L579 1303.8L579.3 1317.7L579.5 1316.8L579.7 1316L579.9 1315.1L580.8 1265.3L581.4 1267.2L582.9 1313.1L583.5 1307.8L584.5 1260.6L585.1 1260.3L585.9 1305.8L586.5 1304.6L587.4 1267.2L588 1269.2L588.6 1298.7L589.3 1296.6L589.5 1288.7L589.7 1280.3L590 1271.4L590.2 1262L590.4 1261.8L590.6 1261.7L590.8 1261.6L591 1266.1L591.2 1271L591.5 1276.1L591.7 1281.5L591.9 1287.2L592.1 1293.3L592.3 1292.3L592.5 1291.4L592.7 1290.4L593.7 1242.1L593.9 1244L594.1 1245.9L594.3 1247.8L594.5 1264.5L594.8 1281.6L595 1299.1L595.2 1300.1L595.4 1301L595.6 1301.9L595.9 1290L596.1 1277.7L596.3 1265.1L596.6 1252.2L596.8 1253.2L597 1254.2L597.2 1255.3L597.4 1274.7L597.6 1294.6L597.8 1314.8L598 1315.7L598.2 1316.5L598.4 1317.4L598.7 1303L598.9 1288.3L599.1 1273L599.4 1257.8L600 1262.8L601.1 1318.9L601.8 1317.4L602.7 1260.5L603.3 1263.9L604.2 1314.5L604.4 1312L604.6 1309.5L604.8 1306.9L605.1 1293.8L605.3 1280.4L605.5 1266.8L605.8 1252.8L606 1252.6L606.2 1252.5L606.4 1252.4L606.6 1259.2L606.8 1266.1L607 1273.2L607.2 1280.5L607.4 1288L607.6 1295.6L607.9 1293.1L608.1 1290.6L608.3 1288L608.5 1274.4L608.7 1260.5L609 1246.3L609.2 1233L609.8 1232.4L610.4 1289.2L611 1281.2L611.9 1227L612.5 1227.8L613.6 1283.5L614.2 1280.3L615.1 1220.3L615.7 1224.2L616.7 1284.5L616.9 1283.8L617.1 1283.1L617.3 1282.5L617.5 1269.6L617.7 1256.8L618 1244.1L618.2 1231.5L618.4 1232.2L618.6 1232.9L618.8 1233.6L619.1 1248.8L619.3 1264L619.5 1279L619.7 1294L620.4 1291.7L620.6 1276.2L620.8 1260.6L621.1 1244.8L621.3 1228.9L621.5 1228.5L621.7 1228L621.9 1227.6L622.1 1240.1L622.3 1252.6L622.5 1265.4L622.8 1278.2L623 1276.3L623.2 1274.4L623.4 1272.5L623.6 1257.4L623.8 1242.1L624.1 1226.6L624.3 1211.1L624.5 1210.6L624.7 1210.2L624.9 1209.7L625.1 1221.3L625.4 1233L625.6 1244.8L625.8 1256.8L626 1268.8L626.2 1267.8L626.4 1266.9L626.7 1265.9L627.6 1195.6L628.2 1197L629.3 1267.6L629.9 1266.7L630.8 1193.8L631.4 1197.2L632.3 1263.4L632.9 1259.3L633.8 1199.3L634.5 1206.5L635.2 1271.6L635.8 1267L636 1250.7L636.2 1233.6L636.5 1216.5L636.7 1199.3L636.9 1198.8L637.1 1198.2L637.3 1197.7L637.6 1214.3L637.8 1231L638 1247.7L638.2 1264.4L638.4 1263.3L638.6 1262.3L638.8 1261.2L639.1 1243L639.3 1224.7L639.5 1206.4L639.8 1188L640 1187.7L640.2 1187.3L640.4 1187L640.6 1199.2L640.8 1211.4L641.1 1223.6L641.3 1235.9L641.5 1248.1L641.7 1246.3L641.9 1244.5L642.1 1242.4L642.4 1225.9L642.6 1209.6L642.8 1193.5L643.1 1177.6L643.3 1177.7L643.5 1177.8L643.7 1177.9L643.9 1192.5L644.1 1206.9L644.3 1221L644.5 1235.1L644.7 1232.2L644.9 1229.3L645.1 1226.5L645.3 1211.7L645.6 1197.1L645.8 1182.6L646 1168.5L646.7 1172.1L647.6 1223.8L648.2 1220.3L649.2 1175.2L649.8 1177.1L650.5 1226.8L651.2 1226.3L652.1 1173.1L652.7 1178.4L654.2 1228.5L654.8 1228.5L655.8 1176.4L656.4 1177.9L657.1 1229.4L657.3 1228.1L657.6 1226.8L657.8 1225.5L658 1211.9L658.2 1198L658.5 1183.7L658.7 1169.1L658.9 1169.8L659.1 1170.6L659.3 1171.5L659.5 1186.8L659.7 1202.5L659.9 1218.6L660.2 1217.8L660.4 1216.9L660.6 1216.1L660.8 1199.7L661 1182.9L661.3 1165.7L661.5 1148.2L661.7 1147.2L661.9 1146.4L662.1 1145.5L662.4 1156.4L662.6 1167.6L662.9 1179.1L663.1 1191L663.3 1203.1L663.5 1200.3L663.8 1197.5L664 1194.7L664.2 1179.4L664.4 1164.1L664.7 1148.9L664.9 1133.7L665.1 1133.2L665.3 1132.8L665.5 1132.3L665.8 1149.9L666 1167.5L666.3 1184.9L666.5 1202.3L666.7 1201.5L666.9 1200.7L667.1 1199.9L667.4 1181.8L667.6 1163.7L667.8 1145.7L668.1 1128.1L668.7 1136.3L669 1193.7L669.6 1192.2L670.6 1131.3L671.2 1135.8L672.4 1193.1L673 1187L674 1130.2L674.6 1132.9L675.5 1198.9L676.2 1194.7L677.1 1128.2L677.7 1132.5L678.8 1195.2L679.4 1192.1L680.4 1127.6L681 1128.3L681.8 1195.5L682.4 1189.2L683.3 1130L684 1131.3L684.9 1189.6L685.1 1188.8L685.3 1187.8L685.5 1186.9L685.7 1172.9L685.9 1158.6L686.2 1144.1L686.4 1129.3L686.6 1130.5L686.8 1131.7L687 1132.9L687.3 1146.3L687.5 1159.9L687.8 1173.8L688 1187.9L688.2 1186.9L688.4 1185.8L688.6 1184.8L689.5 1119.2L690.2 1120.8L691.4 1182.6L692 1181.8L692.9 1123.2L693.6 1130.9L694.5 1188.6L695.2 1187.4L696.1 1127.6L696.7 1134.9L697.2 1194.1L697.8 1188.2L698.8 1132.2L699.4 1133.3L700.3 1187.8L700.9 1185.7L701.8 1123L702.4 1124.9L703.9 1181.5L704.5 1173.9L705.5 1118.5L706.1 1121.2L706.4 1182.4L707.1 1178.3L708 1123.1L708.6 1123.9L709.6 1181.5L710.2 1178.1L711.2 1119L711.8 1122.2L712.8 1178.9L713.4 1178.1L714.4 1129L715 1131.5L716 1177L716.6 1177L717.5 1130.3L718.1 1140.8L719.2 1183.4L719.8 1180.7L720 1168.6L720.2 1157.1L720.5 1145.6L720.7 1134L720.9 1135.9L721.1 1137.9L721.3 1139.8L721.5 1153.2L721.7 1166.7L722 1180.3L722.2 1193.9L722.4 1194.7L722.6 1195.5L722.8 1196.3L723 1183.9L723.2 1171.4L723.5 1158.7L723.7 1146L723.9 1147.9L724.1 1149.9L724.3 1151.8L724.6 1169L724.8 1186.3L725.1 1203.7L725.3 1204.3L725.5 1204.9L725.7 1205.6L725.9 1194.1L726.1 1182.8L726.4 1171.6L726.6 1160.5L726.8 1162.1L727 1163.7L727.2 1165.3L727.5 1176.4L727.7 1187.5L727.9 1198.5L728.1 1209.3L728.4 1220.1L728.6 1220.6L728.8 1221.1L729 1221.5L729.2 1208.3L729.5 1195L729.7 1181.6L729.9 1168.1L730.1 1168.4L730.3 1168.7L730.5 1169L730.8 1179.9L731 1191L731.2 1202.1L731.4 1213.3L731.6 1212L731.9 1210.8L732.1 1209.5L732.3 1194.8L732.5 1180L732.8 1165.1L733 1150.1L733.2 1148.5L733.4 1146.8L733.6 1145.1L733.8 1153.2L734.1 1160.8L734.3 1167.9L734.6 1174.5L734.8 1180.6L735 1177L735.2 1174.7L735.4 1172.6L736.3 1144.4L737 1148.3L737.6 1157.8L737.8 1169.4L738 1181.1L738.2 1192.8L738.5 1204.5L738.7 1216.3L738.9 1228.1L739.1 1239.9L739.4 1250.2L739.6 1256L739.8 1261.7L740 1270.5L740.3 1279.3L740.5 1288.1L740.7 1293.7L740.9 1299.3L741.1 1304.9L741.3 1309.5L741.6 1314.2L741.8 1318.8L742 1323.3L742.2 1328.1L742.5 1332.9L742.7 1337.7L742.9 1345.1L743.2 1352.5L743.4 1359.9L743.6 1367.3L743.8 1372L744.1 1376.3L744.3 1379.3L744.5 1380.3L744.7 1381L745 1381.4L745.2 1381.3L745.4 1383.6L745.6 1385.8L745.8 1388.1L746 1392.7L746.2 1397.5L746.5 1402.6L746.7 1408.2L746.9 1414.5L747.1 1421.4L747.3 1424.8L747.5 1428.1L747.7 1431.4L748 1428.9L748.2 1423.3L748.4 1417.4L748.7 1411.5L748.9 1412.3L749.1 1413.1L749.3 1413.8L749.5 1424.7L749.7 1435.6L749.9 1446.6L750.1 1446.6L750.3 1446.6L750.5 1446.5L750.8 1440.1L751 1433.6L751.2 1427.1L751.5 1420.6L751.7 1421.5L751.9 1422.5L752.1 1423.7L752.3 1434.3L752.5 1444.4L752.8 1453.8L753 1453.5L753.2 1453.3L753.4 1453.2L753.6 1448.4L753.9 1444.2L754.1 1440.4L754.3 1437L754.5 1438.3L754.7 1439.6L754.9 1440.9L755.2 1445.4L755.4 1449.6L755.6 1453.3L755.9 1457.6L756.1 1463.6L756.3 1466.4L756.5 1469.2L756.7 1472L757 1473.1L757.2 1474.5L757.4 1476.2L757.7 1478.3L757.9 1481.9L758.1 1485L758.3 1487L758.5 1490.4L758.7 1493.8L758.9 1497.2L759.1 1500.6L759.3 1504L759.5 1505.8L759.7 1507.6L759.9 1509.4L760.2 1510L760.4 1510.7L760.6 1511.3L760.9 1511.9L761.1 1514L761.3 1516L761.5 1518L761.7 1521.8L761.9 1525.6L762.1 1529.4L762.4 1533.2L762.6 1537L762.8 1539L763 1541.1L763.2 1543.2L763.4 1543.8L763.7 1544.5L763.9 1545.1L764.1 1545.7L764.3 1548L764.5 1550.4L764.8 1552.7L765 1556.6L765.1 1560.6L765.3 1564.6L765.5 1566.6L765.8 1568.6L766 1570.5L766.2 1572L766.4 1573.7L766.7 1575.5L766.9 1577.3L767.1 1580.4L767.3 1583.1L767.5 1570.6L767.8 1557.6L768 1544.7L768.2 1532L768.5 1519.4L768.7 1506.9L768.9 1494.4L769.1 1474.7L769.3 1449.5L769.6 1419.5L769.8 1389.4L770 1359.4L770.3 1329.4L770.5 1304.6L770.7 1279.9L770.9 1255.1L771.1 1228.7L771.3 1208L771.6 1191L771.8 1173.9L772 1157.2L772.2 1140.4L772.4 1130.3L772.7 1120.9L772.9 1111.3L773.1 1101.6L773.4 1091.7L773.6 1084.8L773.8 1078L774 1071.1L774.2 1069L774.5 1066.9L774.7 1064.6L774.9 1059.9L775.1 1055.2L775.3 1050.6L775.5 1043.8L775.8 1049L776 1057.8L776.2 1066.4L776.4 1075.9L776.7 1085.3L776.9 1094.8L777.1 1105.4L777.3 1115.4L777.5 1125.3L777.7 1135L777.9 1144.7L778.1 1152.7L778.3 1159.4L778.5 1164.1L778.7 1167.9L779 1171.7L779.2 1175.6L779.4 1179.4L779.6 1184.4L779.8 1189.5L780 1194.5L780.3 1201.7L780.5 1208.9L780.8 1216.1L781 1223.7L781.3 1235.3L781.5 1243.7L781.7 1252.1L781.9 1260.4L782.1 1268.3L782.4 1276.1L782.6 1283.9L782.8 1288.6L783 1294.3L783.2 1300.1L783.4 1305.8L783.7 1315L783.9 1324.6L784.1 1331.6L784.4 1336.2L784.6 1337.6L784.8 1339L785 1340.5L785.2 1339.9L785.5 1339.6L785.7 1333.7L785.9 1326.3L786.1 1321.8L786.3 1317.3L786.5 1312.8L786.7 1310.5L786.9 1308.3L787.1 1303L787.3 1296L787.5 1286L787.7 1276.1L788 1266.2L788.2 1253.5L788.4 1241L788.7 1227.3L788.9 1213.5L789.1 1203.1L789.3 1192.7L789.5 1182.4L789.7 1186.9L789.9 1194.4L790.1 1204.7L790.4 1218L790.6 1224.5L790.8 1230.9L791 1237.2L791.9 1178.9L792.5 1177.6L793.6 1251.9L794.2 1250.1L795.1 1183.3L795.7 1194.4L796.5 1245.9L797.1 1242.5L798 1201.6L798.2 1203.2L798.4 1204.7L798.6 1206.3L798.9 1218.3L799.1 1230.7L799.4 1243.5L799.6 1256.7L799.8 1257.9L800 1259L800.2 1260.1L800.4 1251.2L800.7 1241.9L800.9 1232.1L801.1 1222L801.3 1224.2L801.5 1226.4L801.8 1228.7L802 1242.9L802.2 1256.9L802.4 1270.9L802.6 1285L802.8 1286.2L803 1287.4L803.2 1288.6L803.4 1277.5L803.7 1266.2L803.9 1254.8L804.1 1243.3L804.3 1245.2L804.5 1247L804.7 1248.8L805.8 1296.7L806 1294.7L806.2 1292.7L806.4 1290.8L806.7 1277.4L806.9 1264.6L807.1 1252.3L807.4 1240.6L807.6 1240.3L807.8 1240L808 1239.7L808.2 1249L808.4 1258.8L808.7 1268.9L808.9 1279.5L809.1 1279.1L809.3 1278.6L809.5 1278.2L809.7 1266.1L810 1253.6L810.2 1240.7L810.4 1227.4L810.6 1227.8L810.9 1228.2L811.1 1228.8L811.3 1235.7L811.5 1242.9L811.7 1250.3L812 1258.1L812.2 1266.2L812.4 1274.5L813 1267.9L814 1213.9L814.6 1217L815.1 1272.3L815.7 1266.7L816.6 1207.7L817.2 1210.9L818.4 1271.1L819 1265.9L819.9 1206.1L820.6 1210.7L821.5 1274.9L822.1 1274L823.1 1214.7L823.7 1214.5L824.4 1268.3L825 1265.5L825.9 1207.2L826.5 1210.8L827.7 1270.2L828.3 1262.4L829.2 1202.5L829.9 1201.9L830.3 1258.2L830.9 1257.6L831.8 1195.5L832.4 1197.1L833.7 1265L834.3 1264.9L835.3 1195.4L835.9 1198.6L836.9 1263.4L837.6 1260.6L838.5 1196.2L839.1 1197L839.5 1261.7L840.1 1259.8L841.1 1195.9L841.7 1196.8L842.8 1253.2L843.4 1251.4L844.4 1203L845 1203.6L846.3 1261L846.9 1258.7L847.8 1202.4L848.4 1203.9L849.2 1259.9L849.8 1259L850.7 1202.3L851.3 1205.5L852.1 1257.9L852.3 1256.6L852.5 1255.3L852.7 1254L853 1238.2L853.2 1222.6L853.4 1207.3L853.7 1192.3L853.9 1192.7L854.1 1193L854.3 1193.3L854.5 1203.5L854.7 1213.6L854.9 1223.5L855.1 1233.2L855.3 1242.7L855.5 1240.5L855.8 1238.4L856 1236.3L856.2 1222.3L856.4 1208L856.7 1193.3L856.9 1178.1L857.1 1176.9L857.3 1175.6L857.5 1174.4L857.7 1188.7L858 1203.4L858.2 1218.5L858.4 1234.1L858.6 1233.1L858.8 1232.2L859 1231.2L859.3 1213.2L859.4 1222L860.2 1150L861 1103L861.8 1150L862.5 1222L863.3 1147.8L863.5 1148.8L863.7 1149.7L863.9 1150.7L864.1 1166.6L864.3 1182.3L864.5 1198L864.8 1213.5L865 1211.7L865.2 1209.9L865.4 1208.1L865.6 1192.5L865.9 1176.9L866.1 1161.5L866.3 1146L866.9 1148.9L867.8 1206.9L868.4 1200.1L869.3 1134.8L869.9 1133L870.8 1201.1L871.4 1198.2L871.6 1181.6L871.9 1165.3L872.1 1149.3L872.3 1133.6L872.6 1136.5L872.8 1139.4L873 1142.3L873.2 1156.4L873.4 1170.2L873.6 1183.8L873.8 1197.2L874 1210.3L874.2 1209.7L874.4 1209L874.6 1208.4L875.5 1141.4L875.7 1141.4L876 1141.4L876.2 1141.3L876.4 1152.2L876.6 1163.1L876.8 1174L877.1 1185.5L877.3 1198.2L877.5 1198.4L877.7 1198.7L877.9 1199L878.2 1185.8L878.4 1172.7L878.6 1159.7L878.9 1146.9L879.1 1148.3L879.3 1149.6L879.5 1150.9L879.7 1166.8L879.9 1182.5L880.1 1198.2L880.3 1214.7L880.5 1215.6L880.7 1216.5L880.9 1217.3L881.1 1203.2L881.3 1188.9L881.6 1174.1L881.8 1159.1L882 1160.6L882.2 1162.1L882.4 1163.6L882.7 1180.8L882.9 1198.2L883.2 1215L883.4 1231.2L884 1226.1L884.9 1165.7L885.6 1171.4L886.4 1238.5L887 1236L887.9 1167.2L888.5 1170.8L889.3 1237.4L889.9 1232.1L890.8 1170.5L891.5 1172.4L892.5 1234.1L893.1 1230L894 1163.1L894.7 1165.7L895.8 1241.9L896.4 1241.6L897.4 1166.3L898 1170.2L898.8 1243.3L899.4 1239.3L900.4 1173.8L901 1178.9L901.8 1245L902.4 1237.8L903.3 1167.1L903.9 1168.1L904.7 1243.5L905.4 1230.7L906.3 1166.8L906.9 1167.7L908.1 1238.6L908.7 1237.1L909.7 1171.8L910.3 1172.7L911.1 1236.6L911.8 1236.6L912.7 1170.1L913.3 1173.8L914.2 1240L914.9 1239.2L915.8 1171.1L916.4 1174.1L917.3 1237.1L918 1230.1L918.9 1170L919.5 1171.4L920.5 1231.4L921.2 1227.6L922.1 1172.6L922.7 1172.7L923.6 1227.6L924.3 1224.1L925.2 1172.3L925.8 1173.2L926.8 1224.3L927.5 1223.5L928.4 1165.6L929 1166.9L929.9 1220.7L930.6 1220.9L931.5 1166.1L932.1 1170.5L933.1 1229.4L933.7 1229.3L934.7 1168.1L935.3 1170.6L936.1 1229.8L936.7 1223.1L937.7 1161.6L938.3 1164.4L939 1228.1L939.7 1225.2L940.6 1165.2L941.2 1173L941.5 1187.2L941.7 1201.4L941.9 1215.7L942.2 1230L942.4 1230.4L942.6 1230.8L942.8 1231.2L943 1216.2L943.3 1201.2L943.5 1186.2L943.7 1171.1L943.9 1173.9L944.2 1178.6L944.4 1183.8L944.6 1199.3L944.8 1214.3L945 1228.9L945.2 1243.2L945.4 1257L945.6 1256.4L945.8 1255.8L946 1255.4L946.2 1246.2L946.5 1238.2L946.7 1231.5L946.9 1226L947.1 1231.4L947.3 1236.6L947.5 1241.7L947.7 1253.8L947.9 1264.7L948.2 1273.2L948.4 1281L948.6 1281.6L948.8 1282.2L949 1282.8L949.2 1275.5L949.4 1268.3L949.7 1261.2L949.9 1254.2L950.1 1254.9L950.3 1255.4L950.5 1255.9L950.7 1263.1L950.9 1270.6L951.2 1278.3L951.4 1286.2L951.6 1294.4L951.8 1295L952 1295.6L952.2 1296.3L952.4 1288L952.7 1279.5L952.9 1270.6L953.1 1261.5L953.3 1263.9L953.5 1266.3L953.8 1268.8L954 1275.9L954.2 1283.1L954.4 1290.6L954.6 1298.2L954.8 1306.8L955 1309.4L955.2 1312.1L955.4 1315L955.6 1312.8L955.9 1312.4L956.1 1313.9L956.3 1317.2L956.5 1324L956.7 1330.6L956.9 1337.3L957.2 1347L957.4 1356.5L957.6 1365.5L957.8 1371.1L958 1376.8L958.2 1381.5L958.4 1385.7L958.7 1389.9L958.9 1394.1L959.1 1397.3L959.3 1401.5L959.5 1405.8L959.7 1410L959.9 1415.5L960.1 1421.1L960.3 1426.6L960.5 1432.2L960.7 1436L960.9 1439.8L961.1 1443.6L961.4 1446.8L961.6 1449.9L961.8 1453L962.1 1456.2L962.3 1460.4L962.5 1464.6L962.7 1468.8L962.9 1474.7L963.2 1480.5L963.4 1486.4L963.6 1493.4L963.9 1502.5L964.1 1513.2L964.3 1520.2L964.5 1527L964.7 1533.6L964.9 1533.3L965.2 1526.8L965.4 1518.5L965.6 1510.2L966.3 1513.1L967 1542.6L967.6 1542.1L968.6 1507.6L969.2 1507.8L970.2 1544.8L970.4 1543.3L970.6 1541.8L970.8 1540.3L971.1 1530.2L971.3 1520L971.5 1509.7L971.8 1499.3L972 1499.5L972.2 1499.8L972.4 1500L973 1536.9L973.6 1536.3L974.5 1496.7L975.2 1498.7L975.4 1506.5L975.6 1514.2L975.9 1522L976.1 1529.8L976.3 1537.5L976.6 1545L976.8 1544.7L977 1544.4L977.2 1544.2L977.4 1535.4L977.7 1527.1L977.9 1519.2L978.1 1511.8L978.3 1513.3L978.5 1514.8L978.7 1516.3L978.9 1524.7L979.1 1532.8L979.3 1540.4L979.5 1547.8L979.7 1547.4L979.9 1547.1L980.1 1546.8L980.4 1541.6L980.6 1536.8L980.8 1532.6L981.1 1530.3L981.3 1532.9L981.5 1535.4L981.7 1537.9L981.9 1544.2L982.1 1549.9L982.3 1555.6L982.5 1561L982.7 1562.9L982.9 1564.8L983.1 1566.7L983.3 1565.7L983.6 1565.1L983.8 1564.6L984 1564.4L984.2 1567.1L984.4 1569.8L984.7 1572.5L984.9 1577.2L985.1 1581.6L985.3 1585.9L985.5 1589.8L985.8 1591.4L986 1593L986.2 1594.6L986.4 1594.7L986.6 1594.8L986.9 1594.9L987.1 1595L987.3 1596.9L987.5 1598.8L987.7 1600.6L987.9 1603.9L988.1 1607.2L988.3 1610.5L988.5 1613.9L988.7 1617.2L988.9 1619L989.1 1621.9L989.3 1624.9L989.6 1626.3L989.8 1627.8L990 1629.3L990.3 1630.9L990.5 1634.1L990.7 1637.3L990.9 1640.5L991.1 1645.9L991.3 1651.3L991.6 1656.6L991.8 1661.8L992 1654.3L992.2 1645.4L992.4 1636.4L992.6 1624.2L992.9 1611.6L993.1 1593.1L993.3 1565.8L993.5 1543.7L993.7 1521.6L993.9 1499.4L994.2 1482.3L994.4 1467.2L994.6 1452.1L994.9 1437.2L995.1 1421.8L995.3 1406.3L995.5 1390.8L995.7 1373.2L995.9 1355.7L996.2 1338.3L996.4 1320.8L996.6 1307.2L996.8 1293.7L997 1280.5L997.2 1271.9L997.4 1263.3L997.6 1254.7L997.8 1246.2L998 1235L998.2 1223.9L998.4 1212.7L998.7 1202L998.9 1192.5L999.1 1183.1L999.4 1173.8L999.6 1167.7L999.8 1161.7L1000 1155.7L1000.2 1151.3L1000.4 1159L1000.6 1167L1000.9 1175.2L1001.1 1183.6L1001.3 1192.2L1001.5 1198.5L1001.7 1204.8L1001.9 1211.1L1002.1 1216.3L1002.4 1221.7L1002.6 1226.3L1002.8 1230.1L1003.1 1237.7L1003.3 1245.3L1003.5 1252.9L1003.7 1269.8L1004 1287.8L1004.2 1304.5L1004.4 1310.4L1004.6 1316.4L1004.8 1322.3L1005 1322.5L1005.3 1322.7L1005.5 1322.9L1005.7 1323.1L1006 1329.5L1006.2 1332L1006.4 1333.3L1006.6 1342.2L1006.8 1351.7L1007.1 1361.8L1007.3 1372.4L1007.5 1373.7L1007.7 1374.9L1007.9 1376L1008.2 1366L1008.4 1355.1L1008.6 1344.7L1008.9 1334.8L1009.1 1334.5L1009.3 1334.2L1009.5 1333.9L1009.7 1340.7L1009.9 1347L1010.2 1354.1L1010.4 1362.1L1010.6 1361.2L1010.8 1360.3L1011 1359.3L1011.3 1351.6L1011.5 1343.3L1011.7 1334.7L1012 1325.5L1012.2 1325.6L1012.4 1325.7L1012.6 1325.9L1012.8 1338.1L1013 1350.9L1013.1 1364.3L1013.8 1361.5L1014.7 1317.2L1015.3 1319.4L1016.7 1365.1L1016.9 1363.1L1017.1 1360.1L1017.3 1355.9L1017.5 1343.9L1017.8 1332.4L1018 1321.4L1018.2 1311L1018.4 1310.7L1018.6 1310.3L1018.9 1309.9L1019.1 1317.4L1019.3 1324.3L1019.4 1330.8L1019.6 1336.8L1019.9 1334.1L1020.1 1332L1020.3 1331.2L1020.5 1322.1L1020.7 1312.6L1021 1302.6L1021.2 1292.2L1021.4 1291.8L1021.6 1291.4L1021.8 1291.1L1022.1 1298.9L1022.3 1307.1L1022.5 1315.8L1022.8 1325L1023 1324.5L1023.2 1324L1023.4 1323.6L1023.6 1311.4L1023.8 1298.8L1024.1 1286.1L1024.3 1274.3L1024.9 1277.7L1025.9 1328.8L1026.5 1325L1027.5 1278.3L1028.1 1280.7L1028.8 1330L1029.5 1327.6L1030.4 1280.8L1031 1282L1031.3 1291.9L1031.5 1301.8L1031.7 1311.8L1032 1321.7L1032.2 1331.6L1032.4 1330.4L1032.6 1329.2L1032.9 1328L1033.1 1314.4L1033.3 1300.7L1033.5 1287.1L1033.8 1273.5L1034 1272.9L1034.2 1272.4L1034.4 1271.9L1034.6 1288.5L1034.9 1305L1035.1 1321.6L1035.3 1318.7L1035.5 1315.8L1035.7 1312.8L1036.6 1267.7L1037.3 1270.4L1038.2 1315.1L1038.8 1311.5L1039.7 1265.7L1040.3 1266.5L1041.3 1313.5L1041.9 1309.7L1042.8 1267L1043.4 1269.4L1044.5 1315.3L1045.1 1310L1046.1 1277.3L1046.7 1279.1L1047.7 1316.1L1048.3 1312.9L1048.6 1303.2L1048.8 1293.5L1049 1283.8L1049.3 1274.1L1049.5 1273.4L1049.7 1272.6L1049.9 1271.9L1050.1 1283.2L1050.4 1294.5L1050.6 1305.8L1050.8 1304L1051 1302.3L1051.2 1300.5L1051.5 1291.1L1051.7 1281.7L1051.9 1272.3L1052.2 1262.9L1052.4 1262.6L1052.6 1262.3L1052.8 1262L1053 1270.8L1053.2 1279.3L1053.4 1288.2L1053.6 1297.8L1053.8 1297.1L1054 1296.3L1054.2 1295.5L1054.4 1282L1054.7 1267.7L1054.9 1252.6L1055.1 1236.7L1055.3 1235.9L1055.5 1235.2L1055.7 1234.5L1056 1242.7L1056.2 1251.4L1056.4 1260.6L1056.6 1270.3L1056.8 1280.5L1057.1 1291.4L1057.7 1288.9L1058.6 1215.2L1059.2 1214.9L1059.8 1286.6L1060.5 1282.8L1061.4 1218.5L1062 1223L1062.2 1233.1L1062.4 1243.1L1062.6 1253.2L1062.9 1263.2L1063.1 1273.3L1063.3 1283.3L1063.5 1281.9L1063.7 1280.5L1063.9 1279L1064.1 1260.9L1064.4 1242.7L1064.6 1224.5L1064.8 1206.3L1065 1207.3L1065.2 1208.3L1065.5 1209.3L1066.2 1280L1066.4 1279.6L1066.6 1279.2L1066.8 1278.8L1067 1260.6L1067.3 1242.3L1067.5 1224.1L1067.7 1205.9L1067.9 1206.8L1068.2 1207.7L1068.4 1208.6L1068.6 1226.2L1068.8 1243.9L1069 1261.5L1069.2 1279.1L1069.4 1279.5L1069.6 1279.8L1069.8 1280.2L1070.7 1216.3L1071.4 1217.5L1072.3 1283.8L1072.9 1281.5L1073.9 1212L1074.5 1213.2L1074.7 1224.7L1074.9 1236.1L1075.1 1247.3L1075.4 1258.7L1075.6 1270.3L1075.8 1269.7L1076 1269L1076.2 1268.4L1076.4 1251.8L1076.7 1234.8L1076.9 1217.5L1077.1 1199.9L1077.3 1199.8L1077.5 1199.7L1077.7 1199.7L1078 1215.1L1078.2 1230.9L1078.5 1247L1078.7 1263.4L1078.9 1262.6L1079.2 1261L1079.4 1259.1L1079.6 1240.5L1079.8 1221.9L1080.1 1203.5L1080.3 1185.2L1080.5 1185.1L1080.7 1185.1L1080.9 1185L1081.1 1202.5L1081.3 1220L1081.5 1237.3L1081.7 1254.6L1081.9 1250.8L1082.1 1247L1082.3 1243.3L1082.5 1225.6L1082.8 1208L1083 1190.5L1083.2 1173.2L1083.4 1173.3L1083.6 1173.3L1083.8 1173.4L1084.9 1237.9L1085.6 1235.5L1086.5 1177.9L1087.1 1181.7L1088.2 1234.6L1088.8 1231.3L1089.8 1182.2L1090.4 1182.6L1091 1233.7L1091.6 1232.6L1092.5 1171L1093.1 1170.1L1093.9 1229.5L1094.5 1227.6L1095.5 1168L1096.1 1170.6L1097 1230.8L1097.7 1228.4L1098.6 1178.2L1099.2 1180.6L1099.4 1192.2L1099.6 1203.8L1099.9 1215.6L1100.1 1227.5L1100.3 1226.6L1100.5 1225.7L1100.7 1224.8L1100.9 1211.8L1101.2 1198.7L1101.4 1185.5L1101.6 1172.2L1101.8 1172.4L1102 1172.6L1102.3 1172.8L1102.5 1183.5L1102.7 1194.3L1102.9 1205.2L1103.1 1215.4L1103.3 1224.6L1103.5 1220L1103.7 1215.5L1103.9 1211.1L1104.2 1195.8L1104.4 1181.1L1104.6 1166.9L1104.9 1153.3L1105.1 1153.3L1105.3 1153.2L1105.5 1153.1L1105.7 1164.3L1105.9 1174.9L1106.2 1185.4L1106.4 1197L1106.6 1195.8L1106.8 1194.6L1107 1193.3L1107.2 1177.9L1107.5 1161.3L1107.7 1143.7L1107.9 1125.1L1108.1 1123.7L1108.4 1122.8L1108.6 1122L1108.6 1190L1109.4 1125L1110.5 1105L1111.4 1130L1112.2 1200L1112.3 1184.1L1112.5 1199.9L1112.8 1215.2L1113 1218.1L1113.2 1218.4L1113.4 1218.6L1113.6 1205.5L1113.9 1193.1L1114.1 1181.3L1114.3 1170.1L1114.5 1172.9L1114.7 1175.7L1115 1178.5L1115.2 1201.8L1115.4 1224.3L1115.6 1222.5L1115.8 1220.8L1116 1219L1116.2 1205.7L1116.5 1192.4L1116.7 1179.2L1116.9 1166L1117.2 1165L1117.4 1164L1117.6 1163L1117.8 1170.9L1118 1178.7L1118.2 1186.3L1118.5 1194.1L1118.7 1202L1118.9 1200.2L1119.1 1198.3L1119.3 1196.5L1119.5 1183.3L1119.8 1169.8L1120 1156.1L1120.2 1142.3L1120.5 1142.5L1120.7 1142.6L1120.9 1142.9L1121.1 1148.1L1121.3 1153.3L1121.6 1158.9L1121.8 1164.9L1122.1 1171.3L1122.3 1178.2L1122.5 1176.6L1122.7 1175.1L1122.9 1173.5L1123.2 1155.7L1123.4 1138.2L1123.6 1120.5L1123.9 1102.6L1124.5 1102.8L1125.3 1171L1125.9 1167.3L1126.8 1100.8L1127.4 1102L1128.3 1164.6L1128.9 1160L1129.8 1100.5L1130.5 1100.5L1131.4 1167.3L1132 1167.7L1132.9 1097.1L1133.5 1101.7L1134.7 1169.3L1135.3 1169.3L1136.2 1093.8L1136.4 1097.2L1136.6 1100.5L1136.8 1103.7L1137.1 1126.8L1137.3 1149.4L1137.6 1171.7L1137.8 1171.4L1138 1171.2L1138.2 1170.9L1138.4 1155L1138.7 1139.3L1138.9 1123.9L1139.1 1108L1139.8 1109.7L1140.6 1179L1141.2 1175.7L1142.2 1104.6L1142.8 1109.2L1143.5 1176.4L1144.1 1173.4L1145.1 1104.9L1145.7 1105.4L1146.8 1173.7L1147.4 1167.9L1148.3 1112.4L1149 1114.9L1149.8 1178.9L1150.4 1175.1L1151.3 1106.1L1152 1111.4L1152.9 1170.6L1153.1 1170.9L1153.3 1171.8L1153.5 1172.8L1153.7 1157.8L1154 1142.7L1154.2 1127.6L1154.4 1112.4L1154.6 1113.7L1154.9 1114.9L1155.1 1116.1L1155.3 1134.8L1155.5 1153.5L1155.8 1172.2L1156 1191L1156.2 1189.3L1156.4 1187.6L1156.6 1185.8L1156.8 1171.2L1157.1 1156.4L1157.3 1141.4L1157.5 1126.2L1157.7 1129.6L1158 1133.1L1158.2 1136.5L1158.4 1150.2L1158.6 1164L1158.8 1177.9L1159 1191.9L1159.2 1206.1L1159.4 1207.2L1159.6 1208.4L1159.8 1209.5L1160.7 1137.5L1161.4 1140.4L1162.2 1216.7L1162.9 1214.9L1163.8 1141.4L1164.4 1143L1165.5 1215.5L1165.7 1214.3L1165.9 1213.2L1166.2 1212L1166.4 1195L1166.6 1178.3L1166.9 1161.9L1167.1 1145.9L1167.3 1147.8L1167.5 1149.6L1167.7 1151.4L1168.3 1215.4L1168.9 1215.2L1169.8 1152.2L1170.5 1153.6L1171.6 1218.4L1172.2 1217.1L1173.1 1151.1L1173.7 1157.5L1175 1219.9L1175.6 1219.2L1176.5 1157.8L1177.2 1159.5L1177.8 1219.6L1178.4 1214.5L1179.4 1158.3L1180 1161.4L1181.1 1220.5L1181.7 1220.1L1182.6 1158.7L1183.3 1159.9L1184.2 1219.4L1184.8 1209.7L1185.7 1161L1186.3 1164.4L1187.3 1215.7L1187.9 1209.8L1188.9 1163.8L1189.5 1167.2L1190.3 1220L1190.9 1217.7L1191.9 1163.5L1192.5 1169.8L1193.1 1226.8L1193.7 1224.3L1194.6 1170.2L1195.3 1171.8L1196.4 1224.6L1197 1222.6L1197.9 1165.3L1198.5 1167.2L1199.4 1235.6L1200.1 1231.7L1200.3 1214.1L1200.5 1196.7L1200.8 1179.8L1201 1163.1L1201.2 1163.6L1201.4 1164.1L1201.6 1164.7L1201.9 1183L1202.1 1200.9L1202.4 1218.4L1202.6 1216.7L1202.8 1215L1203 1213.4L1203.9 1162.5L1204.5 1164.1L1205.6 1220L1206.2 1218.5L1207.2 1157.5L1207.8 1159.9L1208 1175.8L1208.2 1192.3L1208.4 1209L1208.6 1225.7L1208.8 1225.3L1209 1225L1209.2 1224.6L1209.5 1209.3L1209.7 1193.9L1209.9 1178.5L1210.2 1163L1210.4 1164.4L1210.6 1165.7L1210.8 1167L1211 1182.6L1211.2 1198.2L1211.4 1213.9L1211.6 1229.4L1212.3 1226.4L1213.2 1173.5L1213.8 1175.9L1215 1225.2L1215.7 1218.8L1216.6 1173.1L1216.8 1172.7L1217 1172.4L1217.2 1172.1L1217.4 1184.1L1217.6 1196.4L1217.9 1208.8L1218.1 1221.3L1218.3 1220.6L1218.5 1219.9L1218.7 1219.2L1218.9 1204.6L1219.2 1189.8L1219.4 1174.8L1219.6 1159.6L1219.8 1159.3L1220.1 1158.9L1220.3 1158.5L1220.5 1172.3L1220.7 1186.3L1220.9 1200.4L1221.1 1215.1L1221.3 1214.7L1221.5 1214.3L1221.7 1214L1221.9 1199.8L1222.2 1185.9L1222.4 1172.1L1222.6 1158.7L1222.9 1159.8L1223.1 1160.9L1223.3 1162.1L1223.5 1177.6L1223.7 1192.9L1223.9 1207.9L1224.2 1222.7L1224.4 1223.1L1224.6 1223.5L1224.8 1223.9L1225 1210.3L1225.2 1197.4L1225.5 1184.2L1225.7 1170.7L1225.9 1172.2L1226.1 1173.7L1226.3 1175.2L1226.6 1190.9L1226.8 1206.9L1227.1 1223.2L1227.3 1239.8L1227.5 1240.4L1227.7 1240.9L1227.9 1241.5L1228.2 1229L1228.4 1216.3L1228.6 1203.4L1228.9 1190.3L1229.5 1192.3L1230.4 1244.2L1231.1 1240.5L1232 1192.2L1232.2 1189.8L1232.4 1187.2L1232.6 1184.7L1232.8 1194.9L1233.1 1205.4L1233.3 1216.1L1233.5 1227L1233.7 1223.8L1234 1220.6L1234.2 1218.8L1235.1 1161.2L1235.7 1161.8L1236.7 1219.9L1236.9 1219.3L1237.1 1218.3L1237.3 1217.1L1237.5 1200.3L1237.8 1182.9L1238 1164.9L1238.2 1146.4L1238.4 1145.2L1238.7 1144.1L1238.9 1143L1239.1 1159.9L1239.3 1177.6L1239.5 1195.7L1239.7 1213.9L1239.9 1212.8L1240.1 1211.7L1240.4 1210.6L1241.3 1126.1L1241.9 1134.5L1243 1207.6L1243.6 1202.2L1244.5 1136.8L1245.1 1138.4L1246.1 1203L1246.7 1201.4L1247.6 1133.8L1248.3 1135L1249.2 1210.6L1249.8 1208.5L1250.7 1134.1L1251.3 1136.5L1252.1 1211.4L1252.7 1209.1L1253.6 1135.7L1254.3 1137L1255.2 1207.4L1255.8 1205.8L1256.1 1186.1L1256.3 1166.2L1256.5 1147L1256.8 1128.4L1257 1128.9L1257.2 1129.4L1257.4 1129.9L1257.6 1142.2L1257.8 1154.1L1258 1165.5L1258.2 1176.4L1258.5 1186.9L1258.7 1185.5L1258.9 1184.1L1259.1 1182.7L1259.3 1166.6L1259.6 1151.2L1259.8 1136.4L1260 1122.2L1260.2 1121L1260.4 1119.9L1260.6 1118.7L1260.8 1131.3L1261.1 1144L1261.3 1157L1261.5 1170.1L1261.7 1169L1261.9 1168L1262.1 1168.1L1262.3 1157L1262.6 1145.6L1262.8 1133.8L1263 1121.7L1263.2 1125.5L1263.4 1129.3L1263.6 1133.2L1263.9 1148.9L1264.1 1164.9L1264.4 1181.3L1264.6 1198L1264.8 1198.2L1265 1198.3L1265.2 1197L1265.4 1180.8L1265.7 1164.6L1265.9 1148.3L1266.1 1131.9L1266.3 1132.9L1266.6 1133.9L1266.8 1134.9L1266.9 1156.1L1267.1 1177.3L1267.3 1198.6L1267.5 1198.7L1267.7 1198.9L1267.9 1199.1L1268.2 1183.9L1268.4 1168.5L1268.6 1153.1L1268.9 1137.7L1269.5 1139L1270.4 1207L1271 1207.2L1271.9 1134.4L1272.6 1140.3L1274 1206.7L1274.6 1200.6L1275.5 1144.3L1276.1 1152.4L1277.1 1210.3L1277.7 1205.4L1278.6 1138.9L1279.2 1141L1280.3 1206.9L1280.9 1204.4L1281.9 1134L1282.5 1133.8L1283.3 1202.3L1283.9 1202.1L1284.9 1133L1285.5 1134L1286.3 1212.2L1287 1211.1L1287.9 1135.5L1288.5 1140.1L1289.4 1214.7L1290 1213.4L1291 1134.4L1291.6 1140.2L1292.3 1216.1L1292.9 1213.8L1293.8 1142.1L1294.4 1148.4L1295.7 1215.8L1296.4 1209.1L1297.3 1151.3L1297.9 1155.6L1298.6 1220.1L1299.2 1216.7L1300.2 1153.5L1300.8 1155.9L1301.9 1228.3L1302.5 1220.7L1303.4 1155.7L1304 1158.8L1304.9 1223.3L1305.6 1222L1306.5 1153.7L1307.1 1155.8L1308 1220.3L1308.7 1214.2L1309.6 1156.8L1310.2 1158.8L1311.2 1226.9L1311.9 1225.7L1312.8 1158.7L1313.4 1165.1L1314.1 1224.4L1314.7 1220.2L1315.7 1167.9L1316.3 1172.2L1317.2 1229.2L1317.9 1227.4L1318.8 1178.6L1319 1179.8L1319.2 1181.4L1319.4 1183L1319.6 1196.4L1319.8 1209.9L1320.1 1223.4L1320.3 1237L1320.5 1237.5L1320.7 1238L1320.9 1238.6L1321.1 1225L1321.4 1211.3L1321.6 1197.6L1321.8 1183.8L1322 1184.8L1322.2 1185.7L1322.4 1186.7L1323.4 1248.9L1323.6 1247.7L1323.9 1246.6L1324.1 1245.4L1324.3 1229.6L1324.5 1214.1L1324.8 1198.9L1325 1184L1325.2 1184.8L1325.4 1185.5L1325.6 1186.2L1325.9 1195.4L1326.1 1204.4L1326.4 1213.2L1326.6 1221.8L1326.9 1230.2L1327.5 1228.5L1328.4 1179.9L1329 1183.2L1329.6 1232.7L1330.3 1232.1L1331.2 1181.5L1331.8 1184.6L1333 1227L1333.6 1227.2L1334.5 1184L1335.2 1187.7L1336 1235.2L1336.2 1234.9L1336.4 1234.7L1336.6 1234.5L1336.9 1224L1337.1 1213.3L1337.3 1202.4L1337.6 1191.3L1337.8 1191.6L1338 1192L1338.2 1192.3L1338.4 1204.3L1338.7 1216.6L1338.9 1229L1339.1 1241.6L1339.3 1241.6L1339.5 1241.6L1339.7 1241.5L1340.7 1193.2L1341.3 1197.9L1342.2 1246.6L1342.8 1242.4L1343.8 1202.1L1344.4 1205.8L1344.6 1218.6L1344.8 1231.5L1345 1244.6L1345.2 1244.1L1345.5 1243.6L1345.7 1243.1L1345.9 1231.6L1346.1 1220L1346.4 1208.3L1346.6 1196.4L1346.8 1197.2L1347 1198L1347.2 1198.7L1347.4 1207.1L1347.7 1215.6L1347.9 1224.1L1348.1 1232.8L1348.4 1241.5L1348.6 1240.8L1348.8 1240L1349 1239.3L1349.2 1228.4L1349.4 1217.4L1349.7 1206.3L1349.9 1195.1L1350.1 1195.5L1350.3 1195.8L1350.5 1196.2L1350.8 1205.9L1351 1215.6L1351.2 1225.5L1351.4 1235.4L1351.6 1245.4L1352.3 1242L1353.2 1194.8L1353.8 1195.6L1354.4 1240L1355 1236.6L1355.9 1198.7L1356.1 1200.3L1356.4 1201.7L1356.6 1203.2L1356.8 1209.4L1357 1215.7L1357.2 1222.1L1357.4 1228.7L1357.6 1235.4L1357.8 1234.7L1358 1234.1L1358.2 1233.5L1358.4 1220L1358.7 1206.3L1358.9 1192.3L1359.1 1178.1L1359.3 1177.6L1359.6 1177.1L1359.8 1176.7L1360.6 1225.7L1361.2 1224.9L1362.1 1181.5"/>
<path fill="#ff7f0e" stroke="none" d="M130 1006.2L130.6 1006.1L131.2 1005.9L131.8 1005.7L132.4 1005.6L133 1005.4L133.6 1005.2L134.2 1005.7L134.8 1007.7L135.4 1009.6L136 1011.5L136.6 1013.4L137.2 1015.3L137.8 1017.2L138.4 1019.1L139 1021L139.6 1023L140.2 1024.5L140.8 1025.2L141.4 1025.8L142 1026.5L142.6 1027.2L143.2 1027.9L143.8 1028.6L144.4 1029.3L145 1030L145.6 1029.9L146.2 1029.8L146.8 1029.7L147.4 1029.6L148 1029.5L148.6 1029.4L149.2 1029.4L149.8 1029.3L150.4 1029.7L151 1030.3L151.6 1031L152.2 1031.7L152.8 1032.3L153.4 1033L154 1033.6L154.6 1034.3L155.2 1035L155.8 1035.6L156.4 1036.3L157 1036.9L157.6 1037.6L158.2 1038.3L158.8 1038.9L159.4 1039.6L160 1040.2L160.6 1039.7L161.2 1039.2L161.8 1038.7L162.4 1038.2L163 1037.7L163.6 1037.2L164.2 1036.7L164.8 1036.2L165.4 1035.7L166 1035.2L166.6 1034.7L167.2 1034.2L167.8 1033.7L168.4 1033.7L169 1034L169.6 1034.3L170.2 1034.6L170.8 1035L171.4 1035.3L172 1035.6L172.6 1035.9L173.2 1036.2L173.8 1036.5L174.4 1036.8L175 1037.1L175.6 1036.9L176.2 1036.7L176.8 1036.5L177.4 1036.3L178 1036.1L178.6 1036L179.2 1035.8L179.8 1035.6L180.4 1035.4L181 1035.2L181.6 1035L182.2 1034.8L182.8 1034.6L183.4 1034.4L184 1034.2L184.6 1035.3L185.2 1036.4L185.8 1037.5L186.4 1038.5L187 1039.6L187.6 1040.7L188.2 1041.7L188.8 1042.8L189.4 1043.9L190 1045L190.6 1046L191.2 1047.1L191.8 1048.2L192.4 1049.2L193 1050.3L193.6 1051.4L194.2 1051.7L194.8 1050.3L195.4 1049L196 1047.7L196.6 1046.4L197.2 1045L197.8 1043.7L198.4 1042.4L199 1041.1L199.6 1039.7L200.2 1038.4L200.8 1037.1L201.4 1035.8L202 1034.4L202.6 1033.1L203.2 1032.2L203.8 1032.1L204.4 1032L205 1032L205.6 1031.9L206.2 1031.8L206.8 1031.7L207.4 1031.6L208 1031.5L208.6 1031.4L209.2 1031.4L209.8 1031.3L210.4 1032.1L211 1033.3L211.6 1034.6L212.2 1035.9L212.8 1037.1L213.4 1038.4L214 1039.7L214.6 1040.9L215.2 1042.2L215.8 1043.5L216.4 1044.7L217 1046L217.6 1047.3L218.2 1047.9L218.8 1047.3L219.4 1046.7L220 1046.1L220.6 1045.5L221.2 1044.9L221.8 1044.3L222.4 1043.7L223 1043.1L223.6 1042.5L224.2 1041.9L224.8 1041.3L225.4 1040.7L226 1040.1L226.6 1039.5L227.2 1038.9L227.8 1038.3L228.4 1038.6L229 1039.5L229.6 1040.3L230.2 1041.1L230.8 1041.9L231.4 1042.7L232 1043.5L232.6 1044.3L233.2 1045.2L233.8 1046L234.4 1046.8L235 1047.6L235.6 1048.4L236.2 1048.7L236.8 1048.1L237.4 1047.4L238 1046.8L238.6 1046.1L239.2 1045.5L239.8 1044.8L240.4 1044.1L241 1043.5L241.6 1042.8L242.2 1042.2L242.8 1041.5L243.4 1040.9L244 1040.2L244.6 1039.5L245.2 1039.2L245.8 1039.3L246.4 1039.5L247 1039.7L247.6 1039.9L248.2 1040.1L248.8 1040.3L249.4 1040.4L250 1040.6L250.6 1040.8L251.2 1041L251.8 1041.2L252.4 1040.7L253 1039.9L253.6 1039.1L254.2 1038.3L254.8 1037.5L255.4 1036.7L256 1035.9L256.6 1035L257.2 1034.2L257.8 1033.4L258.4 1032.6L259 1031.8L259.6 1032.8L260.2 1033.8L260.8 1034.8L261.4 1035.8L262 1036.7L262.6 1037.7L263.2 1038.7L263.8 1039.7L264.4 1040.7L265 1041.7L265.6 1042.3L266.2 1042.9L266.8 1043.6L267.4 1044.2L268 1044.8L268.6 1045.4L269.2 1046L269.8 1046.7L270.4 1047.3L271 1047.9L271.6 1048.5L272.2 1048.8L272.8 1048.4L273.4 1048L274 1047.5L274.6 1047.1L275.2 1046.7L275.8 1046.2L276.4 1045.8L277 1045.4L277.6 1045L278.2 1044.5L278.8 1044.1L279.4 1043.7L280 1043.2L280.6 1043.8L281.2 1044.4L281.8 1045L282.4 1045.6L283 1046.2L283.6 1046.8L284.2 1047.4L284.8 1048L285.4 1048.6L286 1049.2L286.6 1049.8L287.2 1050.4L287.8 1050.8L288.4 1051.3L289 1051.7L289.6 1052.2L290.2 1052.6L290.8 1053.1L291.4 1053.5L292 1054L292.6 1054.4L293.2 1054.9L293.8 1055.3L294.4 1055.8L295 1056.2L295.6 1055.4L296.2 1054.6L296.8 1053.8L297.4 1053.1L298 1052.3L298.6 1051.5L299.2 1050.7L299.8 1049.9L300.4 1049.1L301 1048.3L301.6 1047.5L302.2 1046.7L302.8 1045.9L303.4 1045.1L304 1044.3L304.6 1043.5L305.2 1043.4L305.8 1044.6L306.4 1045.8L307 1047L307.6 1048.2L308.2 1049.4L308.8 1050.6L309.4 1051.8L310 1053L310.6 1054.2L311.2 1055.4L311.8 1056.6L312.4 1057.8L313 1059L313.6 1060.2L314.2 1060.8L314.8 1060.3L315.4 1059.7L316 1059.2L316.6 1058.7L317.2 1058.2L317.8 1057.6L318.4 1057.1L319 1056.6L319.6 1056.1L320.2 1055.5L320.8 1055L321.4 1054.5L322 1054L322.6 1055L323.2 1056.1L323.8 1057.2L324.4 1058.3L325 1059.4L325.6 1060.5L326.2 1061.6L326.8 1062.6L327.4 1063.7L328 1064.8L328.6 1065.9L329.2 1067L329.8 1068.1L330.4 1069.2L331 1070.2L331.6 1068.8L332.2 1067.3L332.8 1065.9L333.4 1064.4L334 1063L334.6 1061.5L335.2 1060L335.8 1058.6L336.4 1057.1L337 1055.7L337.6 1054.8L338.2 1053.9L338.8 1053L339.4 1052.1L340 1051.3L340.6 1050.4L341.2 1049.5L341.8 1048.6L342.4 1047.7L343 1046.8L343.6 1048.3L344.2 1049.8L344.8 1051.3L345.4 1052.8L346 1054.3L346.6 1055.8L347.2 1057.3L347.8 1058.8L348.4 1060.3L349 1061.8L349.6 1063.2L350.2 1064.7L350.8 1066.2L351.4 1067.7L352 1069.2L352.6 1070.7L353.2 1072.2L353.8 1073.7L354.4 1075.2L355 1076.7L355.6 1078.2L356.2 1079.7L356.8 1081.2L357.4 1082.7L358 1084.2L358.6 1084.3L359.2 1084.3L359.8 1084.3L360.4 1084.3L361 1084.3L361.6 1084.4L362.2 1084.4L362.8 1084.4L363.4 1084.4L364 1084.5L364.6 1084.5L365.2 1084.5L365.8 1084.5L366.4 1084.8L367 1085.2L367.6 1085.5L368.2 1085.9L368.8 1086.3L369.4 1086.7L370 1087.1L370.6 1087.4L371.2 1087.8L371.8 1088.2L372.4 1088.6L373 1089L373.6 1089.4L374.2 1089.7L374.8 1090.1L375.4 1090.8L376 1091.6L376.6 1092.4L377.2 1093.2L377.8 1094L378.4 1094.8L379 1095.6L379.6 1096.4L380.2 1097.2L380.8 1098L381.4 1098.8L382 1099.6L382.6 1100.4L383.2 1101.2L383.8 1102L384.4 1101.6L385 1100.6L385.6 1099.7L386.2 1098.7L386.8 1097.7L387.4 1096.8L388 1095.8L388.6 1094.8L389.2 1093.9L389.8 1092.9L390.4 1092L391 1091L391.6 1090L392.2 1089.3L392.8 1088.9L393.4 1088.5L394 1088.1L394.6 1087.7L395.2 1087.3L395.8 1086.9L396.4 1086.6L397 1086.2L397.6 1085.8L398.2 1085.4L398.8 1085L399.4 1084.6L400 1084.2L400.6 1084.9L401.2 1085.6L401.8 1086.3L402.4 1087L403 1087.7L403.6 1088.4L404.2 1089L404.8 1089.7L405.4 1089.3L406 1088.3L406.6 1087.3L407.2 1086.3L407.8 1085.3L408.4 1084.3L409 1083.3L409.6 1082.3L410.2 1081.3L410.8 1080.3L411.4 1080.4L412 1081L412.6 1081.6L413.2 1082.2L413.8 1082.8L414.4 1083.4L415 1084L415.6 1084.6L416.2 1084.6L416.8 1083.5L417.4 1082.4L418 1081.2L418.6 1080.1L419.2 1079L419.8 1077.9L420.4 1076.8L421 1075.7L421.6 1074.6L422.2 1073.4L422.8 1072.3L423.4 1071.2L424 1070.1L424.6 1070.4L425.2 1070.7L425.8 1070.9L426.4 1071.2L427 1071.5L427.6 1071.8L428.2 1072L428.8 1072.3L429.4 1072.6L430 1072.9L430.6 1073.1L431.2 1073.4L431.8 1073.7L432.4 1074L433 1074.2L433.6 1073.4L434.2 1072.6L434.8 1071.7L435.4 1070.9L436 1070.1L436.6 1069.2L437.2 1068.4L437.8 1067.6L438.4 1066.7L439 1065.9L439.6 1065L440.2 1064.2L440.8 1063.4L441.4 1063.4L442 1063.8L442.6 1064.2L443.2 1064.6L443.8 1065L444.4 1065.4L445 1065.8L445.6 1066.2L446.2 1066.6L446.8 1067L447.4 1067.4L448 1067.8L448.6 1066.9L449.2 1065.9L449.8 1064.9L450.4 1064L451 1063L451.6 1062.1L452.2 1061.1L452.8 1060.1L453.4 1060.2L454 1060.7L454.6 1061.2L455.2 1061.7L455.8 1062.2L456.4 1062.7L457 1063.2L457.6 1063.7L458.2 1064.2L458.8 1064.7L459.4 1065.2L460 1065.7L460.6 1066.2L461.2 1066.7L461.8 1067.2L462.4 1067.8L463 1068.3L463.6 1068.8L464.2 1068.4L464.8 1066.4L465.4 1064.3L466 1062.2L466.6 1060.2L467.2 1058.1L467.8 1056.1L468.4 1054L469 1052L469.6 1049.9L470.2 1048.2L470.8 1047.4L471.4 1046.6L472 1045.7L472.6 1044.9L473.2 1044.1L473.8 1043.2L474.4 1044.1L475 1045.8L475.6 1047.5L476.2 1049.2L476.8 1051L477.4 1052.7L478 1054.4L478.6 1056.1L479.2 1057.8L479.8 1059.5L480.4 1061.2L481 1063L481.6 1064.7L482.2 1065.6L482.8 1065L483.4 1064.3L484 1063.7L484.6 1063L485.2 1062.4L485.8 1061.7L486.4 1061.1L487 1060.5L487.6 1059.8L488.2 1059.2L488.8 1058.5L489.4 1057.9L490 1057.2L490.6 1056.8L491.2 1056.3L491.8 1055.8L492.4 1055.3L493 1054.8L493.6 1054.3L494.2 1053.8L494.8 1053.4L495.4 1052.9L496 1052.4L496.6 1052.3L497.2 1052.2L497.8 1052.1L498.4 1052L499 1051.9L499.6 1051.9L500.2 1051.8L500.8 1051.7L501.4 1055.6L502 1061.4L502.6 1067.2L503.2 1079.3L503.8 1095.1L504.4 1110.9L505 1126.8L505.6 1142.6L506.2 1158.4L506.8 1174.3L507.4 1190.1L508 1203L508.6 1213.1L509.2 1223.1L509.8 1233.2L510.4 1243.2L511 1253.3L511.6 1263.3L512.2 1271.1L512.8 1274.5L513.4 1277.9L514 1281.3L514.6 1284.7L515.2 1288.1L515.8 1291.6L516.4 1295L517 1298.4L517.6 1301.8L518.2 1305.2L518.8 1310L519.4 1322L520 1334L520.6 1346L521.2 1358L521.8 1370L522.4 1379.2L523 1387L523.6 1394.8L524.2 1405.2L524.8 1420.9L525.4 1436.6L526 1452.3L526.6 1468L527.2 1474.2L527.8 1480.4L528.4 1486.5L529 1492.7L529.6 1498.9L530.2 1504.9L530.8 1510.7L531.4 1516.5L532 1522.3L532.6 1528L533.2 1530.5L533.8 1532.3L534.4 1534.1L535 1536L535.6 1537.8L536.2 1539.6L536.8 1541.4L537.4 1544.4L538 1548.1L538.6 1551.8L539.2 1555.4L539.8 1559.1L540.4 1562.8L541 1565.3L541.6 1567.3L542.2 1569.3L542.8 1571.3L543.4 1573.3L544 1575.3L544.6 1577.3L545.2 1579.3L545.8 1581.3L546.4 1582.8L547 1584.1L547.6 1585.3L548.2 1586.6L548.8 1587.9L549.4 1589.1L550 1590.4L550.6 1591.9L551.2 1593.6L551.8 1595.4L552.4 1559.6L553 1505L553.6 1426.3L554.2 1351.7L554.8 1279.2L555.4 1215L556 1155L556.6 1126.8L557.2 1112L557.8 1119L558.4 1129.3L559 1139.8L559.6 1150.4L560.2 1161L560.8 1176.5L561.4 1194.4L562 1212.4L562.6 1230.4L563.2 1248.3L563.8 1264.4L564.4 1270.6L565 1276.8L565.6 1275.4L566.2 1274L566.8 1269.4L567.4 1261.7L568 1253.9L568.6 1246.8L569.2 1239.7L569.8 1232.7L570.4 1226L571 1221.4L571.6 1216.9L572.2 1212.3L572.8 1207.7L573.4 1203.2L574 1200.6L574.6 1199L575.2 1197.4L575.8 1195.8L576.4 1194.2L577 1192.6L577.6 1191L578.2 1189.4L578.8 1187.8L579.4 1186.3L580 1184.8L580.6 1183.2L581.2 1181.7L581.8 1180.1L582.4 1178.6L583 1177.1L583.6 1175.5L584.2 1175.1L584.8 1176.7L585.4 1178.4L586 1180L586.6 1181.7L587.2 1183.4L587.8 1185L588.4 1186.7L589 1188.4L589.6 1186L590.2 1183.7L590.8 1181.4L591.4 1179.1L592 1176.8L592.6 1174.5L593.2 1173.8L593.8 1176.2L594.4 1178.6L595 1181.1L595.6 1183.5L596.2 1185.9L596.8 1188.4L597.4 1190.8L598 1193.2L598.6 1195.7L599.2 1198.1L599.8 1200.5L600.4 1199.6L601 1196.9L601.6 1194.2L602.2 1191.6L602.8 1188.9L603.4 1186.2L604 1183.5L604.6 1180.9L605.2 1178.5L605.8 1176.9L606.4 1175.3L607 1173.7L607.6 1172.1L608.2 1170.5L608.8 1168.9L609.4 1167.3L610 1165.7L610.6 1164.1L611.2 1163.8L611.8 1166L612.4 1168.2L613 1170.4L613.6 1172.6L614.2 1174.8L614.8 1177L615.4 1179.1L616 1181.3L616.6 1183.5L617.2 1185.7L617.8 1187.9L618.4 1187.2L619 1184.9L619.6 1182.7L620.2 1180.5L620.8 1178.2L621.4 1176L622 1173.8L622.6 1171.6L623.2 1169.3L623.8 1167.1L624.4 1165.6L625 1164.5L625.6 1163.4L626.2 1162.3L626.8 1161.2L627.4 1160L628 1158.9L628.6 1157.8L629.2 1157.7L629.8 1159.5L630.4 1161.2L631 1163L631.6 1164.8L632.2 1166.6L632.8 1168.4L633.4 1170.2L634 1172L634.6 1173.8L635.2 1175.5L635.8 1177.3L636.4 1177.3L637 1176.4L637.6 1175.4L638.2 1174.5L638.8 1173.5L639.4 1172.6L640 1171.6L640.6 1170.7L641.2 1168.7L641.8 1164.8L642.4 1160.8L643 1156.8L643.6 1152.8L644.2 1148.8L644.8 1144.8L645.4 1140.8L646 1136.8L646.6 1138.8L647.2 1140.8L647.8 1142.8L648.4 1144.9L649 1146.9L649.6 1148.9L650.2 1150.9L650.8 1153L651.4 1153.6L652 1153.6L652.6 1153.6L653.2 1153.5L653.8 1153.5L654.4 1153.5L655 1153.5L655.6 1153.4L656.2 1153.4L656.8 1153.4L657.4 1152.1L658 1150.3L658.6 1148.5L659.2 1146.7L659.8 1144.8L660.4 1143L661 1141.2L661.6 1139.3L662.2 1137.5L662.8 1135.7L663.4 1134.9L664 1134.6L664.6 1134.4L665.2 1134.1L665.8 1133.8L666.4 1133.5L667 1133.3L667.6 1133L668.2 1133.2L668.8 1134.5L669.4 1135.7L670 1137L670.6 1138.3L671.2 1139.5L671.8 1140.8L672.4 1142L673 1143.3L673.6 1144.5L674.2 1145.1L674.8 1144.4L675.4 1143.7L676 1142.9L676.6 1142.2L677.2 1141.5L677.8 1140.7L678.4 1140L679 1139.3L679.6 1138.5L680.2 1137.8L680.8 1137L681.4 1136.7L682 1136.5L682.6 1136.4L683.2 1136.2L683.8 1136.1L684.4 1135.9L685 1135.8L685.6 1135.6L686.2 1135.5L686.8 1135.3L687.4 1135.2L688 1135L688.6 1134.9L689.2 1134.7L689.8 1134.6L690.4 1134.6L691 1134.8L691.6 1135L692.2 1135.2L692.8 1135.3L693.4 1135.5L694 1135.7L694.6 1135.8L695.2 1136L695.8 1136.2L696.4 1137L697 1138.1L697.6 1139.3L698.2 1139.8L698.8 1139.1L699.4 1138.3L700 1137.6L700.6 1136.8L701.2 1136.1L701.8 1135.3L702.4 1135L703 1135L703.6 1134.9L704.2 1134.9L704.8 1134.8L705.4 1134.7L706 1134.7L706.6 1134.6L707.2 1134.6L707.8 1134.5L708.4 1134.5L709 1134.4L709.6 1134.3L710.2 1134.3L710.8 1134.2L711.4 1134.2L712 1134.1L712.6 1133.8L713.2 1133.5L713.8 1133.2L714.4 1132.9L715 1132.6L715.6 1132.3L716.2 1132L716.8 1131.7L717.4 1131.4L718 1131.1L718.6 1130.8L719.2 1130.5L719.8 1130.2L720.4 1127.9L721 1124.5L721.6 1121.2L722.2 1121.7L722.8 1130.1L723.4 1138.5L724 1146.9L724.6 1146.4L725.2 1145.9L725.8 1145.4L726.4 1144.9L727 1144.4L727.6 1143.1L728.2 1141.7L728.8 1140.4L729.4 1139.1L730 1137.8L730.6 1136.5L731.2 1135L731.8 1133.1L732.4 1131.1L733 1129.2L733.6 1127.3L734.2 1125.4L734.8 1123.4L735.4 1126.6L736 1132.2L736.6 1137.9L737.2 1143.6L737.8 1152.4L738.4 1165L739 1181.5L739.6 1198L740.2 1214.5L740.8 1236.5L741.4 1261.2L742 1286L742.6 1305.4L743.2 1324.8L743.8 1343.7L744.4 1360.2L745 1376.7L745.6 1393.7L746.2 1411.2L746.8 1429.4L747.4 1442.7L748 1444.9L748.6 1447L749.2 1449.1L749.8 1451.3L750.4 1454.5L751 1458.3L751.6 1462.1L752.2 1465.9L752.8 1469.7L753.4 1473.4L754 1477.2L754.6 1481L755.2 1486.5L755.8 1492L756.4 1497.4L757 1502.9L757.6 1508.4L758.2 1513.9L758.8 1519.4L759.4 1524.9L760 1530.3L760.6 1536L761.2 1542L761.8 1548L762.4 1554L763 1560L763.6 1566L764.2 1572L764.8 1578L765.4 1584.3L766 1590.8L766.6 1597.3L767.2 1577L767.8 1543.3L768.4 1509.6L769 1469.3L769.6 1427.7L770.2 1383.8L770.8 1335.3L771.4 1279.3L772 1214.1L772.6 1178.9L773.2 1143.7L773.8 1124.4L774.4 1112.9L775 1101.5L775.6 1090L776.2 1102.5L776.8 1117.9L777.4 1133.4L778 1147.6L778.6 1159.6L779.2 1171.6L779.8 1183.6L780.4 1196.4L781 1209.5L781.6 1222.6L782.2 1232.5L782.8 1235.9L783.4 1239.4L784 1242.8L784.6 1243.7L785.2 1239.4L785.8 1235.1L786.4 1230.8L787 1204L787.6 1165.9L788.2 1157L788.8 1154L789.4 1151L790 1148L790.6 1146.5L791.2 1145L791.8 1143.6L792.4 1142.1L793 1140.6L793.6 1139.2L794.2 1137.7L794.8 1142.2L795.4 1147.9L796 1153.5L796.6 1159.2L797.2 1164.9L797.8 1170.6L798.4 1176.2L799 1180.3L799.6 1182.8L800.2 1185.4L800.8 1187.9L801.4 1190.4L802 1192.9L802.6 1195.4L803.2 1196.5L803.8 1194.9L804.4 1193.3L805 1191.7L805.6 1190.1L806.2 1188.5L806.8 1186.9L807.4 1185.3L808 1183.7L808.6 1182L809.2 1180.3L809.8 1178.6L810.4 1176.9L811 1175.2L811.6 1173.5L812.2 1172.7L812.8 1173.7L813.4 1174.7L814 1175.7L814.6 1176.7L815.2 1177.7L815.8 1178.7L816.4 1179.9L817 1181L817.6 1182.2L818.2 1183.4L818.8 1184.5L819.4 1185.7L820 1186.9L820.6 1188L821.2 1189.2L821.8 1190.4L822.4 1189.3L823 1188.3L823.6 1187.2L824.2 1186.2L824.8 1185.2L825.4 1184.1L826 1183.1L826.6 1182.1L827.2 1181.1L827.8 1180.4L828.4 1179.7L829 1179L829.6 1178.2L830.2 1177.5L830.8 1176.8L831.4 1176.1L832 1175.4L832.6 1174.7L833.2 1173.9L833.8 1173.2L834.4 1173.3L835 1173.5L835.6 1173.6L836.2 1173.7L836.8 1173.8L837.4 1173.9L838 1174L838.6 1174.2L839.2 1174.3L839.8 1174.4L840.4 1174.5L841 1174.5L841.6 1174.6L842.2 1174.6L842.8 1174.6L843.4 1174.6L844 1174.7L844.6 1174.7L845.2 1174.7L845.8 1174.7L846.4 1174.8L847 1174.8L847.6 1174.4L848.2 1174L848.8 1173.6L849.4 1173.2L850 1172.8L850.6 1172.4L851.2 1172L851.8 1171.6L852.4 1171.2L853 1170.8L853.6 1170.4L854.2 1169.1L854.8 1167.9L855.4 1166.7L856 1165.5L856.6 1164.2L857.2 1163L857.8 1161.8L858.4 1158.2L859 1153.5L859.6 1148.8L860.2 1140.7L860.8 1126.1L861.4 1130.9L862 1145.3L862.6 1150.1L863.2 1155L863.8 1157.2L864.4 1156.9L865 1156.6L865.6 1156.3L866.2 1156L866.8 1155.7L867.4 1155.4L868 1155.2L868.6 1154.9L869.2 1154.4L869.8 1153.7L870.4 1152.9L871 1152.2L871.6 1151.4L872.2 1150.7L872.8 1150L873.4 1149.2L874 1149.7L874.6 1150.2L875.2 1150.7L875.8 1151.2L876.4 1151.7L877 1152.2L877.6 1152.7L878.2 1153.2L878.8 1153.7L879.4 1154.2L880 1154.7L880.6 1157L881.2 1159.3L881.8 1161.6L882.4 1163.9L883 1166.2L883.6 1167.5L884.2 1167.8L884.8 1168L885.4 1168.3L886 1168.6L886.6 1168.8L887.2 1169.1L887.8 1169.4L888.4 1169.6L889 1169.8L889.6 1169.8L890.2 1169.8L890.8 1169.8L891.4 1169.8L892 1169.8L892.6 1169.8L893.2 1169.8L893.8 1169.8L894.4 1169.8L895 1169.8L895.6 1169.8L896.2 1169.8L896.8 1169.8L897.4 1169.8L898 1170.6L898.6 1171.8L899.2 1173L899.8 1174.2L900.4 1175.3L901 1176.5L901.6 1177.7L902.2 1178.4L902.8 1178.1L903.4 1177.8L904 1177.5L904.6 1177.1L905.2 1176.8L905.8 1176.5L906.4 1176.2L907 1175.9L907.6 1175.5L908.2 1175.2L908.8 1174.9L909.4 1174.6L910 1174.3L910.6 1173.9L911.2 1173.6L911.8 1173.3L912.4 1173L913 1172.7L913.6 1172.7L914.2 1172.8L914.8 1172.9L915.4 1172.9L916 1173L916.6 1173.1L917.2 1173.1L917.8 1173.2L918.4 1173.3L919 1173.3L919.6 1173.4L920.2 1173.5L920.8 1173.5L921.4 1173.6L922 1173.7L922.6 1173.9L923.2 1174L923.8 1174.2L924.4 1174.3L925 1174.5L925.6 1174.6L926.2 1174.8L926.8 1174.9L927.4 1175.1L928 1175.2L928.6 1175.4L929.2 1175.5L929.8 1175.7L930.4 1175.8L931 1176L931.6 1176.1L932.2 1176.3L932.8 1176.3L933.4 1176.1L934 1175.9L934.6 1175.7L935.2 1175.5L935.8 1175.2L936.4 1175L937 1174.8L937.6 1174.6L938.2 1174.4L938.8 1174.2L939.4 1173.9L940 1173.7L940.6 1173.5L941.2 1173.3L941.8 1173.1L942.4 1172.8L943 1172.6L943.6 1172.4L944.2 1177.3L944.8 1183.2L945.4 1189.2L946 1198L946.6 1207.1L947.2 1219L947.8 1230.9L948.4 1235.3L949 1235.9L949.6 1236.5L950.2 1237.1L950.8 1237.7L951.4 1238.4L952 1239L952.6 1239.6L953.2 1240.2L953.8 1240.8L954.4 1241.4L955 1242L955.6 1242.6L956.2 1258.1L956.8 1281.1L957.4 1307L958 1323.5L958.6 1340L959.2 1359.8L959.8 1386.2L960.4 1407L961 1425L961.6 1443L962.2 1461L962.8 1479.3L963.4 1497.6L964 1515.9L964.6 1528.2L965.2 1537.4L965.8 1546.7L966.4 1556L967 1555.7L967.6 1557.5L968.2 1559.2L968.8 1561L969.4 1562.8L970 1564.5L970.6 1565.9L971.2 1567.3L971.8 1568.6L972.4 1570L973 1571.4L973.6 1572.7L974.2 1578.7L974.8 1582.2L975.4 1585.7L976 1589.2L976.6 1592.6L977.2 1596.1L977.8 1599.6L978.4 1603.1L979 1606.5L979.6 1610L980.2 1614L980.8 1618.1L981.4 1622.1L982 1626.1L982.6 1630.2L983.2 1634.2L983.8 1638.2L984.4 1642.3L985 1646.3L985.6 1650.3L986.2 1654.3L986.8 1658.2L987.4 1662.1L988 1666.1L988.6 1670L989.2 1673.7L989.8 1677.1L990.4 1680.5L991 1683.9L991.6 1687.3L992.2 1673.3L992.8 1641.8L993.4 1610.3L994 1551.8L994.6 1488L995.2 1422.7L995.8 1357.4L996.4 1299.6L997 1279.1L997.6 1258.6L998.2 1242.2L998.8 1233.8L999.4 1225.4L1000 1217L1000.6 1211.8L1001.2 1217.4L1001.8 1226.3L1002.4 1235.1L1003 1243.9L1003.6 1254.8L1004.2 1265.7L1004.8 1276.6L1005.4 1287.5L1006 1293.2L1006.6 1297.8L1007.2 1294.4L1007.8 1287L1008.4 1279.5L1009 1272.1L1009.6 1266L1010.2 1266.1L1010.8 1266.3L1011.4 1266.5L1012 1266.7L1012.6 1266.9L1013.2 1267.1L1013.8 1267.3L1014.4 1267.5L1015 1267.6L1015.6 1265.1L1016.2 1262.6L1016.8 1260.1L1017.4 1257.5L1018 1255L1018.6 1252.5L1019.2 1250.4L1019.8 1249.4L1020.4 1248.3L1021 1247.2L1021.6 1246.2L1022.2 1245.1L1022.8 1244.1L1023.4 1243L1024 1241.9L1024.6 1242.9L1025.2 1243.9L1025.8 1244.9L1026.4 1245.9L1027 1246.8L1027.6 1247.8L1028.2 1248.8L1028.8 1249.8L1029.4 1250.8L1030 1251.8L1030.6 1250.8L1031.2 1249.7L1031.8 1248.7L1032.4 1247.7L1033 1246.7L1033.6 1245.7L1034.2 1244.7L1034.8 1243.6L1035.4 1242.6L1036 1241.6L1036.6 1240.6L1037.2 1240.1L1037.8 1240.8L1038.4 1241.4L1039 1242.1L1039.6 1242.7L1040.2 1243.4L1040.8 1244.1L1041.4 1244.7L1042 1245.4L1042.6 1245.8L1043.2 1246.3L1043.8 1246.8L1044.4 1247.2L1045 1247.7L1045.6 1248.2L1046.2 1248.6L1046.8 1249.1L1047.4 1249.6L1048 1250.1L1048.6 1249.1L1049.2 1248.1L1049.8 1247.1L1050.4 1246.1L1051 1245.1L1051.6 1244.1L1052.2 1243.1L1052.8 1242.1L1053.4 1241.1L1054 1240.1L1054.6 1239.5L1055.2 1238.9L1055.8 1238.3L1056.4 1237.7L1057 1237.1L1057.6 1236.5L1058.2 1235.9L1058.8 1235.3L1059.4 1234.7L1060 1234.1L1060.6 1233.5L1061.2 1232.9L1061.8 1232.4L1062.4 1231.8L1063 1231.2L1063.6 1230.6L1064.2 1230L1064.8 1229.5L1065.4 1228.9L1066 1228.3L1066.6 1227.7L1067.2 1227.4L1067.8 1227.4L1068.4 1227.4L1069 1227.4L1069.6 1227.5L1070.2 1227.5L1070.8 1227.5L1071.4 1227.5L1072 1227.5L1072.6 1227.6L1073.2 1227.6L1073.8 1227.6L1074.4 1227.6L1075 1227.6L1075.6 1226.7L1076.2 1225.8L1076.8 1224.9L1077.4 1223.9L1078 1223L1078.6 1222.1L1079.2 1221.1L1079.8 1220.2L1080.4 1219.5L1081 1218.8L1081.6 1218.1L1082.2 1217.5L1082.8 1216.8L1083.4 1216.1L1084 1215.5L1084.6 1214.8L1085.2 1214.3L1085.8 1214L1086.4 1213.8L1087 1213.5L1087.6 1213.3L1088.2 1213L1088.8 1212.7L1089.4 1212.5L1090 1212.2L1090.6 1212L1091.2 1211.7L1091.8 1211.5L1092.4 1212L1093 1213L1093.6 1214L1094.2 1214.9L1094.8 1215.9L1095.4 1216.9L1096 1217.8L1096.6 1218.8L1097.2 1219.8L1097.8 1220.8L1098.4 1220.6L1099 1219.9L1099.6 1219.1L1100.2 1218.4L1100.8 1217.7L1101.4 1217L1102 1216.2L1102.6 1215.5L1103.2 1214.8L1103.8 1214L1104.4 1212.4L1105 1210.4L1105.6 1208.3L1106.2 1206.2L1106.8 1204.2L1107.4 1189.5L1108 1168.5L1108.6 1167.3L1109.2 1166.1L1109.8 1165.9L1110.4 1166.8L1111 1167.7L1111.6 1171.8L1112.2 1191.5L1112.8 1211.2L1113.4 1219.9L1114 1223.2L1114.6 1226.4L1115.2 1228L1115.8 1226.3L1116.4 1224.7L1117 1223L1117.6 1221.4L1118.2 1219.7L1118.8 1218.1L1119.4 1214.3L1120 1209.5L1120.6 1204.7L1121.2 1199.9L1121.8 1195.1L1122.4 1193.1L1123 1192.6L1123.6 1192L1124.2 1191.5L1124.8 1190.9L1125.4 1190.4L1126 1189.8L1126.6 1190.3L1127.2 1190.8L1127.8 1191.3L1128.4 1191.9L1129 1192.4L1129.6 1192.9L1130.2 1193.4L1130.8 1193.9L1131.4 1194.4L1132 1194.9L1132.6 1195.5L1133.2 1196.1L1133.8 1197L1134.4 1197.8L1135 1198.7L1135.6 1199.6L1136.2 1200.5L1136.8 1201.3L1137.4 1202.2L1138 1203.1L1138.6 1202.6L1139.2 1202L1139.8 1201.5L1140.4 1201L1141 1200.5L1141.6 1199.9L1142.2 1199.4L1142.8 1198.9L1143.4 1198.4L1144 1197.9L1144.6 1197.3L1145.2 1196.8L1145.8 1196.3L1146.4 1195.8L1147 1195.2L1147.6 1195.3L1148.2 1195.3L1148.8 1195.3L1149.4 1195.4L1150 1195.4L1150.6 1195.4L1151.2 1195.4L1151.8 1195.5L1152.4 1195.5L1153 1195.5L1153.6 1196.1L1154.2 1196.7L1154.8 1197.3L1155.4 1197.9L1156 1198.5L1156.6 1199.1L1157.2 1199.7L1157.8 1200.3L1158.4 1200.9L1159 1201.5L1159.6 1202.1L1160.2 1202.4L1160.8 1202.1L1161.4 1201.8L1162 1201.5L1162.6 1201.2L1163.2 1200.9L1163.8 1200.6L1164.4 1200.3L1165 1200L1165.6 1199.7L1166.2 1199.8L1166.8 1200.8L1167.4 1201.8L1168 1202.8L1168.6 1203.8L1169.2 1204.8L1169.8 1205.8L1170.4 1206.8L1171 1207.7L1171.6 1208.7L1172.2 1209.4L1172.8 1209.4L1173.4 1209.4L1174 1209.4L1174.6 1209.4L1175.2 1209.4L1175.8 1209.4L1176.4 1209.4L1177 1209.4L1177.6 1209.4L1178.2 1209.4L1178.8 1209.4L1179.4 1209.4L1180 1209.4L1180.6 1208.9L1181.2 1208.5L1181.8 1208L1182.4 1207.6L1183 1207.1L1183.6 1206.7L1184.2 1206.3L1184.8 1205.8L1185.4 1205.9L1186 1206.2L1186.6 1206.5L1187.2 1206.8L1187.8 1207.1L1188.4 1207.5L1189 1207.8L1189.6 1208.1L1190.2 1208.4L1190.8 1208.7L1191.4 1209.1L1192 1209.4L1192.6 1209.2L1193.2 1209L1193.8 1208.8L1194.4 1208.6L1195 1208.4L1195.6 1208.2L1196.2 1208L1196.8 1207.8L1197.4 1207.6L1198 1207.4L1198.6 1207.2L1199.2 1206.9L1199.8 1206.5L1200.4 1206L1201 1205.6L1201.6 1205.1L1202.2 1204.6L1202.8 1204.2L1203.4 1203.7L1204 1203.3L1204.6 1202.8L1205.2 1202.7L1205.8 1203.3L1206.4 1203.9L1207 1204.5L1207.6 1205.1L1208.2 1205.7L1208.8 1206.3L1209.4 1206.9L1210 1207.5L1210.6 1208.1L1211.2 1208.3L1211.8 1207.7L1212.4 1207.1L1213 1206.5L1213.6 1205.9L1214.2 1205.3L1214.8 1204.7L1215.4 1204L1216 1203.3L1216.6 1202.6L1217.2 1201.9L1217.8 1201.1L1218.4 1200.4L1219 1199.7L1219.6 1198.9L1220.2 1198.2L1220.8 1197.5L1221.4 1198.3L1222 1199.9L1222.6 1201.4L1223.2 1203L1223.8 1204.6L1224.4 1206.2L1225 1207.8L1225.6 1209.3L1226.2 1210.8L1226.8 1212.2L1227.4 1213.6L1228 1215L1228.6 1216.4L1229.2 1217.8L1229.8 1219.2L1230.4 1218.9L1231 1217.7L1231.6 1216.5L1232.2 1215.3L1232.8 1214.1L1233.4 1212.9L1234 1211.7L1234.6 1210.5L1235.2 1209L1235.8 1207.1L1236.4 1205.2L1237 1203.3L1237.6 1201.3L1238.2 1199.4L1238.8 1197.5L1239.4 1195.6L1240 1193.7L1240.6 1193.6L1241.2 1193.6L1241.8 1193.6L1242.4 1193.6L1243 1193.6L1243.6 1193.5L1244.2 1193.5L1244.8 1193.5L1245.4 1193.5L1246 1193.5L1246.6 1193.4L1247.2 1193.4L1247.8 1193.4L1248.4 1193.5L1249 1193.7L1249.6 1193.8L1250.2 1194L1250.8 1194.2L1251.4 1194.3L1252 1194.5L1252.6 1194.7L1253.2 1194.5L1253.8 1193.8L1254.4 1193L1255 1192.2L1255.6 1191.4L1256.2 1190.6L1256.8 1189.8L1257.4 1189L1258 1188.2L1258.6 1187.3L1259.2 1186.4L1259.8 1185.5L1260.4 1184.6L1261 1183.7L1261.6 1182.8L1262.2 1182.8L1262.8 1184.5L1263.4 1186.1L1264 1187.8L1264.6 1189.5L1265.2 1191.2L1265.8 1192.8L1266.4 1193.4L1267 1193.5L1267.6 1193.6L1268.2 1193.7L1268.8 1193.8L1269.4 1193.9L1270 1194L1270.6 1194.1L1271.2 1194.2L1271.8 1194.3L1272.4 1194.4L1273 1194.5L1273.6 1194.3L1274.2 1194.1L1274.8 1194L1275.4 1193.8L1276 1193.6L1276.6 1193.4L1277.2 1193.2L1277.8 1193L1278.4 1192.8L1279 1192.6L1279.6 1192.4L1280.2 1192.3L1280.8 1192.1L1281.4 1191.9L1282 1191.7L1282.6 1191.5L1283.2 1191.5L1283.8 1191.9L1284.4 1192.3L1285 1192.7L1285.6 1193.1L1286.2 1193.4L1286.8 1193.8L1287.4 1194.2L1288 1194.6L1288.6 1195L1289.2 1195.4L1289.8 1195.7L1290.4 1196.1L1291 1196.5L1291.6 1197.1L1292.2 1197.7L1292.8 1198.2L1293.4 1198.8L1294 1199.4L1294.6 1200L1295.2 1200.5L1295.8 1201.1L1296.4 1201.7L1297 1202.2L1297.6 1202.9L1298.2 1203.5L1298.8 1204.2L1299.4 1204.8L1300 1205.4L1300.6 1206.1L1301.2 1206.7L1301.8 1207.4L1302.4 1208L1303 1208.7L1303.6 1208.5L1304.2 1208.3L1304.8 1208.1L1305.4 1207.9L1306 1207.7L1306.6 1207.5L1307.2 1207.3L1307.8 1207.1L1308.4 1206.9L1309 1206.7L1309.6 1206.5L1310.2 1206.5L1310.8 1206.9L1311.4 1207.3L1312 1207.6L1312.6 1208L1313.2 1208.4L1313.8 1208.8L1314.4 1209.2L1315 1209.5L1315.6 1209.9L1316.2 1210.3L1316.8 1210.7L1317.4 1211.3L1318 1212L1318.6 1212.7L1319.2 1213.4L1319.8 1214.1L1320.4 1214.8L1321 1215.6L1321.6 1216.3L1322.2 1217L1322.8 1217.7L1323.4 1217.6L1324 1217.2L1324.6 1216.8L1325.2 1216.3L1325.8 1215.9L1326.4 1215.4L1327 1215L1327.6 1214.5L1328.2 1214.1L1328.8 1213.7L1329.4 1213.3L1330 1212.9L1330.6 1212.5L1331.2 1212.1L1331.8 1211.7L1332.4 1211.3L1333 1210.9L1333.6 1210.5L1334.2 1210.4L1334.8 1210.9L1335.4 1211.4L1336 1211.8L1336.6 1212.3L1337.2 1212.8L1337.8 1213.3L1338.4 1213.7L1339 1214.2L1339.6 1214.7L1340.2 1215.2L1340.8 1215.6L1341.4 1216.1L1342 1216.6L1342.6 1217.1L1343.2 1217.1L1343.8 1216.4L1344.4 1215.7L1345 1215L1345.6 1214.3L1346.2 1213.6L1346.8 1212.9L1347.4 1212.1L1348 1211.4L1348.6 1210.7L1349.2 1210.5L1349.8 1211.3L1350.4 1212L1351 1212.8L1351.6 1213.6L1352.2 1214.4L1352.8 1215.1L1353.4 1215L1354 1214.5L1354.6 1214L1355.2 1213.5L1355.8 1213L1356.4 1212.5L1357 1212L1357.6 1211.4L1358.2 1210.9L1358.8 1210.4L1359.4 1209.9L1360 1209.4L1360.6 1209.2L1361.2 1209.1L1361.8 1208.9L1362.4 1208.8L1362.4 1223.2L1361.8 1222.8L1361.2 1222.4L1360.6 1222L1360 1221.6L1359.4 1222.1L1358.8 1222.6L1358.2 1223.2L1357.6 1223.7L1357 1224.2L1356.4 1224.7L1355.8 1225.2L1355.2 1225.7L1354.6 1226.2L1354 1226.8L1353.4 1227.3L1352.8 1227.3L1352.2 1226.4L1351.6 1225.6L1351 1224.7L1350.4 1223.8L1349.8 1222.9L1349.2 1222.1L1348.6 1222.3L1348 1223.1L1347.4 1223.9L1346.8 1224.6L1346.2 1225.4L1345.6 1226.2L1345 1227L1344.4 1227.8L1343.8 1228.6L1343.2 1229.4L1342.6 1229.3L1342 1228.7L1341.4 1228.2L1340.8 1227.7L1340.2 1227.2L1339.6 1226.7L1339 1226.1L1338.4 1225.6L1337.8 1225.1L1337.2 1224.6L1336.6 1224L1336 1223.5L1335.4 1223L1334.8 1222.5L1334.2 1221.9L1333.6 1222L1333 1222.4L1332.4 1222.8L1331.8 1223.2L1331.2 1223.6L1330.6 1224L1330 1224.4L1329.4 1224.8L1328.8 1225.2L1328.2 1225.6L1327.6 1226.3L1327 1227.2L1326.4 1228.1L1325.8 1229L1325.2 1229.8L1324.6 1230.7L1324 1231.6L1323.4 1232.5L1322.8 1232.8L1322.2 1232L1321.6 1231.2L1321 1230.4L1320.4 1229.7L1319.8 1228.9L1319.2 1228.1L1318.6 1227.3L1318 1226.5L1317.4 1225.7L1316.8 1225L1316.2 1224.4L1315.6 1223.9L1315 1223.3L1314.4 1222.8L1313.8 1222.2L1313.2 1221.6L1312.6 1221.1L1312 1220.5L1311.4 1219.9L1310.8 1219.4L1310.2 1218.8L1309.6 1218.8L1309 1219.2L1308.4 1219.5L1307.8 1219.8L1307.2 1220.1L1306.6 1220.4L1306 1220.7L1305.4 1221.1L1304.8 1221.4L1304.2 1221.7L1303.6 1222L1303 1222.3L1302.4 1221.5L1301.8 1220.6L1301.2 1219.8L1300.6 1218.9L1300 1218L1299.4 1217.2L1298.8 1216.3L1298.2 1215.5L1297.6 1214.6L1297 1213.8L1296.4 1213.3L1295.8 1212.9L1295.2 1212.5L1294.6 1212L1294 1211.6L1293.4 1211.2L1292.8 1210.8L1292.2 1210.3L1291.6 1209.9L1291 1209.5L1290.4 1209L1289.8 1208.6L1289.2 1208.2L1288.6 1207.7L1288 1207.3L1287.4 1206.8L1286.8 1206.4L1286.2 1206L1285.6 1205.5L1285 1205.1L1284.4 1204.6L1283.8 1204.2L1283.2 1203.8L1282.6 1203.8L1282 1204L1281.4 1204.2L1280.8 1204.5L1280.2 1204.7L1279.6 1204.9L1279 1205.2L1278.4 1205.4L1277.8 1205.6L1277.2 1205.9L1276.6 1206.1L1276 1206.3L1275.4 1206.6L1274.8 1206.8L1274.2 1207L1273.6 1207.2L1273 1207.5L1272.4 1207.3L1271.8 1207.2L1271.2 1207L1270.6 1206.8L1270 1206.7L1269.4 1206.5L1268.8 1206.4L1268.2 1206.2L1267.6 1206L1267 1205.9L1266.4 1205.7L1265.8 1205L1265.2 1203.2L1264.6 1201.5L1264 1199.7L1263.4 1197.9L1262.8 1196.1L1262.2 1194.4L1261.6 1194.4L1261 1195.3L1260.4 1196.2L1259.8 1197.1L1259.2 1198L1258.6 1198.9L1258 1199.8L1257.4 1200.9L1256.8 1202L1256.2 1203.2L1255.6 1204.3L1255 1205.4L1254.4 1206.6L1253.8 1207.7L1253.2 1208.8L1252.6 1208.9L1252 1208.5L1251.4 1208.1L1250.8 1207.6L1250.2 1207.2L1249.6 1206.8L1249 1206.3L1248.4 1205.9L1247.8 1205.7L1247.2 1205.8L1246.6 1205.9L1246 1206.1L1245.4 1206.2L1244.8 1206.3L1244.2 1206.4L1243.6 1206.6L1243 1206.7L1242.4 1206.8L1241.8 1207L1241.2 1207.1L1240.6 1207.2L1240 1207.3L1239.4 1209.3L1238.8 1211.2L1238.2 1213.1L1237.6 1215L1237 1216.9L1236.4 1218.9L1235.8 1220.8L1235.2 1222.7L1234.6 1224.1L1234 1225.3L1233.4 1226.5L1232.8 1227.7L1232.2 1228.9L1231.6 1230.1L1231 1231.3L1230.4 1232.5L1229.8 1232.8L1229.2 1231.2L1228.6 1229.6L1228 1228L1227.4 1226.4L1226.8 1224.8L1226.2 1223.2L1225.6 1221.5L1225 1219.8L1224.4 1218.2L1223.8 1216.5L1223.2 1214.9L1222.6 1213.2L1222 1211.5L1221.4 1209.9L1220.8 1209.1L1220.2 1209.9L1219.6 1210.8L1219 1211.7L1218.4 1212.5L1217.8 1213.4L1217.2 1214.3L1216.6 1215.2L1216 1216L1215.4 1216.9L1214.8 1217.7L1214.2 1218.3L1213.6 1218.9L1213 1219.5L1212.4 1220.1L1211.8 1220.7L1211.2 1221.3L1210.6 1221.1L1210 1220.5L1209.4 1219.9L1208.8 1219.3L1208.2 1218.7L1207.6 1218.1L1207 1217.5L1206.4 1216.9L1205.8 1216.3L1205.2 1215.7L1204.6 1216L1204 1216.7L1203.4 1217.5L1202.8 1218.2L1202.2 1219L1201.6 1219.7L1201 1220.4L1200.4 1221.2L1199.8 1221.9L1199.2 1222.7L1198.6 1222.8L1198 1222.7L1197.4 1222.6L1196.8 1222.5L1196.2 1222.4L1195.6 1222.3L1195 1222.2L1194.4 1222.1L1193.8 1222L1193.2 1221.8L1192.6 1221.7L1192 1221.6L1191.4 1221.4L1190.8 1221.2L1190.2 1221L1189.6 1220.8L1189 1220.6L1188.4 1220.4L1187.8 1220.3L1187.2 1220.1L1186.6 1219.9L1186 1219.7L1185.4 1219.5L1184.8 1219.4L1184.2 1219.7L1183.6 1220L1183 1220.3L1182.4 1220.5L1181.8 1220.8L1181.2 1221.1L1180.6 1221.3L1180 1221.6L1179.4 1221.6L1178.8 1221.6L1178.2 1221.6L1177.6 1221.6L1177 1221.6L1176.4 1221.6L1175.8 1221.6L1175.2 1221.6L1174.6 1221.6L1174 1221.6L1173.4 1221.6L1172.8 1221.6L1172.2 1221.6L1171.6 1221L1171 1220.1L1170.4 1219.2L1169.8 1218.3L1169.2 1217.4L1168.6 1216.4L1168 1215.5L1167.4 1214.6L1166.8 1213.7L1166.2 1212.8L1165.6 1212.7L1165 1213L1164.4 1213.3L1163.8 1213.6L1163.2 1213.9L1162.6 1214.2L1162 1214.5L1161.4 1214.8L1160.8 1215.1L1160.2 1215.4L1159.6 1215.1L1159 1214.5L1158.4 1213.9L1157.8 1213.3L1157.2 1212.7L1156.6 1212.1L1156 1211.5L1155.4 1210.9L1154.8 1210.3L1154.2 1209.7L1153.6 1209.1L1153 1208.5L1152.4 1208.3L1151.8 1208.1L1151.2 1208L1150.6 1207.8L1150 1207.6L1149.4 1207.4L1148.8 1207.3L1148.2 1207.1L1147.6 1206.9L1147 1206.8L1146.4 1207.6L1145.8 1208.4L1145.2 1209.2L1144.6 1210L1144 1210.8L1143.4 1211.6L1142.8 1212.4L1142.2 1213.2L1141.6 1214.1L1141 1214.9L1140.4 1215.7L1139.8 1216.5L1139.2 1217.3L1138.6 1218.1L1138 1218.9L1137.4 1217.9L1136.8 1216.8L1136.2 1215.8L1135.6 1214.7L1135 1213.7L1134.4 1212.6L1133.8 1211.6L1133.2 1210.5L1132.6 1209.9L1132 1209.3L1131.4 1208.8L1130.8 1208.3L1130.2 1207.8L1129.6 1207.3L1129 1206.8L1128.4 1206.3L1127.8 1205.7L1127.2 1205.2L1126.6 1204.7L1126 1204.2L1125.4 1204.5L1124.8 1204.9L1124.2 1205.2L1123.6 1205.6L1123 1205.9L1122.4 1206.3L1121.8 1208.1L1121.2 1212.9L1120.6 1217.7L1120 1222.5L1119.4 1227.3L1118.8 1231L1118.2 1232.7L1117.6 1234.3L1117 1236L1116.4 1237.6L1115.8 1239.3L1115.2 1240.9L1114.6 1239.6L1114 1236.8L1113.4 1234.1L1112.8 1226.1L1112.2 1207.8L1111.6 1189.5L1111 1185.7L1110.4 1184.8L1109.8 1183.9L1109.2 1184.1L1108.6 1185.3L1108 1186.5L1107.4 1207.5L1106.8 1221.9L1106.2 1223.3L1105.6 1224.6L1105 1226L1104.4 1227.3L1103.8 1228.5L1103.2 1229.4L1102.6 1230.2L1102 1231.1L1101.4 1232L1100.8 1232.9L1100.2 1233.7L1099.6 1234.6L1099 1235.5L1098.4 1236.3L1097.8 1236.5L1097.2 1235.1L1096.6 1233.8L1096 1232.5L1095.4 1231.2L1094.8 1229.8L1094.2 1228.5L1093.6 1227.2L1093 1225.8L1092.4 1224.5L1091.8 1223.8L1091.2 1224.5L1090.6 1225.2L1090 1225.9L1089.4 1226.6L1088.8 1227.3L1088.2 1228L1087.6 1228.7L1087 1229.3L1086.4 1230L1085.8 1230.7L1085.2 1231.4L1084.6 1232.7L1084 1234.3L1083.4 1235.9L1082.8 1237.6L1082.2 1239.2L1081.6 1240.8L1081 1242.4L1080.4 1244L1079.8 1245.2L1079.2 1245.3L1078.6 1245.5L1078 1245.6L1077.4 1245.8L1076.8 1245.9L1076.2 1246.1L1075.6 1246.2L1075 1246.4L1074.4 1246.2L1073.8 1246.1L1073.2 1246L1072.6 1245.8L1072 1245.7L1071.4 1245.6L1070.8 1245.5L1070.2 1245.3L1069.6 1245.2L1069 1245.1L1068.4 1244.9L1067.8 1244.8L1067.2 1244.7L1066.6 1244.9L1066 1245.4L1065.4 1245.8L1064.8 1246.3L1064.2 1246.8L1063.6 1247.2L1063 1247.7L1062.4 1248.1L1061.8 1248.6L1061.2 1249L1060.6 1249.5L1060 1249.9L1059.4 1250.5L1058.8 1251.1L1058.2 1251.7L1057.6 1252.3L1057 1252.9L1056.4 1253.5L1055.8 1254.1L1055.2 1254.7L1054.6 1255.3L1054 1255.9L1053.4 1257.4L1052.8 1258.9L1052.2 1260.4L1051.6 1261.9L1051 1263.4L1050.4 1264.9L1049.8 1266.4L1049.2 1267.9L1048.6 1269.4L1048 1270.9L1047.4 1270.1L1046.8 1269.3L1046.2 1268.4L1045.6 1267.6L1045 1266.8L1044.4 1266L1043.8 1265.1L1043.2 1264.3L1042.6 1263.5L1042 1262.6L1041.4 1262.3L1040.8 1262L1040.2 1261.7L1039.6 1261.4L1039 1261.1L1038.4 1260.8L1037.8 1260.5L1037.2 1260.2L1036.6 1260.7L1036 1261.7L1035.4 1262.6L1034.8 1263.6L1034.2 1264.5L1033.6 1265.5L1033 1266.4L1032.4 1267.4L1031.8 1268.4L1031.2 1269.3L1030.6 1270.3L1030 1271.2L1029.4 1270.3L1028.8 1269.4L1028.2 1268.5L1027.6 1267.6L1027 1266.6L1026.4 1265.7L1025.8 1264.8L1025.2 1263.9L1024.6 1263L1024 1262.1L1023.4 1262.5L1022.8 1262.8L1022.2 1263.2L1021.6 1263.6L1021 1264L1020.4 1264.3L1019.8 1264.7L1019.2 1265.1L1018.6 1267.3L1018 1270.5L1017.4 1273.7L1016.8 1276.8L1016.2 1280L1015.6 1283.2L1015 1286.4L1014.4 1286.3L1013.8 1286.3L1013.2 1286.3L1012.6 1286.2L1012 1286.2L1011.4 1286.2L1010.8 1286.1L1010.2 1286.1L1009.6 1286.1L1009 1293.2L1008.4 1301.8L1007.8 1309L1007.2 1313.6L1006.6 1315.9L1006 1313.6L1005.4 1309.8L1004.8 1298.3L1004.2 1286.9L1003.6 1275.5L1003 1264.1L1002.4 1251.8L1001.8 1239.5L1001.2 1227.2L1000.6 1211.8L1000 1217L999.4 1225.4L998.8 1233.8L998.2 1242.2L997.6 1258.6L997 1279.1L996.4 1299.6L995.8 1357.4L995.2 1422.7L994.6 1488L994 1551.8L993.4 1610.3L992.8 1641.8L992.2 1673.3L991.6 1687.3L991 1683.9L990.4 1680.5L989.8 1677.1L989.2 1673.7L988.6 1670L988 1666.1L987.4 1662.1L986.8 1658.2L986.2 1654.3L985.6 1650.3L985 1646.3L984.4 1642.3L983.8 1638.2L983.2 1634.2L982.6 1630.2L982 1626.1L981.4 1622.1L980.8 1618.1L980.2 1614L979.6 1610L979 1606.5L978.4 1603.1L977.8 1599.6L977.2 1596.1L976.6 1592.6L976 1589.2L975.4 1585.7L974.8 1582.2L974.2 1578.7L973.6 1580.4L973 1579.9L972.4 1579.4L971.8 1578.9L971.2 1578.4L970.6 1578L970 1577.5L969.4 1574.6L968.8 1571.7L968.2 1568.9L967.6 1566L967 1563.1L966.4 1556L965.8 1546.7L965.2 1537.4L964.6 1528.2L964 1515.9L963.4 1497.6L962.8 1479.3L962.2 1461L961.6 1443L961 1425L960.4 1407L959.8 1386.2L959.2 1359.8L958.6 1340L958 1323.5L957.4 1307L956.8 1290.1L956.2 1270.4L955.6 1257.1L955 1257L954.4 1256.8L953.8 1256.7L953.2 1256.5L952.6 1256.3L952 1256.2L951.4 1256L950.8 1255.8L950.2 1255.7L949.6 1255.5L949 1255.4L948.4 1255.2L947.8 1249.7L947.2 1233.4L946.6 1217.1L946 1198L945.4 1197.9L944.8 1195L944.2 1192.1L943.6 1189.6L943 1189.6L942.4 1189.5L941.8 1189.5L941.2 1189.4L940.6 1189.4L940 1189.3L939.4 1189.2L938.8 1189.2L938.2 1189.1L937.6 1189.1L937 1189L936.4 1189L935.8 1188.9L935.2 1188.9L934.6 1188.8L934 1188.7L933.4 1188.7L932.8 1188.6L932.2 1188.6L931.6 1188.5L931 1188.4L930.4 1188.3L929.8 1188.3L929.2 1188.2L928.6 1188.1L928 1188.1L927.4 1188L926.8 1187.9L926.2 1187.9L925.6 1187.8L925 1187.7L924.4 1187.6L923.8 1187.6L923.2 1187.5L922.6 1187.4L922 1187.4L921.4 1187.3L920.8 1187.2L920.2 1187.2L919.6 1187.1L919 1187L918.4 1187L917.8 1186.9L917.2 1186.8L916.6 1186.7L916 1186.7L915.4 1186.6L914.8 1186.5L914.2 1186.5L913.6 1186.4L913 1186.3L912.4 1186.6L911.8 1186.9L911.2 1187.2L910.6 1187.5L910 1187.7L909.4 1188L908.8 1188.3L908.2 1188.6L907.6 1188.9L907 1189.1L906.4 1189.4L905.8 1189.7L905.2 1190L904.6 1190.3L904 1190.5L903.4 1190.8L902.8 1191.1L902.2 1191.4L901.6 1190.8L901 1189.8L900.4 1188.8L899.8 1187.8L899.2 1186.8L898.6 1185.9L898 1184.9L897.4 1184.2L896.8 1184.2L896.2 1184.2L895.6 1184.2L895 1184.2L894.4 1184.2L893.8 1184.2L893.2 1184.2L892.6 1184.2L892 1184.2L891.4 1184.2L890.8 1184.2L890.2 1184.2L889.6 1184.2L889 1184.2L888.4 1183.9L887.8 1183.4L887.2 1182.9L886.6 1182.4L886 1181.9L885.4 1181.4L884.8 1180.9L884.2 1180.4L883.6 1179.9L883 1178.6L882.4 1176.5L881.8 1174.5L881.2 1172.4L880.6 1170.4L880 1168.3L879.4 1168.1L878.8 1167.9L878.2 1167.6L877.6 1167.4L877 1167.2L876.4 1166.9L875.8 1166.7L875.2 1166.5L874.6 1166.2L874 1166L873.4 1165.8L872.8 1166.1L872.2 1166.5L871.6 1166.8L871 1167.2L870.4 1167.5L869.8 1167.9L869.2 1168.2L868.6 1168.8L868 1169.5L867.4 1170.2L866.8 1170.9L866.2 1171.5L865.6 1172.2L865 1172.9L864.4 1173.6L863.8 1174.3L863.2 1174.2L862.6 1173.5L862 1172.7L861.4 1170.3L860.8 1169.9L860.2 1173.3L859.6 1175.2L859 1176.5L858.4 1177.8L857.8 1179L857.2 1180.3L856.6 1181.5L856 1182.7L855.4 1184L854.8 1185.2L854.2 1186.4L853.6 1187.6L853 1188.2L852.4 1188.8L851.8 1189.4L851.2 1190L850.6 1190.6L850 1191.2L849.4 1191.8L848.8 1192.4L848.2 1193L847.6 1193.6L847 1194.2L846.4 1194.1L845.8 1193.9L845.2 1193.8L844.6 1193.6L844 1193.4L843.4 1193.3L842.8 1193.1L842.2 1193L841.6 1192.8L841 1192.7L840.4 1192.5L839.8 1192.3L839.2 1192L838.6 1191.8L838 1191.5L837.4 1191.3L836.8 1191L836.2 1190.8L835.6 1190.5L835 1190.3L834.4 1190L833.8 1189.8L833.2 1190.6L832.6 1191.3L832 1192.1L831.4 1192.9L830.8 1193.7L830.2 1194.5L829.6 1195.3L829 1196L828.4 1196.8L827.8 1197.6L827.2 1198.4L826.6 1199.3L826 1200.4L825.4 1201.4L824.8 1202.4L824.2 1203.5L823.6 1204.5L823 1205.6L822.4 1206.6L821.8 1207.6L821.2 1206.3L820.6 1205L820 1203.7L819.4 1202.4L818.8 1201.1L818.2 1199.7L817.6 1198.4L817 1197.1L816.4 1195.8L815.8 1194.7L815.2 1193.9L814.6 1193.1L814 1192.3L813.4 1191.5L812.8 1190.7L812.2 1189.9L811.6 1190.6L811 1192.1L810.4 1193.7L809.8 1195.2L809.2 1196.7L808.6 1198.2L808 1199.7L807.4 1201.3L806.8 1203.6L806.2 1205.8L805.6 1208.1L805 1210.4L804.4 1212.6L803.8 1214.9L803.2 1217.2L802.6 1215.8L802 1212.6L801.4 1209.4L800.8 1206.2L800.2 1203L799.6 1199.7L799 1196.5L798.4 1192.9L797.8 1188.9L797.2 1184.9L796.6 1180.9L796 1176.9L795.4 1172.9L794.8 1168.9L794.2 1165.4L793.6 1164.3L793 1163.3L792.4 1162.2L791.8 1161.2L791.2 1160.1L790.6 1159.1L790 1158L789.4 1161.8L788.8 1165.6L788.2 1169.3L787.6 1179.2L787 1219.7L786.4 1247.9L785.8 1251.8L785.2 1255.7L784.6 1259.6L784 1258.9L783.4 1255.8L782.8 1252.7L782.2 1249.7L781.6 1240.2L781 1227.5L780.4 1214.8L779.8 1202.4L779.2 1190.4L778.6 1178.4L778 1166.4L777.4 1149.7L776.8 1130.8L776.2 1111.8L775.6 1090L775 1101.5L774.4 1112.9L773.8 1124.4L773.2 1143.7L772.6 1178.9L772 1214.1L771.4 1279.3L770.8 1335.3L770.2 1383.8L769.6 1427.7L769 1469.3L768.4 1509.6L767.8 1543.3L767.2 1577L766.6 1597.3L766 1590.8L765.4 1584.3L764.8 1578L764.2 1572L763.6 1566L763 1560L762.4 1554L761.8 1548L761.2 1542L760.6 1536L760 1530.3L759.4 1524.9L758.8 1519.4L758.2 1513.9L757.6 1508.4L757 1502.9L756.4 1497.4L755.8 1492L755.2 1486.5L754.6 1481L754 1477.2L753.4 1473.4L752.8 1469.7L752.2 1465.9L751.6 1462.1L751 1458.3L750.4 1454.5L749.8 1451.3L749.2 1449.1L748.6 1447L748 1444.9L747.4 1442.7L746.8 1429.4L746.2 1411.2L745.6 1393.7L745 1376.7L744.4 1360.2L743.8 1343.7L743.2 1324.8L742.6 1305.4L742 1286L741.4 1261.2L740.8 1236.5L740.2 1214.5L739.6 1198L739 1181.5L738.4 1165L737.8 1152.4L737.2 1151.6L736.6 1147.7L736 1143.8L735.4 1139.8L734.8 1138.1L734.2 1140.6L733.6 1143.2L733 1145.8L732.4 1148.4L731.8 1150.9L731.2 1153.5L730.6 1155.1L730 1156.2L729.4 1157.3L728.8 1158.4L728.2 1159.5L727.6 1160.5L727 1161.6L726.4 1165.7L725.8 1169.8L725.2 1173.9L724.6 1178L724 1182.1L723.4 1169.2L722.8 1156.3L722.2 1143.4L721.6 1139.4L721 1140L720.4 1140.5L719.8 1141L719.2 1141.3L718.6 1141.6L718 1141.9L717.4 1142.2L716.8 1142.5L716.2 1142.8L715.6 1143.1L715 1143.4L714.4 1143.7L713.8 1144L713.2 1144.3L712.6 1144.6L712 1144.9L711.4 1145.3L710.8 1145.6L710.2 1146L709.6 1146.3L709 1146.7L708.4 1147.1L707.8 1147.4L707.2 1147.8L706.6 1148.2L706 1148.5L705.4 1148.9L704.8 1149.2L704.2 1149.6L703.6 1150L703 1150.3L702.4 1150.7L701.8 1151.4L701.2 1152.9L700.6 1154.4L700 1155.9L699.4 1157.4L698.8 1158.9L698.2 1160.4L697.6 1158.3L697 1154.3L696.4 1150.4L695.8 1147.8L695.2 1147.7L694.6 1147.7L694 1147.7L693.4 1147.6L692.8 1147.6L692.2 1147.6L691.6 1147.6L691 1147.5L690.4 1147.5L689.8 1147.6L689.2 1147.8L688.6 1148.1L688 1148.3L687.4 1148.6L686.8 1148.8L686.2 1149.1L685.6 1149.3L685 1149.5L684.4 1149.8L683.8 1150L683.2 1150.3L682.6 1150.5L682 1150.8L681.4 1151L680.8 1151.4L680.2 1151.9L679.6 1152.5L679 1153L678.4 1153.6L677.8 1154.1L677.2 1154.7L676.6 1155.2L676 1155.8L675.4 1156.3L674.8 1156.9L674.2 1157.4L673.6 1156.9L673 1155.9L672.4 1154.8L671.8 1153.8L671.2 1152.8L670.6 1151.7L670 1150.7L669.4 1149.6L668.8 1148.6L668.2 1147.5L667.6 1147.5L667 1147.9L666.4 1148.4L665.8 1148.8L665.2 1149.3L664.6 1149.7L664 1150.2L663.4 1150.6L662.8 1151.6L662.2 1153.5L661.6 1155.5L661 1157.5L660.4 1159.5L659.8 1161.4L659.2 1163.4L658.6 1165.4L658 1167.4L657.4 1169.3L656.8 1170.7L656.2 1170.9L655.6 1171L655 1171.2L654.4 1171.4L653.8 1171.6L653.2 1171.7L652.6 1171.9L652 1172.1L651.4 1172.2L650.8 1171.7L650.2 1169.8L649.6 1167.8L649 1165.9L648.4 1164L647.8 1162L647.2 1160.1L646.6 1158.2L646 1156.2L645.4 1159.8L644.8 1163.3L644.2 1166.9L643.6 1170.5L643 1174L642.4 1177.6L641.8 1181.2L641.2 1184.7L640.6 1186.9L640 1188.4L639.4 1189.8L638.8 1191.3L638.2 1192.7L637.6 1194.2L637 1195.6L636.4 1197.1L635.8 1197.4L635.2 1195.2L634.6 1193L634 1190.9L633.4 1188.7L632.8 1186.6L632.2 1184.4L631.6 1182.3L631 1180.1L630.4 1178L629.8 1175.8L629.2 1173.6L628.6 1173.8L628 1175.1L627.4 1176.4L626.8 1177.6L626.2 1178.9L625.6 1180.2L625 1181.5L624.4 1182.8L623.8 1184.4L623.2 1186.8L622.6 1189.2L622 1191.5L621.4 1193.9L620.8 1196.3L620.2 1198.7L619.6 1201L619 1203.4L618.4 1205.8L617.8 1206.5L617.2 1204.1L616.6 1201.7L616 1199.2L615.4 1196.8L614.8 1194.4L614.2 1191.9L613.6 1189.5L613 1187L612.4 1184.6L611.8 1182.2L611.2 1179.7L610.6 1180L610 1181.6L609.4 1183.2L608.8 1184.8L608.2 1186.4L607.6 1188L607 1189.6L606.4 1191.2L605.8 1192.8L605.2 1194.4L604.6 1196.8L604 1199.7L603.4 1202.5L602.8 1205.4L602.2 1208.2L601.6 1211L601 1213.9L600.4 1216.7L599.8 1217.8L599.2 1215.1L598.6 1212.5L598 1209.9L597.4 1207.3L596.8 1204.7L596.2 1202L595.6 1199.4L595 1196.8L594.4 1194.2L593.8 1191.6L593.2 1188.9L592.6 1189.8L592 1192.5L591.4 1195.1L590.8 1197.7L590.2 1200.4L589.6 1203L589 1205.6L588.4 1204.1L587.8 1202.5L587.2 1200.9L586.6 1199.3L586 1197.8L585.4 1196.2L584.8 1194.6L584.2 1193L583.6 1194L583 1196.3L582.4 1198.5L581.8 1200.8L581.2 1203L580.6 1205.3L580 1207.6L579.4 1209.8L578.8 1212.1L578.2 1214.3L577.6 1215.6L577 1216.3L576.4 1217L575.8 1217.7L575.2 1218.4L574.6 1219.2L574 1219.9L573.4 1222.2L572.8 1227.8L572.2 1233.5L571.6 1239.1L571 1244.7L570.4 1250.3L569.8 1258.4L569.2 1267L568.6 1275.5L568 1284.1L567.4 1290.7L566.8 1297.4L566.2 1300.8L565.6 1301L565 1301.2L564.4 1296.4L563.8 1291.5L563.2 1275L562.6 1256.3L562 1237.5L561.4 1218.8L560.8 1200L560.2 1183L559.6 1169.6L559 1156.2L558.4 1142.7L557.8 1129L557.2 1112L556.6 1126.8L556 1155L555.4 1215L554.8 1279.2L554.2 1351.7L553.6 1426.3L553 1505L552.4 1559.6L551.8 1595.4L551.2 1593.6L550.6 1591.9L550 1590.4L549.4 1589.1L548.8 1587.9L548.2 1586.6L547.6 1585.3L547 1584.1L546.4 1582.8L545.8 1581.3L545.2 1579.3L544.6 1577.3L544 1575.3L543.4 1573.3L542.8 1571.3L542.2 1569.3L541.6 1567.3L541 1565.3L540.4 1562.8L539.8 1559.1L539.2 1555.4L538.6 1551.8L538 1548.1L537.4 1544.4L536.8 1541.4L536.2 1539.6L535.6 1537.8L535 1536L534.4 1534.1L533.8 1532.3L533.2 1530.5L532.6 1528L532 1522.3L531.4 1516.5L530.8 1510.7L530.2 1504.9L529.6 1498.9L529 1492.7L528.4 1486.5L527.8 1480.4L527.2 1474.2L526.6 1468L526 1452.3L525.4 1436.6L524.8 1420.9L524.2 1405.2L523.6 1394.8L523 1387L522.4 1379.2L521.8 1370L521.2 1358L520.6 1346L520 1334L519.4 1322L518.8 1310L518.2 1305.2L517.6 1301.8L517 1298.4L516.4 1295L515.8 1291.6L515.2 1288.1L514.6 1284.7L514 1281.3L513.4 1277.9L512.8 1274.5L512.2 1271.1L511.6 1263.3L511 1253.3L510.4 1243.2L509.8 1233.2L509.2 1223.1L508.6 1213.1L508 1203L507.4 1190.1L506.8 1174.3L506.2 1158.4L505.6 1142.6L505 1126.8L504.4 1110.9L503.8 1095.1L503.2 1079.3L502.6 1074.6L502 1071.1L501.4 1067.6L500.8 1065.3L500.2 1065.2L499.6 1065.1L499 1065.1L498.4 1065L497.8 1064.9L497.2 1064.8L496.6 1064.7L496 1064.6L495.4 1065L494.8 1065.4L494.2 1065.9L493.6 1066.3L493 1066.7L492.4 1067.1L491.8 1067.5L491.2 1067.9L490.6 1068.3L490 1068.8L489.4 1069.2L488.8 1069.7L488.2 1070.2L487.6 1070.7L487 1071.2L486.4 1071.6L485.8 1072.1L485.2 1072.6L484.6 1073.1L484 1073.6L483.4 1074.1L482.8 1074.5L482.2 1075L481.6 1074.1L481 1072.4L480.4 1070.8L479.8 1069.1L479.2 1067.4L478.6 1065.8L478 1064.1L477.4 1062.4L476.8 1060.8L476.2 1059.1L475.6 1057.5L475 1055.8L474.4 1054.1L473.8 1053.5L473.2 1054.7L472.6 1056L472 1057.3L471.4 1058.5L470.8 1059.8L470.2 1061.1L469.6 1062.7L469 1064.6L468.4 1066.4L467.8 1068.2L467.2 1070.1L466.6 1071.9L466 1073.8L465.4 1075.6L464.8 1077.4L464.2 1079.3L463.6 1079.5L463 1078.9L462.4 1078.3L461.8 1077.8L461.2 1077.2L460.6 1076.6L460 1076L459.4 1075.4L458.8 1074.8L458.2 1074.2L457.6 1073.7L457 1073.1L456.4 1072.5L455.8 1071.9L455.2 1071.3L454.6 1070.7L454 1070.2L453.4 1069.6L452.8 1069.5L452.2 1070.5L451.6 1071.4L451 1072.4L450.4 1073.3L449.8 1074.3L449.2 1075.3L448.6 1076.2L448 1077.2L447.4 1076.9L446.8 1076.6L446.2 1076.3L445.6 1076.1L445 1075.8L444.4 1075.5L443.8 1075.2L443.2 1074.9L442.6 1074.6L442 1074.4L441.4 1074.1L440.8 1074.2L440.2 1075.1L439.6 1076L439 1076.9L438.4 1077.8L437.8 1078.6L437.2 1079.5L436.6 1080.4L436 1081.3L435.4 1082.2L434.8 1083.1L434.2 1084L433.6 1084.9L433 1085.8L432.4 1085.4L431.8 1085.1L431.2 1084.8L430.6 1084.5L430 1084.1L429.4 1083.8L428.8 1083.5L428.2 1083.2L427.6 1082.8L427 1082.5L426.4 1082.2L425.8 1081.9L425.2 1081.5L424.6 1081.2L424 1080.9L423.4 1082L422.8 1083L422.2 1084.1L421.6 1085.1L421 1086.2L420.4 1087.3L419.8 1088.3L419.2 1089.4L418.6 1090.4L418 1091.5L417.4 1092.6L416.8 1093.6L416.2 1094.7L415.6 1094.6L415 1094L414.4 1093.4L413.8 1092.8L413.2 1092.2L412.6 1091.6L412 1091L411.4 1090.4L410.8 1090.4L410.2 1091.4L409.6 1092.4L409 1093.4L408.4 1094.4L407.8 1095.4L407.2 1096.4L406.6 1097.4L406 1098.4L405.4 1099.4L404.8 1099.9L404.2 1099.4L403.6 1098.8L403 1098.3L402.4 1097.8L401.8 1097.3L401.2 1096.8L400.6 1096.3L400 1095.8L399.4 1096.2L398.8 1096.6L398.2 1097.1L397.6 1097.5L397 1098L396.4 1098.4L395.8 1098.8L395.2 1099.3L394.6 1099.7L394 1100.2L393.4 1100.6L392.8 1101L392.2 1101.5L391.6 1102.2L391 1103.1L390.4 1104L389.8 1105L389.2 1105.9L388.6 1106.8L388 1107.7L387.4 1108.6L386.8 1109.5L386.2 1110.4L385.6 1111.3L385 1112.2L384.4 1113.2L383.8 1113.5L383.2 1112.7L382.6 1111.9L382 1111.1L381.4 1110.3L380.8 1109.5L380.2 1108.7L379.6 1107.9L379 1107.1L378.4 1106.3L377.8 1105.5L377.2 1104.7L376.6 1103.9L376 1103.1L375.4 1102.3L374.8 1101.7L374.2 1101.4L373.6 1101.1L373 1100.8L372.4 1100.5L371.8 1100.2L371.2 1100L370.6 1099.7L370 1099.4L369.4 1099.1L368.8 1098.8L368.2 1098.5L367.6 1098.2L367 1098L366.4 1097.7L365.8 1097.4L365.2 1097.3L364.6 1097.2L364 1097L363.4 1096.9L362.8 1096.8L362.2 1096.7L361.6 1096.5L361 1096.4L360.4 1096.3L359.8 1096.1L359.2 1096L358.6 1095.9L358 1095.8L357.4 1094.3L356.8 1092.8L356.2 1091.3L355.6 1089.8L355 1088.3L354.4 1086.8L353.8 1085.3L353.2 1083.8L352.6 1082.3L352 1080.8L351.4 1079.3L350.8 1077.8L350.2 1076.3L349.6 1074.6L349 1073L348.4 1071.3L347.8 1069.6L347.2 1067.9L346.6 1066.2L346 1064.6L345.4 1062.9L344.8 1061.2L344.2 1059.5L343.6 1057.9L343 1056.2L342.4 1057L341.8 1057.8L341.2 1058.6L340.6 1059.4L340 1060.3L339.4 1061.1L338.8 1061.9L338.2 1062.7L337.6 1063.5L337 1064.3L336.4 1066.1L335.8 1067.8L335.2 1069.6L334.6 1071.3L334 1073L333.4 1074.8L332.8 1076.5L332.2 1078.3L331.6 1080L331 1081.8L330.4 1080.6L329.8 1079.4L329.2 1078.2L328.6 1077L328 1075.9L327.4 1074.7L326.8 1073.5L326.2 1072.3L325.6 1071.1L325 1069.9L324.4 1068.8L323.8 1067.6L323.2 1066.4L322.6 1065.2L322 1064L321.4 1064.6L320.8 1065.1L320.2 1065.6L319.6 1066.1L319 1066.7L318.4 1067.2L317.8 1067.7L317.2 1068.2L316.6 1068.8L316 1069.3L315.4 1069.8L314.8 1070.3L314.2 1070.9L313.6 1070.2L313 1069L312.4 1067.8L311.8 1066.6L311.2 1065.4L310.6 1064.2L310 1063L309.4 1061.8L308.8 1060.6L308.2 1059.4L307.6 1058.2L307 1057L306.4 1055.8L305.8 1054.6L305.2 1053.4L304.6 1053.6L304 1054.5L303.4 1055.4L302.8 1056.3L302.2 1057.2L301.6 1058L301 1058.9L300.4 1059.8L299.8 1060.7L299.2 1061.6L298.6 1062.5L298 1063.3L297.4 1064.2L296.8 1065.1L296.2 1066L295.6 1066.9L295 1067.8L294.4 1067.3L293.8 1066.9L293.2 1066.4L292.6 1066L292 1065.5L291.4 1065.1L290.8 1064.6L290.2 1064.2L289.6 1063.7L289 1063.3L288.4 1062.8L287.8 1062.4L287.2 1061.9L286.6 1061.4L286 1060.8L285.4 1060.2L284.8 1059.6L284.2 1059L283.6 1058.4L283 1057.8L282.4 1057.2L281.8 1056.6L281.2 1056L280.6 1055.4L280 1054.8L279.4 1055.1L278.8 1055.4L278.2 1055.7L277.6 1056L277 1056.4L276.4 1056.7L275.8 1057L275.2 1057.3L274.6 1057.6L274 1058L273.4 1058.3L272.8 1058.6L272.2 1058.9L271.6 1058.5L271 1057.8L270.4 1057L269.8 1056.3L269.2 1055.6L268.6 1054.8L268 1054.1L267.4 1053.3L266.8 1052.6L266.2 1051.8L265.6 1051.1L265 1050.3L264.4 1049.4L263.8 1048.5L263.2 1047.6L262.6 1046.7L262 1045.7L261.4 1044.8L260.8 1043.9L260.2 1043L259.6 1042.1L259 1041.2L258.4 1042.2L257.8 1043.2L257.2 1044.2L256.6 1045.2L256 1046.1L255.4 1047.1L254.8 1048.1L254.2 1049.1L253.6 1050.1L253 1051.1L252.4 1052.1L251.8 1052.7L251.2 1052.4L250.6 1052.2L250 1051.9L249.4 1051.7L248.8 1051.5L248.2 1051.2L247.6 1051L247 1050.7L246.4 1050.5L245.8 1050.2L245.2 1050L244.6 1050.3L244 1050.9L243.4 1051.5L242.8 1052.1L242.2 1052.7L241.6 1053.4L241 1054L240.4 1054.6L239.8 1055.2L239.2 1055.8L238.6 1056.4L238 1057L237.4 1057.6L236.8 1058.2L236.2 1058.8L235.6 1058.5L235 1057.8L234.4 1057L233.8 1056.3L233.2 1055.5L232.6 1054.7L232 1054L231.4 1053.2L230.8 1052.4L230.2 1051.7L229.6 1050.9L229 1050.2L228.4 1049.4L227.8 1049.1L227.2 1049.7L226.6 1050.3L226 1050.9L225.4 1051.5L224.8 1052.1L224.2 1052.7L223.6 1053.3L223 1053.9L222.4 1054.5L221.8 1055.1L221.2 1055.7L220.6 1056.3L220 1056.9L219.4 1057.5L218.8 1058.1L218.2 1058.7L217.6 1058.1L217 1056.9L216.4 1055.7L215.8 1054.5L215.2 1053.3L214.6 1052L214 1050.8L213.4 1049.6L212.8 1048.4L212.2 1047.2L211.6 1046L211 1044.8L210.4 1043.6L209.8 1042.8L209.2 1042.9L208.6 1043L208 1043L207.4 1043.1L206.8 1043.2L206.2 1043.3L205.6 1043.4L205 1043.5L204.4 1043.6L203.8 1043.6L203.2 1043.7L202.6 1044.6L202 1045.9L201.4 1047.2L200.8 1048.4L200.2 1049.7L199.6 1051L199 1052.3L198.4 1053.5L197.8 1054.8L197.2 1056.1L196.6 1057.4L196 1058.6L195.4 1059.9L194.8 1061.2L194.2 1062.5L193.6 1062.2L193 1061.2L192.4 1060.2L191.8 1059.1L191.2 1058.1L190.6 1057.1L190 1056L189.4 1055L188.8 1054L188.2 1053L187.6 1051.9L187 1050.9L186.4 1049.9L185.8 1048.8L185.2 1047.8L184.6 1046.8L184 1045.8L183.4 1045.9L182.8 1046L182.2 1046.2L181.6 1046.3L181 1046.5L180.4 1046.6L179.8 1046.8L179.2 1046.9L178.6 1047L178 1047.2L177.4 1047.3L176.8 1047.5L176.2 1047.6L175.6 1047.8L175 1047.9L174.4 1047.8L173.8 1047.7L173.2 1047.5L172.6 1047.4L172 1047.3L171.4 1047.2L170.8 1047L170.2 1046.9L169.6 1046.8L169 1046.7L168.4 1046.6L167.8 1046.6L167.2 1047L166.6 1047.4L166 1047.8L165.4 1048.2L164.8 1048.6L164.2 1049L163.6 1049.4L163 1049.8L162.4 1050.2L161.8 1050.6L161.2 1051L160.6 1051.4L160 1051.8L159.4 1051.1L158.8 1050.4L158.2 1049.8L157.6 1049.1L157 1048.5L156.4 1047.8L155.8 1047.1L155.2 1046.5L154.6 1045.8L154 1045.2L153.4 1044.5L152.8 1043.8L152.2 1043.2L151.6 1042.5L151 1041.9L150.4 1041.2L149.8 1040.7L149.2 1040.6L148.6 1040.6L148 1040.5L147.4 1040.4L146.8 1040.3L146.2 1040.2L145.6 1040.1L145 1040L144.4 1039.5L143.8 1039L143.2 1038.5L142.6 1038L142 1037.5L141.4 1037L140.8 1036.4L140.2 1035.9L139.6 1034.4L139 1032.4L138.4 1030.5L137.8 1028.5L137.2 1026.5L136.6 1024.5L136 1022.5L135.4 1020.5L134.8 1018.5L134.2 1016.6L133.6 1016.1L133 1016.4L132.4 1016.6L131.8 1016.9L131.2 1017.2L130.6 1017.5L130 1017.8Z"/>
<path stroke="#ff7f0e" stroke-width="2.0" d="M130.3 1019.9L130.9 1018.9L131.9 1003.7L132.5 1004.9L132.7 1018L133.3 1017.3L134.3 1005.2L134.5 1005.9L134.7 1006.7L134.9 1007.5L135.1 1010.3L135.3 1013.1L135.6 1015.9L135.8 1018.8L136 1021.6L136.3 1024.5L136.5 1025.2L136.7 1025.9L136.9 1026.5L137.1 1024L137.3 1021.5L137.6 1018.9L137.8 1016.3L138 1017.3L138.2 1018.3L138.4 1019.4L138.6 1023.1L138.8 1026.9L139 1030.7L139.2 1034.4L139.4 1034.6L139.6 1034.8L139.8 1035L140.8 1024.4L141.4 1025.4L142.3 1038L142.9 1038L143.9 1027.5L144.5 1028.3L145.5 1042.1L146.1 1041.5L147 1028.4L147.6 1028.4L148.3 1042.8L148.9 1042.1L149.8 1028.2L150.5 1029.1L151.7 1044.4L152.3 1045.1L153.2 1031L153.8 1032.8L154.7 1048.5L155.3 1048.4L156.2 1034.3L156.8 1035.1L158.4 1052.4L159 1052.2L160 1038.7L160.6 1038.5L161 1052.4L161.7 1051.6L162.6 1036.5L163.2 1037.6L164 1051.9L164.7 1050.8L165.6 1033.1L166.2 1033.3L167.2 1049.6L167.8 1049.1L168.7 1031.7L169.3 1032.6L170.2 1048.1L170.8 1048L171.7 1033.1L172.4 1033.5L173.2 1048.5L173.9 1048.2L174.8 1036.2L175.4 1037L176.4 1049.5L177.1 1047.8L178 1034L178.6 1033.8L179.7 1048.1L180.3 1047.6L181.2 1033.2L181.8 1033L182.7 1046.6L183.3 1045.9L184.2 1032.6L184.8 1033.9L185.9 1051.7L186.6 1051.8L187.5 1038.6L188.1 1039.7L188.9 1055.4L189.5 1056.3L190.4 1043.7L191 1045.5L192 1062L192.6 1062.6L193.6 1050.3L194.2 1050.8L194.4 1053.1L194.6 1055.4L194.9 1057.8L195.1 1060.2L195.3 1062.6L195.5 1062.1L195.8 1061.6L196 1061.1L196.2 1056.8L196.4 1052.5L196.7 1048.2L196.9 1043.9L197.1 1043.6L197.3 1043.3L197.5 1043L197.7 1046.2L197.9 1049.4L198.1 1052.7L198.3 1055.9L198.5 1055.3L198.7 1054.7L198.9 1054.1L199.1 1049.9L199.4 1045.7L199.6 1041.5L199.8 1037.2L200 1036.8L200.2 1036.4L200.5 1036L200.6 1039.2L200.8 1042.5L201 1045.8L201.2 1049.1L201.4 1048.5L201.6 1047.8L201.8 1047.2L202.1 1043.4L202.3 1039.6L202.5 1035.7L202.8 1031.9L203.4 1031.7L204.4 1044.6L205 1043.8L205.9 1030.5L206.5 1032L207.6 1044.3L208.2 1042.5L209.1 1030.7L209.8 1030.7L210.9 1046.1L211.1 1046.2L211.3 1046.3L211.5 1046.4L211.8 1043.8L212 1041.1L212.2 1038.5L212.4 1035.8L212.7 1036.4L212.9 1037.1L213.1 1037.7L213.3 1042.5L213.5 1047.4L213.7 1052.2L213.9 1052.4L214.1 1052.6L214.3 1052.8L214.5 1049.6L214.7 1046.4L215 1043.2L215.2 1040L215.4 1040.7L215.6 1041.4L215.8 1042L216.1 1046.1L216.3 1050.2L216.5 1054.2L216.8 1058.2L217 1058.5L217.2 1058.8L217.4 1059L218.3 1047.4L218.9 1047.5L220.1 1058.6L220.7 1057.8L221.6 1043.2L222.2 1042.7L222.9 1056.4L223.5 1055.5L224.4 1040.3L225 1040.1L226.1 1053L226.7 1051.4L227.6 1037.1L228.2 1037.3L229.3 1052.1L230 1052.3L230.9 1040.6L231.5 1042.5L232.4 1056.4L233 1056.6L233.9 1044.7L234.6 1045.7L235.4 1060.6L236 1060.9L237 1047.4L237.6 1046.8L238.6 1057.8L239.2 1056.5L240.2 1043.2L240.8 1043.3L241.2 1054.4L241.8 1053.7L242.7 1040.8L243.3 1040.8L244.9 1052.1L245.5 1050.7L246.4 1038.4L247 1039.5L247.7 1053.1L248.3 1053.4L249.2 1037.8L249.8 1038.5L250.6 1053.6L251.3 1053.8L252.2 1040L252.8 1039.7L254 1051.3L254.7 1049.6L255.6 1035.4L256.2 1034.6L257.2 1046.4L257.8 1045.3L258.8 1031.3L259.4 1032.2L260.1 1044.6L260.8 1044.7L261.7 1034.2L262.3 1035.3L263.1 1048.5L263.8 1049.3L264.7 1040L265.3 1041.2L266.4 1053.2L267 1053.8L268 1044L268.6 1044.8L269.5 1058L270.1 1058.5L271 1046L271.7 1047.5L272.8 1059.6L273.4 1057.4L274.4 1044.9L275 1046L275.8 1057.8L276.4 1057.4L277.4 1044.1L278 1045.1L278.8 1056.7L279.5 1056.3L280.4 1042.3L281 1043.4L282.1 1059.5L282.7 1059.6L283.6 1045L284.2 1045.9L285 1060.7L285.6 1060.2L286.5 1047.3L287.1 1048.6L288 1064.6L288.6 1064.1L289.5 1049.5L290.1 1050.5L291.3 1066.7L291.9 1066.2L292.8 1052L293.5 1052.9L294.4 1068.7L295 1068.7L295.9 1054L296.6 1054.2L297.4 1065.9L298 1064.1L298.9 1051L299.5 1050.6L300.4 1062.3L301 1059.6L301.9 1045.2L302.5 1044.5L303.6 1057.4L304.3 1056L305.2 1041.2L305.8 1043L306 1047.8L306.1 1052.6L306.3 1057.4L306.9 1058.5L307.2 1055.6L307.4 1052.7L307.6 1049.7L307.9 1046.8L308.5 1048.5L309.9 1064.2L310.5 1065.4L310.8 1062.5L311 1059.7L311.2 1056.8L311.5 1054L312.1 1056.8L313 1070.5L313.2 1070.8L313.4 1071.2L313.6 1071.5L314.5 1059.9L315.1 1059.7L315.7 1070.5L316.4 1068.7L317.3 1056.7L317.9 1056.8L319.1 1068.8L319.7 1068.2L320.7 1053.6L321.3 1053.2L322.1 1066.1L322.7 1066.4L323.6 1054.5L324.2 1056.1L325.4 1072.7L326 1073.4L327 1060.6L327.6 1061.7L328.1 1078L328.7 1078.5L329.6 1067.2L330.3 1069L331.4 1081.6L331.6 1080.7L331.8 1079.8L332 1078.8L332.2 1074.9L332.4 1071L332.7 1067.2L332.9 1063.5L333.1 1063.1L333.3 1062.7L333.5 1062.3L333.8 1064.6L334 1066.7L334.2 1068.8L334.5 1070.9L334.7 1072.8L334.9 1072L335.1 1071.1L335.3 1070.3L335.6 1066.5L335.8 1062.8L336 1059.2L336.3 1055.6L336.5 1055.2L336.7 1054.9L336.9 1054.5L337.9 1063.6L338.5 1062.6L339.4 1050.1L340 1049.4L340.5 1061.6L341.1 1060.7L342 1046.7L342.6 1047.6L343.8 1058.4L344 1058.8L344.2 1059.3L344.4 1059.8L344.7 1058L344.9 1056.3L345.1 1054.5L345.4 1052.7L345.6 1053.3L345.8 1053.9L346 1054.6L346.2 1057.5L346.4 1060.5L346.6 1063.5L346.8 1066.5L347.1 1069.5L347.3 1069.9L347.5 1070.3L347.7 1070.6L347.9 1068.1L348.1 1065.5L348.4 1062.9L348.6 1060.2L348.8 1061L349 1061.8L349.2 1062.6L349.4 1066.3L349.6 1070L349.8 1073.8L350 1077.6L350.2 1078L350.4 1078.4L350.6 1078.8L350.9 1075.6L351.1 1072.4L351.3 1069.2L351.6 1066L351.8 1066.8L352 1067.5L352.2 1068.3L352.4 1071.3L352.6 1074.3L352.8 1077.3L353 1080.3L353.2 1083.4L353.4 1086.4L353.7 1086.8L353.9 1087.2L354.1 1087.6L354.3 1084.2L354.5 1080.8L354.8 1077.5L355 1074.1L355.2 1074.7L355.4 1075.3L355.6 1075.8L355.9 1084.1L356.1 1092.3L356.3 1092.6L356.5 1092.9L356.7 1093.2L357 1090.3L357.2 1087.4L357.4 1084.6L357.7 1081.7L358.3 1082.7L359.5 1096.6L360.1 1096.2L361 1082.2L361.6 1083.8L362.3 1099.5L363 1099L363.9 1082.2L364.5 1082.3L365.8 1098.4L366.4 1097.4L367.4 1082.5L368 1084.8L368.7 1100.7L369.3 1099.7L370.2 1084.4L370.9 1085.3L371.7 1101.8L372.4 1101.8L373.3 1087.2L373.9 1087.8L374.6 1102.1L375.3 1102.3L376.2 1089.6L376.8 1092L378.3 1108.2L378.9 1108.7L379.8 1094L380.4 1095.9L381.2 1112.7L381.8 1113.1L382.8 1098.8L383.4 1101.6L384.3 1114.5L384.9 1112.9L385.9 1096.7L386.5 1096.4L387.5 1110.8L388.1 1108.3L389 1092.9L389.6 1093.8L390.5 1106.4L391.1 1104.9L392 1087L392.6 1087.1L393.4 1102.8L394 1101.4L395 1085.4L395.6 1085.8L396.5 1099.6L397.1 1098.8L398 1083.6L398.6 1083.9L399.6 1098.7L400.2 1098.1L401.1 1083L401.7 1084.8L403 1100.8L403.6 1101.2L404.6 1087.4L405.2 1087.7L405.7 1099.5L406.3 1098.2L407.2 1085L407.8 1084.2L408.9 1095.4L409.5 1093.9L410.5 1078.6L411.1 1077.9L412.1 1091.6L412.7 1091.8L413.6 1080.5L414.2 1081.5L415.2 1096.3L415.9 1095.9L416.8 1081.2L417.4 1080.8L418.4 1092.7L419 1091.1L419.9 1075.8L420.6 1075.4L421.2 1088L421.8 1086.5L422.8 1070L423.4 1069.7L424.2 1082.3L424.9 1081.7L425.8 1069.6L426.4 1070.6L427.6 1085.4L428.2 1085.1L429.1 1071.5L429.8 1072.5L430.9 1086.3L431.5 1086.5L432.4 1072.5L433.1 1073.4L433.9 1086.7L434.5 1085.4L435.5 1069L436.1 1069.1L436.9 1082.5L437.6 1081.5L438.5 1064.2L439.1 1063.6L440 1077.1L440.6 1075.5L441.5 1061.9L442.1 1063.1L443.1 1076.6L443.8 1076.8L444.7 1063.4L445.3 1064.3L446.2 1077.5L446.8 1077.6L447.7 1067L448.3 1067.2L449.4 1075.8L450 1074.4L451 1061L451.6 1060.1L452.3 1071.6L452.9 1069.5L453.8 1059L454.4 1060.1L455.5 1072.5L456.1 1072.6L457.1 1061.8L457.7 1062.4L458.6 1075.9L459.2 1076.3L460.1 1064.2L460.8 1064.8L461.8 1078.4L462.4 1078.8L463.3 1066.1L464 1067.3L464.2 1070.5L464.4 1073.6L464.6 1076.7L464.8 1079.9L465 1079.3L465.2 1078.6L465.5 1078L465.7 1073.2L465.9 1068.3L466.2 1063.3L466.4 1058.2L466.6 1057.6L466.8 1057L467 1056.4L467.2 1058.3L467.4 1060.2L467.7 1062.1L467.9 1064.1L468.1 1066.1L468.3 1068.2L468.5 1067.4L468.7 1066.6L468.9 1065.8L469.1 1061L469.4 1056.1L469.6 1051.1L469.8 1046.1L470.1 1045.8L470.3 1045.8L470.5 1045.8L471.2 1061.6L471.9 1058.7L472.8 1042.8L473.4 1042.5L474.3 1056L474.5 1056.5L474.7 1057L475 1057.5L475.2 1055.1L475.4 1052.6L475.6 1050.1L475.9 1047.7L476.1 1048.4L476.3 1049L476.5 1049.7L476.7 1056.2L476.9 1062.6L477.1 1062.6L477.3 1062.6L477.5 1062.6L477.7 1060.3L478 1058L478.2 1055.8L478.4 1053.5L478.6 1054.4L478.8 1055.3L479.1 1056.2L479.3 1059.5L479.5 1062.8L479.8 1066L480 1069.3L480.2 1072.5L480.5 1073L480.7 1073.6L480.9 1074.1L481.1 1071.3L481.3 1068.6L481.6 1065.8L481.8 1063.1L482.4 1064.1L483.3 1075.8L483.9 1073.9L484.9 1060.4L485.5 1060.2L486.6 1073.2L487.2 1071.2L488.1 1056.8L488.8 1056.6L489.2 1071.5L489.9 1070.6L490.8 1055.1L491.4 1055.6L492.9 1069.5L493.5 1069L494.4 1052.6L495.1 1052.2L496 1065.9L496.6 1065.3L497.5 1049.3L498.1 1049.9L498.7 1067.1L499.3 1066.3L500.2 1048.7L500.9 1050.1L501.1 1055.6L501.4 1061.8L501.6 1067.4L501.8 1072.4L502.1 1073.1L502.3 1073.8L502.5 1074.5L502.7 1073.5L502.9 1073.1L503.2 1076.2L503.4 1080.4L503.6 1086L503.8 1091.5L504 1097L504.3 1105.3L504.5 1113.6L504.7 1121.9L505 1130.2L505.2 1135.2L505.4 1140.3L505.6 1145.3L505.8 1149.8L506.1 1154.2L506.3 1158.7L506.5 1163.2L506.7 1168.7L506.9 1174.2L507.1 1179.7L507.4 1186.9L507.6 1194.1L507.8 1200.4L508 1205.6L508.2 1210.7L508.4 1214L508.6 1217.4L508.8 1220.8L509.1 1222.9L509.3 1225L509.5 1227.1L509.8 1229.2L510 1232.8L510.2 1236.4L510.4 1239.9L510.6 1244.8L510.8 1249.6L511 1254.4L511.2 1259.3L511.4 1264.1L511.6 1267.5L511.8 1271L512 1274.2L512.3 1273.6L512.5 1273.1L512.7 1272.6L512.9 1272L513.2 1273.3L513.4 1274.5L513.6 1275.8L513.8 1278.4L514 1281.1L514.3 1283.7L514.5 1286.3L514.7 1288.9L514.9 1290.1L515.1 1291.2L515.3 1292.3L515.6 1291.9L515.8 1291.5L516 1291.1L516.3 1290.8L516.5 1292L516.7 1293.3L516.9 1294.6L517.1 1297.8L517.3 1301L517.5 1304.2L517.7 1305.1L517.9 1306.1L518.1 1307L518.3 1306.9L518.6 1306.8L518.8 1307.9L519 1311.2L519.2 1315.4L519.4 1319.7L519.6 1323.9L519.9 1329.5L520.1 1335.1L520.3 1340.7L520.5 1346.3L520.7 1351.8L520.9 1355.8L521.1 1359.7L521.3 1363.6L521.6 1366.5L521.8 1369.4L522 1372L522.3 1373.3L522.5 1376L522.7 1378.8L522.9 1381.5L523.1 1386.3L523.3 1391.1L523.5 1395.8L523.7 1400.6L523.9 1403.1L524.1 1407.3L524.3 1412.5L524.6 1416.7L524.8 1420.8L525 1425L525.3 1429.1L525.5 1434.6L525.7 1440.1L525.9 1445.6L526.1 1453.3L526.4 1461L526.6 1468.7L526.8 1472.7L527.1 1476.7L527.3 1478.6L527.5 1480.6L527.7 1482.5L527.9 1483.1L528.2 1483.8L528.4 1484.4L528.6 1485.1L528.8 1487.2L529 1489.4L529.2 1491.6L529.4 1495.5L529.6 1499.4L529.8 1503.4L530 1507.3L530.2 1509.2L530.4 1511.2L530.6 1513.2L530.9 1513.7L531.1 1514.1L531.3 1514.6L531.6 1515.1L531.8 1517.2L532 1519.4L532.2 1521.6L532.4 1524.8L532.6 1528.1L532.8 1530.6L533 1532.5L533.2 1534.4L533.4 1534.9L533.6 1535.4L533.8 1536L534.1 1534.9L534.3 1533.8L534.5 1532.7L534.8 1531.6L535 1532.3L535.2 1532.9L535.4 1533.6L535.6 1536.7L535.7 1539.8L535.9 1543L536.1 1543.5L536.3 1544.1L536.6 1544.6L536.8 1543.3L537 1542L537.3 1541.4L537.5 1540.8L537.7 1542L537.9 1543.3L538.1 1544.6L538.3 1547.5L538.5 1550.3L538.7 1553.2L539 1556.1L539.2 1559L539.4 1560.2L539.6 1561.4L539.8 1562.6L540 1562.1L540.3 1561.6L540.5 1561.1L540.7 1560.2L540.9 1561L541.1 1561.8L541.3 1562.6L541.5 1565.3L541.8 1568L542 1570.7L542.2 1573.4L542.4 1574L542.6 1574.6L542.8 1575.3L543 1574.1L543.3 1572.9L543.5 1571.7L543.7 1570.6L543.9 1571.3L544.1 1572L544.3 1572.7L544.6 1574.7L544.8 1576.7L545 1578.6L545.2 1580.6L545.4 1582.6L545.6 1584.6L545.8 1585.2L546 1585.7L546.3 1586.1L546.5 1584.9L546.7 1583.6L547 1582.4L547.2 1581.2L547.4 1581.8L547.6 1582.3L547.8 1582.9L548 1585.1L548.2 1587.3L548.4 1589.5L548.6 1591.6L548.8 1591.9L549 1592.2L549.2 1592.6L549.5 1591.1L549.7 1589.7L549.9 1588.3L550.2 1586.9L550.4 1587.4L550.6 1588L550.8 1588.6L551 1591.2L551.2 1593.7L551.4 1596.3L551.6 1598.8L551.8 1599.4L552 1600L552.2 1584.5L552.4 1561.5L552.6 1538.2L552.9 1514.6L553.1 1487L553.3 1460.5L553.5 1433.9L553.7 1407.3L553.9 1380.7L554.2 1354.9L554.4 1329.3L554.6 1303.8L554.8 1278.7L555 1254.5L555.2 1233.6L555.5 1208.1L555.7 1182.7L555.9 1157.2L556.2 1141.5L556.4 1132.1L556.6 1122.8L556.8 1113.4L557 1105.9L557.2 1111.5L557.4 1117.7L557.7 1124.5L557.9 1131.9L558.1 1136.6L558.3 1141.2L558.5 1145.8L558.7 1146.4L559 1146.3L559.2 1145.5L559.4 1143.9L559.6 1147.9L559.8 1151.9L560 1155.9L560.3 1169.8L560.5 1186.1L560.8 1203.8L561 1210.1L561.2 1216.4L561.4 1222.7L561.6 1221.5L561.9 1220.1L562.1 1218.6L562.3 1216.8L562.5 1223L562.8 1229.2L563 1235.4L563.2 1251.4L563.4 1267.7L563.6 1284.1L563.9 1297L564.1 1298.5L564.3 1299.9L564.5 1301.4L564.7 1294.5L564.9 1287.9L565.2 1279.7L565.4 1270.4L566 1272.5L566.3 1277.9L566.5 1283.5L566.7 1287.1L566.9 1290.6L567.2 1294.4L567.4 1291.2L567.6 1287.9L567.8 1284.7L568 1273.9L568.3 1262.9L568.5 1252.2L568.7 1241.8L568.9 1239.6L569.1 1237.4L569.3 1235.2L569.6 1238.3L569.8 1241.2L570.1 1243.8L570.3 1246.3L570.6 1249.5L570.8 1247.3L571 1245L571.2 1242.8L571.4 1233.7L571.7 1225L571.9 1216.4L572.1 1208.1L572.3 1207L572.5 1205.8L572.8 1204.6L572.9 1212L573.1 1219.2L573.3 1226.2L573.5 1224.2L573.7 1222.8L573.9 1222.6L574.8 1195.6L575.4 1194.9L576.3 1221.6L576.9 1220.7L577.9 1186.1L578.1 1186.1L578.3 1186.2L578.5 1186.2L578.7 1192.5L578.9 1198.7L579.1 1204.7L579.3 1210.6L579.5 1209.7L579.7 1208.9L579.9 1208L580.2 1200.3L580.4 1192.7L580.6 1185.4L580.9 1178.2L581.1 1178.7L581.3 1179.2L581.5 1179.6L581.7 1185.2L581.9 1190.5L582.2 1195.8L582.4 1200.8L582.6 1199.2L582.8 1197.5L583 1195.9L583.2 1189.7L583.5 1183.6L583.7 1177.8L583.9 1172L584.1 1172.5L584.4 1173.4L584.6 1174.2L584.8 1179.6L585.1 1185.1L585.3 1190.5L585.5 1195.9L585.8 1201.2L586 1201.4L586.2 1201.5L586.4 1201.7L586.6 1196.3L586.9 1190.9L587.1 1185.6L587.3 1180.3L587.5 1181L587.7 1181.7L588 1182.4L588.2 1188.7L588.4 1195.1L588.7 1201.4L588.9 1207.7L589.1 1207.1L589.3 1206L589.6 1204.9L589.8 1199.4L590 1194.1L590.2 1188.8L590.5 1183.6L590.7 1183.4L590.9 1183.3L591.1 1183.1L591.3 1186.2L591.5 1189.2L591.7 1192.2L591.9 1195.1L592.1 1193.7L592.3 1192.4L592.5 1191L593.5 1173.2L593.7 1174.7L593.9 1176.2L594.1 1177.7L594.3 1183.4L594.6 1189.1L594.8 1194.8L595.1 1200.6L595.3 1201.4L595.5 1202.1L595.7 1202.8L595.9 1198.6L596.1 1194.4L596.4 1190.1L596.6 1185.8L596.8 1186.7L597 1187.6L597.2 1188.5L597.4 1194.9L597.7 1201.3L597.9 1207.7L598.1 1214.2L598.3 1214.8L598.5 1215.4L598.7 1216L599 1211.7L599.2 1207.4L599.4 1203.1L599.7 1198.7L600.3 1200.5L600.5 1204.6L600.8 1208.6L601 1212.7L601.2 1216.7L601.4 1215.4L601.6 1214.1L601.8 1212.9L602.1 1206.1L602.3 1199.4L602.5 1192.8L602.8 1186.2L603 1185.6L603.2 1185L603.4 1184.4L603.6 1190.4L603.8 1196.4L604.1 1202.3L604.3 1201.2L604.5 1200.1L604.7 1199L604.9 1192.8L605.1 1186.9L605.4 1181.2L605.6 1175.4L605.8 1175.5L606 1175.6L606.2 1175.7L606.5 1178.8L606.7 1181.9L606.9 1185.1L607.1 1188.2L607.3 1191.3L607.5 1190.4L607.7 1189.6L607.9 1188.7L608.2 1183.2L608.4 1177.7L608.6 1172.1L608.9 1166.6L609.1 1166.2L609.3 1165.8L609.5 1165.4L609.7 1169.1L609.9 1172.8L610.1 1176.5L610.3 1180.1L610.5 1183.8L611.1 1183L611.4 1178.3L611.6 1173.5L611.8 1168.7L612.1 1163.9L612.3 1165L612.5 1166.2L612.7 1167.4L612.9 1173.2L613.1 1179.1L613.3 1185L613.5 1191L613.7 1191.9L613.9 1192.7L614.1 1193.5L614.3 1189.2L614.6 1184.7L614.8 1180.2L615 1175.7L615.2 1176.7L615.4 1177.7L615.6 1178.7L615.9 1185.2L616.1 1191.7L616.4 1198.3L616.6 1204.9L616.8 1205.7L617 1206.5L617.2 1207.3L617.5 1201.9L617.7 1196.4L617.9 1190.8L618.2 1183.9L618.4 1183.6L618.6 1183.4L618.8 1183.1L619 1188.4L619.2 1193.7L619.5 1198.9L619.7 1204.1L619.9 1202.9L620.1 1201.6L620.3 1200.4L620.5 1193.9L620.8 1187.5L621 1181.1L621.2 1174.8L621.4 1174.3L621.6 1173.8L621.8 1173.3L622 1177.1L622.2 1180.8L622.4 1184.5L622.6 1188.1L622.8 1191.7L623.1 1189.9L623.3 1188L623.5 1186.1L623.7 1180.5L623.9 1174.8L624.2 1169.5L624.4 1164.4L625 1164L626.1 1181.4L626.8 1179.7L627.7 1156.5L628.3 1156.4L629 1175L629.2 1174.9L629.5 1174.7L629.7 1174.5L629.9 1170.9L630.1 1167.1L630.4 1163.3L630.6 1159.4L630.8 1160L631 1160.6L631.2 1161.3L631.4 1167.9L631.7 1174.6L631.9 1181.5L632.2 1188.4L632.4 1188.6L632.6 1188.8L632.8 1189L633 1183.8L633.3 1178.4L633.5 1173L633.7 1167.5L633.9 1168.4L634.1 1169.2L634.3 1170.1L634.6 1175.5L634.8 1180.9L635 1186.5L635.2 1192L635.4 1197.7L635.6 1198.3L635.8 1198.9L636 1199.2L637 1172L637.6 1171.5L638.5 1194.4L639.1 1191.4L640 1170L640.7 1170.3L640.9 1173.4L641.1 1176L641.3 1178.1L641.5 1180.3L641.8 1182.6L642 1181.1L642.2 1179.5L642.4 1178L642.6 1171.8L642.8 1165.6L643.1 1159.3L643.3 1152.9L643.5 1151.5L643.7 1150.1L643.9 1148.7L644.1 1159.6L644.3 1170.6L644.5 1169.2L644.7 1167.7L644.9 1166.3L645.1 1158.3L645.4 1150.3L645.6 1142.1L645.8 1133.8L646.4 1134.8L646.7 1140.1L646.9 1145.4L647.1 1150.7L647.4 1156L647.6 1161.3L647.8 1166.5L648 1167L648.2 1167.4L648.5 1167.8L648.7 1162.3L648.9 1156.8L649.2 1151.4L649.4 1145.9L649.6 1147L649.8 1148.1L650 1149.1L650.2 1157L650.5 1164.9L650.7 1172.7L651.3 1172.9L652.3 1149.4L652.9 1151.2L653.9 1175.2L654.5 1174.3L655.5 1149.4L656.1 1149.9L657.1 1172.7L657.3 1172L657.5 1171.2L657.7 1170.5L658 1164.2L658.2 1158L658.4 1151.8L658.7 1145.6L658.9 1145.3L659.1 1144.9L659.3 1144.6L659.5 1149.1L659.8 1153.7L660 1158.1L660.3 1162.6L660.5 1161.4L660.7 1160.2L660.9 1159L661.1 1153.5L661.4 1148L661.6 1142.6L661.8 1137.1L662 1136.9L662.2 1136.6L662.4 1136.4L662.7 1140.3L662.9 1144.2L663.1 1148.4L663.4 1152.8L664 1151.1L664.9 1133L665.5 1132.9L666.3 1151.6L666.9 1148.8L667.9 1129.7L668.5 1131.8L669.6 1151.3L670.3 1151.8L671.2 1137.4L671.8 1140L672.5 1156.4L673.1 1156.7L674 1142.6L674.6 1142.7L675.6 1157.9L676.2 1157L677.1 1138.5L677.7 1137.7L678.8 1156.3L679.4 1155.6L680.4 1135.3L681 1135.2L681.7 1154.2L682.3 1153.6L683.3 1135.8L683.9 1135.9L685.2 1150.5L685.9 1147.9L686.8 1133.7L687.4 1134L688.2 1151.3L688.8 1150.7L689.7 1133.1L690.3 1133.2L691.4 1148.6L692.1 1148.6L693 1134.1L693.6 1135.5L694.2 1150.4L694.8 1149.7L695.7 1134.7L696 1135.1L696.2 1135.8L696.4 1136.6L696.6 1141.5L696.8 1147L697 1153.1L697.2 1159.9L697.4 1160.9L697.7 1161.8L697.9 1162.6L698.8 1134.5L699.4 1134.7L700.4 1158.9L701 1156L702 1132.8L702.6 1134.4L703.6 1151L704.2 1149.5L705.2 1131.5L705.8 1132.9L706.5 1149.1L707.1 1148.4L708.1 1132.6L708.7 1134L709.8 1148.1L710.4 1147.3L711.3 1131.9L711.9 1132.1L712.8 1146.7L713.4 1145.9L714.3 1130.5L715 1130.5L716.2 1143.8L716.8 1142.9L717.7 1128.8L718.3 1130.1L718.9 1143.8L719.5 1143.2L720.4 1125.8L720.6 1141L721.3 1128L722 1115L722.7 1140L723.4 1170L724 1189L724.7 1165L725.4 1142L725.5 1175.5L725.7 1173.3L726 1164.5L726.2 1156.5L726.4 1149.4L726.7 1143L726.9 1143L727.1 1142.9L727.3 1142.5L728.2 1161.8L728.8 1159.9L729.7 1134.5L730.3 1135.3L730.6 1140.3L730.8 1145.4L731 1150.4L731.3 1154.9L731.5 1153.9L731.7 1153L731.9 1152.1L732.1 1145.5L732.4 1139.2L732.6 1132.9L732.8 1126.9L733 1126.4L733.3 1125.8L733.5 1125.3L733.7 1130L733.9 1134.5L734.1 1138.8L734.3 1143L734.5 1141.6L734.7 1140.3L734.9 1138.9L735.2 1135.2L735.4 1132.6L735.6 1130.5L735.9 1128.7L736.1 1130.8L736.3 1132.9L736.5 1135L736.7 1139.9L736.9 1144.5L737.2 1148.7L737.4 1152.5L737.6 1156L737.8 1157.2L738 1159.1L738.2 1164.8L738.5 1169.2L738.7 1173.6L738.9 1178L739.2 1182.5L739.4 1188.4L739.6 1194.4L739.8 1200.4L740 1207.6L740.2 1214.7L740.4 1222.3L740.6 1232.4L740.9 1242.5L741.1 1250.9L741.3 1259.2L741.5 1267.6L741.7 1275.4L741.9 1283.2L742.2 1289.5L742.4 1295.2L742.6 1302.1L742.8 1308.9L743 1315.7L743.2 1324.1L743.4 1332.4L743.6 1340.8L743.8 1348.5L744 1353.9L744.2 1359.3L744.4 1364.6L744.7 1369.2L744.9 1373.8L745.1 1378.3L745.4 1383L745.6 1389.2L745.8 1395.3L746 1401.5L746.2 1408.9L746.4 1416.3L746.6 1423.9L746.8 1431.8L747 1439.6L747.2 1446L747.4 1446.8L747.6 1447.6L747.8 1446.6L748.1 1445.4L748.3 1444.2L748.5 1442.9L748.8 1443.6L749 1444.3L749.2 1445L749.4 1447.2L749.6 1449.6L749.8 1451.9L750 1454.5L750.3 1457.4L750.5 1458.5L750.7 1459.5L750.9 1460.6L751.1 1460.1L751.3 1459.7L751.6 1459.2L751.8 1458.9L752 1460.4L752.2 1461.8L752.4 1463.3L752.7 1467.4L752.9 1471.4L753.1 1475.4L753.3 1476.5L753.6 1477.7L753.8 1478.8L754 1478.5L754.2 1478.3L754.5 1478.1L754.7 1478.1L754.9 1480.1L755.1 1482.1L755.3 1484L755.5 1487.9L755.8 1491.8L756 1495.7L756.2 1499.6L756.4 1501.5L756.6 1503.3L756.9 1505.1L757.1 1505.4L757.3 1505.8L757.5 1506.1L757.8 1506.4L758 1508.5L758.2 1510.5L758.4 1512.6L758.6 1516.3L758.8 1520.1L759 1523.8L759.3 1527.5L759.5 1529.3L759.7 1531.2L759.9 1533L760.1 1533.2L760.3 1533.4L760.6 1533.7L760.8 1534.1L761 1536.4L761.2 1538.6L761.4 1540.9L761.7 1545.8L761.9 1550.8L762.2 1555.7L762.4 1557.7L762.6 1559.7L762.8 1561.7L763 1562.2L763.2 1562.7L763.5 1563.2L763.7 1563.7L763.9 1565.8L764.1 1567.9L764.3 1570L764.5 1573.4L764.8 1576.7L765 1580L765.2 1583.5L765.4 1586.9L765.6 1590.4L765.8 1592.5L766 1594.6L766.2 1596.7L766.5 1597.4L766.7 1598.2L766.9 1589.9L767.2 1575.1L767.4 1563.6L767.6 1552L767.8 1540.5L768 1532.8L768.1 1525.2L768.3 1517.6L768.5 1505.5L768.7 1491.1L768.9 1476.7L769.2 1458.8L769.4 1440.9L769.6 1423L769.9 1405L770.1 1389.8L770.3 1373.2L770.5 1356.6L770.7 1340.2L770.9 1323.7L771.1 1307.2L771.4 1284.5L771.6 1259.8L771.8 1235.1L772 1217L772.2 1204.7L772.4 1192.4L772.7 1177L772.9 1161.6L773.1 1146.2L773.4 1130.7L773.6 1124.9L773.8 1120.9L774 1117L774.2 1114.9L774.4 1112.8L774.6 1110.8L774.8 1108.7L775 1104.6L775.2 1100.6L775.4 1096.6L775.7 1092.8L775.9 1097.4L776.1 1101.1L776.3 1104L776.6 1109.1L776.8 1114.1L777 1119.2L777.2 1128.8L777.4 1139.1L777.6 1150.2L777.9 1161.3L778.1 1171L778.3 1175L778.5 1179L778.7 1183.1L778.9 1181.3L779.2 1179.5L779.4 1177.7L779.6 1175.8L779.8 1180.6L780 1185.4L780.2 1190.6L780.5 1203.9L780.7 1217.1L781 1230.1L781.2 1234.2L781.4 1238.2L781.6 1242.3L781.8 1241.4L782.1 1239.4L782.3 1234.9L782.5 1230.6L782.7 1231.8L783 1233.1L783.2 1234.3L783.4 1241.2L783.6 1248L783.8 1254.8L784 1261.4L784.6 1261L784.8 1254.6L785.1 1248.2L785.3 1241.7L785.5 1235.1L785.7 1234L785.9 1232.8L786.1 1231.7L786.4 1233.7L786.6 1235.8L786.8 1225.5L787 1214.2L787.3 1202.5L787.5 1187.8L787.7 1173.1L787.9 1169.3L788.1 1164.7L788.3 1160.2L788.6 1155.9L788.8 1151.8L789 1150.8L789.2 1149.9L789.4 1149L789.6 1151.7L789.8 1154.2L790 1156.6L790.2 1160.6L790.8 1161.4L791.8 1141.6L792.4 1141.3L793.4 1165.2L794 1163.9L794.2 1156.4L794.5 1149.8L794.7 1144.1L794.9 1138.8L795.1 1142.5L795.3 1146.2L795.5 1149.8L795.8 1159.3L796 1168.4L796.3 1177L796.5 1185.3L796.7 1186.3L796.9 1187.4L797.1 1188.5L797.4 1183.4L797.6 1178.8L797.8 1174.6L798.1 1170.8L798.3 1173.1L798.5 1175.3L798.7 1177.5L798.9 1183.6L799.1 1189.7L799.4 1196L799.6 1202.4L799.8 1203.3L800 1204.2L800.2 1205L800.4 1200.4L800.7 1195.6L800.9 1190.6L801.1 1185.4L801.3 1186.4L801.5 1187.4L801.7 1188.4L802 1196.2L802.2 1204.3L802.4 1212.5L802.7 1220.9L803.3 1219.9L803.5 1212.8L803.8 1205.8L804 1199L804.2 1192.3L804.4 1191.9L804.6 1191.4L804.8 1190.9L805 1196.3L805.3 1201.6L805.5 1206.7L805.7 1211.7L805.9 1210.8L806.1 1209.9L806.3 1209.1L806.5 1202.6L806.8 1196.4L807 1190.3L807.2 1184.4L807.4 1183.9L807.6 1183.3L807.8 1182.8L808 1186.3L808.3 1189.9L808.5 1193.5L808.7 1197.1L808.9 1200.8L809.1 1200.2L809.3 1199.7L809.5 1199.2L809.7 1192.7L810 1186.2L810.2 1179.6L810.4 1173L810.6 1172.4L810.8 1171.8L811 1171.3L811.2 1178.5L811.5 1185.8L811.7 1193.1L812.3 1191.5L813.2 1172.5L813.8 1174L815.1 1194.3L815.7 1194.3L816.6 1176.6L816.8 1177.2L817 1177.7L817.2 1178.3L817.4 1184.4L817.6 1190.6L817.8 1196.8L818 1203.1L818.2 1203.4L818.4 1203.7L818.6 1204L818.9 1199.1L819.1 1194.1L819.3 1189.1L819.6 1184.1L819.8 1185.1L820 1186.2L820.2 1187.2L820.4 1191L820.6 1194.8L820.8 1198.6L821 1202.4L821.3 1206.3L821.5 1210.1L822.1 1207.9L823 1184.6L823.6 1185.3L824.6 1205.2L825.2 1204L826.1 1180.6L826.8 1180.5L827.2 1202L827.8 1200.5L828.7 1178.8L829.4 1181.3L830.6 1195.7L831.2 1193.7L832.2 1172.1L832.8 1171.7L833.7 1192.1L834.3 1191.3L835.2 1170.7L835.9 1172.3L836.6 1194.9L837.3 1194.1L838.2 1172.1L838.8 1173.6L840 1196.2L840.6 1195.9L841.5 1173.4L842.2 1175L842.9 1197.2L843.5 1196.3L844.5 1173.4L845.1 1174.5L845.8 1196.6L846.4 1194.1L847.4 1171.3L848 1171.3L849.2 1196.4L849.8 1194.5L850.7 1171.2L851.3 1171.5L852.3 1193L852.9 1190L853.8 1167.1L854 1166.9L854.2 1166.7L854.4 1166.5L854.7 1171.8L854.9 1177.1L855.2 1182.4L855.4 1187.7L855.6 1187.1L855.8 1186.6L856 1186L856.3 1179.5L856.5 1173L856.7 1166.5L857 1160L857.2 1159.7L857.4 1159.4L857.6 1159L857.8 1166.1L858.1 1173L858.3 1180.4L858.5 1179.7L858.7 1179L858.9 1178.2L859.2 1170.3L859.4 1161.4L859.6 1160L860.3 1140L861 1112L861.7 1140L862.4 1176L862.5 1168L862.8 1161.8L863 1156.6L863.2 1152.4L863.9 1155.5L864.8 1174.7L865.4 1173.6L866.4 1153.2L867 1153.9L867.6 1173.1L868.2 1171.7L869.2 1152.5L869.8 1153.1L870.8 1170.7L871.4 1170.4L872.3 1146.9L873 1148.3L874 1169.3L874.6 1168.1L875.5 1147.4L876.2 1148.1L877 1169.2L877.6 1168.5L878.6 1150.2L879.2 1151.8L880.5 1172.4L880.7 1173L880.9 1173.7L881.1 1174.4L881.3 1170.9L881.6 1167.4L881.8 1164L882 1160.7L882.2 1161.8L882.4 1162.8L882.6 1163.8L882.9 1170L883.1 1176L883.3 1182L884 1182L884.9 1166.1L885.5 1166.6L886.2 1184.5L886.9 1184.3L887.8 1166.5L888.4 1168.5L889.4 1185.3L890 1184.7L890.9 1168.8L891.5 1169.1L892.6 1187.5L893.2 1187.2L894.1 1166.5L894.8 1166.7L896.1 1185.6L896.7 1184.6L897.6 1167.3L898.2 1169.6L898.8 1188.3L899.4 1188.4L900.3 1173.7L900.9 1176.4L901.9 1193.6L902.5 1193.4L903.5 1174.7L904.1 1175.1L905.1 1193.1L905.7 1192.6L906.6 1174.3L907.2 1175.3L908.1 1191.7L908.7 1191.2L909.6 1171.4L910.3 1171L911.6 1190.1L912.2 1187.8L913.1 1170.8L913.7 1172.3L914.2 1188.5L914.8 1188.3L915.8 1170.6L916.4 1171.7L917.5 1189.4L918.1 1188.2L919.1 1171.1L919.7 1173.2L920.5 1189.6L921.1 1188.9L922.1 1171.8L922.7 1172.5L923.7 1190L924.3 1189.8L925.2 1171.5L925.9 1172.2L926.5 1189.4L927.1 1188.7L928.1 1173.1L928.7 1174.7L930.1 1189.9L930.7 1189.8L931.6 1173.3L932.2 1174L932.9 1190.2L933.5 1189.3L934.4 1172.8L935.1 1173.1L936 1190.5L936.6 1189.9L937.6 1171.4L938.2 1172.3L939 1192.7L939.6 1189.8L940.5 1170.6L941.1 1171.4L942.1 1191.8L942.7 1191.2L943.6 1169.1L943.8 1170.8L944.1 1173.2L944.3 1175.5L944.5 1181.4L944.7 1186.7L944.9 1191.4L945.2 1195.5L945.4 1199L945.6 1199.8L945.8 1200.6L946 1201.6L946.2 1205.6L946.5 1208.5L946.7 1210.3L946.9 1210.9L947.1 1215.1L947.4 1219.5L947.6 1223.9L947.8 1235L948.1 1246L948.3 1253L948.6 1259.8L949.2 1259.3L950.1 1234.2L950.7 1235.1L951.6 1258.8L952.2 1258.4L953.2 1238L953.8 1238.7L954.8 1260.4L955.4 1258.9L955.6 1254L955.9 1251.8L956.1 1255.9L956.3 1260.8L956.5 1269.3L956.8 1277.8L957 1286.2L957.2 1296.6L957.4 1306.4L957.6 1314.1L957.8 1321.7L958 1327.3L958.2 1332.9L958.4 1338.6L958.7 1343.2L958.9 1347.8L959.1 1354.6L959.4 1363L959.6 1372.4L959.8 1381.7L960 1391L960.2 1399.2L960.4 1407.1L960.6 1414.9L960.8 1422.8L961 1429L961.2 1435.2L961.4 1441.3L961.7 1446.4L961.9 1451.4L962.1 1456.4L962.4 1461.5L962.6 1467.9L962.8 1474.3L963 1480.7L963.2 1488.7L963.4 1496.7L963.6 1504.7L963.8 1512.8L964 1520.8L964.2 1526.4L964.4 1529.4L964.6 1532.4L964.9 1534.4L965.1 1536.2L965.3 1538.1L965.6 1539.9L965.8 1543.1L966 1546.3L966.2 1549.6L966.4 1555L966.6 1558.8L966.9 1561.9L967.1 1565.3L967.3 1566.4L967.5 1567.4L967.7 1568.5L967.9 1566.8L968.2 1564.8L968.4 1562.5L968.6 1560L968.8 1560.6L969.1 1561.3L969.3 1562.1L969.5 1566.1L969.7 1570.3L969.9 1574.7L970.1 1579L970.7 1578.8L971.6 1567.6L972.3 1569.1L973.3 1581.7L973.9 1582L974.2 1580.9L974.4 1579.9L974.6 1578.9L974.9 1578L975.1 1579.5L975.3 1581L975.5 1582.5L975.7 1585.3L975.9 1588.1L976.1 1590.9L976.3 1593.7L976.5 1596.4L976.7 1597.5L976.9 1598.6L977.1 1599.6L977.4 1598.9L977.6 1598.2L977.8 1597.5L978 1596.9L978.3 1598.2L978.5 1599.5L978.7 1600.8L978.9 1603.9L979.1 1607L979.2 1610.1L979.4 1613.2L979.6 1614.2L979.8 1615.4L980.1 1616.6L980.3 1616.3L980.5 1616.1L980.8 1615.8L981 1615.5L981.2 1616.9L981.4 1618.3L981.6 1619.8L981.8 1623L982 1626.2L982.2 1629.4L982.4 1632.6L982.7 1633.9L982.9 1635.2L983.1 1636.5L983.3 1636.2L983.5 1635.9L983.8 1635.7L984 1635.4L984.2 1636.8L984.4 1638.2L984.6 1639.6L984.8 1642.7L985.1 1645.8L985.3 1648.9L985.5 1651.9L985.7 1655L985.9 1656.3L986.1 1657.7L986.3 1659L986.6 1658.7L986.8 1658.4L987 1658.1L987.3 1657.9L987.5 1659.3L987.7 1660.8L987.9 1662.3L988.1 1665.2L988.3 1668.1L988.5 1671L988.8 1673.9L989 1676.7L989.2 1677.8L989.4 1678.9L989.6 1680L989.8 1679.5L990.1 1678.9L990.3 1678.4L990.5 1677.8L990.8 1679L991 1680.2L991.2 1681.4L991.4 1685L991.6 1688.6L991.8 1692.3L992 1689.2L992.2 1678.4L992.4 1667.7L992.6 1653.4L992.9 1638.9L993.1 1624.3L993.3 1609.5L993.5 1597.5L993.7 1575.9L993.9 1554.3L994.2 1531.3L994.4 1508.1L994.6 1484.6L994.9 1460.7L995.1 1438.1L995.3 1415.5L995.5 1392.8L995.7 1365.8L996 1338.8L996.2 1311.8L996.4 1294.8L996.6 1287.6L996.8 1280.5L997.1 1273.3L997.3 1267.4L997.5 1261.7L997.7 1256L998 1250.5L998.2 1246.9L998.4 1243.7L998.6 1240.6L998.8 1235.1L999.1 1229.7L999.3 1224.3L999.5 1219.1L999.7 1216.3L999.9 1213.5L1000.1 1210.8L1000.4 1209.1L1000.6 1210.6L1000.8 1216.2L1001.1 1222.6L1001.3 1229.5L1001.5 1233.6L1001.7 1237.6L1001.9 1241.6L1002.1 1242.3L1002.4 1242.2L1002.6 1241.3L1002.8 1239.8L1003 1243.3L1003.3 1247.5L1003.5 1251.6L1003.7 1268.4L1003.9 1285.3L1004.1 1288.3L1004.3 1291.3L1004.5 1294.3L1004.8 1292.2L1005 1290.1L1005.2 1287.7L1005.5 1285.3L1005.7 1287.9L1005.9 1290.1L1006.1 1292.3L1007.4 1315.7L1007.6 1313.4L1007.8 1311.1L1008 1308.7L1008.2 1299.2L1008.4 1289.7L1008.7 1280.5L1008.9 1271.5L1009.1 1269L1009.3 1266.5L1009.5 1264.4L1010.6 1288.5L1011.2 1288.2L1012.1 1262.3L1012.8 1263.6L1013.4 1287.3L1014 1286.9L1014.9 1264.6L1015.1 1264.9L1015.3 1264.8L1015.5 1264.8L1015.8 1267.6L1016 1270.4L1016.2 1273.1L1016.4 1275.7L1016.6 1278.1L1016.8 1280.5L1017 1279L1017.2 1277.4L1017.5 1275.9L1017.7 1269.5L1017.9 1263.3L1018.1 1257.2L1018.4 1251.3L1018.6 1250.8L1018.8 1250.4L1019 1250L1019.8 1266.3L1020.4 1265.2L1021.3 1244.2L1022 1245.6L1022.7 1263.5L1023.3 1260.9L1024.3 1240.5L1024.9 1241.8L1025.9 1269.1L1026.6 1269.7L1027.5 1246.3L1028.1 1249.6L1028.8 1271.8L1029.4 1272L1030.3 1246.8L1030.9 1246.2L1032 1269.2L1032.6 1267.5L1033.6 1243.2L1034.2 1242.8L1035.5 1266.8L1036.1 1264.8L1037 1238.7L1037.7 1242L1038.2 1262.1L1038.8 1261.5L1039.7 1239L1040.3 1241.8L1041.7 1266.5L1042.3 1266.2L1043.2 1244.6L1043.9 1245.7L1044.5 1270L1045.1 1270.6L1046 1244L1046.7 1245L1047.8 1275.4L1048.4 1272.8L1048.6 1265.6L1048.8 1258.5L1049.1 1251.5L1049.3 1244.7L1049.5 1244.6L1049.7 1244.4L1049.9 1244.3L1050.1 1250.3L1050.3 1256.2L1050.5 1262.1L1050.7 1267.8L1050.9 1267.1L1051.1 1266.5L1051.3 1265.9L1051.6 1258.9L1051.8 1252.2L1052 1245.5L1052.3 1239L1052.5 1239.3L1052.7 1239.7L1052.9 1240L1053.1 1247L1053.3 1253.9L1053.5 1260.7L1054.1 1257.1L1055 1235.4L1055.6 1236.5L1056.8 1255.2L1057.4 1252.3L1058.4 1234.2L1059 1234.2L1060 1253.3L1060.6 1251.9L1061.6 1229.9L1062.2 1230.6L1062.9 1248.6L1063.5 1246.2L1064.5 1226.1L1065.1 1227.9L1066 1249.3L1066.6 1247.3L1067.5 1224.5L1068.2 1225.4L1069.4 1248.1L1070 1247.8L1070.9 1223.4L1071.5 1225L1072.3 1247.7L1072.9 1247.5L1073.8 1224.2L1074.5 1224.6L1075.2 1249.5L1075.9 1248.8L1076.8 1220.4L1077.4 1221.5L1078.5 1247.9L1079.1 1247.8L1080 1216.9L1080.7 1216.5L1081.8 1243.9L1082.5 1241.1L1083.4 1215L1084 1215.9L1084.7 1233.6L1085.3 1231.9L1086.3 1213.5L1086.9 1214.7L1088 1231.5L1088.7 1229.9L1089.6 1210.5L1090.2 1211.8L1091.2 1226.7L1091.9 1224.6L1092.8 1209.7L1093.4 1211.5L1094.1 1231.2L1094.7 1232.5L1095.7 1215.8L1096.3 1217L1097 1236.9L1097.6 1237.1L1098.6 1216.8L1099.2 1216.8L1100.1 1236.2L1100.7 1234.8L1101.6 1215.7L1102.3 1216L1103.4 1231.7L1104 1230.7L1104.2 1225.5L1104.5 1220L1104.7 1214.4L1104.9 1208.6L1105.2 1208.1L1105.4 1207.7L1105.6 1207.3L1105.8 1210.8L1106 1214.4L1106.2 1218.2L1106.4 1222.1L1106.6 1226.1L1106.8 1225.6L1107 1222L1107.8 1180L1108.6 1164L1109.4 1186L1110.2 1163L1111 1187L1111.8 1166L1112.6 1215L1112.8 1227.4L1113 1233.6L1113.2 1234.7L1113.4 1235.5L1113.6 1232.7L1113.9 1230L1114.1 1227.4L1114.3 1224.9L1114.5 1226.3L1114.7 1227.7L1115 1229.2L1115.1 1232.4L1115.3 1235.2L1115.5 1238.1L1115.7 1240.9L1115.9 1240.2L1116.1 1239.4L1116.4 1238.6L1116.6 1233.9L1116.8 1229.2L1117 1224.5L1117.3 1219.8L1117.5 1219.8L1117.7 1219.8L1117.9 1219.8L1118.1 1222.6L1118.3 1225.3L1118.5 1228.1L1118.7 1230.8L1118.9 1233.6L1119.2 1232.1L1119.4 1230.3L1119.6 1228.6L1119.8 1222.6L1120 1216.6L1120.3 1210.7L1120.5 1204.7L1120.7 1203.2L1120.9 1201.6L1121.1 1200L1121.3 1202.3L1121.5 1204.6L1121.7 1206.9L1121.9 1209.2L1122.5 1208.1L1123.5 1189.1L1124.1 1189L1125 1208L1125.7 1207.2L1126.6 1187L1127.2 1187.6L1128 1208.2L1128.6 1208.6L1129.5 1189.5L1130.2 1191.1L1131.1 1210.8L1131.7 1210.2L1132.6 1195.2L1133.2 1197.8L1134.3 1213.5L1134.9 1212.4L1135.9 1198.4L1136.5 1199.9L1137.3 1219.7L1137.9 1220L1138.9 1200.3L1139.5 1201.5L1140.5 1217.8L1141.1 1216.4L1142 1196.4L1142.6 1197.2L1143.8 1212.5L1144.4 1210.7L1145.4 1194.5L1146 1194.8L1146.8 1209.5L1147.4 1209.3L1148.3 1192.6L1149 1192.8L1150.4 1210L1151 1209.9L1151.9 1192.6L1152.5 1193.4L1153.1 1211L1153.8 1211.1L1154.7 1194.5L1155.3 1195.8L1156 1214.5L1156.6 1214.3L1157.6 1197.5L1158.2 1198.1L1159.3 1217.6L1159.9 1217.1L1160.9 1200.2L1161.5 1200.2L1162.4 1215.3L1163 1214.6L1163.9 1197.6L1164.5 1198.5L1165.3 1214.9L1165.9 1214.1L1166.8 1199L1167.5 1200.4L1168.7 1218.5L1169.3 1217.6L1170.2 1204.2L1170.8 1205.5L1171.5 1222.9L1172.1 1223.4L1173 1206.6L1173.6 1207L1174.2 1223L1174.8 1222.6L1175.8 1206.7L1176.4 1206.7L1177.9 1222.8L1178.5 1222.3L1179.5 1207L1180.1 1207.6L1180.8 1223.8L1181.4 1222.8L1182.4 1205L1183 1204.9L1184.2 1221.9L1184.9 1220.7L1185.8 1203L1186.4 1203.6L1187 1221.2L1187.6 1221.2L1188.5 1206.2L1189.2 1206.8L1190 1221.9L1190.6 1221.3L1191.6 1208.7L1192.2 1210.4L1193.5 1224.7L1194.2 1223.7L1195.1 1205.7L1195.7 1205.7L1196.2 1225.5L1196.9 1223.8L1197.8 1205.6L1198.4 1205.6L1199.5 1225.2L1200.2 1223.9L1201.1 1202.1L1201.7 1202.4L1202.8 1221.4L1203.4 1219.6L1204.4 1200L1205 1200.5L1205.7 1217.2L1206.3 1216.4L1207.3 1203.8L1207.9 1205L1208.8 1221.4L1209.4 1220.3L1210.3 1205.8L1211 1207.5L1211.9 1223L1212.5 1221L1213.5 1203.1L1214.1 1202.6L1215.1 1218.8L1215.8 1216.6L1216.7 1199.6L1217.3 1199.3L1218 1215.7L1218.6 1214.2L1219.5 1196.5L1220.1 1196.1L1221.3 1211.3L1221.5 1211.8L1221.7 1212.3L1221.9 1212.8L1222.1 1209.5L1222.4 1206.1L1222.6 1202.8L1222.8 1199.4L1223.1 1200.4L1223.3 1201.4L1223.5 1202.3L1223.7 1206.9L1223.9 1211.5L1224.2 1216.1L1224.4 1220.7L1224.6 1221.2L1224.8 1221.7L1225 1222.2L1225.2 1218.7L1225.5 1215.2L1225.7 1211.7L1225.9 1208.1L1226.1 1208.8L1226.4 1209.4L1226.6 1210L1226.8 1213.8L1227 1217.5L1227.3 1221.3L1227.5 1225.2L1227.8 1229L1228 1229.4L1228.2 1229.8L1228.4 1230.2L1228.6 1227L1228.8 1223.8L1229.1 1220.5L1229.3 1217.1L1229.5 1217.9L1229.7 1218.7L1229.9 1219.5L1230.4 1234.4L1231.1 1231.3L1232 1214.6L1232.6 1215.1L1233.5 1228.5L1234.1 1226.8L1234.3 1221.8L1234.5 1216.7L1234.8 1211.7L1235 1206.6L1235.2 1206.1L1235.4 1205.5L1235.6 1204.9L1235.9 1207.8L1236.1 1210.6L1236.3 1213.5L1236.6 1216.3L1236.8 1219.2L1237 1217.9L1237.2 1216.7L1237.4 1215.4L1237.7 1210.5L1237.9 1205.6L1238.1 1200.7L1238.4 1195.8L1238.6 1195.4L1238.8 1195L1239 1194.5L1239.2 1198.5L1239.4 1202.4L1239.5 1206.3L1239.7 1210.3L1240.4 1208L1241.3 1190.6L1241.9 1192.4L1242.9 1209.7L1243.6 1209.2L1244.5 1191.1L1245.1 1191.3L1246 1207.3L1246.6 1206.6L1247.6 1191.3L1248.2 1192.7L1249.3 1207.3L1249.9 1207.5L1250.8 1191.8L1251.5 1193.4L1252.1 1211.2L1252.7 1210.5L1253.6 1190.9L1254.3 1191.1L1255.3 1207.9L1255.9 1206.4L1256.8 1188.1L1257.5 1188L1258 1200.3L1258.6 1199.4L1259.6 1183.4L1260.2 1183.8L1261.4 1196.5L1262 1195.5L1262.2 1192.1L1262.4 1188.8L1262.7 1185.5L1262.9 1182.2L1263.1 1182.9L1263.3 1183.6L1263.5 1184.3L1263.7 1187.7L1264 1191.1L1264.2 1194.5L1264.4 1198L1264.6 1201.5L1264.8 1204.9L1265 1205.5L1265.3 1206.1L1265.5 1206.7L1266.4 1192.6L1267 1194L1267.6 1207.4L1268.2 1207.3L1269.1 1191L1269.8 1191.7L1270.7 1209.8L1271.3 1209.6L1272.2 1193.4L1272.9 1195.1L1273.7 1210.1L1274.3 1209.1L1275.3 1190.9L1275.9 1191L1277.1 1208.8L1277.7 1208.3L1278.6 1189.9L1279.3 1190.1L1280.1 1207.6L1280.7 1207.2L1281.7 1189.6L1282.3 1190.1L1283 1206.4L1283.6 1206.7L1284.6 1190.8L1285.2 1191.7L1286.4 1208.5L1287 1208.8L1288 1193.7L1288.6 1194.4L1289.4 1210.2L1290.1 1208.5L1291 1194.9L1291.6 1196.7L1292.6 1212.7L1293.2 1212.6L1294.2 1198.5L1294.8 1199.5L1295.5 1215L1296.1 1215.3L1297.1 1200.5L1297.7 1201.4L1299 1218.9L1299.6 1218.4L1300.5 1203.3L1301.1 1204.1L1301.9 1221.1L1302.5 1220.7L1303.4 1205.5L1304 1206.2L1304.9 1223.5L1305.5 1222L1306.4 1204.6L1307.1 1205L1307.9 1222.6L1308.5 1222L1309.5 1203.7L1310.1 1204.5L1311.1 1222.4L1311.7 1221.8L1312.6 1206.4L1313.2 1206.8L1314.3 1224.3L1315 1224L1315.9 1206.9L1316.5 1209.2L1317.3 1228.8L1317.9 1228.3L1318.8 1211.4L1319.4 1213.8L1320.6 1233L1321.2 1233.4L1322.1 1214L1322.7 1215.6L1323.6 1235.6L1324.2 1231.3L1325.1 1213.2L1325.8 1213L1326.8 1230L1327.4 1228.9L1328.4 1212.7L1329 1212.6L1329.8 1226.6L1330.4 1225.8L1331.4 1211.1L1332 1211.8L1332.8 1224.4L1333.4 1223.5L1334.3 1209.8L1335 1210.9L1335.6 1224.7L1336.2 1223.5L1337.2 1211.8L1337.8 1212.6L1339 1228.3L1339.7 1228.3L1340.6 1213.4L1341.2 1215.1L1342.2 1229.6L1342.8 1229L1343.8 1214L1344.4 1213.5L1345.2 1227.9L1345.8 1226.5L1346.8 1211.3L1347.4 1211.3L1348.4 1223.2L1349 1221L1349.9 1208.8L1350.6 1209.7L1351.3 1227.7L1351.9 1228.5L1352.9 1213.6L1353.5 1214L1354.4 1228.8L1355.1 1227.6L1356 1210L1356.6 1209.8L1357.5 1225.1L1358.1 1224L1359 1208.6L1359.6 1209.8L1360.9 1224.8L1361.5 1225"/>
</g>
<line x1="231.9" x2="231.9" y1="717.45" y2="42.7" stroke="#0d0d0d" stroke-width="2.05" stroke-dasharray="6.9 3.015" fill="none"/>
<line x1="517.2" x2="517.2" y1="717.45" y2="42.7" stroke="#0d0d0d" stroke-width="2.05" stroke-dasharray="6.9 3.015" fill="none"/>
<line x1="763.0" x2="763.0" y1="717.45" y2="42.7" stroke="#0d0d0d" stroke-width="2.05" stroke-dasharray="6.9 3.015" fill="none"/>
<line x1="1048.8" x2="1048.8" y1="717.45" y2="42.7" stroke="#0d0d0d" stroke-width="2.05" stroke-dasharray="6.9 3.015" fill="none"/>
<line x1="1238.4" x2="1238.4" y1="717.45" y2="42.7" stroke="#0d0d0d" stroke-width="2.05" stroke-dasharray="6.9 3.015" fill="none"/>
<line x1="1352.2" x2="1352.2" y1="717.45" y2="42.7" stroke="#0d0d0d" stroke-width="2.05" stroke-dasharray="6.9 3.015" fill="none"/>
<line x1="291.2" x2="291.2" y1="1689.8" y2="1006.0" stroke="#0d0d0d" stroke-width="2.05" stroke-dasharray="6.9 3.015" fill="none"/>
<line x1="340.4" x2="340.4" y1="1689.8" y2="1006.0" stroke="#0d0d0d" stroke-width="2.05" stroke-dasharray="6.9 3.015" fill="none"/>
<line x1="501.5" x2="501.5" y1="1689.8" y2="1006.0" stroke="#0d0d0d" stroke-width="2.05" stroke-dasharray="6.9 3.015" fill="none"/>
<line x1="557.0" x2="557.0" y1="1689.8" y2="1006.0" stroke="#0d0d0d" stroke-width="2.05" stroke-dasharray="6.9 3.015" fill="none"/>
<line x1="734.6" x2="734.6" y1="1689.8" y2="1006.0" stroke="#0d0d0d" stroke-width="2.05" stroke-dasharray="6.9 3.015" fill="none"/>
<line x1="775.5" x2="775.5" y1="1689.8" y2="1006.0" stroke="#0d0d0d" stroke-width="2.05" stroke-dasharray="6.9 3.015" fill="none"/>
<line x1="949.6" x2="949.6" y1="1689.8" y2="1006.0" stroke="#0d0d0d" stroke-width="2.05" stroke-dasharray="6.9 3.015" fill="none"/>
<line x1="1000.4" x2="1000.4" y1="1689.8" y2="1006.0" stroke="#0d0d0d" stroke-width="2.05" stroke-dasharray="6.9 3.015" fill="none"/>
<rect x="76.2" y="42.7" width="1338.2" height="674.75" fill="none" stroke="#1c1c1c" stroke-width="1.3"/>
<rect x="69.8" y="1006.0" width="1354.6000000000001" height="683.8" fill="none" stroke="#1c1c1c" stroke-width="1.3"/>
<line x1="136.8" x2="136.8" y1="717.45" y2="722.25" stroke="#1c1c1c" stroke-width="1.2"/>
<text x="136.8" y="741.6" font-family="'Liberation Sans', Arial, Helvetica, sans-serif" font-size="18.2" font-weight="bold" text-anchor="middle" fill="#111" >0</text>
<line x1="295.5" x2="295.5" y1="717.45" y2="722.25" stroke="#1c1c1c" stroke-width="1.2"/>
<text x="295.5" y="743.9" font-family="'Liberation Sans', Arial, Helvetica, sans-serif" font-size="18.2" font-weight="bold" text-anchor="middle" fill="#111" >100</text>
<line x1="454.1" x2="454.1" y1="717.45" y2="722.25" stroke="#1c1c1c" stroke-width="1.2"/>
<text x="454.1" y="743.9" font-family="'Liberation Sans', Arial, Helvetica, sans-serif" font-size="18.2" font-weight="bold" text-anchor="middle" fill="#111" >200</text>
<line x1="612.8" x2="612.8" y1="717.45" y2="722.25" stroke="#1c1c1c" stroke-width="1.2"/>
<text x="612.8" y="743.9" font-family="'Liberation Sans', Arial, Helvetica, sans-serif" font-size="18.2" font-weight="bold" text-anchor="middle" fill="#111" >300</text>
<line x1="771.4" x2="771.4" y1="717.45" y2="722.25" stroke="#1c1c1c" stroke-width="1.2"/>
<text x="771.4" y="743.9" font-family="'Liberation Sans', Arial, Helvetica, sans-serif" font-size="18.2" font-weight="bold" text-anchor="middle" fill="#111" >400</text>
<line x1="930.1" x2="930.1" y1="717.45" y2="722.25" stroke="#1c1c1c" stroke-width="1.2"/>
<text x="930.1" y="743.9" font-family="'Liberation Sans', Arial, Helvetica, sans-serif" font-size="18.2" font-weight="bold" text-anchor="middle" fill="#111" >500</text>
<line x1="1088.8" x2="1088.8" y1="717.45" y2="722.25" stroke="#1c1c1c" stroke-width="1.2"/>
<text x="1088.8" y="743.9" font-family="'Liberation Sans', Arial, Helvetica, sans-serif" font-size="18.2" font-weight="bold" text-anchor="middle" fill="#111" >600</text>
<line x1="1247.4" x2="1247.4" y1="717.45" y2="722.25" stroke="#1c1c1c" stroke-width="1.2"/>
<text x="1247.4" y="743.9" font-family="'Liberation Sans', Arial, Helvetica, sans-serif" font-size="18.2" font-weight="bold" text-anchor="middle" fill="#111" >700</text>
<line x1="1406.1" x2="1406.1" y1="717.45" y2="722.25" stroke="#1c1c1c" stroke-width="1.2"/>
<text x="1406.1" y="743.9" font-family="'Liberation Sans', Arial, Helvetica, sans-serif" font-size="18.2" font-weight="bold" text-anchor="middle" fill="#111" >800</text>
<line x1="71.4" x2="76.2" y1="185.2" y2="185.2" stroke="#1c1c1c" stroke-width="1.2"/>
<text x="60.8" y="191.9" font-family="'Liberation Sans', Arial, Helvetica, sans-serif" font-size="18.2" font-weight="bold" text-anchor="end" fill="#111" >1.9</text>
<line x1="71.4" x2="76.2" y1="333.5" y2="333.5" stroke="#1c1c1c" stroke-width="1.2"/>
<text x="60.8" y="340.2" font-family="'Liberation Sans', Arial, Helvetica, sans-serif" font-size="18.2" font-weight="bold" text-anchor="end" fill="#111" >1.8</text>
<line x1="71.4" x2="76.2" y1="481.8" y2="481.8" stroke="#1c1c1c" stroke-width="1.2"/>
<text x="60.8" y="488.5" font-family="'Liberation Sans', Arial, Helvetica, sans-serif" font-size="18.2" font-weight="bold" text-anchor="end" fill="#111" >1.7</text>
<line x1="71.4" x2="76.2" y1="630.2" y2="630.2" stroke="#1c1c1c" stroke-width="1.2"/>
<text x="60.8" y="636.9" font-family="'Liberation Sans', Arial, Helvetica, sans-serif" font-size="18.2" font-weight="bold" text-anchor="end" fill="#111" >1.6</text>
<line x1="1414.4" x2="1419.2" y1="104.6" y2="104.6" stroke="#1c1c1c" stroke-width="1.2"/>
<text x="1429.0" y="109.9" font-family="'Liberation Sans', Arial, Helvetica, sans-serif" font-size="18.2" font-weight="bold" text-anchor="start" fill="#111" >2.35</text>
<line x1="1414.4" x2="1419.2" y1="221.8" y2="221.8" stroke="#1c1c1c" stroke-width="1.2"/>
<text x="1429.0" y="227.1" font-family="'Liberation Sans', Arial, Helvetica, sans-serif" font-size="18.2" font-weight="bold" text-anchor="start" fill="#111" >2.30</text>
<line x1="1414.4" x2="1419.2" y1="339.0" y2="339.0" stroke="#1c1c1c" stroke-width="1.2"/>
<text x="1429.0" y="344.3" font-family="'Liberation Sans', Arial, Helvetica, sans-serif" font-size="18.2" font-weight="bold" text-anchor="start" fill="#111" >2.25</text>
<line x1="1414.4" x2="1419.2" y1="456.1" y2="456.1" stroke="#1c1c1c" stroke-width="1.2"/>
<text x="1429.0" y="461.4" font-family="'Liberation Sans', Arial, Helvetica, sans-serif" font-size="18.2" font-weight="bold" text-anchor="start" fill="#111" >2.20</text>
<line x1="1414.4" x2="1419.2" y1="573.3" y2="573.3" stroke="#1c1c1c" stroke-width="1.2"/>
<text x="1429.0" y="578.6" font-family="'Liberation Sans', Arial, Helvetica, sans-serif" font-size="18.2" font-weight="bold" text-anchor="start" fill="#111" >2.15</text>
<line x1="1414.4" x2="1419.2" y1="690.5" y2="690.5" stroke="#1c1c1c" stroke-width="1.2"/>
<text x="1429.0" y="695.8" font-family="'Liberation Sans', Arial, Helvetica, sans-serif" font-size="18.2" font-weight="bold" text-anchor="start" fill="#111" >2.10</text>
<line x1="131.2" x2="131.2" y1="1689.8" y2="1694.6" stroke="#1c1c1c" stroke-width="1.2"/>
<text x="131.2" y="1718.9" font-family="'Liberation Sans', Arial, Helvetica, sans-serif" font-size="18.2" font-weight="bold" text-anchor="middle" fill="#111" >0</text>
<line x1="428.0" x2="428.0" y1="1689.8" y2="1694.6" stroke="#1c1c1c" stroke-width="1.2"/>
<text x="428.0" y="1718.9" font-family="'Liberation Sans', Arial, Helvetica, sans-serif" font-size="18.2" font-weight="bold" text-anchor="middle" fill="#111" >100</text>
<line x1="724.8" x2="724.8" y1="1689.8" y2="1694.6" stroke="#1c1c1c" stroke-width="1.2"/>
<text x="724.8" y="1718.9" font-family="'Liberation Sans', Arial, Helvetica, sans-serif" font-size="18.2" font-weight="bold" text-anchor="middle" fill="#111" >200</text>
<line x1="1021.6" x2="1021.6" y1="1689.8" y2="1694.6" stroke="#1c1c1c" stroke-width="1.2"/>
<text x="1021.6" y="1718.9" font-family="'Liberation Sans', Arial, Helvetica, sans-serif" font-size="18.2" font-weight="bold" text-anchor="middle" fill="#111" >300</text>
<line x1="1318.4" x2="1318.4" y1="1689.8" y2="1694.6" stroke="#1c1c1c" stroke-width="1.2"/>
<text x="1318.4" y="1718.9" font-family="'Liberation Sans', Arial, Helvetica, sans-serif" font-size="18.2" font-weight="bold" text-anchor="middle" fill="#111" >400</text>
<line x1="65.0" x2="69.8" y1="1102.9" y2="1102.9" stroke="#1c1c1c" stroke-width="1.2"/>
<text x="58.6" y="1109.4" font-family="'Liberation Sans', Arial, Helvetica, sans-serif" font-size="18.2" font-weight="bold" text-anchor="end" fill="#111" >1.7</text>
<line x1="65.0" x2="69.8" y1="1247.5" y2="1247.5" stroke="#1c1c1c" stroke-width="1.2"/>
<text x="58.6" y="1254.0" font-family="'Liberation Sans', Arial, Helvetica, sans-serif" font-size="18.2" font-weight="bold" text-anchor="end" fill="#111" >1.6</text>
<line x1="65.0" x2="69.8" y1="1392.1" y2="1392.1" stroke="#1c1c1c" stroke-width="1.2"/>
<text x="58.6" y="1398.6" font-family="'Liberation Sans', Arial, Helvetica, sans-serif" font-size="18.2" font-weight="bold" text-anchor="end" fill="#111" >1.5</text>
<line x1="65.0" x2="69.8" y1="1536.7" y2="1536.7" stroke="#1c1c1c" stroke-width="1.2"/>
<text x="58.6" y="1543.2" font-family="'Liberation Sans', Arial, Helvetica, sans-serif" font-size="18.2" font-weight="bold" text-anchor="end" fill="#111" >1.4</text>
<line x1="65.0" x2="69.8" y1="1681.3" y2="1681.3" stroke="#1c1c1c" stroke-width="1.2"/>
<text x="58.6" y="1687.8" font-family="'Liberation Sans', Arial, Helvetica, sans-serif" font-size="18.2" font-weight="bold" text-anchor="end" fill="#111" >1.3</text>
<line x1="1424.4" x2="1429.2" y1="1070.7" y2="1070.7" stroke="#1c1c1c" stroke-width="1.2"/>
<text x="1432.7" y="1077.7" font-family="'Liberation Sans', Arial, Helvetica, sans-serif" font-size="18.2" font-weight="bold" text-anchor="start" fill="#111" >2.1</text>
<line x1="1424.4" x2="1429.2" y1="1186.4" y2="1186.4" stroke="#1c1c1c" stroke-width="1.2"/>
<text x="1432.7" y="1193.4" font-family="'Liberation Sans', Arial, Helvetica, sans-serif" font-size="18.2" font-weight="bold" text-anchor="start" fill="#111" >2.0</text>
<line x1="1424.4" x2="1429.2" y1="1302.1" y2="1302.1" stroke="#1c1c1c" stroke-width="1.2"/>
<text x="1432.7" y="1309.1" font-family="'Liberation Sans', Arial, Helvetica, sans-serif" font-size="18.2" font-weight="bold" text-anchor="start" fill="#111" >1.9</text>
<line x1="1424.4" x2="1429.2" y1="1417.8" y2="1417.8" stroke="#1c1c1c" stroke-width="1.2"/>
<text x="1432.7" y="1424.8" font-family="'Liberation Sans', Arial, Helvetica, sans-serif" font-size="18.2" font-weight="bold" text-anchor="start" fill="#111" >1.8</text>
<line x1="1424.4" x2="1429.2" y1="1533.5" y2="1533.5" stroke="#1c1c1c" stroke-width="1.2"/>
<text x="1432.7" y="1540.5" font-family="'Liberation Sans', Arial, Helvetica, sans-serif" font-size="18.2" font-weight="bold" text-anchor="start" fill="#111" >1.7</text>
<line x1="1424.4" x2="1429.2" y1="1649.2" y2="1649.2" stroke="#1c1c1c" stroke-width="1.2"/>
<text x="1432.7" y="1656.2" font-family="'Liberation Sans', Arial, Helvetica, sans-serif" font-size="18.2" font-weight="bold" text-anchor="start" fill="#111" >1.6</text>
<text x="363" y="31.2" font-family="'Liberation Sans', Arial, Helvetica, sans-serif" font-size="22.4" font-weight="bold" text-anchor="middle" fill="#111" >Supine</text>
<text x="643" y="31.2" font-family="'Liberation Sans', Arial, Helvetica, sans-serif" font-size="22.4" font-weight="bold" text-anchor="middle" fill="#111" >Transition</text>
<text x="911.7" y="31.2" font-family="'Liberation Sans', Arial, Helvetica, sans-serif" font-size="22.4" font-weight="bold" text-anchor="middle" fill="#111" >Trendelenburg -30°</text>
<text x="1154.8" y="31.2" font-family="'Liberation Sans', Arial, Helvetica, sans-serif" font-size="22.4" font-weight="bold" text-anchor="middle" fill="#111" >Transition</text>
<text x="1289" y="31.2" font-family="'Liberation Sans', Arial, Helvetica, sans-serif" font-size="22.4" font-weight="bold" text-anchor="middle" fill="#111" >Supine</text>
<text x="724" y="773.2" font-family="'Liberation Sans', Arial, Helvetica, sans-serif" font-size="22.4" font-weight="bold" text-anchor="middle" fill="#111" >Time (Seconds)</text>
<text x="725.2" y="1746.2" font-family="'Liberation Sans', Arial, Helvetica, sans-serif" font-size="22.6" font-weight="bold" text-anchor="middle" fill="#111" >Time (Seconds)</text>
<text x="0" y="0" font-family="'Liberation Sans', Arial, Helvetica, sans-serif" font-size="22.7" font-weight="bold" text-anchor="middle" fill="#1f77b4" transform="translate(25.8 374.5) rotate(-90)">Optical Signal Distal</text>
<text x="0" y="0" font-family="'Liberation Sans', Arial, Helvetica, sans-serif" font-size="22.7" font-weight="bold" text-anchor="middle" fill="#ff7f0e" transform="translate(1491.8 375.8) rotate(-90)">Optical Signal Proximal</text>
<text x="0" y="0" font-family="'Liberation Sans', Arial, Helvetica, sans-serif" font-size="23.0" font-weight="bold" text-anchor="middle" fill="#1f77b4" transform="translate(20 1343) rotate(-90)">Optical Signal Distal</text>
<text x="0" y="0" font-family="'Liberation Sans', Arial, Helvetica, sans-serif" font-size="23.0" font-weight="bold" text-anchor="middle" fill="#ff7f0e" transform="translate(1490.6 1343) rotate(-90)">Optical Signal Proximal</text>
<text x="0" y="0" font-family="'Liberation Sans', Arial, Helvetica, sans-serif" font-size="23.4" font-weight="bold" text-anchor="start" fill="#111" transform="translate(315.5 1000.3) rotate(-45)">Baseline</text>
<text x="0" y="0" font-family="'Liberation Sans', Arial, Helvetica, sans-serif" font-size="23.4" font-weight="bold" text-anchor="start" fill="#111" transform="translate(524.3 998.2) rotate(-45)">Valsalva</text>
<text x="0" y="0" font-family="'Liberation Sans', Arial, Helvetica, sans-serif" font-size="23.4" font-weight="bold" text-anchor="start" fill="#111" transform="translate(752.8 998.2) rotate(-45)">Valsalva</text>
<text x="0" y="0" font-family="'Liberation Sans', Arial, Helvetica, sans-serif" font-size="23.4" font-weight="bold" text-anchor="start" fill="#111" transform="translate(970.3 998.2) rotate(-45)">Valsalva</text>
<text x="10.0" y="37.6" font-family="'Liberation Sans', Arial, Helvetica, sans-serif" font-size="49.5" font-weight="bold" text-anchor="start" fill="#000" >A</text>
<text x="10.6" y="944.5" font-family="'Liberation Sans', Arial, Helvetica, sans-serif" font-size="49.5" font-weight="bold" text-anchor="start" fill="#000" >B</text>
<text x="790" y="842" font-family="'Liberation Serif', 'Times New Roman', Times, serif" font-size="39.4" font-weight="normal" text-anchor="middle" fill="#111" >Tilting</text>
<text x="792.3" y="1814.6" font-family="'Liberation Serif', 'Times New Roman', Times, serif" font-size="39.2" font-weight="normal" text-anchor="middle" fill="#111" >Valsalva</text>
</svg>
</body></html>
